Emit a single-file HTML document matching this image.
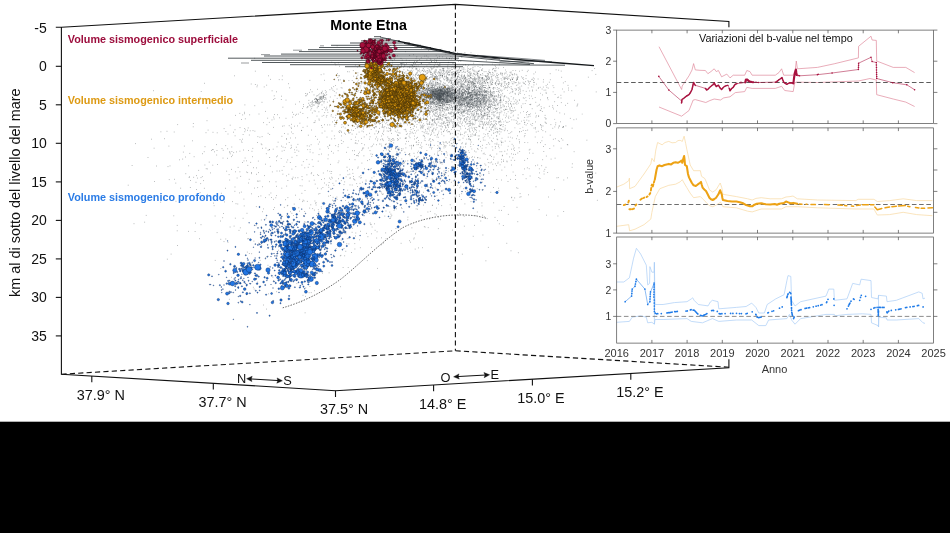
<!DOCTYPE html>
<html lang="it"><head><meta charset="utf-8"><title>Monte Etna - volumi sismogenici e b-value</title>
<style>html,body{margin:0;padding:0;background:#fff}body{width:950px;height:533px;overflow:hidden}svg{display:block}</style>
</head><body>
<svg width="950" height="533" viewBox="0 0 950 533">
<rect width="950" height="533" fill="#fff"/>
<path d="M441.4 90.9h0M443.5 97.3h0M439.3 85.7h0M432.5 99.9h0M437.1 92.5h0M432.4 90.7h0M441.4 96.6h0M452.6 100.7h0M436.5 96.1h0M435 99.2h0M445.3 96h0M443.7 100.8h0M441.5 100.7h0M432.7 93.8h0M440.2 101.4h0M447.2 96.3h0M428.9 94.3h0M437.3 90.5h0M424.1 92.2h0M429.1 97.5h0M425 87.7h0M438.6 97.7h0M429.5 95.6h0M443.3 96.5h0M443.3 85.2h0M439.4 94.4h0M418.2 95.9h0M436.5 91.2h0M440.5 95.4h0M442.9 84.4h0M427 96.8h0M437 91.7h0M431.9 98.1h0M434.5 86.1h0M450.2 98.9h0M433.9 93.3h0M440.4 98.6h0M449.3 91.5h0M436 91.8h0M439.1 105h0M442.3 91.4h0M441.8 91.9h0M430.1 92.8h0M442.1 90.5h0M452.7 101.4h0M426.5 101.5h0M449 92.5h0M442.7 87.4h0M434.8 99.8h0M458.5 101.5h0M447.5 99.3h0M429.8 99.2h0M442 91.2h0M446.2 94.7h0M439.9 88.6h0M447.7 89.2h0M440 99.3h0M447.2 92.5h0M453 106.3h0M434.9 94.8h0M443.1 92.3h0M436.5 98.2h0M441.4 103.2h0M430.2 96.2h0M436.3 89.1h0M439.1 96.5h0M448.5 101.9h0M451.5 93.7h0M429.4 90.5h0M433.5 98.9h0M446.7 96.1h0M423.6 88.5h0M437 92.9h0M440.4 91.5h0M452.2 97.3h0M447.1 96h0M437.6 99.9h0M437.4 97.9h0M439.4 87.8h0M454.5 98h0M436.8 98.7h0M438.1 96.8h0M443.8 99.9h0M440.1 92.4h0M439.6 90.6h0M430.6 98.3h0M441.3 90.2h0M437.9 85h0M451.1 100.5h0M447.1 92.3h0M440.9 93.6h0M447.5 89.3h0M438.5 88.8h0M450.9 90.6h0M441.1 93.4h0M446.1 97.1h0M430.3 83.7h0M443.8 98.6h0M426.3 88.4h0M423.2 88.6h0M438 97.8h0M433 94h0M443.1 88.2h0M460.4 105h0M433.9 90.5h0M435.3 95.6h0M442.8 96.1h0M444.9 101.7h0M439.6 92.8h0M438.8 99.4h0M447.6 92.2h0M445.2 100.4h0M432 90.8h0M440.4 93.3h0M440.6 103.5h0M431.4 95.6h0M443.3 95.7h0M432.4 104.4h0M449.6 97.4h0M443 91.5h0M441.5 98.4h0M436.2 89.2h0M439.5 100h0M422.6 98.8h0M431.1 91.5h0M444.5 92.5h0M421.8 94.1h0M448.6 95.7h0M425.7 89.2h0M447.6 98.1h0M434.2 85.2h0M448.2 93.7h0M442.3 93.3h0M427.3 92.6h0M452.1 97.4h0M454.4 90.6h0M440.2 97.6h0M438.6 94h0M439.8 92h0M432.8 88.1h0M451.3 90.6h0M436 96.2h0M440.9 90.6h0M433.9 94.7h0M435 99.3h0M429.1 98.6h0M451.7 103h0M439.7 93.6h0M450.1 90.9h0M440.7 99.6h0M434.7 95.8h0M437.6 99.8h0M436 94.6h0M440.6 100.4h0M437.3 98.5h0M438 98h0M428.4 96.2h0M433.6 96.1h0M455.7 97.3h0M434.9 95.5h0M431.2 98.6h0M444.2 93h0M452.9 103.9h0M428 93.4h0M438.7 99.3h0M435.4 94.1h0M425.3 92.5h0M446.8 104.7h0M440.9 93.6h0M442.1 89.3h0M434.5 91.2h0M445.2 93.9h0M435.3 104.2h0M439.6 95.8h0M430.7 98.3h0M430.5 89.6h0M452.8 97.6h0M436.2 97.6h0M442.9 103.3h0M441 91.9h0M436.8 97.4h0M436.3 96h0M447 90.9h0M438.3 94.7h0M439.7 93.7h0M442.1 84.6h0M451.3 98.6h0M446.9 98h0M444.6 93.3h0M436.5 88.6h0M428 100.6h0M449.4 96.9h0M449.3 100.3h0M439.2 101.2h0M446.1 93.1h0M447.7 99.3h0M448.5 94.6h0M449.3 95.4h0M436.9 94.3h0M454.6 96.2h0M429.4 99h0M448.7 96.2h0M445.5 94.7h0M448.9 94.4h0M457.7 98h0M454.7 92.2h0M430.9 91.8h0M425.9 93.4h0M448.5 93.1h0M431.9 93.7h0M441.1 92.3h0M447.7 104.6h0M425.7 99.7h0M421.9 95.4h0M443.3 95h0M440.5 104.9h0M438.7 96.3h0M441.4 94.6h0M433.2 95.7h0M427.3 95.2h0M439 101.2h0M432.3 94.2h0M425.4 103.1h0M445.9 91.4h0M440.2 98.1h0M445 90.8h0M431.4 102.4h0M435.2 93h0M432.1 94h0M432.7 98.4h0M442.3 100.8h0M434.4 89.4h0M444.3 93.7h0M444.6 89h0M459.1 97.2h0M428.6 93.5h0M449.1 94.1h0M440.5 91.9h0M441 93.3h0M428.3 90.5h0M436.7 97h0M447.1 102.4h0M441 86.3h0M441.8 94.5h0M438.6 92.9h0M451.2 98.1h0M441.2 90.7h0M421.3 92.6h0M435.2 89.8h0M423.1 96.6h0M411.8 92.9h0M436.3 93.9h0M452.8 97.7h0M441.5 93.9h0M431.1 87.1h0M432.3 96.9h0M451 97.2h0M442.5 94.4h0M441 99.5h0M440 100.4h0M441.8 90.1h0M448.5 92.1h0M445.3 102.4h0M442.4 101.5h0M431.9 90.9h0M446 90.1h0M435.1 91.6h0M451 93.6h0M430.2 86.9h0M439.8 95h0M441.4 89.3h0M429.6 88.5h0M456.1 100.5h0M454.4 93.1h0M436.9 94.3h0M447.7 98.4h0M444.1 98.9h0M417.7 91.4h0M443.2 95.4h0M440.8 91.3h0M441.1 102.9h0M431.1 97.1h0M439 89.8h0M439.4 94.9h0M451.4 99.1h0M443.8 97.4h0M440.2 103.2h0M454.2 102.4h0M436.2 92.1h0M437.5 94.3h0M425.2 87.8h0M455 97.3h0M449.6 96.4h0M448.2 107.8h0M447 96h0M442.8 85.7h0M443.2 92.2h0M438.7 95.3h0M439.7 89.2h0M441.8 91.2h0M454.7 94.5h0M445.8 97h0M440.5 94.2h0M436.2 90.6h0M435 98h0M455.6 93.8h0M445.7 93.2h0M442.1 88.9h0M438.2 91.2h0M430.8 97.1h0M441 87.7h0M448.9 95.4h0M437.2 97.9h0M439.1 93.1h0M438.9 95.9h0M442.4 90.1h0M426.2 99.6h0M438.5 99.8h0M433.2 95.4h0M449.6 87.8h0M434.5 89.7h0M445.8 99.8h0M454 103.9h0M438.1 96.1h0M435.1 100.1h0M443 92.4h0M441.1 94.1h0M432.1 94.2h0M445 97.3h0M459.7 89.7h0M438.3 99h0M438.7 100.8h0M432.1 89h0M444.4 89.2h0M429.7 95.6h0M431.3 91.2h0M453.4 85.4h0M432.6 97.9h0M450.6 96.5h0M454.9 94.1h0M442.5 104.7h0M445.9 96.1h0M458.8 93.2h0M439.2 95.3h0M436.1 89.9h0M429.2 90.5h0M441.2 96.8h0M454.5 93.7h0M449.8 93.7h0M431.9 101.7h0M433 98.2h0M436.2 98.2h0M443.4 97.6h0M439 97h0M442.4 101.7h0M443.7 95.1h0M437.6 103.1h0M441 90.7h0M443 94h0M440.8 88.8h0M445.6 93.9h0M457.6 98.8h0M445.7 102h0M441.8 92.1h0M425.9 93.7h0M444.6 93.7h0M423.8 90.2h0M428.8 88.6h0M448.6 95.9h0M448 87.8h0M439.6 95.4h0M425.7 93.8h0M437.9 91.8h0M435.3 89.9h0M447.3 89.3h0M460.5 105.2h0M443.5 89.2h0M433.4 101.4h0M430.3 96.8h0M440.6 93.3h0M439.9 89.7h0M430.3 98.8h0M441.4 102.8h0M431 89.9h0M451.1 94.5h0M450.1 100.5h0M450.6 97.4h0M436 103.6h0M445.8 92.8h0M439.6 97.3h0M438 89.1h0M437.1 104.1h0M429.6 90.7h0M428.9 84h0M448.2 95.1h0M439.3 94.2h0M442.2 103.8h0M450.1 94.3h0M425.5 93.6h0M433.7 97h0M441.9 102.2h0M444.5 95h0M437.2 99.4h0M450 98.1h0M443 93.8h0M430.1 94.4h0M432.6 94.4h0M448.6 91.5h0M444.7 100.8h0M424.5 87.3h0M452.6 101.3h0M446 99.7h0M453.1 95.6h0M437.9 91.3h0M438.4 93.8h0M430.7 96.2h0M463.5 100.3h0M439.3 96.1h0M454.8 100.7h0M435.4 92h0M442.4 96.2h0M426.6 86.7h0M437.3 98.1h0M449.8 96.5h0M429.9 92.2h0M450.2 101h0M443.8 98.4h0M432.7 81.6h0M436.5 94.8h0M437.5 88.1h0M440.1 99.7h0M435.2 105.7h0M433.8 92h0M438.2 95.1h0M431.9 93.1h0M429.3 95.6h0M440.3 97.9h0M448.4 101.5h0M427.7 89.4h0M440.4 102h0M435.5 90.3h0M432.1 95.5h0M448.2 100.9h0M436.1 97.8h0M454.8 92h0M434.3 91.2h0M444.6 93.2h0M439 94.6h0M433.8 99.6h0M446.8 89.7h0M439.4 97h0M446.2 98.2h0M440.4 97.5h0M431.1 96.2h0M439.5 101.7h0M441.3 97.2h0M449.3 99.6h0M432.7 96.8h0M439.9 103h0M426.3 85.1h0M446.3 101.3h0M431.4 93h0M424.9 92.3h0M440.8 90.6h0M451.6 87.5h0M427.5 92.1h0M431.5 91.1h0M434.1 96.6h0M431.5 87.5h0M443.8 101.7h0M433.7 95.6h0M434.6 93.3h0M446.5 92.3h0M434.5 90.9h0M445.3 90.3h0M432.5 91.8h0M430.1 94.1h0M424.6 92.8h0M458.2 90.1h0M438.2 93.6h0M443.5 91.2h0M440.7 95.7h0M441.7 103.5h0M441.2 97.8h0M458.2 95.1h0M432.3 86.9h0M427.6 87.4h0M432.6 86.6h0M428.7 97.2h0M448 92.2h0M448.3 95.9h0M432.6 91.5h0M428.5 94.3h0M437.3 101h0M453.7 93h0M415.9 91.3h0M446 91.8h0M431 98.1h0M450.7 91.2h0M431.8 89.1h0M439 88.6h0M428 87.5h0M432.1 96.3h0M452.4 107.6h0M448.7 91.2h0M437 99h0M433.1 95.4h0M424.5 88.6h0M437.6 93.5h0M440.8 93.9h0M440.5 91.8h0M439.4 103.6h0M431.7 85.6h0M440.3 96.7h0M440.5 96.5h0M452.8 93.4h0M457.7 97.1h0M439.4 98.8h0M434.1 95.1h0M440.3 96.8h0M435.3 97.6h0M435.1 85.3h0M439.9 101.6h0M430.8 104.4h0M446 99.9h0M439.7 99.5h0M443.8 88.9h0M439.4 94.3h0M434.8 90.8h0M432.7 91.6h0M438.5 99.1h0M436.4 91h0M443.1 94.6h0M441.7 86.4h0M428.8 93.2h0M441.6 95.5h0M429.2 90.8h0M435.8 91.3h0M437.6 103.2h0M422.9 87.9h0M442.2 90.4h0M442.7 91.5h0M439.1 100.3h0M436.4 104.1h0M437.5 96.2h0M432.5 91h0M438.7 92.9h0M435.6 99.3h0M442.2 91h0M429.6 100.6h0M442.6 101.5h0M442.3 95.4h0M439.5 97.8h0M436.8 98h0M445.3 102.4h0M426.5 89h0M444.7 100.7h0M443.3 93.5h0M443.8 91.8h0M444.4 95.8h0M435.2 93.5h0M439.1 90.4h0M447.3 88.3h0M445.2 91.1h0M442.3 101.7h0M426.7 102.6h0M445.6 98.3h0M451 101.2h0M450.3 93.5h0M443.1 94.8h0M426.9 95h0M449.9 90.9h0M440.1 90.4h0M418.3 93.4h0M444.5 93.9h0M428 89.1h0M429.2 95.7h0M435.4 93.3h0M452 100.6h0M437.7 94.7h0M443.5 93.9h0M456.6 96.9h0M455.4 95.5h0M440.3 91.9h0M439 93h0M429.4 97.4h0M434.5 97.4h0M444.3 101.1h0M445.2 87.7h0M442.1 93.3h0M450.1 93.9h0M434 95.2h0M440.7 92.9h0M447.8 93.3h0M445.9 99h0M450.5 96.6h0M445 90.1h0M437.7 100.7h0M443.9 99.8h0M432.2 91.6h0M426 97.4h0M446.5 92.2h0M440.1 100h0M443.9 94.3h0M426.1 90.1h0M437.9 93h0M435.9 91.1h0M433.2 95.2h0M420.7 94h0M438 94.9h0M449.3 93.2h0M445.9 78.9h0M435.6 94.9h0M441.6 86.5h0M447.7 96.7h0M415.8 97.9h0M439.8 96.1h0M446 93.7h0M447.2 94.7h0M456.3 95.7h0M451.4 93.4h0M444 92.6h0M444.1 91.1h0M447.6 100.9h0M436.2 94.5h0M440.3 99.3h0M449.2 94.6h0M458.5 96.9h0M439.6 94.1h0M440.4 97h0M442.5 98.9h0M452.9 97.1h0M441 92h0M454.5 92.7h0M431.7 101.7h0M439.4 93.6h0M439.3 93.5h0M447.5 102.2h0M449.9 100.7h0M427.3 96.2h0M433 92.5h0M443.1 105.8h0M434.9 96.2h0M427.1 96.3h0M450.4 95h0M446 89h0M445.9 89.4h0M436.6 96.5h0M450.1 97.6h0M438.9 93.7h0M451.3 90.6h0M433.4 87.8h0M433.5 92.9h0M443.4 88.6h0M434.4 98.5h0M446.6 100.7h0M442.2 107.9h0M432.4 98.2h0M441.9 92.4h0M438.2 90.8h0M450.6 80.2h0M435.6 91.8h0M437.1 93.9h0M451.5 100.3h0M460.8 99.5h0M458.7 99.2h0M441.5 96h0M442.7 98.1h0M454.2 102.7h0M440.3 90.1h0M432.4 92.2h0M442.6 88.9h0M444.4 102.6h0M433.1 100.2h0M425.9 97.1h0M428.6 88.5h0M446.9 96.3h0M434.3 93.4h0M439.7 95.3h0M443 94.3h0M446.3 97.8h0M438.2 93h0M445.1 99.2h0M432.9 95.4h0M437.9 93.4h0M431.9 93.7h0M451.3 93.9h0M440.4 98.6h0M434.5 93.2h0M437.7 96h0M439.2 93.1h0M447.9 88.9h0M426.3 97.8h0M432.1 89.4h0M437.3 97.7h0M463.5 98.9h0M450.2 88.3h0M440.4 90.7h0M447.6 93.3h0M459.8 92.9h0M439.4 89.5h0M437.4 98h0M452 94.9h0M445.3 97.1h0M447.2 93.6h0M436.3 96h0M458.5 93.1h0M456.3 96.2h0M445.8 98.1h0M447.1 95.7h0M423 91.4h0M447.1 90.6h0M439.2 95.6h0M444.8 96.9h0M447.2 94.4h0M438.2 91.3h0M425.6 96.1h0M443.3 106.4h0M434.5 93.1h0M437.9 96.3h0M435.4 96.2h0M438.9 83.2h0M420.2 93.7h0M452.2 92.8h0M442.7 101.4h0M451.1 94.7h0M459.1 93.1h0M441.3 94h0M424.8 94.3h0M433.2 91.8h0M430.2 93.8h0M437 88.5h0M441.8 94.1h0M422.7 96.9h0M443.3 104.1h0M427.2 97h0M443.6 96.5h0M439.6 100.2h0M437.8 99.3h0M439.7 102.4h0M435.7 99.4h0M435.6 94h0M425.8 94.8h0M440.7 95.8h0M457.4 97.8h0M458.7 97.5h0M453.2 92.5h0M448.2 86.1h0M435.2 91.5h0M454.7 87h0M440.5 95.3h0M440.4 95h0M439 87.3h0M441.6 98.2h0M436.8 98.5h0M440.2 95.4h0M430.6 101.6h0M436.9 103.1h0M461.9 91.4h0M440 99.6h0M438.7 96.8h0M445.6 97.3h0M447 99.7h0M431.3 90.9h0M439.4 92.2h0M449.6 92h0M443.7 91.8h0M442.1 94.7h0M455.5 89.7h0M435.3 89.8h0M441.5 97.7h0M436.4 94.3h0M454.2 97.9h0M424.2 85h0M435.3 91h0M436.5 92.1h0M446.9 95.7h0M446.7 92.8h0M453.1 100.3h0M426.9 93.5h0M447.7 95.7h0M438.4 94.8h0M434.8 97.7h0M446 93.3h0M432.3 99.3h0M422.2 95.4h0M437.6 95.4h0M427.6 94h0M435 96.8h0M443.9 99.8h0M443.4 99.5h0M455.1 97.9h0M438.9 98.8h0M427.2 94.3h0M433.7 100h0M432.8 94.2h0M430.9 84.7h0M444.4 101.3h0M435.2 95h0M423.7 88.2h0M447.3 94.7h0M440.3 91h0M443.4 104.7h0M441.8 97.3h0M447.3 88.5h0M441.1 97.5h0M452.2 94.2h0M444.1 103.9h0M444.9 90.6h0M445.6 85.2h0M427.9 94.2h0M439.7 93.3h0M438.8 92.9h0M443.7 85.6h0M428.7 95.8h0M455 103.8h0M442.7 86.5h0M429.7 99.3h0M425.9 91.1h0M437.6 105.3h0M440 96.9h0M434.6 93.6h0M441.4 100h0M435 96.9h0M446.2 92.8h0M434.2 97.6h0M440.9 92.7h0M450.5 87.8h0M463.3 106.1h0M432.1 92.6h0M437.1 91.9h0M433.3 95.9h0M448.6 88.6h0M431.2 88h0M436.9 92.4h0M440.9 92.6h0M432.2 94.6h0M432 99.3h0M436.9 92.5h0M422 95.6h0M427.8 96.6h0M437.7 89.8h0M442.2 96.1h0M439.7 90.6h0M424.7 98.4h0M436.7 96.7h0M448.2 95.7h0M446.5 89.4h0M440.2 95.5h0M433.3 90.9h0M446.4 98.7h0M435.9 94h0M430.8 90.4h0M433.4 98.5h0M453.7 99.4h0M443.2 92.5h0M450.9 101.1h0M436.8 93.3h0M449.5 94.3h0M435.6 95.1h0M439.9 91.5h0M463.5 95h0M447.9 94.9h0M435.9 101.5h0M439.7 101.7h0M444 94.1h0M451.2 103.2h0M436.6 94.4h0M425.2 95.3h0M438.1 98.7h0M441 96.3h0M441 105.9h0M452.7 97.1h0M444.3 89.9h0M447.8 101.5h0M431.3 92.3h0M448.9 94.3h0M461 83.2h0M447.5 100.1h0M443 98.9h0M442.1 98.7h0M456.6 100.8h0M432 101.9h0M440 94.7h0M444.8 99.6h0M448 92.2h0M437.2 93.1h0M443.3 100h0M438.4 96.5h0M442.6 89.1h0M439.7 96.5h0M430.8 93.3h0M441.1 91.3h0M448.7 97.6h0M432.5 92.4h0M439.5 87.8h0M447.4 90.5h0M430.7 102.1h0M443.2 88.4h0M431.4 95.2h0M450.9 98.6h0M461.5 99.7h0M459.6 91.1h0M439.2 93.4h0M447.6 96.2h0M441.8 98.7h0M442.2 92.2h0M455.3 91h0M428.8 98.5h0M450 100.8h0M440.4 96.6h0M453.9 93.4h0M442.5 97h0M434.9 95h0M443.2 99h0M448.1 90h0M441.3 95.5h0M445.4 94.7h0M436.8 89.6h0M421.8 94.3h0M449.1 95.9h0M447.4 93.7h0M442.2 96.9h0M442.2 88.7h0M450.3 95.6h0M436.7 96.6h0M434.6 95.7h0M438.9 99.7h0M452.1 90.5h0M429.2 87.2h0M451.6 97h0M435.1 96.5h0M430.3 103.6h0M452.1 98.8h0M440.5 91h0M429 97.6h0M438.1 90.9h0M449.9 89.1h0M450.7 107.6h0M437 96.1h0M444.4 98.5h0M447.2 98.1h0M434.5 102.6h0M444.1 96.6h0M440.2 100.4h0M436.6 90h0M437.1 88.4h0M441 101.4h0M440.7 101.6h0M435.7 96.8h0M437.1 95.7h0M450.9 96.6h0M443.2 92.1h0M448.3 102.6h0M451.5 98.9h0M446.1 97.7h0M461.2 98.5h0M433.2 99.1h0M448 97.9h0M437.9 98.1h0M458.1 91.2h0M456 98.6h0M422.6 103.3h0M432.5 91.9h0M447 94.9h0M447.7 99.6h0M447.2 99.9h0M440.1 97.7h0M445.7 88.1h0M446.7 97.8h0M440.8 89.6h0M450.5 92.1h0M420.5 95.7h0M446.8 94.2h0M431.4 97.8h0M448.4 109.9h0M438.6 98.3h0M432.7 97.5h0M444.7 91.3h0M433.1 91.4h0M433.2 89.5h0M427.2 91.4h0M441.2 90.1h0M445.7 92.4h0M450.3 94.9h0M440.1 90.4h0M451 89.5h0M441.7 88.9h0M440 97h0M446.1 95.7h0M450.1 100.4h0M437.5 99.4h0M438.9 93.3h0M439.3 97.9h0M442.3 88.6h0M432 104.5h0M449.7 101.2h0M437.5 93.7h0M445.6 90.1h0M433.4 96.1h0M445 86.9h0M444.8 91.8h0M436.9 98h0M459.1 96.9h0M444.5 93.1h0M456.6 100.7h0M450 91.1h0M435 95.8h0M437.8 92.5h0M445.2 91.5h0M441.4 97.1h0M441.8 90.6h0M437.7 103.3h0M425 91h0M438.2 103.7h0M421.5 88.4h0M444.1 98h0M435 89.1h0M435.1 88.4h0M439 95.5h0M443.2 98.3h0M428.7 88.2h0M424.9 98.9h0M431.8 90.6h0M422.6 94h0M432.2 95.9h0M455 98.9h0M432.2 86.1h0M446.2 102.8h0M428.5 96.4h0M443.8 93.3h0M438.5 90.2h0M441.1 87.4h0M446.6 89.3h0M456.5 98.8h0M442.9 93.6h0M442.6 90h0M432.5 91.9h0M445.6 102.5h0M438.9 93.3h0M448.7 93h0M440.1 101h0M456.4 98.4h0M423.2 93.6h0M438.6 92h0M449.5 88.7h0M438.3 89.5h0M434.1 92.2h0M438.7 93.8h0M428.5 95.5h0M441.9 97.6h0M462.8 97.9h0M451.2 96.9h0M431.5 89.6h0M434 84.7h0M437.6 92.3h0M450.4 91.5h0M433.9 91.4h0M434.9 93.2h0M449.4 90.1h0M449.2 90.7h0M437.7 94.3h0M430.9 94.6h0M427.4 90.8h0M434.5 96.7h0M421.1 92.3h0M448.1 91h0M435.3 94.7h0M444.6 103.8h0M458 93.4h0M451.1 101.1h0M430.1 100.3h0M448.2 102.4h0M451.7 92.2h0M433.5 103.4h0M432.4 94.8h0M440.1 93.8h0M426.7 92.7h0M454 98.9h0M419.4 93.3h0M431.1 93.3h0M438.1 100.5h0M439.2 91.6h0M442.9 90.5h0M443.1 98.8h0M438.8 98h0M450.8 100.8h0M422.2 88.5h0M440.6 99.8h0M434.4 96.6h0M441.5 103h0M443.5 89.6h0M432.7 95.3h0M435.4 93.3h0M448.7 88.5h0M444.4 92.1h0M434.5 99.5h0M459.5 94.5h0M462 93.6h0M427.5 97.7h0M443.3 99.7h0M463.1 101.4h0M448.3 92.1h0M443 94.9h0M438.7 99.5h0M436.4 91.6h0M439.4 91.5h0M435.7 98.3h0M447.1 102.6h0M437.9 89.5h0M438.1 83h0M430.8 87.6h0M441 90.4h0M433 93.7h0M439.1 97.6h0M450.4 95.2h0M444.6 92.1h0M445.5 96.1h0M444.6 91h0M441.5 94.8h0M440.1 92h0M437.2 106.8h0M447.5 99.3h0M431.6 90.4h0M453.4 91.6h0M441.5 93.1h0M434.9 87h0M436.9 91.3h0M435.2 91.2h0M442.1 99.1h0M434.7 92.5h0M451.6 92.4h0M434.5 88.4h0M421.1 87.9h0M434.5 94.1h0M423.1 92.5h0M440.2 100.1h0M450.7 93h0M446.4 100.3h0M428.9 95.1h0M434.2 94.4h0M457.7 87.4h0M444.4 89.5h0M440.7 98.3h0M449.9 102.1h0M462.9 97.8h0M452.3 99.4h0M442.4 93.3h0M444.3 93.6h0M446.8 92.5h0M435.1 98.9h0M431.4 95.7h0M441.6 94h0M432.6 92.8h0M440.2 97.4h0M441.7 96.5h0M462.3 93.1h0M432.7 102h0M439.8 96.1h0M439.5 94.9h0M444.3 102h0M450 100.4h0M436.6 94.2h0M433.4 96.8h0M426.7 88.9h0M432.9 91.4h0M446.7 85.3h0M440.9 100.5h0M432.6 85.7h0M437.4 97.8h0M441.6 91.3h0M445.9 91h0M435.8 93.7h0M438.7 96h0M424.5 96.3h0M430 102h0M455.4 97.9h0M421 97.2h0M438.2 92.1h0M442.7 98.4h0M437.6 95.4h0M433.9 92.3h0M440.5 94.5h0M441 94.7h0M440.2 95.8h0M424 95.3h0M439.9 92.6h0M433.6 91h0M435.8 97.9h0M443.7 87.6h0M447 92.7h0M448.4 102.7h0M437.6 82.5h0M449.6 92.6h0M451.3 99h0M451.8 88.5h0M452.4 107.7h0M440.7 83.3h0M438.9 101.3h0M447.8 102.6h0M428.4 98h0M443 94.2h0M436.1 96.2h0M438 90.7h0M425.1 97.3h0M433.5 89.3h0M440.9 93.8h0M448.6 100.2h0M450.3 90.8h0M440.4 93.3h0M439.2 95.6h0M434.1 88.3h0M444.2 100.5h0M438.6 96.3h0M447 88.7h0M456.7 96.2h0M441 91.5h0M427.8 90.9h0M433.3 94.7h0M428.2 90.7h0M429.9 98.4h0M453 92.9h0M442.6 99.6h0M427.4 93.6h0M446.5 99.3h0M452.5 93.6h0M438 92.5h0M435.4 89.3h0M437.7 97.3h0M443.2 99.4h0M445.9 105h0M451.1 101.7h0M451.8 97.1h0M451.7 95h0M453.1 97.8h0M446.9 95.4h0M426.7 100.4h0M439.5 99.1h0M444.1 91.5h0M437.8 91.6h0M448.6 101.8h0M437.6 96.1h0M432.8 93.2h0M453.5 101.5h0M447.1 93.8h0M443.1 93.9h0M449.5 93.7h0M451.3 87h0M443.7 99.1h0M419.4 87.7h0M435.2 91.9h0M437.2 91.3h0M431.9 97.5h0M442.8 94.8h0M451.7 96h0M437.3 87.1h0M430.9 93.7h0M459.8 90h0M436.8 96h0M429.8 95.7h0M443.1 95.1h0M444 104.5h0M434.5 96.8h0M447.9 98.3h0M436.6 95.3h0M432.8 93.4h0M442.2 99.5h0M447.5 100.5h0M435.8 88.7h0M443.6 100h0M440 97.2h0M465.9 101.5h0M434.5 96.5h0M453.9 90.5h0M441 89.7h0M439.1 103.1h0M447.4 96.7h0M449.6 89.3h0M452.2 97.6h0M444.1 93.6h0M436.3 86.3h0M437.1 84.3h0M446.2 88.2h0M446.1 96.7h0M453.6 95.9h0M444.8 94.2h0M450.4 97.1h0M454.4 98.9h0M443.3 85.7h0M427.8 92.5h0M430.8 90.4h0M428.6 88.3h0M455.5 93.8h0M433.5 93.8h0M452.1 94.8h0M446.8 88.9h0M456.6 94.2h0M449.2 104.8h0M440.5 90.2h0M439.9 87.3h0M441.7 96.3h0M442.3 97.8h0M436.1 96.7h0M441.1 90h0M455 100.7h0M426 90.1h0M443.8 90.1h0M433.1 91.6h0M442.7 94.7h0M448.2 98.9h0M440.2 97.8h0M447.9 95.5h0M426.4 97.9h0M450.9 96.2h0M435.2 98.5h0M447.1 89.2h0M443.3 88.1h0M417.5 96.4h0M434.8 88.2h0M443.1 93.8h0M455 95.8h0M443.8 93h0M443.5 93.2h0M427.8 100.1h0M454.8 84.8h0M456.9 100.4h0M440.4 105.3h0M439 94.9h0M426.5 93.6h0M448.6 98.9h0M464.5 105.3h0M447.9 90.2h0M452.3 96.4h0M445.9 94.6h0M431.9 96.7h0M452.9 96.8h0M429.7 97h0M439.3 92.9h0M443.5 95.4h0M449.2 92.7h0M445 92.3h0M444.5 94.7h0M434.2 93.8h0M429.9 88.7h0M440.9 102.1h0M434.7 93.8h0M429.8 87.8h0M429.2 98.9h0M436.9 91.3h0M424.2 95.8h0M428.9 93.9h0M426.2 94.8h0M442.6 95.9h0M444.9 92.7h0M459 96.8h0M426.8 102.9h0M435.8 84.4h0M449.2 96h0M438.9 96.8h0M438.5 90h0M456.9 90.2h0M437.1 104.4h0M430.8 92.4h0M428.4 103.3h0M443.8 97.7h0M443.7 95.6h0M428.5 96.1h0M431.9 97.1h0M445.3 100.7h0M446 97.4h0M435.2 95.1h0M446.5 96.3h0M445.6 101.5h0M424.7 97.3h0M438.6 90.3h0M445 92.5h0M435.7 96h0M422.1 90.5h0M438.6 93.1h0M448.1 91.3h0M455.3 95.1h0M421.2 95.2h0M464 101.5h0M430.9 94.2h0M448.8 105.1h0M452.1 95.6h0M448.6 110.1h0M441.9 99.6h0M430.4 96.3h0M446.8 93.3h0M435.7 81.8h0M418.4 92.3h0M466.3 98h0M446.6 104.2h0M457.8 90.2h0M432.1 102.8h0M454.3 95h0M455 99.5h0M455.9 84.8h0M440.8 95.6h0M430.4 92.5h0M439.1 97.9h0M421.2 93.7h0M426.2 88.5h0M441.5 99.3h0M431.8 97.3h0M439.3 97.5h0M439.6 99.4h0M457.9 101.4h0M452.6 95.9h0M441.1 88.9h0M452.4 89.7h0M433.5 100.4h0M437.7 97.9h0M449.1 96.2h0M430 92.1h0M438.5 94.9h0M429.1 94.1h0M442.2 93.6h0M455.9 93.1h0M433.4 104.1h0M442.9 96.2h0M433.2 91.6h0M431.2 88.3h0M430.2 90.8h0M453.8 99.4h0M461.9 100.3h0M445.4 94.4h0M434.6 94.7h0M447.4 94.2h0M438.4 89.8h0M447.7 101.5h0M443.5 96.9h0M442.5 106.3h0M446.7 92.1h0M435.9 93.9h0M437 98.6h0M425.7 92.6h0M437.6 88.4h0M428.6 89.6h0M439.7 95.3h0M432.3 95.8h0M441.9 94.7h0M444.7 99.9h0M427.9 98.3h0M433.6 95.8h0M432.5 94.4h0M447.8 94.5h0M456.1 98.8h0M448.3 99.8h0M437.8 95h0M454 98.2h0M427.6 92.4h0M455 89.8h0M435.5 90h0M415.8 96.3h0M464.6 99.1h0M454.5 103.4h0M431.7 94.4h0M442.2 99h0M438.6 100.8h0M441.5 99.5h0M427.9 91.1h0M435 93.6h0M445.1 95.9h0M443.4 90.8h0M451.6 98.1h0M441.3 99.7h0M462.3 94.7h0M433.8 103.3h0M443.4 93.9h0M423.9 92.6h0M429.9 92.9h0M453.2 92.9h0M432.4 96.1h0M445.8 95.5h0M439.8 102.4h0M431.4 96.9h0M437.7 97.1h0M436.5 93.6h0M437.2 88.3h0M447.8 95.2h0M447.2 91.7h0M435.4 98.8h0M432.9 94.2h0M442.9 102.7h0M439.8 98.2h0M449.9 99.6h0M464.7 98.1h0M448.5 96.6h0M440.4 97.9h0M439.1 99h0M433.6 91.1h0M432.7 96.5h0M431 106h0M437.5 94.3h0M437.3 93.5h0M447.9 92.5h0M438 88.2h0M438.8 100.2h0M430.1 94.3h0M455.6 97.6h0M444.8 103.7h0M456.1 107.7h0M448.5 91.6h0M453.9 100.9h0M438.5 97.6h0M447.3 97.4h0M465.1 99.3h0M430 93.9h0M450.9 103.1h0M456 99.1h0M444.6 96.9h0M447.4 101.2h0M452.1 100h0M434.8 96.5h0M444.6 96.8h0M432.3 102.2h0M434.6 96.8h0M435.4 94.1h0M440 91.1h0M442.5 93.6h0M445.6 90.7h0M427.9 94.4h0M459.1 97.8h0M452.4 86.7h0M447.7 95.7h0M437.5 97.6h0M440.1 95.7h0M446.4 91.2h0M444.3 101h0M425.8 90.5h0M448.3 90.1h0M468.2 92.5h0M424 93.5h0M449.8 100.2h0M443.9 100.5h0M439.9 95.9h0M454.1 90.8h0M430.4 91.1h0M442.8 91.1h0M454.5 95.4h0M439.9 86.9h0M437.1 95.2h0M441.8 98h0M437 94h0M455.1 98.3h0M433 90.1h0M449.6 89.2h0M429.7 91.1h0M446.7 100.7h0M439.6 99.5h0M417.4 90.9h0M440.5 100.4h0M431.3 92.7h0M436.3 101.4h0M455 98.4h0M430.9 92.1h0M430.9 97.7h0M454.6 92.7h0M442.4 90.9h0M455.8 89.7h0M443.9 96.4h0M432.9 94.1h0M440.4 94.6h0M452.5 94.2h0M449.1 102.2h0M441.2 93.1h0M441.7 91.8h0M439.5 100.5h0M435.1 100.9h0M458.7 98.1h0M441.7 87.2h0M430.8 91.4h0M436.4 97.4h0M447.7 95.7h0M446.3 102.5h0M440.3 88.8h0M434.6 97.5h0M441.5 92.2h0M425.1 99.6h0M429 93.6h0M448 100.3h0M436.8 91.7h0M445 89h0M452.7 91h0M447.2 92.8h0M441.6 90.4h0M460.1 102.1h0M446.6 101.5h0M437.6 95.9h0M448.2 91h0M444.8 94.8h0M433.4 91.2h0M441.1 101.6h0M439.4 96.3h0M422.7 95.6h0M439.6 93.1h0M439.2 85.8h0M437.3 91.2h0M426.3 88.7h0M437.6 96.4h0M440.6 95.4h0M442.3 91.5h0M430.7 92.3h0M446.2 102.5h0M430.2 89.7h0M439.3 90.7h0M453.1 95h0M434.9 91.3h0M436.5 92.7h0M450.7 98.2h0M436.8 102.5h0M439 86.8h0M443 95.1h0M450.7 96h0M420.7 92.8h0M433.4 93.5h0M431.9 92.7h0M430.6 98.6h0M433.3 92.2h0M433.3 93.8h0M443.8 95.2h0M432.8 94.8h0M442.2 94.3h0M444.3 99.8h0M434.3 94.4h0M442.1 95.9h0M456.1 96.1h0M444.4 90.8h0M435.5 90.8h0M440.8 90.2h0M432.5 95.1h0M443.8 92h0M449.3 90.9h0M433.4 95.4h0M438.9 97.2h0M451.9 88h0M435.8 102.2h0M442.7 95.3h0M431.7 93.7h0M433.1 99.1h0M436.3 94.9h0M460.7 94h0M436.5 104.5h0M436.7 89.8h0M436 94.1h0M439.2 98.7h0M447.3 90.7h0M442.7 94.7h0M459.3 98.3h0M442 105.9h0M454.3 92.1h0M443.5 95h0M446.2 98.4h0M428 94.2h0M440.3 89.5h0M440.2 96.8h0M438.8 95.3h0M421.5 95.3h0M448.5 100.8h0M437.1 99.2h0M436.9 96.5h0M438.6 96.2h0M439.4 89.9h0M444.7 94.7h0M429.5 95h0M432.8 92.5h0M443.6 95.7h0M442.6 91.4h0M437 101.6h0M435 104.2h0M433.7 92.6h0M440.3 96.7h0M451.7 94.9h0M431 99.8h0M454.5 98.1h0M448.5 96h0M437 93.6h0M448 96.2h0M428.2 89.4h0M425.2 96.7h0M429.7 90.8h0M437.1 97.1h0M438 95.3h0M436 99.5h0M441.9 95h0M421.5 97.9h0M445.8 91.3h0M428 96.6h0M435.2 93.5h0M437.2 95.5h0M430.6 94.4h0M428.3 98.1h0M432.8 85.2h0M440.8 96.4h0M446.9 88.8h0M445.6 100.9h0M432.9 85.4h0M434.3 89.9h0M452.9 96.6h0M493.6 87.6h0M458.2 89.2h0M475.3 86.4h0M467.6 85.5h0M452 89.3h0M469.7 88.4h0M480.6 101.6h0M470.3 102.8h0M484.4 95.7h0M469.5 87.3h0M472.6 103.1h0M469.8 80h0M478.5 81.5h0M495.2 104.4h0M476.9 102.3h0M474.7 104.6h0M465.8 94.3h0M464.9 85.8h0M490.9 94.1h0M459.3 100h0M462.7 89.6h0M472.4 90.9h0M468.9 85h0M497.2 89.4h0M444.2 100.9h0M477 100.7h0M482.4 88.1h0M460.4 86.8h0M465.7 91.5h0M477.8 101.5h0M493.3 89h0M462.1 94.3h0M455.7 77.8h0M485.5 87.6h0M491 101.6h0M468.4 103.5h0M447.4 85.1h0M490.9 92h0M470.1 102.8h0M486.7 94.7h0M472.9 92.3h0M468.2 100.4h0M467.5 97.7h0M489.9 107.1h0M489.6 104.5h0M447.9 89.8h0M461.9 94.7h0M494.3 98h0M469.6 85.4h0M457.4 87.4h0M472.4 104.4h0M472.8 83.8h0M471.2 104.5h0M467.1 98.4h0M469.4 95.2h0M467.2 100.5h0M476.7 100.8h0M462.5 105.5h0M469.8 93.2h0M471.5 94.7h0M488.8 96.1h0M476.2 112.1h0M471.1 104.1h0M480.1 89.8h0M478.1 94.4h0M486.5 92.2h0M479.1 97.3h0M494.3 100.3h0M487.5 116.4h0M473.8 82h0M467.4 104.5h0M483.3 101.1h0M479.7 91.6h0M472 95.4h0M455.7 91.2h0M451.1 95.2h0M476.5 105.1h0M483.3 85.4h0M481.7 108h0M457.9 92.4h0M484.4 109.8h0M466.4 99.4h0M476.8 107h0M477.6 101.7h0M462.7 104.5h0M465.9 96.5h0M448.8 87.9h0M461.6 101.1h0M451 100.5h0M476.8 113.9h0M475.2 80.8h0M484.1 96.1h0M476.5 105.6h0M466.3 86h0M477.3 95.3h0M466.9 113.2h0M479.3 108.7h0M477.4 90h0M460.2 107.1h0M472.2 106.2h0M473.1 103h0M469.1 99.5h0M483.6 99.6h0M494.1 91.6h0M469 92.2h0M468.3 102.2h0M446 95.5h0M470.2 111.4h0M468 93.6h0M448.9 75.3h0M476.7 94.4h0M479.9 99.6h0M464 99.1h0M468.5 96.9h0M462 89.2h0M481.1 109.5h0M455.3 89.9h0M468.8 102.1h0M496.5 96.5h0M474.5 87.3h0M477.6 108.6h0M473 76.6h0M459.6 88.8h0M472.3 100.2h0M478.1 94.4h0M460.3 101.7h0M477.2 96.4h0M488.2 94.5h0M484.3 115.2h0M454.2 93.4h0M461.5 94.5h0M454.5 86.5h0M486.3 92h0M479.9 102.6h0M481 102.1h0M462.5 95.9h0M459.6 90h0M473.5 102.4h0M475.4 83.4h0M463 93.2h0M474.9 95h0M481.3 90.8h0M475.6 98.3h0M461.1 90.4h0M448.3 88.2h0M468.7 111h0M474.5 102.9h0M469.1 106.2h0M467.9 96.8h0M464.1 103.8h0M481 103.9h0M471.5 106.5h0M472.8 115.9h0M461.6 94.1h0M465.4 98.3h0M475 96.7h0M463.4 67.8h0M458.9 84.5h0M469.1 96.7h0M486.9 103.2h0M475.7 92.5h0M489.7 107.5h0M470.5 107h0M469.6 93.3h0M455.4 106.8h0M464.9 110.3h0M489.8 102.2h0M477.6 89.5h0M480.7 109.4h0M481.5 96.4h0M473.2 94h0M470.5 97.7h0M474.8 92.8h0M480.3 106.2h0M477.9 103.7h0M478 107.2h0M474.4 101.8h0M464.4 89.9h0M470 95.5h0M461.1 103h0M485.3 94.8h0M445.8 118.1h0M470.6 94.8h0M501.9 94.8h0M468.1 105.8h0M458.9 101.8h0M472.8 96.8h0M488.6 96.5h0M470.8 100.2h0M479.7 104.3h0M473.7 103.2h0M468.8 94.2h0M510.4 103.7h0M473.3 103.8h0M466 102.5h0M469.3 71.9h0M478.2 90.3h0M478.4 91.2h0M482.4 96h0M474.6 98.6h0M455.2 102.8h0M478.9 102.5h0M469.4 95.7h0M469.6 96.9h0M454 109.5h0M466.6 91.5h0M464.1 98.7h0M471.5 109.4h0M455.4 98.2h0M475 80.8h0M474.2 100.1h0M459.9 92.7h0M465.6 95.4h0M462 104.5h0M483.5 101.7h0M443 92.3h0M468.3 103.7h0M452.8 98.7h0M467.8 97.4h0M482.9 100.3h0M465.3 98.4h0M474.9 94.4h0M463.2 92.5h0M496.2 99.2h0M484.6 90.4h0M487.4 88.1h0M456.2 106h0M460 93.9h0M485.9 97.9h0M470.8 95.7h0M469.9 96.9h0M477 97.5h0M457.9 96.2h0M482.8 91.4h0M472.6 104.4h0M479.2 92h0M464.3 104.5h0M480.5 82.2h0M465.3 87.8h0M483.7 105.9h0M486.6 97h0M484.4 92.6h0M478.9 100.5h0M481.3 89.3h0M440.6 94.8h0M484.5 80.2h0M470 93.1h0M474.6 91.9h0M469.2 101h0M455.8 102.5h0M467.2 89.6h0M479.8 110.5h0M490.4 93.8h0M467 80h0M463.9 77.1h0M489.3 110.8h0M462.5 95.4h0M498.2 94h0M474.1 91.1h0M463.2 87.4h0M483.8 108.8h0M493.3 98.1h0M454.6 109.8h0M491.8 97h0M471.3 78h0M490.2 105.3h0M468.7 93.7h0M454.3 93.5h0M477.9 110h0M484.3 95.9h0M497.2 108.5h0M493.6 98.8h0M481.8 91.7h0M469.8 100.8h0M467.2 91.7h0M468.6 106.5h0M462.4 103.8h0M469.7 97.2h0M442.2 99.2h0M474.7 101.7h0M472.8 94.8h0M503 106.8h0M482.2 96h0M466.8 101.4h0M480.4 90h0M458.3 96.5h0M465.5 99.7h0M451.2 88.8h0M490.5 95.2h0M480.5 93.4h0M458.4 101.6h0M472.8 91.2h0M484 101.5h0M477.9 109.7h0M477.3 100.3h0M463.9 83.3h0M465.3 97.4h0M473.4 105.4h0M484.2 95.7h0M462.3 105h0M459.2 100.8h0M486.4 101.6h0M462.1 94h0M486.2 94.1h0M476.1 95.3h0M483.5 98.5h0M493.5 103.1h0M480.9 101.1h0M482.5 95.5h0M462 96.6h0M464.4 99.4h0M481.8 84.8h0M491.9 92.6h0M490.2 92.2h0M500.8 97.9h0M476.9 95.2h0M475.6 95.3h0M485.6 91.2h0M472.7 102.5h0M472.1 99.3h0M461.6 82.9h0M484.8 98.3h0M461 87h0M477.9 111.2h0M456.3 92h0M486.4 95.1h0M460.6 96.7h0M483.2 96.4h0M454 95h0M466.7 109h0M486.9 100.2h0M462.8 102.9h0M473 106.2h0M467.9 88.9h0M444.2 108.2h0M476.2 102.9h0M477.5 105.2h0M460.3 89.1h0M479.3 104.3h0M463.2 99.6h0M461.4 91.8h0M471.5 115.3h0M464.4 100.9h0M500.6 97.6h0M454.3 97.1h0M481.2 105.2h0M484 107.2h0M448.9 99.7h0M451.4 105h0M478.7 109.5h0M468.1 86.8h0M477.9 93.7h0M487.3 90.9h0M468.5 97.5h0M459.3 107.5h0M439.9 99.5h0M476.2 89h0M462.1 93.8h0M476 105.7h0M476.1 93.2h0M456.5 94.9h0M493.4 101.4h0M487.2 83.8h0M482.6 104.3h0M458.6 98.6h0M467.7 101.3h0M467.1 88.8h0M468.6 90.6h0M460 91.2h0M478 99.6h0M475.7 98h0M477.3 98.6h0M465.7 110.9h0M487.5 108.9h0M475.7 91.6h0M440.7 89.1h0M464.1 110.2h0M472.5 94.6h0M483.6 109.2h0M468.3 109.6h0M470.4 92.6h0M465.3 94.3h0M480.9 98.5h0M468.2 89.8h0M466.5 88.7h0M464.4 93.2h0M479 104.5h0M466.9 93h0M453.1 93.8h0M480.8 94.1h0M465.6 85.5h0M476.2 109.4h0M479.1 78.9h0M487.8 93.2h0M485.1 102.7h0M467.1 85.4h0M470.6 101.8h0M456.7 105.8h0M493.6 92.1h0M478.1 99.3h0M490.4 89.8h0M468.8 100.9h0M448.4 95.7h0M491.1 100.5h0M473.1 108.1h0M474.3 101h0M472.7 107.9h0M480.3 102.9h0M480.2 88.2h0M453.8 97.6h0M485.6 102.2h0M467.7 85.1h0M466.5 107.3h0M493.6 99.5h0M483.7 101.1h0M469.6 89.7h0M450.7 95.8h0M474.7 99.7h0M479.7 95.1h0M472 97.7h0M459.6 79h0M462.6 107.2h0M458.8 87h0M477.1 80h0M483.5 90.4h0M485.8 91.6h0M463.9 100.7h0M476.4 90.1h0M479.4 100h0M467.5 89h0M469.7 114.6h0M498 103.7h0M474.1 113h0M484.2 90h0M467.3 102h0M474.2 89.6h0M452.1 100h0M472.2 102.5h0M488.4 85.7h0M498.9 90.3h0M488.1 89.1h0M482.2 85.9h0M474.1 91.4h0M466.5 88.8h0M472.1 85.4h0M480.2 98.5h0M463.2 100.6h0M485.1 87.6h0M461.6 91.6h0M451.7 95.3h0M461.1 94.2h0M453.6 89.8h0M456 102.1h0M485.9 105h0M470.1 102.3h0M475.7 95.7h0M485.5 114.1h0M486.8 112.3h0M467.2 93.4h0M489 97.5h0M476.8 107h0M473.6 90.7h0M478 100.7h0M455.9 96h0M464.1 90.7h0M471.9 95.1h0M481.4 85.2h0M468.9 92.4h0M472.9 81h0M483 116.3h0M488.8 110.6h0M481.3 107.7h0M487.9 100.8h0M467.5 104.6h0M468.4 106.9h0M476.1 105.5h0M468.8 104.1h0M467.6 89.3h0M492.4 102.2h0M471 92.6h0M462.3 86.6h0M479.6 88.5h0M494.6 102.4h0M473.2 105.5h0M488.7 87.4h0M466.5 110.5h0M466.1 108.2h0M465 93.3h0M471.6 93.2h0M495 98.4h0M458.5 103.6h0M492.8 95.7h0M461.7 87.2h0M470 99.5h0M484.4 81.4h0M480.4 98.8h0M475.6 106.5h0M453.1 97.7h0M476.8 103.6h0M460.4 99.9h0M503.2 105.5h0M470.3 97.9h0M475.8 90.6h0M459.4 94h0M467.3 95.9h0M456.7 105.7h0M483.6 111h0M469.6 100.1h0M480.3 91.6h0M465.3 90.5h0M467.1 95h0M487.4 109.4h0M461.2 98.7h0M451.5 94.7h0M478.4 91.3h0M458.7 102.8h0M467.5 98.8h0M483.9 97.5h0M463.1 97h0M482.3 111.4h0M465 95h0M489.6 112h0M488 108.3h0M467.3 96.9h0M469.8 103.8h0M463.1 95.1h0M476 90.6h0M486.9 96.1h0M456.3 88.3h0M483.6 102h0M457.2 95.7h0M462.3 100.6h0M451.1 101.7h0M500.3 74.3h0M473.5 99.5h0M477.2 82.9h0M464.8 97.6h0M486.4 91.1h0M447.8 95.6h0M472.4 107.9h0M500.6 85.7h0M468.3 98.1h0M473.3 96.4h0M482.4 82.6h0M462.8 101.3h0M473.2 97.3h0M484.8 94h0M475.8 91.5h0M475.2 123h0M469.1 93.5h0M478 83h0M474.3 89.6h0M490.6 95.6h0M481.9 94.7h0M470.1 96.1h0M444.5 86.1h0M481.2 102.1h0M482.4 93.9h0M463 85.2h0M449.7 88.4h0M459.6 92.7h0M483.5 104.7h0M459.9 99.7h0M467.7 93.8h0M475.6 97.4h0M487.5 100h0M471.4 113.2h0M472.2 92h0M466.1 100.1h0M492 104.5h0M486.4 90.5h0M471.7 98.4h0M456.2 96.8h0M463.9 92.4h0M479.5 102.1h0M463.7 104.4h0M482.9 106.9h0M477.5 95.8h0M476.4 98.8h0M479.2 116.4h0M479.7 88.7h0M462.6 97.9h0M468.5 103.8h0M500.9 100.6h0M458.1 101h0M467.2 97.9h0M485.2 104.1h0M470.2 107.1h0M463.4 94.4h0M457 97.2h0M479.4 97.1h0M485.5 94.8h0M489.7 98.3h0M474.4 88h0M485 104h0M459.5 109.5h0M473.8 110.8h0M464 106.5h0M475.8 89.5h0M480.9 109.9h0M486.3 92.4h0M461.2 95.5h0M486.9 113h0M468.1 88h0M460.2 102.6h0M470.8 99.1h0M455.6 94.3h0M473.7 90h0M476.2 100.7h0M470.9 93.1h0M478.7 105.9h0M468.4 106.4h0M474 86h0M456.1 91.5h0M473.7 94.5h0M463.7 86.7h0M468.4 87.6h0M471.8 97.6h0M475.4 95.5h0M454.5 82.1h0M454.7 91.1h0M469 100.8h0M479.5 87.9h0M478 90h0M482.6 110.6h0M487.6 108.9h0M480.1 84.6h0M473.7 86.2h0M460.4 98.9h0M462.5 86.5h0M467.6 94.5h0M476.5 93.7h0M475.2 101.7h0M474.8 76.9h0M472.7 79.3h0M481.4 87.9h0M474.8 105.3h0M476.7 96.1h0M477.9 83.7h0M466.1 100.4h0M460.2 101.6h0M479 95.6h0M478.2 94.8h0M470.1 100.3h0M467.2 106.2h0M500.1 100.6h0M463.6 100.5h0M470.4 96.4h0M476.4 94.2h0M459.8 88.5h0M474.2 99.2h0M494.7 96.5h0M484.3 96h0M479.9 105.1h0M479.7 101.5h0M473.7 104.1h0M485.6 85.4h0M470.7 101.3h0M468.4 91.9h0M474.8 90.7h0M484.4 91.2h0M476.1 107h0M480.5 104.3h0M449.3 89.2h0M488.1 89.2h0M501 99.6h0M489.3 94.7h0M468 109.9h0M463.9 84.5h0M477.6 82.7h0M461.4 93.9h0M481.7 97.8h0M466.6 97.5h0M484 104h0M487.8 114.9h0M448.9 92.1h0M476.9 93h0M465.9 82.2h0M456 97.5h0M465 103.2h0M470.6 94.7h0M484.5 107.5h0M454.8 95.7h0M484.5 110.2h0M496.9 101.8h0M480.9 89.2h0M480 92.5h0M473.9 84.8h0M460.2 81.9h0M479.2 99.7h0M477 104.3h0M480.4 113.3h0M503.7 99.2h0M481.9 95.9h0M478.9 88.6h0M491 106.5h0M456.6 98.7h0M459.8 91.1h0M468 102.1h0M464.8 100.8h0M482.6 82.8h0M468.7 102.6h0M493.7 99.9h0M491.4 95.5h0M482.5 94.5h0M467.2 110.5h0M479.3 109.9h0M481.4 112.4h0M461.1 86.7h0M477.6 92.1h0M480.8 105h0M476.4 87.6h0M492.3 92.9h0M488.8 83.9h0M461.8 110.9h0M473.7 105.6h0M462.7 99.8h0M479.8 99.4h0M462.9 92.8h0M484.3 94.8h0M477.2 102.3h0M485.1 92.3h0M470.4 106.6h0M455.9 91.6h0M494.7 91.9h0M470 107.2h0M489.6 97.3h0M477.8 101.9h0M481.3 94.4h0M496.4 81h0M476.7 101.7h0M490.7 87.7h0M454.5 104.1h0M484.5 85.6h0M471.4 81.9h0M471.2 99.3h0M472.8 100.4h0M477.1 98.2h0M493.7 89.1h0M450.2 102.1h0M474.5 85.4h0M464.8 92.6h0M487.5 91.9h0M468.2 93.5h0M477.9 104.3h0M468.7 91.5h0M480.6 102.2h0M484.6 103.6h0M469.4 82.9h0M474.4 87.8h0M456.3 92.5h0M477.1 92.6h0M483 100.3h0M467.7 81h0M485.9 103.9h0M447.7 100.8h0M451 93.7h0M457.4 84.5h0M467.2 96.5h0M473.6 92.7h0M471.7 101.4h0M472.3 96.2h0M481.1 103.6h0M467.7 93.1h0M456.9 107.2h0M459.7 77.3h0M499 91.1h0M444.5 98.5h0M471.9 84.8h0M489.9 104.4h0M479.6 87.8h0M463 96.9h0M473.7 89.7h0M483.6 94.4h0M487.3 99.7h0M462.3 95.2h0M482.4 94.8h0M474.5 114.4h0M486.2 98.2h0M490.3 90.7h0M468.2 104h0M455.1 102h0M476.9 107.2h0M493 113.1h0M481.9 90.2h0M475 105.7h0M500.9 108.6h0M460.6 95.9h0M483.6 99.9h0M468.3 72.5h0M474 92.5h0M472.8 111.3h0M492.4 84.3h0M462.2 91.8h0M466.4 98.7h0M453.6 99.9h0M477.7 110.5h0M468.8 82.5h0M478 97.8h0M459.6 102.7h0M469.6 86.2h0M485.4 97.8h0M469.6 111.8h0M479.6 108.1h0M478.9 101.9h0M470.6 75.8h0M454.4 94.3h0M484.5 101.1h0M475.3 94.7h0M484.8 97.5h0M446.8 119.5h0M453.4 93.6h0M448.1 87h0M462.3 98h0M485.7 95.6h0M480 95.1h0M472.7 96.3h0M474 103.3h0M481.9 99.7h0M470.2 87.1h0M477.8 96.4h0M474.3 100.9h0M447.2 91h0M467.6 105.8h0M488.7 104.6h0M469 88.7h0M471.1 99.4h0M464.4 112.2h0M466.1 108.9h0M486.5 97.7h0M469.2 103.9h0M461.3 90.6h0M436.8 82.2h0M465.8 100.8h0M449.3 96.9h0M450.8 99.2h0M482.5 97.6h0M481.2 100.3h0M450.4 90.9h0M482.8 101.7h0M477.9 104.1h0M463.7 95.7h0M481.2 104.3h0M454.8 81.2h0M459.2 89.5h0M454.8 107h0M458.5 109.9h0M483.3 99.9h0M457.1 94.8h0M460.1 85.7h0M461.4 98.9h0M474.8 103.4h0M470 84.8h0M482.9 102.4h0M464.2 100.2h0M457.3 99.2h0M467.8 87.5h0M473 101.4h0M462.9 84.1h0M475.2 109.2h0M494.6 100h0M466.8 87.1h0M472.5 107.8h0M488.3 107.6h0M465.6 91.1h0M461.2 113.7h0M460.5 87.8h0M477.4 99.9h0M478.2 106.9h0M472.6 78.7h0M472.6 105h0M488.1 97.8h0M483.2 97.8h0M456.8 86.9h0M472.4 99.6h0M474.8 88.2h0M482 90h0M470.4 93.2h0M465.9 86.5h0M466.1 109h0M452.4 84.5h0M472.9 90.9h0M465.8 93.8h0M478.2 97.5h0M459.8 102.2h0M466.9 103h0M461.1 93.5h0M460.1 92.8h0M481 98h0M466.5 103h0M477.4 103h0M459.6 91.7h0M475.2 80.7h0M450.9 112.3h0M466.2 104h0M466.4 98.5h0M479.3 100.3h0M475 93h0M471.1 88.8h0M482.8 95.2h0M474.9 95.4h0M479.4 92.5h0M482.7 86.1h0M471.9 94.4h0M468.6 101.2h0M476.7 93.4h0M467.5 96.7h0M478.5 80.9h0M485.8 96.5h0M482.8 96.9h0M468.8 86.8h0M458.3 81.8h0M471.5 100.2h0M471.5 90.4h0M485.3 102h0M468.2 93.2h0M469.5 101.7h0M481.5 95h0M467.8 84.4h0M470.6 96.1h0M493.1 96.1h0M489.8 103.7h0M480.3 94h0M475.9 94.1h0M460.3 102.8h0M478.3 106.8h0M472.6 103.1h0M474.3 105.5h0M465.9 100h0M471.8 103.1h0M469.6 103.8h0M475.9 100.5h0M489.4 98.9h0M476.6 98.5h0M451 114.4h0M460.8 96h0M453.7 93.4h0M463.2 93.2h0M479.1 97.3h0M477 99.3h0M466.1 87.3h0M477 81.4h0M463.2 98.5h0M456.6 82.7h0M455.5 97.5h0M462.1 97.2h0M488.6 107.6h0M455.3 108.9h0M487 101.2h0M488.6 93.9h0M471.1 87.4h0M472.4 90.6h0M465.1 96.6h0M473.6 80.4h0M480.2 98.2h0M472.5 96.9h0M483.8 103.1h0M486.8 95.5h0M476.4 98.1h0M476.8 91.4h0M472 93.2h0M477.8 83.2h0M459 96.8h0M476.1 109.7h0M474.7 98.5h0M461.8 99h0M498.7 91.4h0M459.8 107.3h0M462.5 89.9h0M475.1 103.6h0M449.2 95.8h0M463.6 88.5h0M453.5 103.5h0M460.8 96.1h0M470.7 98.2h0M475.9 100.9h0M485.6 97.9h0M482.2 94.8h0M486.2 101.9h0M479.7 94.3h0M466.7 97h0M486.1 92.8h0M467.6 84.6h0M465.5 90.9h0M490.9 94.6h0M481.7 97.9h0M474.1 106.6h0M482.5 84.3h0M482.7 98.9h0M457.6 77.9h0M472 88.5h0M458.6 91.7h0M475.4 79.1h0M465.6 81.4h0M488.5 99.6h0M478.5 98.1h0M462.7 95.2h0M472.7 90.5h0M456.4 112.8h0M472.9 95.7h0M479.5 90.6h0M474.3 110.6h0M448.9 99.8h0M468.6 93.6h0M477.6 107h0M475.9 98.5h0M485.7 103.3h0M456.8 97.5h0M479.3 89.3h0M463.9 104h0M474.5 98.4h0M477.9 89.3h0M481.1 91.6h0M464.8 104h0M474.8 94.2h0M458.3 96.1h0M455 100.7h0M478.9 98.5h0M472.7 84.7h0M452.5 100.3h0M461.5 103.5h0M471.9 103.9h0M489.8 111.5h0M484.5 100.9h0M481.3 104h0M449.9 107.7h0M471.3 94.5h0M476.8 111.3h0M475.8 111.2h0M476.7 103.6h0M468.2 111.4h0M492.7 105.6h0M490.6 91.5h0M470.4 105.9h0M460.4 98.5h0M496.6 102.4h0M465.6 97.6h0M485.7 109h0M494.7 103.3h0M461.5 90.4h0M475.4 101.1h0M467.6 102.4h0M479 91.7h0M476.4 93.8h0M495.8 95.9h0M479.8 92.7h0M472 99.7h0M485 106.2h0M467.7 111.7h0M467.1 106.1h0M498.3 107.4h0M461.7 105.2h0M465.5 107.1h0M473.1 94h0M459.2 101.4h0M446.9 97.3h0M485 97h0M463.2 92.5h0M466.2 92.3h0M468 94.4h0M461.4 86.1h0M459.1 100h0M474.2 96.9h0M500.9 100.3h0M480.9 100.4h0M480.7 103.5h0M454.7 90.6h0M472.1 96.1h0M459.3 82.9h0M483.1 80.1h0M470.9 81.2h0M471.7 109.2h0M472.5 82.3h0M465 100.1h0M453.1 107.1h0M479.5 93.9h0M454.6 108.5h0M456.9 110.4h0M468.1 104.2h0M462.2 115.1h0M475 102.2h0M484.9 92.2h0M474.9 101.4h0M475 93.6h0M473.5 86.6h0M483.4 87.7h0M448.6 113.5h0M477.1 93h0M461.2 95.8h0M458 90.4h0M472.3 98.1h0M467.8 94.7h0M479.5 94.4h0M486.3 88.5h0M445.5 83.3h0M471.9 91h0M495.5 101.4h0M481.2 114.5h0M488.8 106.9h0M472.2 111.7h0M454.8 99.4h0M458.9 95.2h0M481.7 87.2h0M483.7 98.1h0M465 79.2h0M469.3 94.4h0M474.3 110.3h0M451.1 97.9h0M467.3 105.7h0M491.9 95.7h0M499.4 88.4h0M471.3 93.2h0M494.5 95.9h0M465.2 106.2h0M461.2 112h0M446 88.9h0M484 95.3h0M467.9 95.6h0M500.5 96.8h0M477.1 87.6h0M474.5 98.1h0M450.4 98.1h0M489.9 101.8h0M468.8 87.1h0M470.4 96.1h0M447.1 81h0M482.7 105.4h0M484.8 90.1h0M465.2 94.3h0M473.7 93.7h0M477.4 92.9h0M484.5 89.7h0M474.8 83.2h0M491.7 112.8h0M469.2 99h0M464.9 98.7h0M465.3 113.4h0M442 93.7h0M462.3 100.7h0M484.3 98.4h0M474.6 106.9h0M462.2 100.3h0M476.3 100.1h0M448.4 93h0M468.7 99.1h0M477.8 107h0M482.1 81.4h0M463.2 95.4h0M483.5 94.8h0M494.9 96.8h0M468.6 81h0M480.7 103.8h0M454.3 88.8h0M449 93.3h0M480 93.8h0M474 83.9h0M475 93.9h0M466.7 81.9h0M469.5 89.4h0M482.3 95.5h0M492.9 99h0M469.7 97.4h0M452.7 94.4h0M486.1 115.6h0M479.3 101.3h0M481.4 88.2h0M475 92.5h0M500.6 94.4h0M473.4 95.9h0M478.9 92.9h0M450.8 88.5h0M464.3 109.7h0M464.1 96.8h0M472.2 94.5h0M476.7 95.6h0M463.6 94.7h0M492.1 110.1h0M459.3 99.9h0M466.2 105.7h0M477.4 72.6h0M457.2 98.5h0M478.5 106.3h0M478.6 113.6h0M468.8 97.1h0M496.4 85.5h0M472.9 102h0M476.1 92.7h0M462.1 81.9h0M452.8 90.5h0M464.1 105h0M467.7 106.5h0M466.4 102.5h0M482.3 89.7h0M442.1 114.8h0M459.6 86.7h0M450.6 94.7h0M489.4 87.1h0M464.7 107.1h0M465.9 100.3h0M458.6 103.2h0M483.1 98.9h0M467.5 96.3h0M474.9 98.9h0M449.3 80.1h0M485.7 106.4h0M476.5 105h0M479.2 94.7h0M487.2 98.5h0M469.9 99.5h0M469.3 109.6h0M480.7 101.5h0M477.5 98.1h0M469.8 93h0M474 85.3h0M466.8 92h0M480.9 98.6h0M483.7 96.3h0M472.4 97.9h0M494.4 105.2h0M453.7 99.2h0M469.4 99.3h0M492.4 104.3h0M467.2 98.3h0M453.2 95.4h0M488.8 102.5h0M480.1 84.1h0M457.2 106h0M482.6 87.9h0M459.6 102.9h0M456.3 96h0M469.8 106h0M466.6 97.1h0M459.9 88.7h0M467.3 105.5h0M460.2 97.8h0M473 98.3h0M472.1 98h0M480.6 106.1h0M466.4 103.4h0M456.3 97.8h0M457.7 83.6h0M469.7 93.9h0M490.7 99.8h0M481.3 112.6h0M464.4 99.8h0M483.8 97.6h0M457.7 105.7h0M484.6 97.5h0M467.8 96.7h0M481.5 99.4h0M480.9 86.1h0M468.4 104.7h0M476 101.1h0M459.8 94h0M472.3 88.2h0M485.2 100.2h0M520.5 112.8h0M481.3 93h0M474.2 89h0M460 99.7h0M486.2 85.8h0M454.1 78h0M463.1 93h0M477.2 92.3h0M458.1 93.9h0M491.3 94.6h0M485.3 101.2h0M465.7 95h0M466.2 92h0M456.9 92.4h0M455.2 101h0M477 105.5h0M479.3 105.3h0M476.1 103.3h0M477.9 71.4h0M466.4 88.8h0M476.9 95.3h0M454.6 97.5h0M473.6 84.5h0M489.1 110.3h0M488.1 101.2h0M467.3 92h0M468.3 98.4h0M489.2 96.1h0M494.4 93.2h0M454.1 99.9h0M467.6 93.4h0M476.2 86.4h0M487.5 93.6h0M462.4 95.6h0M480.9 89.5h0M467.9 107.2h0M501.7 91.3h0M476.3 111.9h0M470.2 104.4h0M469 89.6h0M485 99.6h0M479.7 107.6h0M459.6 94.8h0M419.4 77h0M461.6 95.7h0M525.8 97.6h0M409.6 74.6h0M478.8 82.1h0M457.1 102.9h0M454 94.1h0M445.6 88h0M452.3 57.2h0M488.2 133.6h0M479.4 88.3h0M423.9 93.7h0M512.3 89.7h0M412.7 100.6h0M483 79.5h0M463.2 103h0M498.1 103.2h0M467.2 117h0M495.3 88h0M458 90h0M490.6 101.4h0M464.2 135.9h0M533 87.1h0M433.3 102h0M499.1 95.7h0M472.3 107.8h0M461.8 111.9h0M438 100.1h0M471.9 106.9h0M407.2 98.1h0M412.7 84.6h0M481.9 100.4h0M408.8 66.6h0M506.6 101.6h0M449.9 86.9h0M466.4 97.6h0M458.3 112.7h0M470.8 108.7h0M447 106.8h0M442.6 116.5h0M458.6 61.6h0M491.9 112.4h0M495.7 105.5h0M500.6 104.9h0M472.8 81.2h0M449.5 108.4h0M398.4 111h0M476.9 120h0M486 103.1h0M442.5 108.8h0M482.6 119.1h0M496.8 135.9h0M458 120.6h0M492.8 107.7h0M467.7 103.4h0M398.8 94.9h0M441.1 101.9h0M444.9 90.5h0M473.6 115.4h0M430.1 85.2h0M444.6 85.5h0M424.4 101.6h0M457.6 91h0M460.5 96.8h0M495.1 71.7h0M482.6 117h0M463.1 101.1h0M466 99.5h0M460.2 108.4h0M460.9 104.3h0M511.2 96.5h0M369.3 120.9h0M452.7 92.4h0M465.9 117.6h0M491.5 135.2h0M422.1 85.3h0M469.1 103.6h0M488.5 91.4h0M440.2 115.2h0M394.1 86h0M448 81h0M414.2 115.9h0M477.4 118.2h0M430.9 82.1h0M514.9 127.8h0M461.9 104.2h0M424.3 140.2h0M436.7 125.6h0M422.1 86.3h0M471.3 97.9h0M509.8 93.4h0M450 101.5h0M488.6 105.5h0M424.2 107.8h0M467.8 103.2h0M538.5 87.7h0M412.1 80.7h0M495.9 128.9h0M494.5 124.5h0M394.7 88.9h0M409.6 91.4h0M425.1 93.1h0M490.2 105.3h0M446.9 71.4h0M449.9 114h0M482.9 93.2h0M461.2 103.3h0M470.9 60.8h0M446.2 102.6h0M492.4 127.2h0M436.4 60.8h0M510.5 132.7h0M445.1 106.4h0M432.4 84.8h0M482.9 77.9h0M470.1 121.2h0M390.3 95.2h0M463.6 110.9h0M412.7 89.6h0M431.4 83.6h0M482 118.1h0M430.6 80.9h0M467.4 116.5h0M448.5 71.7h0M524.6 94.6h0M457.5 76.5h0M414.9 115.8h0M424.2 67h0M429.5 77.7h0M460.2 111.6h0M456.8 104h0M485 140.2h0M458.8 130.7h0M460.3 110.9h0M466.7 113h0M457.1 70.3h0M469.1 87.5h0M484.4 98.7h0M484 101.2h0M442 75.6h0M399.8 77h0M431.9 82.8h0M464.3 118.7h0M372.4 95.4h0M441.9 92.7h0M472.9 98h0M437.5 102.3h0M421.1 83.8h0M516.8 104.3h0M507.6 79.1h0M446.9 109.8h0M499.4 122h0M500 112.3h0M417.9 102.6h0M546.4 118.8h0M420.8 128.7h0M447.7 102.3h0M423.1 73.8h0M461.9 83.7h0M411.1 105.5h0M454.3 117.4h0M491.6 117.8h0M462.2 114.8h0M447.6 102h0M512.3 83.6h0M428.3 84.6h0M493.5 75.6h0M447.5 92.6h0M467.2 79.3h0M457.6 101.9h0M461.5 98.1h0M459.4 68.5h0M428.7 108.3h0M435.9 109.8h0M474.7 79.8h0M452.7 102h0M415.9 106.2h0M433.5 92.1h0M431.3 110.7h0M454.3 102.9h0M460.1 118.3h0M459.2 103.5h0M434.9 94.3h0M455.9 108.4h0M408.6 106.3h0M358.8 90.5h0M455.6 92.5h0M402.5 79.5h0M425.3 89.5h0M417 85.1h0M477 106.3h0M415.1 97h0M465.7 99.9h0M439.7 97.6h0M414.1 96.9h0M399.5 117.9h0M468.9 121.6h0M470.3 92.4h0M481.1 110.4h0M518.3 103.2h0M465.3 99.6h0M465.9 97.3h0M453.1 89.2h0M462.5 78.3h0M449.6 58.3h0M425.2 98.9h0M520.1 128.5h0M395.1 76.3h0M463 109.2h0M471.4 95.6h0M460 105h0M425 82.2h0M449.6 95.1h0M440.2 95.8h0M424.7 56.1h0M453.4 103h0M442 95.6h0M442.4 56.8h0M476.8 113.5h0M419.7 94.2h0M469.6 105.1h0M433.8 102.7h0M470.5 94.9h0M459.9 82.5h0M464.2 93.6h0M423.1 88.1h0M423.9 132.1h0M422 125.6h0M462 92.5h0M481 96.4h0M490.5 109.9h0M436.8 106.4h0M459.4 88.7h0M402.8 75.6h0M375.9 120.6h0M423.3 112.7h0M436 71.1h0M406.6 63.4h0M396.9 77.7h0M472.2 105.6h0M426.5 104.6h0M399 86h0M536.4 84.1h0M459.9 103.9h0M442.5 107.8h0M477.3 102.6h0M430.2 87.8h0M506.5 116.3h0M402.9 91.3h0M413.1 75h0M449.6 100.3h0M431.7 74.6h0M499.5 121.8h0M399.4 99.5h0M432 79.7h0M461.8 104h0M470.2 122.5h0M492.8 69h0M466 98.7h0M524.3 136.7h0M441.8 71.7h0M460.4 97.4h0M486.1 80h0M443.6 96.7h0M449.7 58.6h0M442.1 70.5h0M433.6 87.5h0M415.7 96.3h0M434.4 102.9h0M400.9 99h0M463.9 120h0M398.8 103.3h0M521.4 121.2h0M513.1 91.2h0M491.2 101.9h0M439.3 150.7h0M428.7 133.8h0M492.8 118.7h0M458 112.3h0M470.1 118.2h0M430.4 89.2h0M484.8 136.6h0M427.6 89.3h0M457.3 98.4h0M390.4 127h0M436.4 61.9h0M469.5 107.6h0M442.4 68.7h0M440 86.4h0M480.1 101.5h0M451.8 93.1h0M494.7 108h0M374.1 75.2h0M472.7 100.2h0M473.1 82h0M402.5 85.6h0M413.1 70.2h0M481.3 114.3h0M420.6 72.8h0M430.4 107.7h0M474.4 95.2h0M442.9 92.7h0M466.6 121.1h0M424 97h0M467.7 69.2h0M488.4 112.6h0M471 52.6h0M379.1 93.3h0M476.1 95.7h0M458.5 76.3h0M422.7 96.3h0M500.7 100.7h0M390.1 124.4h0M517.1 100.8h0M427.5 128.6h0M502.8 129.7h0M453.2 88.9h0M410.6 79.4h0M453.4 121.7h0M464.7 98.5h0M471 104.5h0M489.4 100h0M426 74.8h0M470.6 95.3h0M480.2 86.7h0M447.7 72.4h0M422.5 89.9h0M417 124.5h0M474.6 129.8h0M480.2 102h0M425.1 97.6h0M407.1 101.5h0M491.6 127.8h0M400.4 97.2h0M459.7 92h0M427.1 88.9h0M391.7 109.9h0M451.3 143.4h0M448.3 87.9h0M506.3 71.7h0M527.4 123.5h0M447.1 97.1h0M487.2 106.4h0M485.3 124.9h0M435.5 97.9h0M427.3 72.9h0M511.8 74h0M441.1 96.7h0M455.1 79.7h0M442.7 102.7h0M451.7 77.3h0M433.8 90.5h0M481.7 78.1h0M496.1 99.1h0M441.7 90h0M405.5 102.7h0M451.7 122h0M403.8 89.2h0M433.8 81.8h0M489.8 137.9h0M530.1 116.3h0M464.3 111.3h0M416.1 104.5h0M475.9 127.4h0M375.5 105.6h0M428.3 107.4h0M502.4 119.3h0M480.2 88.4h0M408.4 82.6h0M397.7 89.7h0M481.6 104.9h0M451.5 99.4h0M432.6 101.7h0M466.9 101.7h0M434.9 89.4h0M392.6 63h0M478.3 117.1h0M430.1 106.1h0M421.6 79.8h0M407.3 101.4h0M460.6 107.1h0M426 96.7h0M478.4 71.4h0M447.1 77.8h0M490.8 94.3h0M436.4 124.6h0M433.3 81.8h0M388 84.2h0M419 75.5h0M478.5 94.4h0M554.7 119.4h0M416.1 58.6h0M425.1 46.8h0M462.9 112h0M469.1 102.1h0M431.9 85.9h0M453.5 116h0M397 108h0M448.2 62.7h0M483.8 100.7h0M505.3 125.6h0M449.2 87.3h0M445.3 92.8h0M466.1 117.5h0M490.9 100h0M472.4 81.5h0M429.7 84.2h0M468.3 78.7h0M484.3 113.2h0M433.4 67h0M406.1 109.9h0M474.2 74h0M465.4 101.8h0M489.1 79.2h0M457 94.4h0M429.2 113.5h0M436 116.1h0M415.7 116.4h0M421.8 93.4h0M434.2 98.5h0M436.5 100.9h0M489.2 114.9h0M413.2 86.8h0M449.1 117.6h0M432.8 102h0M500.5 125.6h0M461 108.6h0M439.2 109h0M482.4 90.9h0M456.6 92.6h0M440.5 75.3h0M505.5 101.6h0M477.6 99.7h0M509.3 121.5h0M495.1 83.6h0M471.7 157.4h0M458.2 97.9h0M414.2 115.4h0M474.8 120.2h0M461.9 57.3h0M476.7 98.1h0M449.7 124.1h0M436.2 55.3h0M418 107.5h0M479.1 87.2h0M497.9 97.6h0M443.4 101.8h0M473.2 70.1h0M499.4 109.1h0M427.2 84.5h0M444 85.1h0M414.5 105.9h0M484.8 163.9h0M461.6 106.3h0M436.9 106.5h0M398.4 90.7h0M449.3 86.3h0M486.4 108.4h0M440.2 123.5h0M439 100.5h0M473 117.3h0M413 89.7h0M449.5 142h0M477.6 74.4h0M426.3 105.5h0M424.7 104.5h0M461.4 105h0M453.1 80h0M448.6 79h0M461.2 96.3h0M461 102h0M425.7 74.5h0M434 78.2h0M467.5 110.8h0M488.8 121.9h0M500.4 96.2h0M427.2 83.5h0M492.1 92.2h0M473.3 144.5h0M451.7 107.4h0M470.3 100.4h0M479.2 120.1h0M508.2 146.3h0M415.9 114h0M477.4 78h0M449.5 97.1h0M448 91.5h0M493.1 98.8h0M484.2 82.6h0M421 87.9h0M447.1 79.6h0M460.8 106h0M406.7 93.3h0M486.2 79.4h0M455.5 70.1h0M460.6 91.9h0M463.7 111.8h0M513.1 116h0M455.4 98.2h0M513.2 99h0M439.1 84.4h0M437.3 91.1h0M410.7 72.1h0M491.1 96.9h0M464.7 89.2h0M463.3 147.2h0M457.9 111.8h0M450 95.3h0M428 94.7h0M428.4 93.5h0M468 104.4h0M459.2 92.9h0M508.5 106.5h0M426.4 113h0M435.9 110.9h0M419.4 99.6h0M496.9 128.1h0M412.5 97.2h0M482.2 86.2h0M506.2 76.4h0M451.1 86.8h0M478.4 101.5h0M382.4 96h0M438.7 115.6h0M400.3 81.7h0M461.8 86.4h0M452.6 112.3h0M425.8 115.5h0M486.8 95.6h0M465.2 106.6h0M433.5 120h0M436.4 102.2h0M405.4 91.4h0M453 63.2h0M521.6 131.5h0M429 106.7h0M467.9 103.3h0M437.1 88.8h0M483.9 81.9h0M469.1 99.6h0M446.7 96.3h0M392.3 109.4h0M440 76.3h0M490.8 129.2h0M446 98.7h0M472.4 122.2h0M440.6 80.6h0M391.3 96.3h0M465.5 121.8h0M464.6 102.6h0M438.5 71.7h0M442.7 91.9h0M462.6 109.6h0M437.9 72.8h0M469.2 76.5h0M446.9 102.2h0M378.1 72.1h0M447.9 110h0M437.2 76.6h0M430.8 64.3h0M469.5 88h0M434.5 122.1h0M474.3 87.2h0M490.7 104.2h0M458.5 104h0M405 76h0M427.4 114.2h0M484.3 106.5h0M444.7 105.5h0M431.5 67.1h0M455.5 69.3h0M477.6 55.1h0M463.4 97.3h0M476.4 98.4h0M425.2 107.6h0M441.7 123h0M446.6 93.8h0M454.3 94.6h0M383.6 97.1h0M442.9 123.9h0M411.7 79.1h0M499.2 116.3h0M506.8 102.4h0M511.1 101.5h0M479.4 116.8h0M440.1 83.7h0M488.9 85.8h0M446.2 109.6h0M474.8 101.7h0M425 90.6h0M435.2 94.3h0M468.8 109.8h0M514.3 101.4h0M451.8 112.1h0M528.5 116.8h0M542.7 137.2h0M408.8 114.6h0M451.6 113.6h0M423.3 91.4h0M449.6 100.7h0M438.1 86.8h0M445.5 147h0M487.1 100.1h0M484.5 113.1h0M460 123.4h0M457.9 76.4h0M460.4 86h0M459.7 93.3h0M476 85.3h0M457.7 78h0M472.5 93h0M407.9 115h0M479.2 115.3h0M512.6 108.1h0M460.6 100.7h0M411.4 64.8h0M497.9 117.4h0M442.6 105h0M357.6 67.2h0M446.8 101.9h0M475.2 99h0M468.6 92.5h0M498.3 88.6h0M476.9 90.9h0M461 84.1h0M387.7 97.9h0M416.7 100.3h0M459.8 105.7h0M477.6 99.5h0M421.4 87.7h0M429.4 130.9h0M474.7 70.3h0M388.2 110.6h0M389 96.3h0M446.8 99.5h0M464.2 92h0M439.2 93.5h0M381 68.7h0M458.7 76.2h0M410.6 91.3h0M480.3 74.6h0M449.3 113.1h0M460.8 119.4h0M440.8 70.8h0M481.6 107.9h0M495.6 108.8h0M467.6 103.2h0M498 112.8h0M432 109.1h0M483.1 118.3h0M459.4 130.9h0M421.7 95.3h0M450 113.6h0M440.8 69.7h0M436.6 94.7h0M460.4 79.4h0M486.8 127.9h0M438.6 137.3h0M457.5 109.2h0M408.8 70.7h0M458.5 98.1h0M493.1 105.4h0M481.2 106.6h0M467.9 120.1h0M434.9 113.1h0M428.5 50.4h0M448.3 122.1h0M411.2 84.9h0M414.9 84.3h0M482.7 127.8h0M424.7 90.7h0M517.8 84.9h0M410.2 70.5h0M468.9 102.5h0M413.5 109.3h0M456.9 125.6h0M420.4 91.8h0M457.1 91.9h0M445.6 126.1h0M440.7 89.7h0M468.3 126.5h0M504.4 110.6h0M434.4 100.8h0M484.7 99.7h0M456.8 104.9h0M454.8 91.6h0M529.4 98.4h0M382.6 87.1h0M433.5 85.4h0M393.6 96.2h0M444 99.5h0M447.6 94.1h0M582.2 114.1h0M466.8 97.3h0M510.4 137.2h0M498 105.5h0M441.4 87.5h0M471.3 96.8h0M508.8 118.5h0M460.9 97h0M462 98h0M472 97.6h0M404.1 95.3h0M426.6 102.3h0M464.8 108.6h0M476.7 74.6h0M426.5 77.3h0M450.1 53.8h0M448.7 112.5h0M447 117.5h0M474.7 124.7h0M457.8 102.5h0M457.4 119.6h0M407.5 92.3h0M419.8 92.6h0M469 75.1h0M403.3 78.9h0M465 90.8h0M430.4 111.9h0M423.6 123.6h0M477.3 94.7h0M431.1 102.6h0M425.3 100.1h0M433.8 83.3h0M460.5 70.8h0M548.1 99.7h0M387.1 65.4h0M454.6 94.1h0M446.7 96h0M486.7 100.9h0M442.5 94.9h0M370.7 96h0M500.9 90h0M415.9 109.3h0M456.3 71.1h0M408.5 94.1h0M416.8 100.9h0M439.6 83.8h0M486.8 76.7h0M481 114.1h0M435.9 85.3h0M469.2 114.9h0M440 110.6h0M458 99.9h0M459.4 100.1h0M472.7 118.9h0M432.8 102.9h0M452 83.1h0M461.1 103.3h0M455.9 109.1h0M427.1 99.1h0M511.3 110.7h0M439.1 94.8h0M479.8 101h0M463.2 84.7h0M498.4 81.1h0M378.4 108h0M524.2 98.4h0M446.5 102.1h0M416.5 68.4h0M458.1 102.7h0M531.6 96.1h0M464 151.5h0M415.3 76.5h0M440.9 81h0M496.5 121.5h0M404.4 111.9h0M453 63.2h0M443.6 102.3h0M524.5 124.3h0M447.2 77.5h0M496.4 117h0M432.6 87.4h0M429.5 78.9h0M488.5 98.2h0M476 94.6h0M399.5 68h0M470.2 139.8h0M476.6 94.8h0M435.3 84h0M459.4 114.7h0M463.2 99.4h0M434.6 119.4h0M435.1 92.2h0M430.7 102.1h0M444.7 99.6h0M409.2 95.9h0M453.1 95.7h0M404.3 90.6h0M452.6 127.7h0M452.8 87.6h0M420.6 85.4h0M483.3 97.6h0M517.4 118h0M497.3 112.3h0M406.1 108.6h0M499.7 82.9h0M460.7 104.7h0M452.6 96.2h0M434.7 91.8h0M453.3 102.1h0M505 73h0M471.5 106.5h0M439.8 99.8h0M434.9 72.4h0M440.2 95.8h0M469.9 128h0M517.2 101.6h0M417.2 104.3h0M454.4 95.6h0M443 84h0M430.9 80.5h0M468.1 94.6h0M469.3 123.6h0M404.7 106.3h0M421 82.7h0M491.5 121.6h0M464.8 98.7h0M473 90.3h0M436.2 104.2h0M443.4 82.4h0M472.9 75.3h0M434.3 118.6h0M421.2 63.7h0M452.7 108.4h0M487.7 78.2h0M419.6 94h0M489.6 101h0M478.4 95.3h0M430.2 58.9h0M454.4 97.6h0M452.6 98.6h0M477.2 87.4h0M476.3 101.4h0M408.1 109.8h0M410.6 81.1h0M487.6 108.5h0M460.4 80.8h0M466.9 107.7h0M463.6 111.6h0M499.2 147.8h0M411.6 108.8h0M489.2 111.7h0M423.3 119h0M480.5 86.3h0M496.1 123.5h0M409.1 83.9h0M468.8 91h0M442.1 116.3h0M443.7 102h0M452.2 121.7h0M422.3 70.4h0M421.2 99.5h0M477 93.8h0M482.7 98.9h0M439.4 65.1h0M403.3 108.2h0M530.5 113.8h0M492.8 88.3h0M469 78.8h0M421.6 80.2h0M431.3 119.9h0M462.2 99h0M422.7 89.5h0M506.1 115.2h0M458.4 100.4h0M466.4 105.2h0M417.9 107h0M422.9 100.8h0M425.6 110.4h0M465.9 81.1h0M444.9 99.4h0M445.1 92.4h0M464.1 102.8h0M461.5 100h0M504.6 96h0M448.2 92.9h0M418 110.6h0M454.8 90.4h0M505.4 85.9h0M434.1 106.9h0M453.2 116h0M442.6 93.5h0M467 103.7h0M464.3 87.1h0M427.5 92.6h0M443.7 116.9h0M483.2 117.4h0M489.8 107.3h0M485.1 99.5h0M486.3 76.9h0M442.1 103.4h0M440.8 105.6h0M482.2 121.5h0M410.4 127.6h0M451.1 105.7h0M390.2 106.9h0M443.9 79.6h0M427.7 116.4h0M412 108.5h0M469.9 125h0M428 107.5h0M440.7 105.6h0M441.9 123h0M431.1 85.5h0M499.5 117.1h0M435 115.4h0M462.2 87.9h0M413.3 74.9h0M437.2 104.8h0M442.9 100.4h0M442.3 108.5h0M433.1 107.8h0M460.4 88h0M504.7 112.8h0M446.9 117.9h0M450.1 93.5h0M441.6 93.5h0M540.4 93.3h0M505.4 120.9h0M467.8 134.7h0M480.3 80.8h0M428.7 109.2h0M446.8 114.1h0M462.2 91.8h0M458.7 94.5h0M428 78.9h0M429.9 83.6h0M470.6 105.2h0M462.7 112.2h0M384 92.2h0M455 114.6h0M495.4 109.4h0M435.3 77.9h0M458.5 125h0M403.1 112.8h0M483.1 92.3h0M413 124h0M411.5 102h0M443.1 100.9h0M527.8 142.6h0M439.5 56.3h0M415.9 68h0M467.5 114h0M462.1 97.2h0M510.8 92.4h0M408.6 119.1h0M400.2 100.8h0M446.5 77.8h0M467.9 91.2h0M463.8 115.8h0M485.6 134.6h0M409.2 60.5h0M426.1 100.5h0M450.5 93.4h0M485.7 75.5h0M470 99.8h0M443.7 72h0M421.5 86.8h0M479.3 131h0M484.1 113.2h0M541.7 125.7h0M446.7 109.4h0M506.7 113.7h0M411.8 110.7h0M438.7 78.7h0M432.4 91.3h0M436.7 112.2h0M426.7 84.4h0M437 90.7h0M449.3 120h0M435.5 123.5h0M477.1 93.5h0M453 86.6h0M452.5 110h0M501.9 111.7h0M465.9 90.9h0M457.6 111h0M452 109.5h0M455.8 102.1h0M466 151.4h0M424.3 119.1h0M489.8 119.2h0M503.4 124.6h0M485.1 154.5h0M435.2 116.3h0M403 81.3h0M438.8 103.8h0M458.8 102.5h0M482.5 95h0M447.3 104h0M443.3 103.3h0M504.2 106.7h0M432.9 89.4h0M487.2 119.1h0M487.5 78.5h0M408.2 107.9h0M463.1 102h0M434.9 102.5h0M428.1 57.1h0M389 119.6h0M406.2 64.8h0M469.6 88.3h0M439.6 109.4h0M464.3 91.9h0M419.8 88.9h0M448.5 62.3h0M446 92.1h0M402.5 96.9h0M397.5 104.1h0M469.1 97.9h0M458.3 104.9h0M422.1 103.5h0M452.1 89h0M477.5 91.3h0M509.8 141.4h0M426.6 82.5h0M471.4 123.8h0M523.6 111.6h0M452.7 125.2h0M503.8 96.9h0M367.4 97.2h0M500.9 112.8h0M454.1 96.8h0M391.3 97h0M481.4 91.6h0M488.7 104.2h0M494.7 99.6h0M491.7 118.7h0M453.1 99h0M432.5 74.2h0M439.6 92.3h0M453 98.8h0M469.4 87.6h0M434.9 120.3h0M454.6 107.5h0M480.9 118.6h0M466.4 89.5h0M530.6 104.7h0M522.8 127.3h0M419.3 71.7h0M434.3 104.1h0M410.5 96h0M416.6 87h0M471.7 104.6h0M423.6 78.3h0M418.8 99.5h0M447.8 79.3h0M483.3 83.3h0M438.9 122.1h0M443.7 87.4h0M489.2 70h0M467.2 118.9h0M470.8 90h0M420.6 95h0M458.9 117h0M432.1 103.5h0M483.9 133.8h0M481.2 102.3h0M418 105.7h0M500.5 90.2h0M414.9 97.9h0M489.1 131.4h0M459.5 109.9h0M424.7 99.3h0M421.5 62.7h0M444.7 93h0M456.1 79.2h0M428.6 110.2h0M474.3 91h0M406.7 100.1h0M456 84h0M449.5 131.9h0M394.7 72.5h0M463.8 104.4h0M405.9 138.3h0M370.7 92.6h0M435.6 83.3h0M444.9 109.8h0M481.5 121.3h0M435.7 112.8h0M507.3 74.9h0M501.1 110.9h0M495.1 70.5h0M493.3 138.3h0M465.3 103.5h0M436.5 90.4h0M473.8 114.8h0M484.8 113.3h0M464.6 82.1h0M442 126.5h0M402.4 89.3h0M480.4 74.6h0M462.3 125.6h0M407.1 120.1h0M454.2 122h0M476.6 113.2h0M452.3 85.3h0M477.7 119.9h0M474.6 135.1h0M402.9 107.3h0M440.1 125.9h0M471.8 90h0M481.9 121.9h0M498.5 122.9h0M393.7 66.9h0M455.5 73.3h0M479.3 92.1h0M494.3 107.8h0M508.9 116.1h0M423.3 92.6h0M441.6 97.9h0M419.1 93.9h0M480.8 106h0M408.5 104.3h0M492 114.5h0M485.1 104.2h0M469.4 107.3h0M382.7 83.1h0M429.5 110.9h0M479.9 95.8h0M402.9 121.5h0M445.9 99.2h0M449.7 104.8h0M485.2 92.2h0M464.1 96.3h0M462.6 104.8h0M439.2 99h0M455.5 90.4h0M452.1 80.7h0M478 104.8h0M447.5 102.5h0M486.9 114.8h0M394.4 113.6h0M494.5 101.1h0M452.9 66.6h0M491.7 103.6h0M460.9 70.3h0M485.3 83.3h0M501.1 125h0M434.1 107.6h0M458 90.4h0M449.6 89.3h0M460.9 100.2h0M404.1 63.8h0M447 108h0M446.3 93.8h0M423.3 127.9h0M449.8 82.1h0M400.1 110.3h0M501.9 95.9h0M466.3 119.9h0M518.8 93.2h0M423 109h0M416 88h0M465.1 88.3h0M398.6 90.5h0M460.2 109.8h0M429.4 104.3h0M438.9 125.7h0M460.3 115.7h0M461.5 56.8h0M516.6 102.8h0M479.4 70.4h0M411.7 88.3h0M484.9 115.8h0M412.3 72.1h0M459.4 81.4h0M411.9 97.4h0M426.8 92.1h0M493.7 133.5h0M434.4 103.6h0M431 106.7h0M430.8 127.5h0M444.4 90.9h0M501.6 107.5h0M416.8 78.6h0M411.9 99.3h0M470.5 120.9h0M397.3 116.3h0M441.5 98.5h0M492.9 94.2h0M455.4 87.9h0M440.9 75.2h0M429.6 99.5h0M419.8 119.3h0M439.5 58.2h0M463.2 64.9h0M491.5 130.1h0M489.4 78.3h0M433.9 103.7h0M432.1 76.2h0M474.7 117.2h0M391.2 105.5h0M438.4 101.6h0M440.6 113.2h0M416.3 96.5h0M418.9 105.6h0M460.5 133.1h0M395.6 111.6h0M424.3 85.5h0M433.5 84.3h0M456.4 97.2h0M408 90.6h0M489 107.1h0M444.2 89.2h0M442.8 110.6h0M440.8 99.8h0M429.7 103.8h0M420.3 96.4h0M489.6 116.6h0M462.4 81.7h0M445.4 126.9h0M485.1 111.3h0M428.1 105.1h0M472.2 114.1h0M450.9 119.2h0M421.4 109.1h0M477.3 108.4h0M403.4 90.9h0M478.1 76.3h0M422.7 100.4h0M466.9 97.5h0M499.1 102.1h0M465.7 144h0M436.9 66.8h0M451.4 101.7h0M437.4 119.6h0M411.2 111.6h0M412.7 116.6h0M456.8 79.8h0M472.4 87.3h0M392.3 103.1h0M450.6 95.6h0M465 132.1h0M455.3 105.3h0M418.5 99.6h0M485.4 113.2h0M412.5 90.7h0M473.3 106h0M506.7 97.1h0M384.5 90.8h0M461.7 94h0M461.8 106.7h0M462.8 78.2h0M430 72.3h0M440.5 107.3h0M405.1 98.3h0M458.5 85.4h0M470.2 99.7h0M432.3 80.2h0M416.4 131h0M439.8 72.5h0M447.4 129.8h0M455.7 87.4h0M447.3 107.6h0M454.6 96.9h0M409.3 88.5h0M359.2 104.1h0M470.1 117.6h0M499.3 102.8h0M407 79.1h0M424.7 132.8h0M458.2 126h0M482.8 107.8h0M473.7 99h0M493.1 111.9h0M449.6 102.2h0M462.4 123.1h0M467.4 86.7h0M437.2 99.4h0M493.1 93.4h0M469 125.9h0M479.6 135.9h0M438.9 97.7h0M484.3 114.9h0M413.4 119.8h0M465.2 97.8h0M367.5 73.2h0M415.7 113.9h0M474.6 113h0M437.1 95.5h0M453.7 126.4h0M397.4 97.5h0M506.7 78.3h0M470.3 109.6h0M450.7 99.9h0M460.7 134.6h0M462.3 102.3h0M498.6 104.1h0M457.5 109.4h0M402.4 98.4h0M446.3 76.2h0M493.4 109h0M471 98.2h0M434.2 122.8h0M465.9 144.3h0M457.9 82.8h0M473.8 87.6h0M401.2 79.6h0M423.4 85.9h0M475 92.5h0M444 101h0M460.4 121h0M519 88.2h0M444.8 73.7h0M463.7 71.2h0M430.5 117.1h0M427.7 120.5h0M452.6 74.9h0M407.5 66.9h0M381.8 93.6h0M493.8 125.8h0M445.6 117.7h0M488 109.6h0M453.8 113.2h0M455.6 107.3h0M474.8 94.9h0M470.5 136.6h0M411.8 95.5h0M493.8 88h0M420.6 88.7h0M461.8 76.1h0M535.5 113.2h0M451.5 119.9h0M509.3 87.5h0M437.3 118.5h0M466.7 139.2h0M452.2 107.7h0M467.9 83.6h0M425.3 82.8h0M422 91.2h0M465.5 81.1h0M403 72.9h0M424.3 92.9h0M473 101.1h0M429.8 108.5h0M425.1 76.8h0M410.6 127.5h0M453.8 119.7h0M437.4 114.4h0M457.9 90.9h0M441.2 129.6h0M513.1 103.9h0M432.8 129.7h0M384.6 110.1h0M457.4 86.6h0M452.6 93.5h0M452.2 133.4h0M396.4 110.6h0M489 103.7h0M450 104.4h0M449.6 104.3h0M401.3 80.8h0M467.5 100h0M450.9 89.7h0M496.8 100.2h0M436.7 107.1h0M413.2 79.3h0M454 114h0M421.2 98.8h0M463.3 115.9h0M413.9 111.1h0M444.3 121.6h0M442.6 110.7h0M448.7 112.9h0M435 95.7h0M423.6 107h0M451.7 85.7h0M433.1 94.3h0M454.7 114.5h0M442.7 99h0M376.9 98.3h0M452 83h0M493.7 130.6h0M462.8 92.8h0M470.1 110.6h0M466.4 102.8h0M433.9 114.7h0M408.8 88.6h0M480.3 88h0M490.4 74h0M470.7 98.6h0M468.2 82.9h0M463.1 112h0M447.2 125.3h0M465.7 64.8h0M454.9 79.4h0M461.4 107.8h0M417.8 117.6h0M430.3 103.4h0M469.2 109.2h0M439.3 108.1h0M371.4 99.8h0M451.7 129.5h0M375.7 101h0M516.6 88.9h0M476 96.4h0M472.9 107.8h0M431.9 84.4h0M415.6 91.6h0M445.9 91.3h0M453.9 89.4h0M424.9 109.4h0M457.6 95.3h0M476.5 85.8h0M472.7 91.8h0M417.9 97.1h0M376.5 127h0M451.1 105.5h0M426.8 123.3h0M464.9 111.5h0M509.9 72.3h0M503.8 115h0M463 88h0M490.8 83.3h0M507.4 90.4h0M449 131.6h0M464.3 75.7h0M480.8 94.5h0M447.9 120.6h0M434.1 110.2h0M431.7 68.8h0M452.3 99.3h0M433.1 89.6h0M478.1 101.5h0M439.4 112.4h0M500.5 98h0M491.7 101.2h0M408.6 120.3h0M491.2 74.8h0M439.9 93h0M495 115.3h0M471.5 82.4h0M452.1 90.3h0M476.9 81.9h0M433.8 101.3h0M464.2 92.1h0M462.7 116.3h0M445 117.8h0M464.5 103.7h0M421 90.2h0M469.5 108.1h0M413.2 96.7h0M475.2 83.4h0M464.9 121.5h0M474.6 108.2h0M432.6 112.1h0M553.1 91.8h0M443.1 115h0M452.3 137.6h0M426.9 108.3h0M501.9 83.1h0M437.4 99.7h0M484.6 104.7h0M421.8 100.7h0M463.2 98.6h0M439.6 108h0M483.7 97.5h0M442.9 103.8h0M426.8 85.6h0M467 104.9h0M412.3 112.8h0M423.4 88.6h0M475.9 116h0M395.2 77.8h0M478.1 98.3h0M440.7 95.4h0M420.8 118.3h0M462.7 89.3h0M470.3 124.8h0M437.9 73.7h0M447.9 97.8h0M476.5 120.3h0M475.5 116.4h0M454 83.9h0M431.6 77h0M421 111.9h0M437.3 77.1h0M473.6 114.1h0M473 95h0M463.1 102.4h0M492.2 146.8h0M440.2 126.3h0M439.3 113.8h0M444.5 76.1h0M513.6 115.2h0M387.9 93h0M463 100.8h0M464.6 126h0M459.7 72.3h0M527.2 117.1h0M490.6 108.6h0M480 91.9h0M421.1 126.6h0M472.6 81.9h0M441.9 100.1h0M455 102.8h0M465.5 64.8h0M442 74.8h0M476.3 87.6h0M503.8 121.9h0M484.6 122h0M459.4 112.4h0M392.1 96.7h0M493.8 68.7h0M487.7 109.7h0M449.2 91.7h0M436.2 119.1h0M471.8 127.1h0M423.2 135.8h0M477.8 116.9h0M418 110.4h0M427.5 79.6h0M454.6 102.7h0M411.1 73.7h0M452.2 116.6h0M474 83.3h0M413.2 91.8h0M485.7 91.4h0M437.7 90.8h0M470.7 111.5h0M462.5 92.6h0M439.5 103h0M440.3 81.8h0M397.1 117.5h0M434 87.2h0M427.7 115.1h0M501.3 145h0M492.5 64.2h0M413.6 78.2h0M480.3 101.3h0M458.8 122.2h0M443.7 91.3h0M468.3 109.8h0M481.3 92.3h0M435.2 108.3h0M448.8 79.3h0M457.8 116.3h0M465 69.7h0M447.7 132h0M432.8 101.2h0M430.2 82.2h0M459 140.3h0M479.8 123.1h0M462.4 122h0M428.7 90.2h0M476.8 115.2h0M458.8 110.6h0M477.4 75.4h0M490 116.5h0M426.7 94h0M447.2 122.6h0M432.7 120.9h0M428.7 86.3h0M519.3 99.7h0M483.9 108.6h0M397.5 104.6h0M469.2 96h0M437.5 96.8h0M489.4 116.7h0M456.4 108.8h0M446.5 120.4h0M458.7 105.9h0M469 87.6h0M460 71h0M445.9 114.1h0M451.2 94.8h0M471.7 97.4h0M420 91.2h0M458.5 74.1h0M452 93.9h0M445.8 54.2h0M478.9 97.5h0M416.4 80h0M438.9 131.2h0M426.9 105.1h0M472.5 99.9h0M439.7 101.9h0M454.6 113.9h0M468.7 89.8h0M405.1 90.1h0M469.9 97h0M425.3 140.6h0M446.6 101.3h0M456 66.7h0M478.3 118.4h0M471.8 149h0M512.7 92.4h0M452 161.9h0" stroke="#4a5156" stroke-width=".62" stroke-linecap="round" fill="none" opacity=".6"/>
<path d="M440 97.9h0M436.6 116.2h0M476.8 94.3h0M505.9 103.5h0M468.5 81.3h0M439.3 80.3h0M468.7 65.3h0M460.1 122h0M458.7 81.4h0M430.6 104.2h0M374.2 95.6h0M439.5 87.5h0M487.8 106.6h0M461.8 100.4h0M386.6 82.7h0M454.9 101.9h0M396.6 93.8h0M519.9 92.2h0M464 79.4h0M419.1 81h0M479.6 106.7h0M426.9 121.6h0M468.9 129h0M454.8 106.6h0M415.4 112.2h0M475.5 106.1h0M410.1 114.3h0M496.7 109.2h0M455.8 108.1h0M423.2 91.5h0M397.9 92.9h0M501 141.1h0M503.4 86.6h0M415.3 95.5h0M508.1 98h0M457.8 118.4h0M443.5 131.6h0M452.9 95.2h0M453.2 51.6h0M498.4 118h0M458.1 112.3h0M401 63.5h0M521.3 106h0M482.8 103.7h0M426.3 55.9h0M442 111.1h0M425.4 104.6h0M455.7 105.3h0M469.9 84.2h0M464.1 89.6h0M437.6 87.3h0M428.5 105.7h0M483.9 87.5h0M448.1 126h0M524.7 117.5h0M434.8 59.4h0M475.5 133.8h0M456 103.9h0M432.3 87.9h0M497.5 108.7h0M463.2 69.6h0M426.3 100.2h0M450.9 56.5h0M489.4 87.5h0M413 119.1h0M495.1 129h0M477.3 97.9h0M448.5 82.7h0M495.3 123.1h0M510 107.7h0M473.2 107.2h0M458.7 112.5h0M515.7 90.2h0M500 121.3h0M430.9 59.7h0M444.8 125.5h0M452 72.4h0M443.5 88h0M409.4 82.4h0M481.5 117.5h0M455.7 114.2h0M457.1 107.5h0M498 116.5h0M435.9 106.4h0M453.3 99.2h0M468.2 68.5h0M446.9 58.4h0M457.1 59.9h0M479.2 103.3h0M455.2 96.7h0M497.3 104.2h0M430.6 101.3h0M461.9 97.4h0M412.3 76.8h0M454.9 73.8h0M437.4 64.2h0M495 128h0M476.2 119.9h0M474.3 79.1h0M513.9 104h0M499.5 114.8h0M473.7 131.8h0M434.6 87h0M408.7 97.2h0M451.1 120.8h0M447.9 68.5h0M436.2 84.8h0M445.8 98.6h0M404.3 80.5h0M496.9 144.4h0M416.6 110.7h0M433.1 101h0M475.4 86.2h0M401.1 108.5h0M482.6 115.8h0M486 95.7h0M446.1 91.5h0M424.3 70h0M440.1 97.1h0M394 107.5h0M496.5 124.3h0M455.2 111h0M429.5 111.7h0M427.5 86.1h0M474.3 94.8h0M499.7 128.4h0M413.3 102.7h0M438.6 84h0M397.8 101.4h0M474.4 118.1h0M458.2 113.6h0M526.6 112.5h0M452.3 90.9h0M440.1 105.5h0M428.2 127.1h0M481.7 106.9h0M404.7 81.4h0M478 109.8h0M465.8 79.9h0M438.3 102.2h0M426.9 91.2h0M486.2 122h0M514 110.6h0M438.1 116.9h0M466.1 143.2h0M511.1 104.4h0M437.2 83h0M445.8 107.4h0M416.2 93.4h0M449.9 102.2h0M453.8 89.5h0M440.2 108.3h0M431.2 98.3h0M409.7 55.4h0M412.6 90.2h0M422.9 101.9h0M472.5 123.9h0M440.1 88h0M429.7 82.5h0M473.1 123.5h0M474.4 92.2h0M430.6 98.8h0M433.7 105.8h0M474.3 116.3h0M466.6 102.2h0M430.9 77.1h0M460.2 119.2h0M455.1 92.6h0M491.9 96.3h0M422.2 131.6h0M481.1 119.7h0M471.4 83.8h0M423.8 87.4h0M489.4 100.8h0M485.9 91.3h0M417.4 60.9h0M516.6 123.3h0M416.3 108.8h0M424.9 100.5h0M445.6 91.9h0M479.2 107.5h0M472.1 114.1h0M454.5 81.7h0M499.7 100.7h0M469.3 92.4h0M498.1 118.8h0M545 117.6h0M464.4 78.5h0M373.5 77.9h0M436 129.1h0M422.7 78.5h0M457.6 103.4h0M459.7 89.8h0M412.3 116.5h0M417.9 94h0M447.5 91.5h0M451.5 78.9h0M371.3 84.2h0M484.4 119.2h0M454.3 112.2h0M457.9 77.1h0M460.8 128.9h0M422.4 91.3h0M455.9 81.7h0M488.3 107.2h0M491.5 94.3h0M471.4 92.3h0M447.4 88h0M428.5 94.9h0M499.1 97.6h0M476.2 72.8h0M439.9 107.4h0M385.5 81.2h0M423.7 117.1h0M390.7 100.7h0M494.2 116.7h0M460.7 104.2h0M427.4 119.4h0M446.7 93.2h0M542.4 94.9h0M494 111.8h0M417.6 46.6h0M451.6 93.2h0M414.1 98.3h0M399.4 85h0M457.6 122.9h0M532.7 123.5h0M506.1 109.4h0M457.4 93.4h0M439.9 117.5h0M463.3 89.3h0M490.1 97.7h0M405 106.4h0M391.8 101.9h0M512.1 144.3h0M464.8 97.7h0M512.6 74.9h0M461.2 112.7h0M500.8 128.9h0M435.2 94.4h0M467.6 129.6h0M502 138.3h0M490.4 93.3h0M440.9 89.6h0M487.7 82.5h0M431.6 106.5h0M405.9 106h0M470.9 113.1h0M504.5 85.2h0M485.1 90.8h0M416.6 69.3h0M487.8 76.1h0M480.9 79.9h0M443.5 70.5h0M372.6 85.3h0M487.8 112.2h0M483 115.1h0M471.6 102h0M398.9 80.3h0M405.3 92.9h0M487.4 114.7h0M482.5 98.7h0M471.4 103.3h0M447.5 93.6h0M469.4 92.8h0M436.8 98.1h0M447.3 79.2h0M423.4 114.2h0M467.4 74.1h0M439.9 106.1h0M490.2 80.9h0M475.4 129.6h0M425.7 111.3h0M518.5 94.6h0M418.5 86.9h0M472.8 82.6h0M491.4 104.1h0M496.9 113.2h0M374.8 133.9h0M491.9 81h0M492.9 127.3h0M504.7 96.7h0M379.7 94.3h0M430.2 112h0M450.4 109h0M439 105.2h0M500.5 102.9h0M432.2 96.7h0M495.9 108.4h0M470.9 123.4h0M409.7 67.7h0M422.9 86.8h0M442.3 76.2h0M460.6 83.8h0M490.3 90.9h0M446.2 118.2h0M480.4 141.4h0M398.7 116h0M355.3 65.1h0M443.5 99.7h0M473.2 82.5h0M441.8 106h0M417.9 117.2h0M467.8 112.2h0M518 124.2h0M451.9 97h0M435.3 62.5h0M431.4 61.7h0M521.4 107.6h0M452.2 109.8h0M472.5 124.9h0M496.9 99.7h0M491.1 106.4h0M423.3 100.1h0M484.6 122.9h0M483.6 102.8h0M474.1 83.4h0M486.4 123.5h0M435.1 104.5h0M451.6 106.3h0M440.4 75.5h0M480.6 103.5h0M437.2 67.2h0M473.1 67.1h0M418.7 90.7h0M452 91.9h0M441.4 108.1h0M447.7 124.4h0M459.6 100h0M444.5 130h0M449 88.8h0M383.4 103.4h0M495.3 83.3h0M433.7 99.2h0M447.5 93.4h0M427.7 92.5h0M487.2 114.9h0M429.1 63.1h0M471.7 104.4h0M496.6 91.5h0M510.1 109.8h0M494.1 112.4h0M476.8 96.5h0M415.6 87.9h0M501.3 86.2h0M493.7 115.1h0M484.9 92.3h0M481 111.5h0M461.1 75.7h0M434.5 121.2h0M494 87.5h0M495.2 126h0M421.3 87.4h0M484.6 113.8h0M463.8 98.7h0M483.4 115.9h0M464.5 101.4h0M489.5 127.2h0M488.1 116.5h0M483.5 116h0M405 122.4h0M484.7 91.9h0M453.9 122.8h0M417.5 96h0M482.7 77.8h0M408.4 101.9h0M486 100.8h0M508.2 137.2h0M439.9 89.2h0M486.2 105.3h0M470.1 106.2h0M482 70.2h0M409.1 102.5h0M478.4 85.8h0M456.7 125h0M476.4 132.3h0M456 100h0M496.2 77.9h0M464.5 104.5h0M478 106.3h0M499.8 119h0M462.6 95.9h0M491.9 84.2h0M463.8 98.7h0M475.5 86.6h0M434 128.2h0M483.5 91.5h0M498.4 94.6h0M453.3 98.9h0M485.4 82.4h0M471.3 94.4h0M419.5 92.6h0M468.9 93.4h0M500.5 102h0M436.9 119.3h0M395.8 99.3h0M466.1 78h0M435.7 89.7h0M517.3 121.9h0M456.3 88.7h0M455.7 101.5h0M435.3 96.7h0M463.1 110.4h0M437.9 94.4h0M426.6 93.5h0M456.2 85h0M428.4 102.6h0M502.1 90.3h0M413.3 124.6h0M453.8 99.5h0M433.9 93.1h0M408.6 107.3h0M511.4 106.4h0M386.4 91.9h0M504.4 106h0M411.3 81.1h0M461.4 84.7h0M532.7 98.6h0M383.1 109.8h0M412.4 83h0M500.5 99.3h0M463 93.2h0M436.5 109.7h0M450.3 134.2h0M426.6 79.7h0M458.9 110.2h0M505.2 109.2h0M444.3 93.2h0M459.6 109.5h0M499 83.8h0M519.8 123.7h0M436.2 101.2h0M468.5 84.4h0M433.8 125h0M432.9 111.8h0M440.2 118.3h0M438.8 72.2h0M399.7 87.5h0M391.8 81.9h0M430.6 107.6h0M457.3 124.1h0M500.9 73h0M438.6 98.1h0M451 97.2h0M475.6 120.4h0M480.7 102.9h0M455.5 77.7h0M454.9 96.6h0M520.5 91h0M447 85.2h0M439.9 98.6h0M403.7 84.3h0M469.8 107h0M451.2 72.8h0M513.5 149h0M442.1 120.3h0M481.2 116.3h0M490.1 82.2h0M515.7 70.6h0M415.1 79.2h0M508.3 103.4h0M451.2 138.6h0M449.6 122.2h0M447.2 89.7h0M440.3 119.1h0M441.9 119.6h0M379.3 89.6h0M470.1 123.5h0M457.4 106.1h0M426.4 84.5h0M456.9 79.6h0M532.2 108.7h0M466.3 119.1h0M446.7 75h0M516.4 80.3h0M428.7 105.9h0M457.7 52.7h0M433.6 129h0M449.4 91.5h0M478.5 116.2h0M470.8 134.9h0M435.6 71.8h0M454.4 81.5h0M453.5 139.2h0M443.4 93.4h0M455.3 97.8h0M431.9 100.7h0M429.4 115h0M454.4 123.2h0M421.9 97.3h0M470.7 96.3h0M449.8 98.6h0M425.1 101.1h0M432.8 119.9h0M440.1 100.3h0M446.4 130.7h0M461.9 85.9h0M447.9 108.3h0M423.3 126.4h0M499.9 128.9h0M484.9 110h0M461.8 85.5h0M488.9 92.3h0M467.1 99h0M446.8 104.3h0M459.4 96.2h0M546.8 87.3h0M490.3 92h0M488.9 113.8h0M441.1 112.7h0M479 78.8h0M530.8 104.3h0M474 73.3h0M492.5 95.4h0M488.6 166.9h0M476.9 104.2h0M508.3 101.4h0M464.9 91.1h0M475.2 81.6h0M440 65.3h0M542.3 111.5h0M466.6 96.8h0M456 126.1h0M505.3 78.3h0M439 105.4h0M452.6 123.2h0M435.2 62.9h0M455.1 111.6h0M447.2 70.6h0M472.4 111.6h0M448.2 125h0M436.4 97.3h0M445.7 103.7h0M453.7 87.6h0M438.5 102.8h0M483.8 123.9h0M478.3 100.1h0M461 98.4h0M416.2 101.4h0M470.8 116.7h0M418.2 66.1h0M461.8 102h0M459.1 88.6h0M435.5 106h0M426.4 114.2h0M432.5 102.3h0M519.6 131.8h0M449.7 81.9h0M450.2 92.2h0M489.5 87.5h0M469.4 103.1h0M490.1 106.6h0M416.5 91.1h0M423.4 74.3h0M564.4 114h0M455.6 92.4h0M445 109.2h0M461.8 96.2h0M485.3 124.7h0M416.7 98.7h0M469.6 69.4h0M455.4 97h0M481.2 78.6h0M459.2 117.6h0M435.2 122.4h0M427.8 95.7h0M375.7 96.7h0M491.2 79.7h0M413.6 54.7h0M444.1 88.7h0M510.5 103.3h0M446 72.2h0M475.5 104.5h0M448.3 104.6h0M477 114.4h0M453.1 127h0M437.4 111.8h0M500.6 100h0M447 100.8h0M411 104.4h0M447.8 80.6h0M470.1 125.5h0M417.6 110.6h0M481.9 99.8h0M482.2 92.7h0M515.4 175.4h0M433.1 111.7h0M475 119.4h0M397.4 123.6h0M439.9 115.2h0M458.7 104.3h0M467.3 114.2h0M456.3 84.2h0M451.2 112.1h0M439.8 70.9h0M440.4 105.5h0M464.4 111.2h0M477.7 75.9h0M471.9 136.2h0M490.8 84.9h0M491.7 123.6h0M398.9 82.9h0M438.2 103.2h0M452.2 88.2h0M429 140.3h0M487.2 122.8h0M475.6 134.9h0M450.5 113.3h0M458.1 112.9h0M496.3 108.7h0M445.2 94.7h0M444.2 109.4h0M484.7 107.3h0M471.4 99.9h0M505 83.1h0M468.5 96.8h0M478.5 114.3h0M439.4 89.9h0M424.6 102.2h0M455.9 98h0M372.7 70.6h0M471.2 86.7h0M488.9 92.1h0M459 95.8h0M449.3 95h0M488.2 124.7h0M457.1 81.6h0M492.4 69.7h0M524.9 122.3h0M480.3 95.9h0M486.4 102.7h0M465.6 146.8h0M460.4 126.9h0M463.3 112h0M455.7 117.2h0M490.5 107.5h0M401.5 109.8h0M448.7 88.8h0M478.7 91.3h0M429.8 88.7h0M448.6 127.4h0M429.7 124.3h0M471.5 92.1h0M480.8 124.6h0M503 104.4h0M469.4 121.4h0M433.4 91.9h0M461.6 118.3h0M474.4 101.3h0M501.9 102.1h0M386.8 90.6h0M467.4 105.1h0M398.4 82.4h0M482.2 80.3h0M466 132h0M472.8 96.2h0M488.7 73.3h0M473.7 63.2h0M441.8 49.3h0M468.6 91.7h0M491.1 129.6h0M456 72h0M457.5 95.3h0M421.3 63.5h0M490.4 125h0M438.7 104.8h0M431.1 103h0M438.1 122.1h0M424.1 125.3h0M445.2 117.4h0M498.2 96.5h0M484.5 81.4h0M504.2 89.1h0M507.9 77.2h0M422.6 128h0M471.7 99.7h0M503.7 109.8h0M529.1 114.6h0M405.4 129.3h0M411.4 84.6h0M468 123.4h0M444.3 104.5h0M424.2 93.7h0M472.7 69.3h0M428.2 113.2h0M384.6 77.7h0M456.1 92.8h0M459.2 105.3h0M476 105.3h0M483.2 124.5h0M463.2 90h0M447.7 102.6h0M433.6 102.6h0M402.7 93.8h0M439.9 110.6h0M488.4 100.9h0M473.7 124.6h0M523.3 97.8h0M454.3 75.2h0M398.4 92.1h0M479.4 125h0M490.2 96.6h0M419.6 84.7h0M404.6 87.5h0M460.1 104.4h0M478.9 101h0M413.1 102.9h0M337.8 77.5h0M457.1 130.4h0M423.1 98.5h0M369.6 99.3h0M452.4 77h0M418.2 70.8h0M456.1 91.9h0M357.9 72.8h0M463 113.1h0M403.2 120.6h0M325.3 90.6h0M429.4 71.1h0M390.4 95.4h0M364 82h0M393.6 106.6h0M329.6 106.8h0M423.2 94.7h0M393.5 104.7h0M391.5 124h0M454 137.3h0M402.8 92.8h0M377 117.7h0M366.3 98.5h0M399.3 82.1h0M441 128.8h0M380 111h0M363.1 106h0M435.7 110.3h0M403.7 99.9h0M400.6 82.1h0M478.9 138.7h0M356.5 121.2h0M408.9 108.4h0M335.7 122.5h0M390.4 128.9h0M423.3 99.2h0M443.2 114.9h0M354.4 96.7h0M432.5 116.1h0M430.6 98.1h0M396.9 151.9h0M492.8 96h0M401.5 113.5h0M368.9 112.4h0M417.3 96.5h0M332.5 121.9h0M459.3 101.5h0M438.1 94.9h0M386.7 103.2h0M424.3 88.2h0M421.4 127.1h0M473.2 115.7h0M378.7 122.8h0M353.7 76.2h0M326.1 108.6h0M390.6 87.8h0M343.4 104.9h0M395.1 128.6h0M416.7 108.3h0M385.1 99.7h0M366.5 125.6h0M445.7 123.4h0M394.1 140.1h0M410.1 66h0M436.8 109.7h0M353.1 94.8h0M367.3 85.7h0M494.1 105.5h0M395.6 79.9h0M362.9 58.5h0M392 85.1h0M380.2 97.9h0M355.9 140.5h0M386.3 88.7h0M400.7 79.8h0M401 63.6h0M421.4 96.1h0M337.2 98.4h0M346 106.1h0M430.7 74.3h0M385.1 87.9h0M446.6 57.8h0M412.7 106.5h0M349.2 71.8h0M421.4 48.2h0M364 126.4h0M411.1 113.3h0M447 110.2h0M479.8 110.2h0M398.9 82.5h0M427.3 124.6h0M412.6 82.2h0M430.8 141.4h0M307 107.7h0M387.1 66.3h0M412.3 120.6h0M418.9 142.6h0M373.6 98.1h0M432 124.5h0M442.4 98.9h0M404.1 90.6h0M393.1 51.6h0M388.3 127.9h0M406.6 94.3h0M445.2 110.8h0M457 80.5h0M384.1 85h0M367.1 125.6h0M372.2 95.5h0M437.9 95.2h0M409.7 78h0M412.5 107.4h0M419.3 118.8h0M415.4 94h0M397 99.5h0M363 78.8h0M378.7 131.3h0M406 90.9h0M416 100.1h0M387.8 137h0M386.1 98.7h0M452.1 72.2h0M384.3 84.7h0M409.7 96.1h0M389.8 139h0M369.8 107.8h0M345.5 98.8h0M381.7 119.9h0M371.2 129.5h0M432.8 88.1h0M359.1 132.1h0M386.3 120.6h0M425.7 112.3h0M397.3 55.8h0M419.8 107.3h0M432.3 131.4h0M340.3 97.9h0M386.3 149.8h0M366.1 104.9h0M451.2 83h0M397.2 115.3h0M419.8 109.3h0M464 120.2h0M388.4 98.9h0M404.2 129.6h0M416.5 92.3h0M391.7 106.1h0M447.7 78.3h0M431.6 87.4h0M438.3 107.6h0M403.3 90.2h0M388.9 94.4h0M388.4 99.3h0M388.1 108.6h0M341.1 118.9h0M414.8 119h0M431.3 124.1h0M401.1 107.6h0M383.3 92.5h0M402.8 71.5h0M409.7 96.5h0M413.5 87.5h0M467.4 66.9h0M370.1 136.8h0M414.8 66.4h0M426.7 110.7h0M404.3 114.8h0M392.8 98.8h0M363.9 155.8h0M379.7 104h0M427.3 88.1h0M454.6 139.1h0M377.4 87.4h0M418.7 74.5h0M420.4 83.2h0M438.3 90.6h0M410.3 104.5h0M417.6 110.4h0M434.1 72.8h0M358.9 110.6h0M403.1 148.8h0M337 89.1h0M329.4 100.9h0M371.3 117.6h0M345.2 128h0M419.9 90h0M437.6 84h0M390.2 83.1h0M396.3 125.8h0M392.8 121.8h0M391.8 59.7h0M406.3 60.2h0M414.1 78.5h0M384.5 73.1h0M372.7 111.9h0M382.4 108h0M430.5 143.3h0M386 119.7h0M454.1 106h0M392.5 127.5h0M451 85.5h0M357.9 75.2h0M376.1 104.2h0M418.7 122.6h0M419 70.7h0M395.6 121.7h0M475.3 121h0M403.9 93.4h0M411.8 107h0M380.6 98h0M461.4 105.2h0M432.3 120h0M416.2 87.2h0M341.9 124.7h0M414.4 121.2h0M384.3 122h0M415.5 63.6h0M434.3 65.7h0M374.1 117.6h0M409.1 91.6h0M433.1 89.5h0M407.1 88h0M389.3 76.3h0M362.9 97.7h0M377 88.9h0M355.2 90.2h0M436.9 113.3h0M405 79.5h0M357.2 126.4h0M401 58.4h0M354.5 154.5h0M282.3 75.9h0M444.9 115.4h0M443.5 122.1h0M347.8 103.5h0M375.2 118.7h0M408.6 101.3h0M387.3 67.7h0M370.2 110.6h0M382.6 126.8h0M392.4 92.3h0M381.2 69h0M408.7 91.3h0M392.8 110.2h0M373.6 109.7h0M402 126h0M341.1 114.9h0M453.3 113.9h0M338.3 62.8h0M398.1 148.9h0M413.3 104.5h0M416 121.1h0M410.5 96.5h0M446.7 100.5h0M360.5 104.8h0M398.6 135.6h0M406.3 134.5h0M383.1 116.2h0M379.6 144h0M447.4 95.5h0M375.3 114.1h0M383.8 94.3h0M391.1 130h0M393.3 104.4h0M406.8 123.6h0M393.5 138.8h0M414.4 61.4h0M405.9 147.9h0M418.3 110.2h0M450.3 97.2h0M370.5 64.6h0M460.3 97.5h0M384.8 56.7h0M424.9 105.5h0M406.7 100.2h0M390.3 141h0M330.3 97h0M458.9 125.6h0M373.7 127.6h0M372.6 145.9h0M439.1 98.7h0M403.6 119.3h0M469.2 72.7h0M461.3 81.1h0M426.3 98.2h0M409.9 103.3h0M428.2 78.9h0M353.6 95.3h0M407 118.1h0M406.1 94.4h0M383.9 100.6h0M409.9 85.6h0M348.4 132.1h0M433.2 140.3h0M447 108h0M354.4 101.5h0M406 138h0M456.2 113.7h0M415.8 90.1h0M363.8 76.2h0M365.4 91.8h0M431.4 148.9h0M466.5 91.7h0M361.9 163.1h0M402.1 103.8h0M373 99.4h0M390.6 131h0M411.8 98.9h0M399.3 111.7h0M376.2 82.6h0M476.1 78.4h0M395.1 88.8h0M394.2 108.5h0M440.4 90.3h0M401.2 63.6h0M393.5 113.7h0M434.7 100.5h0M363.7 98.2h0M427.5 91.3h0M437.6 57.7h0M424.4 136.5h0M394.3 94.1h0M400.4 114.7h0M339.4 132.5h0M396.1 127.1h0M411 108.1h0M431.7 104.1h0M405.8 110.2h0M386.8 122.6h0M370.8 115.8h0M399.1 94.8h0M405.5 113.2h0M443.9 111.7h0M401 118.2h0M382.8 108.2h0M396.9 132.1h0M383.5 108.1h0M392.3 122.2h0M322 104.9h0M343.9 92.2h0M358.1 84.5h0M417.3 100.7h0M397.9 115h0M405.9 130h0M442.1 102.1h0M363.5 93.3h0M441.4 93.5h0M414.4 130.5h0M375.2 106.2h0M453.7 93.7h0M349.9 119.2h0M360.5 76.9h0M393.2 106.4h0M415.1 103.1h0M393.8 101.2h0M324.6 80.3h0M390 124.1h0M397.6 138.5h0M491.2 76.8h0M449.5 106.4h0M405 117.2h0M361.8 150.3h0M412.8 95.4h0M359.1 84.5h0M407.8 103.9h0M413.6 145.3h0M386.4 105.4h0M409.5 109.4h0M388.9 140.4h0M380.3 60.2h0M455.2 59.6h0M421.3 122.6h0M389.7 119.9h0M373.3 75.6h0M406.9 114.6h0M420.7 104.8h0M430.9 108.4h0M453 87.5h0M417 94.7h0M360.8 86h0M472.7 105h0M441.8 99.3h0M430.1 138.5h0M448.1 116.9h0M347.6 71.7h0M387.3 112.5h0M382.4 133.4h0M442.8 109.8h0M358.6 126.3h0M389.1 103.3h0M454.5 118.4h0M423.5 84.8h0M386.9 120.1h0M467.3 75.7h0M353.3 130.5h0M416.6 73h0M392.4 60.6h0M418.6 114.9h0M390.7 100.5h0M370.8 106.3h0M408.1 112.8h0M353.7 103.4h0M419.3 85.8h0M389.1 108.3h0M433.2 111.1h0M384.6 114.1h0M376.6 144.7h0M414.6 88.9h0M444.3 105.4h0M326.9 115.5h0M404.7 94.8h0M422.7 79.4h0M350 92.4h0M369.2 125.8h0M423.2 98.5h0M371.1 116.6h0M377.8 88.9h0M461.4 113.1h0M366.9 90.1h0M369.8 86.7h0M318.3 106.3h0M361.5 105.1h0M356.7 134.2h0M461.2 70.7h0M443.6 114.4h0M355.5 137.1h0M470.1 131.9h0M427.7 96.1h0M394 90h0M429.1 93.8h0M413.9 110.2h0M373.2 107.9h0M337.9 111.2h0M368.1 116.3h0M400.2 82h0M387.7 80.9h0M374.1 78.8h0M434.9 76.5h0M362.5 102h0M431.9 110.4h0M383.2 155.9h0M404.2 114.9h0M360.5 104.3h0M400 133.1h0M372.5 88.9h0M338.4 111h0M399.6 124h0M398.5 120.1h0M429.7 112.3h0M410.4 96.8h0M364.3 78.5h0M378.5 100.9h0M312.1 91.8h0M360.5 118.1h0M446.3 101.2h0M454 115.5h0M427.3 71h0M411 124h0M421.1 86.5h0M417.5 72h0M338.7 75.8h0M369.3 91.1h0M442.3 127h0M442.1 118.6h0M408.8 79.9h0M389.2 105.8h0M386.6 101.8h0M380.9 71.8h0M367.3 83.7h0M331.8 62.2h0M405.5 86.2h0M384.1 49.7h0M392.6 87.7h0M461.1 84.8h0M421.2 87.7h0M375.3 87.1h0M420.8 127.7h0M346.7 96.9h0M437.6 108.9h0M409.6 119.5h0M393.3 122.5h0M420.5 117.9h0M452 92.7h0M383.7 81.5h0M365.1 88.1h0M475.4 94.3h0M400.7 104.1h0M453.3 102.2h0M376.1 126.4h0M413.6 101.9h0M377.4 140.7h0M422.7 125.1h0M390.3 94.1h0M376.3 121.6h0M412.3 132.2h0M327.9 112.4h0M391.8 112.1h0M367.5 69.5h0M356.7 155.6h0M379.4 98.8h0M383.1 101.1h0M401.3 127h0M371.9 100h0M333.7 86.6h0M381 117.5h0M431.5 83.2h0M351.4 119.2h0M422.2 106.8h0M416.5 127.1h0M384.1 79.2h0M411.1 129.5h0M373.4 110h0M385.8 144.4h0M363.6 90.7h0M416.7 142h0M449 118.4h0M375.8 120.1h0M442.8 89.1h0M323.8 115.4h0M368.4 117.7h0M363.9 87h0M461.6 80.3h0M378.9 88.2h0M427.9 133.9h0M326.8 107.2h0M404.1 123.2h0M420.3 109.9h0M398.7 106.4h0M302.6 108.5h0M406.4 95.6h0M429.1 129h0M447.3 107.5h0M414.3 108.6h0M339.5 75.7h0M392.5 110.3h0M432.4 90.2h0M370.7 93.7h0M420.3 125.2h0M382.9 81.7h0M403.3 99.9h0M427.2 116.9h0M374.6 127.6h0M502.7 93.4h0M405.5 110.5h0M412.3 109.8h0M373.4 80.9h0M402.2 60.2h0M390.4 64.6h0M347.6 116.3h0M345 106.1h0M410.3 76.6h0M396.9 90.9h0M305.5 95.8h0M322.9 96.7h0M388.9 103.4h0M397.5 149.1h0M421.9 88h0M355.5 106.9h0M421.3 88.2h0M388.9 91.1h0M381.8 86h0M394.9 99.3h0M435.5 92.7h0M420.1 111.1h0M432 108.3h0M375.3 85.7h0M389.8 143.2h0M358.2 80.1h0M380.1 111.3h0M385.7 148.3h0M383.2 89.4h0M425.7 131.1h0M415.3 133h0M427.3 110.9h0M404.6 66.2h0M438.6 133h0M404.1 105.9h0M434.8 92.8h0M418.1 130.1h0M426.5 89.2h0M397.6 125.7h0M355.4 92.8h0M348 114.9h0M470.5 82h0M414 95.9h0M416 85.3h0M394 89.4h0M383.5 107.8h0M503.4 100.5h0M359.7 107.8h0M397.7 130.2h0M398.2 101.6h0M359.3 66h0M354.2 98.1h0M374.7 105.6h0M387.6 124.8h0M382.5 125.1h0M429.3 123.4h0M357.6 99.3h0M414.6 117.2h0M452.9 74.5h0M432.1 130.4h0M359 112.9h0M293.7 114.4h0M430.4 96.2h0M417.9 105.1h0M378.9 90.3h0M446.1 115.6h0M385.4 76.9h0M403.9 123.8h0M362.6 115.1h0M411.5 145.4h0M384.5 103.2h0M381.9 102.1h0M438.9 107.9h0M407.7 104.7h0M346.2 101.8h0M424.9 81.5h0M430.1 81.4h0M370 92.4h0M385.9 98.1h0M401.9 79.7h0M391 80.3h0M404.5 98.2h0M423.4 119.1h0M382.3 100.1h0M474.9 117.8h0M374.4 123.8h0M380.6 119.7h0M470.9 95.4h0M485.8 95.7h0M401.4 65.9h0M393.3 90h0M361.4 113.6h0M441.1 81.8h0M406.2 131.6h0M369.5 133.3h0M414.6 96.5h0M449.3 122.8h0M424.7 75h0M479.5 82.6h0M441.7 96.4h0M415.9 104.2h0M398.8 100.2h0M419.8 86.4h0M443.8 144.2h0M430.9 109.9h0M438 109.8h0M408 117.9h0M427.6 107.6h0M443.7 99.3h0M394 92.6h0M353.3 70.6h0M462.1 134.5h0M421 85.2h0M384.2 70h0M408.4 87.5h0M391.1 71.3h0M338.6 144.7h0M393.4 111.5h0M348.7 132.8h0M407.3 133.7h0M396.1 115.6h0M440.8 115.7h0M395.7 89.2h0M413.5 102.3h0M389.2 91.7h0M386.3 104.9h0M349.7 89.7h0M435.7 129.9h0M406.1 119.6h0M379 101.8h0M407.5 69.9h0M385.1 118h0M373.9 122.1h0M409 102.6h0M443.7 78.3h0M390.3 112.8h0M348.7 125.4h0M377.9 64.9h0M464.7 115.6h0M370.8 66.9h0M442.8 105.6h0M391.4 139.6h0M426.6 105.9h0M396.2 113.8h0M343.2 97.4h0M385.2 103.9h0M476 151.9h0M395.3 131.2h0M420.3 97.6h0M387.9 96.2h0M395.3 104.4h0M411.6 148.8h0M417.1 108.3h0M479.9 126.7h0M399.5 96.6h0M393.5 78h0M376.2 131h0M352.8 102.4h0M342.1 88h0M423.9 89.9h0M333 90.3h0M450.7 91.6h0M431 72.6h0M389.4 128.5h0M358.5 111.8h0M401.1 123.9h0M400.9 97h0M440.7 111.1h0M373.4 107.4h0M386.5 127.9h0M398.2 120.6h0M390.1 111.3h0M377.6 90.8h0M338.4 79.5h0M341.1 87.7h0M375.8 91.1h0M392 93h0M436.1 78.8h0M483.2 137.8h0M461.8 109.5h0M414.3 63h0M467.7 81.8h0M395.9 76.7h0M381.2 108.9h0M483.4 125.7h0M361.7 83.9h0M385.2 116.6h0M390.7 98.4h0M452.7 127.4h0M378.7 131.8h0M428.3 110.3h0M385.5 118.6h0M356.1 103.9h0M408.6 96.4h0M406.2 80.4h0M358.5 110.6h0M369 102.6h0M371.6 96.2h0M434.8 102.5h0M416.8 100.2h0M408.7 82.9h0M417.8 93.3h0M383 127.2h0M417.4 99.3h0M378.4 132.3h0M352.2 80.6h0M374.9 76.5h0M407.8 106.6h0M403.4 119.7h0M438.3 90.7h0M339.4 116.7h0M392.3 122.9h0M414.4 125.8h0M365.6 101.8h0M409.2 103h0M385.5 70.5h0M359.6 104.5h0M440.6 109.7h0M350.2 132.6h0M436.2 78.2h0M385.3 86.9h0M366.4 83.7h0M368.4 122.2h0M373.7 52.8h0M369.8 82.1h0M409.9 145.7h0M333 117.3h0M444.9 77.1h0M430.3 102.8h0M450.2 121.1h0M364.9 115.1h0M316.9 99.5h0M377.8 88h0M394.2 120.8h0M411.2 103.9h0M381.6 120.4h0M397.3 112h0M405.7 94.6h0M344.6 133.2h0M465.3 93.9h0M359.9 112.7h0M409.8 91.2h0M439.1 99.3h0M372.2 99h0M400.5 90.6h0M459.1 108.8h0M390.2 130.5h0M438 141.6h0M410.9 133h0M408.6 100.5h0M426.2 133.4h0M392.1 112.5h0M392.9 140.3h0M435 78.6h0M409.8 133.9h0M418.3 91.9h0M357.4 127.4h0M401 94.6h0M444.1 122.4h0M432.8 98.3h0M412.9 66.1h0M381.9 84.5h0M378.5 99.1h0M416.3 104.5h0M451.6 58.8h0M402.1 79.8h0M447.5 89.3h0M389.8 99.7h0M443.7 108.5h0M364.6 87.5h0M407.3 73.4h0M362.1 110.1h0M424.3 97.3h0M421.2 121.9h0M366.4 93.4h0M373.8 117h0M384.6 86.1h0M347 109.4h0M367.2 105.8h0M369.5 113.1h0M428.7 85.2h0M450.3 101.6h0M384.6 86.9h0M390.2 100.8h0M408.2 116.5h0M381.8 164.1h0M390.5 104.7h0M430.7 118.4h0M408.8 106.3h0M397.5 126.9h0M380 113.3h0M453.5 125.1h0M378.5 111.2h0M404.9 152.3h0M363.4 131.8h0M379.2 69.8h0M403.9 110.1h0M386.4 105.6h0M419.7 59.7h0M403 86.7h0M350.8 94.8h0M317.6 89.3h0M436.3 106.7h0M379.5 68h0M453.7 119.1h0M401 119.6h0M373 111.2h0M420.6 97.4h0M390.8 104.2h0M401 94.7h0M367.1 127.1h0M423.5 114.2h0M439.9 144.2h0M381.6 96.7h0M464.6 133.2h0M380.1 92.5h0M409.5 100.7h0M341.7 83.1h0M331.3 114.6h0M476.1 102.9h0M451.7 116.6h0M441.8 134.1h0M339.5 103h0M408.6 111.7h0M415.6 122.2h0M403.3 102.9h0M411.2 93.1h0M367.4 111.3h0M394.7 114.2h0M359.5 119.8h0M387.9 120.8h0M413.8 90.7h0M372.3 113.1h0M390.5 128.8h0M385 94.8h0M401 111.4h0M433.5 91.7h0M408.9 107.5h0M414.6 139h0M348.6 107.6h0M387.4 84.8h0M429.8 111.1h0M369.5 108.5h0M384.8 126.5h0M365.6 76.6h0M448.4 85.8h0M384.1 102.6h0M374.2 73h0M422.6 126.9h0M439.9 63.5h0M418.1 87.5h0M435.7 74.5h0M408 91h0M395.7 120.2h0M384.5 116.2h0M382.1 122.7h0M378.9 116.2h0M413.6 63.4h0M396.3 110.2h0M403.5 67.1h0M422.1 94.1h0M398.4 96.3h0M351.1 93.2h0M371.8 114h0M360.1 87.9h0M331.7 138.9h0M404 116.1h0M357.2 127.8h0M354.2 119.4h0M361.5 122.1h0M431.7 103.3h0M389.1 143.5h0M436.2 83.1h0M397 113.4h0M384.6 104.2h0M420.6 99.7h0M421.7 110.5h0M404.4 89.1h0M362.9 121.6h0M383.8 119.9h0M357.7 106.1h0M390.9 119h0M403.6 83.3h0M453.5 67.9h0M451 92.5h0M424.5 99.4h0M434.5 154.1h0M408.4 99.6h0M499.8 124.9h0M455.1 121.1h0M495.3 146.5h0M413.9 106.5h0M415 117.3h0M438 100.3h0M406.9 86.8h0M411.3 84h0M364.6 88.5h0M433.9 132.8h0M405 109.9h0M429.2 101.1h0M392.2 104.5h0M336.2 92.9h0M418.1 103.5h0M442 103.4h0M354 117.2h0M365.1 122.4h0M389.2 71.4h0M391.2 108.8h0M338.9 131.7h0M463.2 83.7h0M436.4 99.2h0M377.9 107.6h0M334.8 126.2h0M413.1 116.1h0M471.4 99.8h0M429.8 114.2h0M441.6 125h0M366.1 112h0M408.4 141.4h0M346 112.7h0M471.2 83.2h0M420.5 88.5h0M324.2 101.5h0M333.5 100.1h0M417.3 116.7h0M405 111.3h0M388.8 138.6h0M422.2 120.5h0M472.3 134h0M413.2 89h0M335 95.7h0M394.3 118h0M352.8 106.1h0M371 116.8h0M411.7 109.3h0M393.8 91.8h0M361.6 138.4h0M398.9 127.1h0M370.5 73.2h0M418.9 91.9h0M391.1 104.7h0M413.9 117.9h0M390.2 102.9h0M426.7 77h0M394.9 120.9h0M399.3 100.2h0M379.4 128.4h0M404.8 110.4h0M335.9 124.4h0M495.7 121.1h0M375.2 122h0M403.2 94.2h0M382.6 124.9h0M382.1 108.4h0M414.1 79.4h0M381.2 96.5h0M384.2 97.6h0M350 113.8h0M366.3 118.1h0M357.5 82.1h0M464.4 118.9h0M351.5 103.1h0M360.9 83.3h0M406.5 121.1h0M450.9 89.2h0M338.6 80.6h0M343.8 119.6h0M404 122.4h0M411.6 91.3h0M348.5 125.6h0M334.6 124.5h0M364.9 94.1h0M426.3 144.4h0M397.9 103.3h0M426.2 109h0M395.6 56.8h0M398.2 117.2h0M421.5 92.1h0M395.1 113.3h0M407.9 70.4h0M366.5 127.6h0M377.7 133.6h0M416.2 142.3h0M390.7 45.6h0M372.4 116.3h0M423 111.4h0M399 90h0M372 102.9h0M431.6 133h0M489.2 88h0M369.7 108.8h0M343.8 103.5h0M371.2 112h0M365.7 96.7h0M353.7 122.5h0M356.7 124.1h0M429.7 77.5h0M430.1 127.1h0M452.5 89.8h0M426.1 99.3h0M382 127.2h0M438.2 106.7h0M377.2 116.3h0M386.7 120.5h0M356.9 116.8h0M443.3 94.1h0M435.5 85.8h0M382.4 118.5h0M387.9 120h0M400.4 112h0M406.3 101.1h0M429.5 122h0M401.5 104.4h0M413.5 77.6h0M345.1 110.5h0M388.2 115h0M334.5 120.4h0M463.2 87.2h0M449.2 90h0M424.8 111.6h0M439 96.1h0M471.1 103.7h0M432.8 123.8h0M341.7 112.9h0M391.5 141.5h0M314.2 110.9h0M369.6 139.2h0M354.2 126.4h0M398.6 156h0M412.9 105.6h0M365.5 103.6h0M388.7 131.3h0M408.9 95.1h0M393.2 96.1h0M392.4 110.3h0M312.3 112.9h0M382.9 77.5h0M427.3 110.6h0M408.1 99.3h0M345.4 105h0M389 109.1h0M408.3 101.8h0M363.7 127h0M423 115.3h0M369.9 101.9h0M386.8 107.2h0M394.8 126.4h0M478.9 121.4h0M387.2 131h0M378.1 103.1h0M424.5 108.6h0M381.7 145.9h0M405.7 105.1h0M317.6 139.3h0M409.4 122.7h0M416.2 170.9h0M358.2 167h0M489.6 120.4h0M391.8 215.3h0M405.2 138.4h0M332.4 200.2h0M519.4 141.6h0M453.6 142.6h0M449.1 142.2h0M461.3 199.5h0M463 138.2h0M448.7 168.5h0M486.7 98h0M433 130.9h0M293 133.6h0M490 155.4h0M483.4 85.5h0M444 171h0M545.7 131.8h0M351.2 210.7h0M277.5 114.7h0M518.3 252.7h0M465.9 181.3h0M346.6 152.3h0M425.3 129.5h0M483.2 153.8h0M371.8 156.4h0M491.6 83.8h0M563.7 211.5h0M535.4 121.9h0M446 141.7h0M387.4 159.3h0M448.8 181.5h0M424.7 159.2h0M385.6 153.8h0M369.7 123.8h0M558.3 177.6h0M443 198.6h0M388.9 125.1h0M418 166.5h0M528.4 194.8h0M542.7 159.7h0M408.4 154.5h0M456 162.1h0M501.6 142.2h0M409.4 240.7h0M380 123.2h0M377.3 206.8h0M439.5 192.6h0M414.3 66.4h0M368.3 148h0M425.2 188.6h0M495.2 192.5h0M492.1 124.4h0M430.8 159.3h0M565.9 125.9h0M406.8 104.1h0M443.1 141.9h0M364.6 144.8h0M480.8 221h0M436.2 164.1h0M340.1 174.8h0M405.4 97.4h0M559 126.2h0M491.5 140.7h0M440.5 219.7h0M505.5 109.6h0M362.7 74.8h0M397.8 140.3h0M360 183.4h0M408.2 80.9h0M425 138.1h0M485.9 105.3h0M495 217.4h0M498.4 188.2h0M417 144.7h0M446.1 142.4h0M474.5 162.1h0M401.4 118.3h0M434.7 114.8h0M477 113.3h0M393.7 142.9h0M478.5 126h0M511.5 197.7h0M394.3 59.6h0M307.7 149.6h0M446.7 172.8h0M376.2 187.3h0M457.2 143.6h0M429.1 89.4h0M469.4 119.2h0M504.1 206.5h0M495.3 148.2h0M427.1 131.9h0M380.6 116.9h0M299.9 123.2h0M319.2 120.2h0M408.9 83.5h0M454.6 129.5h0M398.3 182.9h0M399.9 200.6h0M351.6 130h0M351.1 114.4h0M333.9 185.3h0M481.7 150.8h0M335.6 85.5h0M484.2 153.2h0M385.8 168.3h0M464.2 216.3h0M460.3 134.8h0M483.4 179.4h0M514.6 150.5h0M388.8 186.5h0M383.5 150.7h0M414.5 156.3h0M403.1 105h0M482.6 145.3h0M437 137.1h0M459.8 187.7h0M413.4 145.3h0M506.9 153.9h0M335.4 117.7h0M454.3 153.9h0M468.4 164.9h0M404.4 92.4h0M399 148.1h0M492.8 164.2h0M421.5 148.2h0M337.6 73.6h0M362 131.1h0M508.1 111.7h0M386.1 154.6h0M508.3 214.4h0M514.7 197.9h0M430.6 135.3h0M475.7 135.2h0M395.3 120.1h0M414 159.5h0M403.4 117.6h0M478.2 135.9h0M381.5 40.9h0M437.9 116.4h0M448.1 120.8h0M473.9 135h0M306.9 174.8h0M343.8 79.7h0M397 90.2h0M422.5 170.9h0M454.5 114.1h0M452 145.9h0M556.9 177.8h0M477.9 157.6h0M479.3 126.5h0M404.6 180.3h0M475.4 215.7h0M486.8 118.9h0M480.6 146.7h0M426.4 185h0M477.4 148.6h0M535.6 127.6h0M395.4 125.4h0M306.8 159.6h0M494.1 120.5h0M480.6 167.4h0M423.1 162.3h0M417.6 120.5h0M597.3 200.3h0M407.4 170.8h0M360.9 175.7h0M404.8 180.9h0M478.7 98.2h0M397.2 178h0M412.3 168.3h0M450.4 190.7h0M419.6 113.1h0M440.4 186h0M434.1 163.9h0M384.5 94.8h0M434.6 199.5h0M376.1 108.2h0M500.6 120.9h0M381.6 155.6h0M429.1 124.5h0M329.8 145.1h0M414.4 136.1h0M363.7 148h0M521 196.7h0M432 147.6h0M463.6 188.7h0M330.5 164.4h0M371.8 105.3h0M423.1 181.1h0M355 159.7h0M504.8 167.1h0M407.6 188.7h0M436.3 215h0M451.3 182.3h0M439.8 92.5h0M481 175.1h0M400.1 138.2h0M461.8 143.7h0M506.4 175.7h0M453.2 139.9h0M434.9 213.8h0M417.2 157.3h0M441.8 151.5h0M472.7 187.1h0M418.8 178.3h0M332.3 178.1h0M443.8 176.2h0M430 147.4h0M464.9 160.3h0M455.3 68.3h0M540.2 110.4h0M361.3 177.6h0M384 127.8h0M464.3 226.2h0M366.3 208.5h0M465.8 105.9h0M435.3 162h0M304.5 240.4h0M482.5 127.1h0M515.5 179.5h0M451.9 143.7h0M358.4 126.8h0M486 147.8h0M377.8 139h0M426.1 178.2h0M467.7 123.9h0M389.5 161.6h0M344.6 106h0M426.4 168.9h0M433.5 162h0M393.8 111.9h0M391.9 147.7h0M486.1 129.8h0M438.6 117.1h0M403 190.2h0M415.8 74.7h0M444.1 173.4h0M438.7 178.3h0M432 125.9h0M350.2 177.7h0M410.4 181.3h0M410.4 94.5h0M438.3 171.1h0M501.6 180h0M497.9 131.8h0M471.2 178.9h0M439.3 180.1h0M424.1 119.5h0M470.7 77.6h0M407.8 160.8h0M423.2 118.5h0M401 76.1h0M437.3 135.1h0M449.5 58.5h0M546.3 156.1h0M459.6 213.3h0M479.4 175.7h0M416.9 110.2h0M498.8 144.8h0M488.8 123.3h0M375.6 138.9h0M438.9 119.7h0M440.1 99.1h0M457.8 137h0M471 201.6h0M390 94h0M393.4 158.9h0M452.9 166.3h0M506.9 83.6h0M366.1 181.2h0M349.2 133.1h0M488.3 247.4h0M474.4 225.4h0M501.8 151.7h0M383.3 134.6h0M433.2 109.7h0M460.1 99.9h0M457.7 185.3h0M432.7 139.5h0M437.7 134.4h0M496.8 154h0M408.4 172.1h0M400.2 181h0M413.3 146h0M410 137.7h0M444.6 155.6h0M411.9 227.8h0M426.9 66.1h0M526.8 120.1h0M451.8 171.7h0M417.6 152.7h0M501.5 210.4h0M397.6 195.3h0M424.3 226.6h0M438 118.7h0M401 168.3h0M417.6 137.4h0M436 188.7h0M355.2 143.2h0M409.7 180.7h0M457 124.4h0M452.4 159.6h0M458.2 133.7h0M572.3 163.8h0M478.6 139.6h0M436.7 109.4h0M423.4 192.3h0M435.7 161.9h0M455 197h0M427.8 109.2h0M536.3 90.2h0M379.8 114.6h0M474.5 151h0M460.8 186.1h0M366 180h0M464.9 203.9h0M458.7 215.5h0M396.7 172.4h0M567.5 177.9h0M483 128.2h0M414.5 173.8h0M414.2 126.5h0M401.3 112.2h0M448.3 175.8h0M439.7 159.7h0M352.4 169.7h0M384 112.6h0M389.5 188.8h0M412.6 160.5h0M418.5 140.5h0M405.3 114.7h0M481.1 115.3h0M500.3 107.3h0M432.3 205.5h0M323.9 74h0M424.5 173.5h0M470.8 146.6h0M437 127.6h0M456.2 135h0M444 147.9h0M347.6 170.8h0M291.6 147.3h0M472.5 156.7h0M417.6 92.4h0M473 85.9h0M407.8 219.8h0M434.9 110h0M525.2 103.5h0M362.6 182.2h0M447.2 92.5h0M371.1 168.5h0M435.2 187.3h0M462.6 164.9h0M467.5 194.3h0M455.5 98.3h0M368.4 89.6h0M452.6 145.5h0M487.7 159.3h0M494 157.1h0M554.6 189.7h0M474.1 127.6h0M394.9 58h0M405.6 161.1h0M443.9 142.6h0M490.8 192.3h0M359.3 219.6h0M488.3 162.6h0M470.1 179.4h0M394.9 107.3h0M465.5 191.6h0M392.4 156.1h0M435.6 160.1h0M414.3 182.9h0M458.6 109.1h0M367.6 160.6h0M464 173.4h0M305 190.5h0M427.1 76.6h0M406.5 141.4h0M511 250.8h0M470.5 140h0M413.2 128.7h0M375.3 210.6h0M422.4 247.7h0M401.5 148.7h0M567.8 144.9h0M286 100.1h0M443.9 135.8h0M305.6 93.5h0M501.3 129.4h0M391.4 149.2h0M527.3 167.8h0M403.8 163.5h0M498.1 162.1h0M457.3 105.6h0M498.9 190.7h0M437.2 160.1h0M274.9 98.5h0M398.9 132.7h0M348 147.4h0M490.1 162.8h0M468.7 150.7h0M432.8 180.1h0M455.9 196h0M450.8 140.2h0M405.7 143.9h0M554.8 126.9h0M452.2 146.2h0M423.5 166.9h0M349.5 169.3h0M401.7 150.7h0M438.9 147.1h0M432.5 120.9h0M409.4 154h0M442.2 107.7h0M373.7 144.2h0M438 151.2h0M357 100h0M387.1 154.5h0M397.7 134.8h0M482.3 182.1h0M468.4 136.5h0M438.6 169.7h0M362.5 199.3h0M414 153.3h0M477.2 188.7h0M512.3 138h0M357.4 122.1h0M426.4 73.2h0M444.8 145.5h0M465 110.1h0M437.4 154.8h0M489.3 77.3h0M362.4 102.7h0M524.6 168.9h0M370.9 154h0M452.4 86.9h0M470 139.5h0M485.9 260.8h0M483.3 189.7h0M485.8 165.1h0M435.7 113.2h0M476.6 177.8h0M523 174.6h0M392.4 160.3h0M352.9 173.4h0M381 144.1h0M511.8 197.2h0M520.2 93.5h0M401.1 243.3h0M454 141.2h0M469.3 130h0M487.2 218.6h0M328.3 154.9h0M400.3 182.3h0M427.9 123.8h0M454.4 164.3h0M437.9 178.5h0M428.4 103.3h0M456.3 144.7h0M295.4 115.3h0M489.7 131.4h0M497 110.5h0M398.6 160.3h0M460.4 163.8h0M546.6 215.2h0M541.7 165.7h0M447.5 125.1h0M378.6 82h0M447.3 155.1h0M423.9 135.3h0M473.2 236.3h0M351 225.9h0M417.5 209.2h0M460.2 118.1h0M422 91.8h0M500 151.7h0M380.8 104.5h0M359.5 192.7h0M418.3 151.2h0M488.5 142.8h0M421.9 146.7h0M396.9 192.7h0M490.8 121.8h0M448.3 171.2h0M418.1 93.9h0M447.3 143.4h0M429.9 122.4h0M471.2 168.4h0M446 157.6h0M385.6 188.4h0M407.2 171.9h0M419.6 122.7h0M468.9 102.8h0M465.7 122.5h0M394.8 125.4h0M429.8 139.4h0M461.5 124h0M493.7 202.8h0M446.7 188.6h0M551.1 159.1h0M443.7 131.3h0M482.1 148.3h0M420.7 145.1h0M382.8 139.3h0M455.9 88.8h0M469.1 138.3h0M470 81h0M446.9 152.9h0M415.5 172.8h0M399.7 100.9h0M420.8 153.4h0M469.5 131.1h0M497.7 132.8h0M239.4 192.9h0M467.3 190.5h0M496.8 179.5h0M513.3 145.9h0M457.7 169.7h0M478.1 149.3h0M410.6 163.1h0M440 114.5h0M469.2 152.5h0M379.5 123.9h0M403.7 87.6h0M438.5 217.2h0M357.8 168.2h0M447.2 120.1h0M364.8 78.6h0M454.8 123.9h0M446.1 118h0M411.2 120.9h0M395.8 82.3h0M415.8 112.9h0M311.6 130h0M413.6 161.9h0M459 74.7h0M507.1 161.9h0M416.8 106.8h0M436.1 108h0M519.7 151.5h0M541.9 140.8h0M406.5 172h0M493.4 187.5h0M507.6 149.9h0M472.5 130.2h0M370.8 209.3h0M372.8 212.7h0M468.9 170.6h0M572.1 167.3h0M421.8 187.1h0M517.8 221.7h0M549.8 148.5h0M355.8 207.3h0M406 137.8h0M517 207.3h0M497.7 139.7h0M469.5 158h0M441.3 132.2h0M474.4 157.2h0M396.1 183.1h0M586.9 140.2h0M375.6 126.8h0M333.3 153.1h0M450.5 133.3h0M506.8 243.3h0M421 88.2h0M418.5 247.9h0M385.5 114.1h0M428 187h0M370.1 202.5h0M378.3 160.6h0M365 80.4h0M410.1 131.4h0M544 171.2h0M431.7 171.3h0M443.1 190.1h0M557.9 216h0M392.8 200.9h0M388.8 102.9h0M461.7 193.7h0M380.9 69.7h0M456.7 159h0M511.8 119.8h0M389.8 69.7h0M403 180.5h0M535.5 165.7h0M371.9 177.9h0M411.1 81.3h0M460.7 104.7h0M421.6 142.8h0M395 115.4h0M529.2 168.7h0M410.1 119.7h0M460 139.9h0M423.4 101.1h0M417 197.6h0M363 123.6h0M499.6 113h0M409.7 172.1h0M508 181.5h0M371.2 146.7h0M409.8 153.7h0M468.7 139.2h0M446 145.8h0M416.8 56.8h0M441.8 87.6h0M373.6 88.8h0M440 161.6h0M279.7 171h0M449.8 145.2h0M517.8 153h0M481.9 202.9h0M489.7 144.2h0M410.4 171.3h0M463.7 171.6h0M425.1 93.9h0M431.5 161.3h0M431.7 156.9h0M255.3 71.2h0M498.5 118.6h0M473.5 104.6h0M477.3 212h0M370.2 223h0M473.4 184.5h0M455.4 216.1h0M321.1 74.7h0M328.8 187.3h0M428.2 227.6h0M389.9 206.5h0M444.4 112.9h0M394.9 186h0M524.7 160.4h0M323.3 173h0M365.7 111.1h0M383.2 140.6h0M365.1 113.8h0M402.6 162.7h0M437.8 145.6h0M354.9 180.1h0M453.9 185.9h0M510.6 179.4h0M501.4 159.4h0M555.1 158.2h0M503.4 161.5h0M432 179h0M539.4 172.9h0M477.1 168.4h0M546 167.3h0M428.6 145h0M324 102.8h0M385.7 64.6h0M445.3 174.2h0M466.5 177.4h0M434.2 109.8h0M482.9 235h0M381.9 92.6h0M392.3 182.1h0M493.7 169.8h0M440.1 162.9h0M437 195.6h0M513.1 200.3h0M501.6 162h0M401.5 100.5h0M459.3 104.2h0M341.3 140.4h0M427.9 212h0M455.7 188.5h0M341.1 131.4h0M526.1 178.7h0M548.6 197h0M456 222.6h0M497.5 129.5h0M520.1 193.6h0M428 159.3h0M504.3 130.7h0M468.7 114.1h0M344 184.6h0M386.2 154.1h0M409.1 136.2h0M500.1 164.8h0M438.7 189.7h0M495.4 163.8h0M402 208.5h0M369.1 127.2h0M562.9 140.1h0M595.8 173.1h0M468.3 117.2h0M431.2 134.5h0M499.1 210.3h0M365.2 206.2h0M423.8 172.9h0M357.1 143.6h0M473.8 119.3h0M461.1 113.3h0M414.6 160.7h0M401.9 150.3h0M357.7 112.2h0M396.1 124.4h0M499.3 223.8h0M413.1 185.6h0M511.4 165h0M389.2 150.5h0M426.6 199.6h0M411.4 159.8h0M423.6 157h0M494.8 96.1h0M335 63.3h0M495.5 82.6h0M495.2 68.6h0M440.3 149.7h0M442.1 164h0M433.6 113.8h0M476.4 174.5h0M440.3 168.2h0M392.4 138.6h0M459 93.8h0M484.3 216.6h0M451.6 208h0M445.8 127.8h0M438.3 228.6h0M411.6 147.1h0M419.4 114.7h0M335.9 115.3h0M442.5 75.4h0M498.5 146.3h0M429.1 83.4h0M380.8 185.7h0M488.8 171.8h0M459.1 97.2h0M444.2 174.2h0M478.8 87.4h0M478.7 163.4h0M434.4 168.6h0M392.5 144.6h0M546.6 123.3h0M444.1 146.4h0M397.6 135.3h0M450.2 154.4h0M497.4 220.6h0M348.2 202.7h0M503.3 225.5h0M436.9 123.9h0M558.3 140.7h0M477.7 157.7h0M431.2 166.3h0M525.4 81.6h0M516.4 138.7h0M407.9 217.2h0M462 103.6h0M416.1 116h0M497 131.5h0M357.3 155.4h0M430.7 145.9h0M322.1 116.2h0M484.1 96.2h0M310.1 152h0M380.5 139.7h0M459.8 126.6h0M420.1 147.6h0M409.7 176.8h0M395.9 82.3h0M424.6 84.3h0M348.4 92.4h0M464.5 118.9h0M487.4 133.9h0M430.4 193.6h0M511.5 149.2h0M459.3 194.8h0M463.2 149.5h0M432.5 205.1h0M386.5 204.5h0M295.4 104.2h0M482.3 123.9h0M431.1 164.1h0M560.6 121.8h0M331.1 116h0M499.3 92.5h0M386.2 143.9h0M440 150.2h0M379.1 205.5h0M457.4 167.6h0M443.2 123.7h0M490.3 155.1h0M457.5 100.7h0M467 156.2h0M513.6 154.3h0M466.5 171.8h0M426.3 185.5h0M524 83.4h0M431.7 161.9h0M458.1 183.2h0M430.6 99.6h0M389.8 218.5h0M276.5 91.8h0M462.3 254.2h0M370 169.6h0M474.9 195.5h0M540 178.6h0M359.2 176.8h0M497 117.9h0M440.6 117.3h0M479.6 77.1h0M369.4 159.6h0M447 122.3h0M444 181.3h0M516.7 187.8h0M570.3 118.4h0M453.3 180.9h0M418.2 156.7h0M563.8 180h0M431.4 167.2h0M437.6 148.5h0M446.2 151.6h0M459.4 196.4h0M487.4 117.8h0M416.6 96.9h0M439.7 119h0M539.1 209.6h0M533 153.3h0M452.4 230.1h0M432.7 119.7h0M501.5 142.7h0M409.9 155.7h0M438.4 204.2h0M416.4 138.3h0M412.8 103.8h0M437.2 183.6h0M430.3 211.4h0M433.2 172.4h0M442.6 162.5h0M420.3 112.6h0M407.4 124.9h0M431.2 160.2h0M480.1 158.2h0M504.8 151.3h0M459.5 105.9h0M423.8 158.7h0M443.9 123.6h0M547.7 172.5h0M496.4 136h0M386.1 148.6h0M432.8 179.1h0M409.6 154.2h0M415.9 172.5h0M356 78.7h0M439.3 168.7h0M362.7 148.1h0M412.3 119.6h0M527.4 158.6h0M391.6 144.6h0M385.8 123.7h0M405.6 51.6h0M331.6 151.4h0M390.4 115.1h0M423.9 158.3h0M383.9 130.2h0M480.2 176.6h0M437.6 153h0M413.2 133.4h0M536 186.8h0M475.1 189.9h0M460.8 61.3h0M544.8 169.4h0M519.1 139.6h0M409.1 99.3h0M450.2 204.7h0M409.8 183.6h0M367.5 94.9h0M555.7 124.8h0M519.9 197.2h0M374 112.6h0M471.1 142h0M362.4 55.9h0M502.5 155.3h0M430.2 194.2h0M427.9 128.9h0M512.8 157.8h0M429.5 218.9h0M420.4 182h0M482.7 215.2h0M419.7 171.8h0M482 205.9h0M452.8 84.4h0M493.5 125.8h0M193.2 126.8h0M441.4 153.9h0M307.2 126.2h0M286 118.3h0M250.2 130.8h0M242.5 162.5h0M132.1 165.5h0M429.9 106.1h0M296.3 147.2h0M315.2 184.1h0M207 120.7h0M298.8 151.2h0M315.3 111.2h0M291.1 127.3h0M350 184.9h0M256.5 174.3h0M314.9 122.4h0M355.8 142.9h0M332 131h0M331.7 171.5h0M289.2 125.7h0M246.7 172h0M329.8 124.9h0M277 146.8h0M243.5 150h0M338.4 107.8h0M207.3 168.9h0M276 181.8h0M339.1 108.1h0M351 112.8h0M281.2 158.5h0M296.6 114.3h0M338.9 161h0M301.9 165.1h0M234.4 75.8h0M318.9 111.8h0M299.5 101.8h0M313.1 166.4h0M372.6 154.4h0M306.7 95.7h0M266.9 124.7h0M308.3 135.2h0M408.9 98h0M264.5 175.6h0M293.1 177.2h0M258.5 172.6h0M329.9 171.4h0M234.9 191.3h0M324.9 131.1h0M339.8 114.2h0M248.2 127.9h0M257.8 181h0M221.3 193.3h0M311.2 173.7h0M231.8 147h0M259.9 137.2h0M277.6 155.9h0M270.9 193h0M351.2 139.4h0M394.2 123.2h0M168.9 146.1h0M256.5 167.9h0M319 154.6h0M230.2 125.2h0M284.3 207.4h0M303.6 106.6h0M388.6 149.9h0M366 115.5h0M284.2 150.4h0M300.3 112.3h0M273.6 127.4h0M295.8 166.6h0M229.9 152.3h0M194.1 156.7h0M286.4 175.8h0M362.7 149.1h0M345.5 134.2h0M193.7 177.3h0M304 200.9h0M261.9 144.7h0M319.9 149.1h0M239.9 171.8h0M340.2 79.8h0M270.6 79.4h0M334.3 135.9h0M358.3 155.9h0M189.1 177.4h0M282.4 126.2h0M381.6 95.3h0M308.2 167.3h0M357.6 114.5h0M309.9 80.4h0M277 171h0M318.3 144.1h0M364.2 136.9h0M383.8 155.2h0M395.6 162.2h0M240.7 176.4h0M346.3 121.9h0M201.2 91.5h0M295 152.4h0M286.5 138.8h0M348 174.7h0M329.5 178.1h0M376.4 137h0M276.6 195.6h0M348 125h0M322.1 133h0M292.5 112.3h0M227.7 148.8h0M334.8 138.7h0M327.6 170.8h0M339 103.9h0M304.8 167.8h0M306 222.4h0M310.5 89.7h0M324.4 124.7h0M339.9 130.5h0M418.5 144.6h0M281.9 216.2h0M426.9 150.5h0M128.2 185.2h0M347.9 97.3h0M252 151.3h0M415.6 108.1h0M250.7 162.4h0M353.3 94.3h0M256.3 206.6h0M228 134h0M352.5 150.7h0M352.1 134.1h0M249.7 114.8h0M439.6 105.4h0M281.6 146.1h0M388.6 110h0M248.5 183h0M240 139.6h0M327.9 223.9h0M251.5 193.8h0M318.1 102.9h0M153.5 90.7h0M321.4 179.5h0M269.7 157.5h0M245.1 158h0M303.4 104.6h0M274.2 95.8h0M257.3 85.2h0M369.7 213.5h0M331.3 189.3h0M317 116.1h0M393.5 182.4h0M279.2 79.6h0M354.6 150.7h0M282.1 170.4h0M327.3 102.2h0M326.3 117h0M259 114h0M212.8 165.2h0M237.8 204h0M254.4 188.1h0M335.7 145.6h0M302.2 179.7h0M266.7 85.2h0M345.6 200.5h0M341.6 127.3h0M368.6 74.6h0M262.1 136.6h0M325.8 110h0M341.6 132.4h0M247.8 165.4h0M286.1 60.1h0M258.4 196.6h0M302.4 201.6h0M314.9 99h0M215.1 216h0M260.9 195.9h0M262.5 186.7h0M319.9 193.5h0M244.9 104.9h0M328 158.8h0M241.4 119.5h0M291.4 227.7h0M326 98.2h0M307.2 94.1h0M318.7 175.5h0M303.3 161.6h0M358 125.6h0M380.4 123.5h0M284 166.5h0M273.6 209.5h0M233.5 132.2h0M394.8 94.5h0M243.1 134.5h0M223 158.1h0M315.4 136.4h0M348.9 80.6h0M231.4 169.4h0M281.3 99.5h0M214.4 151.8h0M257.6 142.5h0M391.5 106.8h0M322.9 187.5h0M299.7 199.3h0M313.7 175.4h0M330.5 189.1h0M291.4 132h0M244.2 205.9h0M231.4 156.6h0M417.7 116.8h0M258.3 161.1h0M356.8 76.5h0M253 130.6h0M373.4 114.6h0M343.3 141.7h0M286.6 139.1h0M408 80.3h0M235.6 115.4h0M286.5 144h0M239.8 113.4h0M244.5 112.3h0M278.1 142.2h0M246.4 160.8h0M273.7 117.1h0M374.8 55.5h0M202.3 176.6h0M235 187h0M241.4 141h0M269.7 134.5h0M337.1 45.9h0M349.6 159.4h0M317.5 95.7h0M318.2 161.2h0M432.5 83.2h0M233.7 152.6h0M231.9 151.5h0M282.2 79.7h0M336.7 229.8h0M272.1 90.8h0M252.5 156.7h0M217.2 132.8h0M281.9 136.3h0M271.6 197.5h0M255.3 84.5h0M236.4 151.9h0M381.5 136h0M327 137.1h0M410.2 124.9h0M263.4 122.6h0M288.5 83.7h0M273.7 99.5h0M297.4 125.9h0M291.9 169.1h0M291.2 145.3h0M201 224.7h0M285.2 147.6h0M341.5 135.9h0M189.6 176.8h0M264.2 86.9h0M338.1 150.7h0M362.8 82.9h0M291.6 128.5h0M347.4 212.2h0M389.7 71.2h0M375.7 124h0M276.6 156.8h0M266.3 153.7h0M358.6 124.4h0M307.7 117.7h0M286.8 215.7h0M268.5 75.8h0M308.9 100.4h0M301.9 193.3h0M290.3 162.5h0M279.4 117.8h0M206 132.7h0M397.6 104.8h0M394.1 210.4h0M391.5 133.4h0M282.9 107.2h0M309.3 146.1h0M327.4 110h0M360.7 178h0M197.4 178.1h0M331.7 177.2h0M244 160.9h0M314.3 210.1h0M265.5 164.2h0M400.6 123.2h0M321.7 97.3h0M294.5 126.2h0M383.7 131.7h0M291.4 124.3h0M280.8 235.3h0M289.2 142.5h0M272 119.9h0M311.7 172.7h0M343.5 109.2h0M296.9 155.6h0M295.4 137.9h0M351.7 100.1h0M329.1 182.5h0M355.4 128.5h0M317.6 174.7h0M222 148.6h0M222.5 109.1h0M193.3 123.5h0M360.7 104.9h0M322.2 127.4h0M273.2 149.2h0M247.7 172.6h0M309.5 92.4h0M294.4 149.8h0M307.3 93.9h0M245.3 129.9h0M259.5 243.8h0M401.8 158.9h0M242 142.4h0M314.9 201h0M389.7 167.4h0M202.7 198.3h0M353.5 178.8h0M301.7 130.6h0M290.6 138h0M307.7 106.8h0M237.1 178h0M160.9 131.8h0M403.9 93.9h0M287.7 159.9h0M346.6 109.2h0M366.7 134.7h0M333.1 197.3h0M317.3 99.7h0M353.6 176.5h0M384.4 92.7h0M319.8 100.8h0M374.5 128.2h0M292.6 179.2h0M269.3 122.4h0M298.3 114.1h0M319 119h0M324.3 107.4h0M413.5 116.4h0M341.8 103h0M301.4 130.4h0M417.3 121.4h0M315.2 120.8h0M331.1 173.5h0M322.2 109.5h0M274.1 119h0M256 225.6h0M321.3 188.8h0M283 147.1h0M258.1 181.3h0M310.1 149.6h0M284.1 125.8h0M272.3 171.9h0M201 177.6h0M302.1 185.9h0M384.2 50.6h0M358.4 153.6h0M363.6 129h0M292.7 117.1h0M356.8 109.2h0M257.9 136.6h0M262 102.3h0M324.7 112.6h0M225.5 188.3h0M289.7 87.8h0M314 122.6h0M254.9 131.2h0M327.8 146.7h0M262.4 148.3h0M269.3 149.8h0M135.4 143.6h0M251.5 173.6h0M357.9 91.7h0M338.1 162.7h0M311.1 144.7h0M438 89.1h0M344.7 181.9h0M225.7 145.6h0M297.9 177.7h0M297.9 144.4h0M392.3 115.3h0M257.7 187.6h0M328.4 148.3h0M356.2 124.7h0M252.8 148.4h0M307.2 145.8h0M185.8 173.7h0M303 127.4h0M164.6 138.7h0M254.7 58.3h0M397.8 109.8h0M321.5 125.5h0M314.2 180.2h0M313 152.8h0M434.2 145.4h0M347.7 190.2h0M359 120.3h0M267.7 118.2h0M282.9 174.2h0M235.1 135.8h0M288 134h0M273.4 199.3h0M361.8 143.5h0M347 167.2h0M281.4 96.2h0M269.5 149.5h0M144.7 222.2h0M254.8 105.7h0M319.6 142h0M341.8 143.5h0M177.2 230.8h0M302.9 113.5h0M239.9 151.2h0M303.1 200.1h0M257 86.8h0M338.2 146.7h0M189.8 153.4h0M268.1 150.2h0M346.9 97.8h0M324.6 183h0M242.7 114.9h0M329.6 145.3h0M321.6 154h0M248.6 150.5h0M337.4 120.2h0M336.6 120.7h0M302 176.6h0M358.4 140.9h0M232.5 155.2h0M334.3 91.4h0M290.8 148.4h0M251.4 172.5h0M265.9 148.1h0M380.2 170.7h0M251.2 84h0M303 229.7h0M261.2 143.9h0M244.6 113.7h0M339.6 66.3h0M435 135.4h0M382.2 138.9h0M327.4 124.9h0M343.2 126.8h0M282.1 151.1h0M268.1 133.3h0M321.8 93.7h0M321.2 98h0M315.7 98.3h0M310.8 106.7h0M323.5 93.7h0M316.2 102.3h0M311.7 102.1h0M324.3 95.4h0M320.5 98.3h0M308 106.8h0M309.3 105.1h0M314.5 99.5h0M311.7 104.2h0M317.9 101.3h0M329.9 89.7h0M332 88.8h0M319.7 102.3h0M321.3 96.4h0M322.6 97.1h0M318.7 101.9h0M312 106.6h0M323.6 96.5h0M317.4 100.8h0M322.9 101.5h0M321.2 97.1h0M313.8 102.5h0M326.7 94.5h0M320.7 102.5h0M321.1 101.5h0M316.1 101.7h0M322.5 98.7h0M323.4 96.9h0M315.6 102.3h0M321.7 98.9h0M317 102.7h0M312.6 105h0M319 104.2h0M320.3 97h0M322.6 100.2h0M326 99.4h0M318 106.2h0M317.1 101.6h0M318.2 99.4h0M318.7 94.9h0M317.5 100.4h0M317.2 107.8h0M308.7 103.3h0M321.3 92.8h0M324.2 97.3h0M315.9 103.6h0M322.3 91.2h0M317.7 100.1h0M320.7 98.8h0M321.8 92.6h0M317.2 103.5h0M312.6 100.8h0M311.7 108.6h0M319.8 99.2h0M319.2 97.1h0M319.8 93.9h0M320.4 97.1h0M318.5 99.4h0M323.2 95.3h0M312.5 103h0M319.6 98.1h0M321.7 99.5h0M316.3 98.9h0M325.8 92.9h0M320.8 99.1h0M324.3 94.7h0M323.5 98h0M319.5 103.3h0M326.5 91.9h0M323.5 96h0M314 94.9h0M317.1 99.9h0M314.3 105.1h0M315.8 98.7h0M318.9 103.1h0M316.4 96h0M318.1 103.9h0M320 96.9h0M316.3 98.6h0M310.1 105.3h0M315.4 101.5h0M312.5 101.7h0M310.3 102.6h0M316.2 100.1h0M323.7 98h0M313.5 105h0M310.8 110h0M316.5 99.6h0M331.4 87.8h0M314.9 101.7h0M319.6 99.2h0M316.9 102.3h0M324.6 99.6h0M325.8 95.6h0M317.6 100.9h0M325.5 97.7h0M493.1 98h0M474.4 107.6h0M526.4 114.7h0M524.8 142.5h0M553.3 139.3h0M508.8 84.2h0M516.6 89.7h0M533.9 73.9h0M543.3 87.1h0M555.1 94.5h0M524.6 122.4h0M529.8 104.5h0M435.6 74.1h0M563.5 126.6h0M465.4 128.4h0M518.9 83.7h0M509 98.9h0M464.9 52.7h0M577 106.1h0M501 122.2h0M514.7 160.4h0M514.6 107.8h0M546.2 93.5h0M547.7 97.6h0M516.1 120.4h0M559.4 125.9h0M488.7 76.3h0M544.1 107.8h0M498.5 121.7h0M496.9 143.2h0M504.9 95.7h0M572.1 128.2h0M480.9 100.7h0M479.1 94.7h0M540.4 99.8h0M510.9 110.7h0M505.2 128.2h0M515.3 94.2h0M594.7 68.5h0M484 81.2h0M510.8 72.9h0M526.1 125h0M487.3 73.4h0M519 147.8h0M537.2 106.1h0M488.3 99.6h0M559.4 141.4h0M480.1 91.2h0M515.1 93.4h0M532 125.6h0M458.9 72.4h0M530.1 176h0M499.3 64.7h0M558.3 97.1h0M527.7 130.1h0M470.1 109h0M534 128.1h0M489 173.4h0M523.2 130.4h0M467.6 162.7h0M545.7 122.9h0M435.6 82.6h0M514.2 147.9h0M565.2 81.6h0M538.2 131.3h0M507.9 122.3h0M511.9 77.3h0M505.2 81.6h0M518.2 114.9h0M519.6 142.9h0M494.3 105.2h0M503.4 160h0M541.4 129.3h0M498.7 83.9h0M491.8 84.6h0M500.8 105.8h0M507.7 87.7h0M526.1 100.7h0M503 126.7h0M513.3 111.3h0M493.8 132.8h0M563.3 82.9h0M523.2 77.7h0M509 61.6h0M518.4 90.3h0M465.2 105.8h0M513.7 97.8h0M577.8 104h0M537.7 165.1h0M561.2 71.1h0M496.5 95.8h0M468 89.3h0M495.6 76.7h0M567.3 144.5h0M485 103h0M492.2 141.6h0M558.7 70.2h0M511.2 160.3h0M513.1 172h0M533.3 77.9h0M523 103.8h0M509.4 100.2h0M528.9 120.9h0M495 65.2h0M518.5 118.2h0M543 126h0M482.9 86.2h0M480 83.8h0M546.1 92.4h0M541.5 127.2h0M553 85.7h0M556.1 69.8h0M555.8 122.8h0M545.1 115.4h0M492.8 126.3h0M552.7 105.7h0M488.1 136h0M540.8 110.3h0M476.8 127.6h0M557.5 105.5h0M561.1 148.2h0M465.1 90.7h0M500.5 125.4h0M503.6 67.5h0M497.3 104.4h0M568.4 88h0M595.8 74.4h0M482.7 65.2h0M556.7 111.2h0M510.8 117.3h0M568 85.4h0M434.2 67.3h0M504.8 78.2h0M562.6 127.3h0M493.3 68.4h0M561.6 138.6h0M559.8 112.9h0M540.4 124.5h0M505.2 141.1h0M493.2 91.6h0M514 81.6h0M519.7 131.8h0M496.7 100.7h0M464.7 92h0M512 112.2h0M538.9 105.5h0M483.3 140h0M505.1 129.9h0M468 88.6h0M535.8 102.3h0M480 95.2h0M493.5 102.1h0M563.1 127.3h0M480.7 111.3h0M541 61.4h0M561.3 102.6h0M554.7 101.7h0M536.3 115.8h0M511.6 105.9h0M470.7 102.3h0M524.9 135.5h0M535.4 72.1h0M501.9 170.1h0M485.2 87.8h0M550.2 73.7h0M482.8 128.3h0M535.2 137h0M502.9 142.3h0M460.7 148.6h0M576.3 119.1h0M541.1 106.7h0M538.7 116.1h0M470.1 104.7h0M515.1 88.6h0M529.4 153h0M493.4 159.4h0M577.3 105.1h0M448.7 98h0M544.1 90.2h0M453.2 54.4h0M464.5 84.6h0M474.4 89.4h0M539.3 104.4h0M494.2 74.9h0M487.3 124.6h0M467.1 156.6h0M484.3 100.9h0M507.5 130.7h0M505.4 70h0M434.5 61.9h0M495.8 106h0M561 98h0M501.8 85.9h0M515.6 154.4h0M492.8 150.1h0M493.9 124.8h0M515.3 103.2h0M470.5 95.4h0M511.8 131.8h0M459.2 98.2h0M529.2 150h0M462.3 142.8h0M540.2 87.3h0M552.8 128.3h0M460.3 152.5h0M540.8 125.2h0M502.8 77.2h0M557.8 97.6h0M498.3 95.5h0M507 109.4h0M506.6 106.7h0M560.9 95.3h0M448.9 131.6h0M543.5 146.5h0M519.9 89.1h0M499.5 61.8h0M508.3 117.3h0M549.3 106.3h0M545.5 118.9h0M575.9 85.8h0M494 115.1h0M450.3 79h0M497.1 139.1h0M509.7 156.9h0M501.1 78.6h0M596.2 91.9h0M529.7 90.9h0M454 112.6h0M552.8 107.4h0M493.8 121.6h0M517.9 188.3h0M545.8 90.1h0M529.2 95.7h0M514 119.9h0M542.9 130.6h0M538.3 88.3h0M411.5 81.7h0M488.9 122.2h0M495.8 132.4h0M545.2 144.6h0M524 120.3h0M546.1 85.6h0M466.3 124h0M508.6 104.9h0M538.8 177.5h0M502.3 155.8h0M525.8 130.5h0M573.9 119.7h0M442.4 104.7h0M571.8 90.7h0M526 78.6h0M486.3 60.8h0M539.3 168.8h0M517.6 135.8h0M558.5 127.9h0M488 118.6h0M484.5 99.4h0M527.4 111.5h0M540.6 142.6h0M513.4 77.8h0M538.6 116.1h0M495.4 100.8h0M553.4 108.9h0M498.6 84.6h0M491.6 118.8h0M512.2 110.5h0M486.9 144.5h0M544.1 174h0M511.9 81.8h0M537.4 142.7h0M464 78.8h0M470.2 92.3h0M506.9 161.1h0M481.5 114.3h0M511.6 153.8h0M535.9 117.1h0M555.3 138.7h0M567.7 103.4h0M543.8 151.5h0M491.5 162.1h0M535.5 128.9h0M498 91.6h0M535.2 97.5h0M479.4 80.3h0M563.4 126.8h0M530.8 124.3h0M506.3 87.7h0M468.7 136.3h0M526.2 91.4h0M497.9 163.3h0M525.1 133.5h0M491.4 156.5h0M497.3 87.5h0M538.1 79h0M472.1 128.3h0M509.6 75.2h0M530 149.3h0M511 113.3h0M501 131.9h0M592.1 70.6h0M487 91.3h0M529 114.6h0M499.3 131.2h0M513 70.5h0M436.4 119.4h0M547.5 84.3h0M509 133.5h0M482.6 102.3h0M574.6 100.3h0M506.7 122.3h0M495 143.8h0M486.8 102h0M553.8 145.9h0M517.5 79.3h0M505.6 117.7h0M470.1 75.7h0M484.9 115.6h0M528.5 81.9h0M515.7 110.2h0M446 127.8h0M485.9 80.3h0M490.1 124.8h0M438.7 116.1h0M543.3 82h0M499.7 134.1h0M470.2 100.4h0M536.2 132h0M508.3 82.7h0M482.7 122.2h0M470.5 144.2h0M512.1 89.2h0M519.5 100.3h0M454.2 127.6h0M550.9 124.6h0M472 119.6h0M565.5 105.3h0M528.1 62.2h0M509.9 108.8h0M528.2 70.3h0M495.7 111.4h0M574.1 151.7h0M496.5 165.6h0M545.1 122.1h0M485.1 83.5h0M515.8 99.7h0M550.2 135.2h0M474.4 128.4h0M528.2 87.9h0M441.2 144.5h0M476.3 130.3h0M501.8 124.7h0M547.4 98.2h0M541.6 108.6h0M484.5 87.5h0M342.4 212.5h0M293.6 220.7h0M401.6 207.6h0M339.5 223.8h0M359.5 239.8h0M371.4 247.4h0M346.6 205.3h0M258.5 243.3h0M390.4 176.7h0M331.7 204.1h0M281.8 188.2h0M314.5 290.7h0M310.2 251.9h0M341.3 298.2h0M329 208.7h0M304.4 261.4h0M345.6 227h0M342.3 217.4h0M317.9 266.6h0M440.8 163.1h0M329.6 224.5h0M354.5 218.1h0M309.2 164.3h0M318.3 209.7h0M357.4 186.5h0M425.1 227.1h0M341.2 240.1h0M306.9 266.4h0M370.9 224.3h0M231.6 277.3h0M367.3 260.6h0M324 223.5h0M330.8 179.3h0M273.7 280.5h0M332.2 265.1h0M288.8 254.3h0M315.4 247.6h0M377.1 231.8h0M348.2 267.5h0M315.6 254.8h0M415.4 233.9h0M340 231h0M266 218.1h0M367.9 236.7h0M359.6 219.6h0M346.9 221.3h0M328.4 185.3h0M307.7 275.8h0M327.1 222.3h0M264 232.1h0M285.7 231.6h0M287.8 243.7h0M295.9 250.2h0M304.7 211.5h0M309.7 208.1h0M301.9 257.2h0M383.2 194h0M340.4 286.7h0M399.4 173h0M391 216.7h0M301.3 301.8h0M371.8 196.3h0M281.4 288.1h0M405.1 193.8h0M348.8 218h0M309.1 292.7h0M215.2 260.4h0M304.8 221.6h0M243.1 218.3h0M381.8 193.2h0M287.7 284.4h0M317.4 226h0M366.6 233.4h0M321.2 206.9h0M360.3 247.7h0M318.2 230.2h0M358.4 194.8h0M311.2 292.6h0M357.8 210.7h0M283 273.3h0M341.2 224.6h0M287.8 274.9h0M323.3 235h0M341.3 180.6h0M393.1 200.1h0M253.3 287.3h0M300.4 257.1h0M281.8 247.3h0M413.8 239h0M279.6 232h0M365.6 210.6h0M309.6 245.9h0M247.4 238.8h0M318.7 194h0M286.7 274.2h0M374.6 223.8h0M371.5 207.8h0M370 150.6h0M278.7 247h0M407.9 190.1h0M384.8 216.1h0M263.4 305h0M441.1 178.1h0M423.5 205.1h0M305.6 296.4h0M312.2 159.7h0M281.6 288h0M317.8 219.6h0M346 233.8h0M362.5 215.3h0M276.9 223.7h0M316.1 205h0M292.8 263h0M345.7 211.9h0M372.1 227h0M328.2 215.2h0M415.2 249.1h0M362.2 199.9h0M377.6 268.4h0M374 176.3h0M279.9 274.5h0M344.7 255.8h0M228 242.3h0M315.5 203.2h0M314 249.7h0M385.7 232.9h0M329.1 272.8h0M308.1 258h0M340.9 255.4h0M307.3 201.4h0M348.4 202.2h0M309.9 286.5h0M251.7 253.7h0M251.9 264h0M359.4 152.2h0M268.1 256.3h0M285.5 199.7h0M283.4 265.7h0M392.9 239.4h0M308.2 249.8h0M390.5 197.5h0M291.3 235.9h0M352.1 232.3h0M350 178.4h0M369.2 188.8h0M305.1 312.8h0M294.2 204.1h0M318.4 214.7h0M224 241.6h0M381.5 237.8h0M345.3 210h0M336 181h0M246.6 233.2h0M354.9 249h0M360.5 231.3h0M390.3 218.2h0M304.8 239h0M375.1 230.3h0M441.7 205.6h0M319.4 254.7h0M287.9 197.6h0M286.7 186.1h0M239 230.4h0M317 242.7h0M385.3 144.7h0M271 224.4h0M321.6 232.2h0M374 171.6h0M338.5 178.7h0M354.8 243.6h0M321.6 247.3h0M336.2 248.6h0M344 248.5h0M383.4 243h0M333.3 222.6h0M371.8 195.5h0M217.1 232.6h0M365.3 197.3h0M296.6 225h0M345.8 251.3h0M319.9 253.8h0M381.6 244.7h0M340.3 255.8h0M376.7 238h0M299.9 260.4h0M341.1 223.7h0M382.4 182.4h0M382.3 194.5h0M299.6 211.2h0M342.5 231.1h0M311.6 233.2h0M295.3 177.8h0M292 157.3h0M376.6 174h0M350.8 197.6h0M394.4 177.9h0M421 215.6h0M261.5 243.7h0M326.3 184.9h0M314.6 246.6h0M268.6 293.8h0M303 295.3h0M291.9 213.3h0M405.1 173.2h0M328.1 211.9h0M343.1 267.5h0M338.8 243h0M295.3 245.8h0M348.6 238.2h0M320.7 218.4h0M250.7 263.9h0M304.7 238.3h0M480.5 121.3h0M356.1 201.4h0M330.7 236.2h0M364.8 212.7h0M305.8 287.9h0M346.8 243.7h0M370.2 199.1h0M223.4 213.5h0M274.4 207.6h0M304.2 222.9h0M311.4 222.7h0M287.3 205.8h0M337.4 207.8h0M379.4 199.8h0M337.1 199.4h0M375.9 193.2h0M377.6 193.8h0M292.1 223h0M330.4 195.5h0M310.7 231.2h0M364.6 213.2h0M298.8 207.8h0M292.1 178.6h0M395.6 154.7h0M329 241.5h0M234.1 226.1h0M348.9 243.9h0M335.5 201.6h0M308.2 240.9h0M322.2 203h0M386 211h0M306.6 239.2h0M326.6 238.2h0M269.2 194.8h0M355.8 233h0M300.1 185.7h0M282.2 240.5h0M330.2 240.9h0M412.5 169.9h0M257.7 282.1h0M268 265.3h0M347.1 217.1h0M253.9 241.1h0M435.3 196.2h0M276.7 291.7h0M261.7 245.6h0M293.4 215.5h0M383.2 199.8h0M356.7 183.6h0M358.6 211.9h0M355.6 236h0M400.1 205.2h0M266.6 309.1h0M349.6 227.7h0M381.8 159.6h0M268.3 231.4h0M352.6 228.3h0M414.2 237.9h0M383.3 181.4h0M310.8 204.8h0M436.5 208.1h0M351.9 207.1h0M389.8 212.1h0M295.7 279h0M281.1 219.8h0M289.7 235.3h0M404.3 162.6h0M229.3 299.3h0M254.1 289h0M360.2 190.1h0M344.9 233.4h0M167.3 259.2h0M316.7 242.9h0M320.8 240.3h0M386.4 191.3h0M220.8 239.3h0M304.1 235.4h0M364.4 168.8h0M386.1 238.8h0M283.4 241.2h0M313.9 226.2h0M260.1 260.4h0M401.1 200.3h0M311.4 237h0M396.8 202.6h0M354.2 179.4h0M304.8 274.2h0M316.6 215.4h0M371 224.7h0M354.1 217.5h0M416.1 208.9h0M381.1 191.8h0M324.6 178.7h0M346.1 176.9h0M294.3 236.9h0M322.4 273.2h0M352.4 197.1h0M346.8 215.8h0M296.9 283.6h0M318.9 211.8h0M297.9 252.2h0M308.8 245.1h0M381.9 174.2h0M290.1 254.2h0M315.1 266.4h0M371.6 233.8h0M329.4 213.1h0M379.5 289.9h0M268.9 270.3h0M325.6 217.3h0M303.4 215.6h0M279.5 220.8h0M316.3 258.2h0M276.6 160.7h0M367.4 197.1h0M398.3 139.5h0M333.6 216.1h0M398.8 182.8h0M317.7 188.2h0M248.5 238.6h0M351.5 252.5h0M382.3 175.5h0M395.5 185.7h0M285.9 238.9h0M445.8 183.8h0M314.2 272.5h0M310.3 264.9h0M314.7 250.5h0M405.8 198.2h0M332.9 183.4h0M391.5 230.7h0M220.8 268.5h0M316.2 202.7h0M320.7 216.8h0M352.2 185h0M315.4 245.5h0M396.5 208.8h0M317.6 272.5h0M265.7 257.7h0M247.3 252.1h0M385.7 182.5h0M349.8 174.2h0M285 225.7h0M410.4 242.2h0M312.7 208.6h0M319.4 214.9h0M272.9 277.1h0M309.7 243.7h0M347.3 238.6h0M328.7 196.2h0M290.6 211.7h0M395.9 228.5h0M388.3 168h0M292.9 241.9h0M353 217.3h0M235.3 218.2h0M347.9 207.1h0M278 232.5h0M331.9 239.6h0M335.2 210.5h0M288.8 174.3h0M390.9 214.1h0M259.9 181h0M304.4 225.1h0M336.9 197.1h0M321.5 208.6h0M343.2 215.6h0M249.2 179.3h0M180.7 188.2h0M190.4 180.5h0M241.3 192.1h0M232.5 201.6h0M240.3 227.8h0M225.9 131.5h0M204.3 188.3h0M195.1 231.5h0M195.6 223.1h0M247.5 130.3h0M269.6 181.7h0M287.9 180.5h0M174.4 179.3h0M204.5 83.3h0M213.6 203.1h0M207.3 108h0M171.1 254.1h0M295.5 195.2h0M270.3 166.3h0M207.3 194.4h0M196.4 175.6h0M213.2 149.6h0M168 166.6h0M200.7 183.6h0M242.6 139.2h0M275.8 197.8h0M247 213.3h0M262.4 211.7h0M173.8 215.8h0M265.5 197.6h0M220.5 221h0M210.4 172.9h0M276.6 186.3h0M177.2 225.4h0M177.5 245.5h0M185.5 157h0M274.6 114.5h0M249.3 253.5h0M146.2 215.4h0M276.2 241.3h0M214.1 205.7h0M229.7 180h0M184.3 146.1h0M284.6 133.5h0M230.1 227h0M263.4 208.9h0M175.8 183.1h0M240 127.6h0M217 150.5h0M205 146.7h0M182.7 159.1h0M169.2 179.6h0M188.4 231.4h0M212.6 149.6h0M235.6 171.8h0M154.4 181.5h0M174.2 132h0M190.3 187.5h0M151.4 139.2h0M202.6 153.7h0M203.5 180.6h0M206.2 168.7h0M229.1 174.6h0M249.3 135h0M243.9 199.1h0M224.1 128.6h0M236 203.7h0M183.3 152.1h0M177.7 124.6h0M238.1 167.4h0M235 129.7h0M296.9 150.2h0M204.9 165h0M176 201.3h0M224.6 201.9h0M196.4 189.5h0M179.6 159.8h0M265.4 111.4h0M286.8 162.1h0M227.6 158.3h0M188.7 165.8h0M223.2 150.3h0M211.5 150.4h0M160.7 202.2h0M245.3 118.8h0M226.7 171.2h0M261.3 220h0M192.4 140.8h0M213 132.3h0M209.2 162.1h0M148 157.5h0M309.2 181.1h0M134 223.7h0M170 165.9h0M200.1 192.6h0M154.1 148.2h0M229.7 151.8h0M196 182.3h0M216.6 144.6h0M222.7 217.7h0M216.7 155h0M217.6 164.5h0M208.1 130.1h0M230.2 153.8h0M244.8 131.7h0M204.2 151.7h0M196.9 101.4h0M198.7 170.4h0M225.8 239h0M200 97.4h0M199.5 238.7h0M156.5 166h0M287.8 205.4h0M167 131.3h0M278.4 250.2h0M244.7 128.5h0M253.5 167.7h0M527.3 71.6h0M416.3 66.2h0M374.7 65.7h0M461.9 86.8h0M435.3 77.5h0M427.3 76.3h0M430.3 67.7h0M407.9 75.5h0M519.9 87h0M513 83.9h0M411 84.4h0M462 68.9h0M448 69.1h0M508.9 78.5h0M433.1 68.3h0M529.2 81.8h0M465.5 78.6h0M434.6 73.2h0M462 76.2h0M442.4 76h0M553.9 87.6h0M471.6 73.2h0M446.8 71h0M468.7 82.3h0M523.7 79.4h0M428 68.5h0M399 71.6h0M517.3 78.8h0M489.6 78.7h0M447.7 74.1h0M462 78.9h0M508.7 84.4h0M358.3 62.5h0M516.2 74.3h0M457.8 83.3h0M492.4 74.9h0M464 68.1h0M588.3 77.2h0M440.9 73.7h0M509.1 76.6h0M363.1 57.8h0M467.3 71.4h0M497 73.4h0M403.7 75.6h0M384.8 70.1h0M469.1 76.2h0M506 73.1h0M512.3 79.2h0M437.8 76.9h0M478.9 77.9h0M408.8 76.3h0M534.5 82.4h0M442.2 77.4h0M515.7 82.7h0M454.8 72.2h0M451.5 81.5h0M529.4 83.4h0M430.3 77h0M517 75.1h0M451.5 69.3h0M430.4 72h0M432.2 69h0M509.7 82.9h0M461.8 77.7h0M450.5 80.8h0M404.9 73.6h0M512.3 74.4h0M506.4 84.3h0M478.2 73.8h0M496.4 75h0M335.8 64.9h0M443.9 74h0M471 81.7h0M468 90.4h0M442.2 76.1h0M473.9 84h0M436.1 72.3h0M438.8 75.3h0M415.7 69h0M470.7 74.3h0M435.7 80.1h0M444.8 76.4h0M520 83h0M463.6 71.8h0M462.8 84.3h0M403.9 69.7h0M444.4 70.9h0M504.1 79.2h0M486.7 81.2h0M466.8 79.8h0M457.4 82.6h0M468.1 70.9h0M481 75.2h0M451.4 82.6h0M364.9 78.6h0M543.6 79.7h0M510.3 79.4h0M459.5 67.7h0M521.6 76.8h0M413.3 67h0M516.4 79.9h0M473.1 70.7h0M500 83.7h0M451.3 74.4h0M471.1 75.2h0M487.9 82.6h0M506.9 78.3h0M486 71.6h0M482.6 77.6h0M440.5 84.7h0M533.4 82.4h0M473.1 79.3h0M456.1 74.2h0M452.2 73.7h0M416.8 74.3h0M436.7 60.2h0M404.8 64.5h0M473.4 73.7h0M461.9 74.3h0M473.1 83.9h0M414.1 83.8h0M447.9 77.6h0M439.2 75.7h0M504.2 82.8h0M404.9 78.2h0M404.9 65.8h0M516.3 78h0M479.3 78h0M402.3 71.9h0M519.5 71.2h0M524.2 83.3h0M511.1 72h0M382.4 72.5h0M469.4 80.6h0M431.5 61.7h0M454.1 77.5h0M401.9 71.4h0M534.3 78.9h0M436.9 78.2h0M475.1 86.8h0M496.8 81.2h0M489.9 72.6h0M482 70.2h0M449.9 68.8h0M474.2 71.6h0M455.6 80.7h0M374.2 69.4h0M504.8 79.3h0M439.5 78.1h0M444.1 74.2h0M448.5 74.7h0M409.9 66.9h0M416.9 68.6h0M393 69.8h0M484.1 71.7h0M511.2 88.3h0M467.8 76.8h0M419.5 69.2h0M516.5 85.3h0M452.6 69.5h0M400.9 75.6h0M389.8 69.8h0M471.3 85.9h0M522.6 78.2h0M449.7 72.6h0M439.9 69.5h0M454.5 68.8h0M430.9 74.2h0M443.5 68.7h0M474.7 78.4h0M436.3 70.2h0M501.5 84.4h0M426.9 59.8h0M492.9 80.4h0M478.5 77.3h0M449.4 74.6h0M453.2 71.7h0M451.1 83.4h0M531.9 79.7h0M432.3 75.2h0M512.2 78.7h0M505.1 77.6h0M451.2 75.1h0M528.9 84.9h0M370.5 62.1h0M474.7 74.4h0M470.5 69.3h0M465.4 77.9h0M498.5 74.6h0M449.1 70.8h0M457 78.5h0M510.6 79.8h0M460 77.5h0M423.6 71.6h0M487.3 79.9h0M461.4 76h0M442.7 68.4h0M486.7 78.9h0M434.2 71.5h0M425.8 71.3h0M454.2 76.4h0M457.4 72.5h0M467.3 70.8h0M416.2 77.5h0M532.5 91h0M491.8 76.5h0M469.9 82.1h0M473.7 78.6h0M365.3 64h0M501.9 74.9h0M424.1 70.9h0M485 75.5h0M417.3 70.1h0M504 78.7h0M443.9 68.4h0M455.9 79.4h0M526.1 75.6h0M504.6 74h0M409.5 75.7h0M436.6 77.2h0M471.8 83.8h0M455.4 75.7h0M497.2 75.5h0M437 79.2h0M390 68.9h0M428.4 72.1h0M457.7 71h0M486.4 79.8h0M495.4 66.7h0M514.2 82.8h0M475 66.7h0M456.3 79.5h0M494.5 70.7h0M460.5 78.9h0M445 86.5h0M446.2 72.9h0M502.2 73.3h0M523.1 90.7h0M517.4 78.3h0M401.5 64.8h0M507.7 85.9h0M421.3 57.8h0M451.8 67.3h0M488.7 71.4h0M411.9 67.8h0M416.7 61.5h0M434.5 77.4h0M531.6 86.9h0M507.7 79.3h0M429.1 70.7h0M470.9 68.6h0M469.9 78.7h0M477.5 73.5h0M436.2 76.5h0M521.7 86h0M449.6 74.8h0M498.3 68.2h0M398.1 65.3h0M479.8 84h0M470.4 77.8h0M518.2 87.7h0M362.2 55.7h0M486.9 77.3h0M497.3 77.8h0M454.9 66.9h0M517.5 77.3h0M548.2 88.1h0M499.6 81.7h0M497.3 76h0M518.4 82.2h0M481.8 83.4h0M514.2 74.8h0M488.6 79.4h0M437.1 78.7h0M423.2 68.8h0M511.1 86.5h0M488.7 77.5h0M437.6 79.1h0M465.5 80.6h0M523.1 82.3h0M396.6 68.5h0M429.2 69.5h0M492.6 79.2h0M497.6 79.8h0M417.5 78.8h0M425.2 72h0M471.3 78.2h0M520.1 89.2h0M465.2 77.6h0M372.1 70.1h0M505.2 87.5h0M463.9 76.3h0M446.4 76.3h0M418.2 75.6h0M512.5 79.5h0M476 71.3h0M481.6 70h0M478.9 76.1h0M481.8 83h0M497.8 83.8h0M532.5 90h0M422.1 76.7h0M462.1 72.4h0M447.4 67.1h0M532.2 79.2h0M453.5 73.6h0M400.9 66.6h0M463.4 80.4h0M436 69.4h0M435.1 76.2h0M446.7 78.2h0M413.4 62.7h0M387.9 67.1h0M542.1 89h0M459.4 79.7h0M427.5 73.2h0M490.2 72.6h0M518.3 77.1h0M395.1 70.2h0M446.4 80.6h0M475.8 79.3h0M431.2 72.5h0M482.7 78.6h0M415.1 75.5h0M439 64.8h0M460.4 70.5h0M481.9 77.6h0M465.8 82.1h0M437.1 78.9h0M450.4 70.7h0M380.4 68.6h0M550.3 79.7h0M448.6 72.5h0M452.9 75.6h0M475.5 75h0M487.8 75.1h0M479 71.3h0M438.4 65.6h0M398.7 69.1h0M457.7 76.2h0M432.6 76.2h0M443 69.9h0M465 72.3h0M473.8 83h0M516.1 82.5h0M458.5 79.8h0M396.1 67h0M488.4 74.4h0M502.2 73.4h0M398.6 75.1h0M489.4 72.3h0M472.9 67.9h0M443.3 70.3h0M471 82.8h0M480.2 77.4h0M488.2 79.1h0M510.4 80.5h0M464.2 75.6h0M464.5 75h0M561.7 77.3h0M421.2 80.4h0M453.8 74.2h0M450 80.7h0M496 70.8h0M508.6 82.4h0M412.4 65.4h0M514.4 73.7h0M417.1 73h0M568.4 90.1h0M437.3 80.3h0M508.2 86.3h0M454.1 73.6h0M492.7 82.2h0M435.1 70.3h0M470.2 73.6h0M465.5 77.2h0M468.4 75.6h0M496 82.9h0M447.9 65.2h0M451.3 80.4h0M412.4 68.4h0M458.5 82.7h0M444.6 79.8h0M500.5 73.2h0M491.5 78h0M435.5 76.7h0M482.7 73.5h0M517.5 76.8h0M456.5 73.6h0M417.6 75.5h0M562.6 89h0M487 75.7h0M492.5 82.5h0M564.1 91.9h0M432.5 77.7h0M477.3 73.3h0M389.5 65.1h0M484.3 79h0M480.2 81.4h0M433.3 75.3h0M430.9 71h0M458.1 70.7h0M455 81.4h0M528 80.7h0M454.2 84.3h0M458.9 69.7h0M457.9 73.7h0M401.2 67.2h0M444.5 83.3h0M410.3 77.3h0M470 73.9h0M378 58.7h0M419.3 77.7h0M474.8 77.5h0M381.4 63h0M403.2 63h0M504.2 81.4h0M411.6 70.3h0M464.3 76.6h0M476.8 79h0M422.5 70.4h0M397.4 68.7h0M525.3 84.5h0M442.5 73.4h0M485.4 76.4h0M434.1 76.4h0M480.1 67.4h0M411.7 77.5h0M409.6 73.3h0M423.3 68.5h0M439.7 72.9h0M439.1 79.8h0M451.2 77.5h0M482.7 68.7h0M443.7 69h0M501.9 80.1h0M437.4 82.5h0M490.8 82h0M517.1 79.6h0M533.9 84.9h0M385.3 69.1h0M533.6 80.5h0M394.1 71.7h0M522.2 70.3h0M463.7 80.9h0M478.5 79.8h0M427.1 70.5h0M502.4 75h0M492.6 72.4h0M442.5 75.4h0M440 74.6h0M498.8 79.8h0M505.1 88h0M496.3 67.8h0M449.8 71.1h0M465.2 72.2h0M501.8 83.9h0M498.2 77.7h0M510.2 75.3h0M470.3 77.5h0M436.5 75.5h0M475.6 85h0M482.7 78.8h0M443.7 71.9h0M482.9 75.1h0M431.7 69h0M474.8 79.3h0M440.3 77.9h0M549.3 82.2h0M512.3 79.5h0M474.6 83.7h0M412.3 71.9h0M415.5 74.2h0M493.1 73.1h0M459 72.5h0M478 66.5h0M402.5 63.7h0M404.6 72.6h0M468.8 82.5h0M456.6 73.9h0M412.1 65.4h0M432.8 73.6h0M495.5 84.4h0M447.5 73.7h0M487.3 82.5h0M530.6 81.4h0M478.7 71.1h0M470.3 72h0M441.1 72.6h0M512.3 91.5h0M406.9 73.8h0M421.1 71h0M463.9 77.4h0M405.9 71.9h0M504 77.2h0M439.9 73.3h0M485.9 76.6h0M452.1 78.6h0M454 82.8h0M464.7 82.6h0" stroke="#2e3438" stroke-width=".5" stroke-linecap="round" fill="none" opacity=".8"/>
<g stroke="#1a2126" stroke-width=".75" fill="none">
<path d="M374 36.7 H381"/>
<path d="M368 38.9 H391"/>
<path d="M361 40.9 H400"/>
<path d="M350 43.0 H410"/>
<path d="M331 45.3 H421"/>
<path d="M320 45.8 h4" opacity=".6"/>
<path d="M319 47.5 H431"/>
<path d="M308 49.7 H441"/>
<path d="M293 50.2 h9" opacity=".6"/>
<path d="M299 51.6 H450"/>
<path d="M281 54.1 H462"/>
<path d="M261 54.6 h9" opacity=".6"/>
<path d="M264 56.0 H456 L534 63.7"/>
<path d="M228 58.2 H459"/>
<path d="M251 60.3 H456 L530 64.4"/>
<path d="M262 62.5 H456"/>
<path d="M241 63.0 h8" opacity=".6"/>
<path d="M290 64.7 H456 L565 65.2"/>
<path d="M345 66.7 H463"/>
</g>
<path d="M380 37 L400 41.6" stroke="#1f262b" stroke-width=".7" fill="none"/>
<path d="M398 41.2 L430 48 L456 53.6 L510 59 L560 63 L594 65.7" stroke="#13171a" stroke-width="1.3" fill="none"/>
<path d="M404 43.4 L430 49.2 L456 54.6 L500 59" stroke="#13171a" stroke-width="1" fill="none" opacity=".8"/>
<path d="M478 55.4 L520 58.4 L545 60.4 M500 61.8 L540 61 L552 61.8" stroke="#2a3035" stroke-width=".6" fill="none"/>
<g fill="#e39d0f" stroke="#3b2b06" stroke-width=".5">
<circle cx="409.2" cy="88.7" r="0.51"/><circle cx="348.8" cy="111.3" r="0.56"/><circle cx="367.5" cy="72.5" r="0.43"/><circle cx="404.7" cy="95" r="0.42"/><circle cx="359.6" cy="114.8" r="0.58"/><circle cx="372.7" cy="80.9" r="0.55"/><circle cx="381.2" cy="91.8" r="0.96"/><circle cx="381.2" cy="98.5" r="0.51"/><circle cx="403.8" cy="106.6" r="0.88"/><circle cx="404.1" cy="95.6" r="1.06"/><circle cx="398.9" cy="97.9" r="0.70"/><circle cx="377.7" cy="71.5" r="0.78"/><circle cx="400.1" cy="91.8" r="0.42"/><circle cx="389.1" cy="88" r="0.77"/><circle cx="384.3" cy="106" r="1.09"/><circle cx="400.3" cy="112.3" r="0.61"/><circle cx="385.3" cy="81.4" r="1.41"/><circle cx="359.4" cy="65.6" r="0.44"/><circle cx="387.8" cy="94.1" r="0.53"/><circle cx="369.9" cy="81.2" r="1.52"/><circle cx="401.8" cy="95.5" r="0.56"/><circle cx="379.7" cy="74.5" r="0.59"/><circle cx="359" cy="83.1" r="0.62"/><circle cx="391.3" cy="96.1" r="0.66"/><circle cx="400.8" cy="104" r="0.99"/><circle cx="411.2" cy="87.1" r="0.53"/><circle cx="371.6" cy="78.2" r="0.43"/><circle cx="369.4" cy="71.6" r="0.49"/><circle cx="398.2" cy="91.4" r="1.60"/><circle cx="393" cy="94.4" r="0.55"/><circle cx="392.5" cy="97.9" r="0.55"/><circle cx="403.9" cy="103.1" r="0.55"/><circle cx="406.4" cy="90.9" r="0.88"/><circle cx="399" cy="88.9" r="0.74"/><circle cx="403.7" cy="111" r="0.46"/><circle cx="392.7" cy="104" r="0.91"/><circle cx="405.4" cy="94.6" r="0.70"/><circle cx="394.5" cy="91.7" r="0.59"/><circle cx="396" cy="109.7" r="0.57"/><circle cx="387.6" cy="81.3" r="0.50"/><circle cx="408.9" cy="88.8" r="0.67"/><circle cx="379.9" cy="79" r="1.27"/><circle cx="392.1" cy="108" r="0.78"/><circle cx="368.1" cy="117.8" r="0.54"/><circle cx="390.7" cy="111" r="0.85"/><circle cx="372.1" cy="100.9" r="0.78"/><circle cx="410" cy="106.4" r="1.17"/><circle cx="369.4" cy="64.3" r="0.81"/><circle cx="342.4" cy="96" r="0.77"/><circle cx="388.7" cy="100.8" r="0.86"/><circle cx="390.1" cy="94.9" r="0.56"/><circle cx="382.7" cy="120.2" r="0.97"/><circle cx="397.6" cy="114.1" r="0.79"/><circle cx="403.6" cy="76.7" r="0.77"/><circle cx="406.7" cy="105.8" r="0.50"/><circle cx="408.4" cy="97.3" r="1.09"/><circle cx="403" cy="95.9" r="0.69"/><circle cx="407.1" cy="108.4" r="0.46"/><circle cx="391.9" cy="100" r="0.49"/><circle cx="369.2" cy="111" r="0.62"/><circle cx="360.8" cy="92.3" r="0.47"/><circle cx="394.9" cy="104.8" r="0.46"/><circle cx="397.6" cy="100.6" r="0.50"/><circle cx="412.3" cy="88.4" r="0.94"/><circle cx="395.2" cy="81.6" r="0.75"/><circle cx="402.6" cy="100.1" r="0.56"/><circle cx="392.9" cy="88.9" r="0.59"/><circle cx="420.1" cy="83.8" r="0.57"/><circle cx="399.9" cy="108.3" r="0.47"/><circle cx="398.8" cy="91.6" r="0.92"/><circle cx="412.2" cy="110.7" r="0.74"/><circle cx="399.9" cy="104.9" r="1.12"/><circle cx="367.7" cy="65.7" r="0.85"/><circle cx="391.3" cy="118.2" r="0.97"/><circle cx="367.2" cy="68.9" r="0.74"/><circle cx="382.7" cy="76.5" r="0.50"/><circle cx="389.3" cy="100.8" r="1.45"/><circle cx="379.4" cy="62.9" r="1.00"/><circle cx="354.7" cy="114.3" r="1.49"/><circle cx="379.6" cy="98.9" r="0.59"/><circle cx="357.2" cy="115.9" r="0.74"/><circle cx="401.5" cy="91.2" r="1.53"/><circle cx="406.4" cy="99.7" r="0.91"/><circle cx="399" cy="85" r="0.62"/><circle cx="374.8" cy="71.5" r="0.43"/><circle cx="380.7" cy="72.4" r="0.84"/><circle cx="380.1" cy="99.2" r="0.64"/><circle cx="369.7" cy="115" r="0.71"/><circle cx="367.6" cy="91.8" r="0.47"/><circle cx="393.1" cy="84.1" r="0.78"/><circle cx="381.3" cy="75.4" r="1.28"/><circle cx="363.2" cy="117.2" r="0.51"/><circle cx="403" cy="105.9" r="0.49"/><circle cx="383.5" cy="96" r="0.75"/><circle cx="400" cy="107.5" r="0.81"/><circle cx="361.9" cy="101.4" r="0.96"/><circle cx="392.9" cy="98.5" r="0.85"/><circle cx="371.8" cy="67" r="0.43"/><circle cx="353.5" cy="102.9" r="0.48"/><circle cx="407.1" cy="95.7" r="1.15"/><circle cx="398.8" cy="76.7" r="0.81"/><circle cx="402.5" cy="101.2" r="0.90"/><circle cx="404.5" cy="91.5" r="0.61"/><circle cx="382.7" cy="100.3" r="1.54"/><circle cx="369.9" cy="75" r="0.62"/><circle cx="369.1" cy="83.6" r="1.70"/><circle cx="369.2" cy="76.1" r="0.80"/><circle cx="376.9" cy="81.2" r="0.94"/><circle cx="395.7" cy="69.7" r="0.85"/><circle cx="409.3" cy="93.1" r="0.84"/><circle cx="419.9" cy="101.5" r="0.63"/><circle cx="415.3" cy="103.2" r="0.52"/><circle cx="405.3" cy="104.5" r="0.70"/><circle cx="402.3" cy="102.7" r="0.71"/><circle cx="378.2" cy="76.9" r="0.61"/><circle cx="371" cy="98.6" r="0.44"/><circle cx="383.4" cy="78.9" r="1.12"/><circle cx="389" cy="103.4" r="0.43"/><circle cx="400.9" cy="94.2" r="0.72"/><circle cx="394.7" cy="94.1" r="1.12"/><circle cx="364.6" cy="124.6" r="0.46"/><circle cx="407.4" cy="77.4" r="0.58"/><circle cx="400.4" cy="99.5" r="0.50"/><circle cx="386.7" cy="98.9" r="0.71"/><circle cx="370" cy="70.3" r="0.70"/><circle cx="410.2" cy="113.1" r="0.70"/><circle cx="396.5" cy="85.2" r="0.59"/><circle cx="368.8" cy="120.2" r="0.55"/><circle cx="402.4" cy="82.2" r="0.73"/><circle cx="366.5" cy="69.4" r="0.50"/><circle cx="397.1" cy="105.4" r="0.65"/><circle cx="380" cy="106.7" r="1.31"/><circle cx="396.9" cy="82.4" r="0.46"/><circle cx="380.9" cy="102.3" r="0.46"/><circle cx="353.3" cy="120.2" r="1.08"/><circle cx="356.8" cy="108.4" r="1.04"/><circle cx="379.6" cy="91.9" r="0.53"/><circle cx="393.6" cy="83.6" r="0.57"/><circle cx="410" cy="93.3" r="0.57"/><circle cx="402.6" cy="102" r="0.49"/><circle cx="355.6" cy="115" r="0.47"/><circle cx="363.9" cy="113.5" r="0.65"/><circle cx="400.3" cy="83.6" r="0.60"/><circle cx="407.1" cy="93.3" r="0.67"/><circle cx="382.4" cy="71.9" r="0.53"/><circle cx="384.9" cy="103.7" r="0.74"/><circle cx="398.9" cy="108.3" r="1.00"/><circle cx="360.1" cy="113.3" r="0.43"/><circle cx="366.6" cy="61.5" r="0.71"/><circle cx="400.7" cy="99.3" r="0.85"/><circle cx="398" cy="82.6" r="0.44"/><circle cx="387.8" cy="98.8" r="0.70"/><circle cx="389.6" cy="91.2" r="0.42"/><circle cx="385.2" cy="100.4" r="0.58"/><circle cx="344.6" cy="93.7" r="0.47"/><circle cx="379.3" cy="97.4" r="0.88"/><circle cx="400.4" cy="110.5" r="0.98"/><circle cx="390.9" cy="108.1" r="0.69"/><circle cx="375.5" cy="79" r="0.46"/><circle cx="416.2" cy="84.1" r="1.25"/><circle cx="396.8" cy="94.4" r="0.63"/><circle cx="399.9" cy="97.1" r="0.71"/><circle cx="390.3" cy="97.4" r="0.61"/><circle cx="393.9" cy="97.1" r="0.46"/><circle cx="365.4" cy="71.4" r="0.71"/><circle cx="406.2" cy="98.2" r="0.86"/><circle cx="400.5" cy="99.7" r="0.48"/><circle cx="398" cy="105.6" r="0.64"/><circle cx="397.4" cy="68.3" r="0.73"/><circle cx="373.1" cy="66" r="0.46"/><circle cx="376.7" cy="95.1" r="0.60"/><circle cx="350.2" cy="110.1" r="1.07"/><circle cx="407.5" cy="120" r="1.00"/><circle cx="371.5" cy="63.1" r="0.51"/><circle cx="365.6" cy="112.7" r="1.02"/><circle cx="391.1" cy="82.1" r="0.87"/><circle cx="386.2" cy="108" r="1.03"/><circle cx="397.1" cy="92.8" r="0.44"/><circle cx="405.9" cy="95.7" r="0.58"/><circle cx="355.7" cy="109.3" r="0.59"/><circle cx="353" cy="104.3" r="0.47"/><circle cx="408.4" cy="106.5" r="0.48"/><circle cx="407.2" cy="93.3" r="0.45"/><circle cx="402.6" cy="104.9" r="0.82"/><circle cx="388.2" cy="106.7" r="0.44"/><circle cx="357.1" cy="111.6" r="0.75"/><circle cx="412.6" cy="103.5" r="0.42"/><circle cx="399" cy="82.5" r="0.57"/><circle cx="394.2" cy="105.5" r="1.56"/><circle cx="398.7" cy="87.8" r="0.48"/><circle cx="393.4" cy="94.6" r="1.02"/><circle cx="405.1" cy="110" r="0.43"/><circle cx="399.5" cy="96.7" r="0.93"/><circle cx="409.9" cy="105.8" r="1.06"/><circle cx="385.5" cy="79.8" r="1.06"/><circle cx="375" cy="77.5" r="0.68"/><circle cx="402" cy="92.7" r="0.66"/><circle cx="403.1" cy="113.6" r="0.68"/><circle cx="351.4" cy="109.6" r="0.55"/><circle cx="395.2" cy="105" r="0.68"/><circle cx="403.4" cy="106.9" r="0.43"/><circle cx="375.9" cy="65.6" r="1.41"/><circle cx="411.4" cy="105.7" r="0.98"/><circle cx="399.6" cy="111.7" r="0.85"/><circle cx="376.9" cy="61.6" r="0.45"/><circle cx="402.3" cy="103.7" r="0.84"/><circle cx="401.7" cy="91.5" r="0.58"/><circle cx="394.1" cy="111" r="0.78"/><circle cx="386.5" cy="98.8" r="0.64"/><circle cx="404.9" cy="99.8" r="0.53"/><circle cx="364.1" cy="118.3" r="0.45"/><circle cx="373" cy="101.2" r="0.46"/><circle cx="411.4" cy="98.1" r="0.52"/><circle cx="368.2" cy="71.3" r="0.75"/><circle cx="391.3" cy="96.2" r="0.55"/><circle cx="388.3" cy="98.4" r="0.93"/><circle cx="383.4" cy="96.2" r="0.61"/><circle cx="387.8" cy="98.3" r="0.76"/><circle cx="372.2" cy="84.2" r="0.77"/><circle cx="416.2" cy="88.7" r="0.45"/><circle cx="400.8" cy="98.8" r="0.93"/><circle cx="383" cy="102.1" r="0.46"/><circle cx="354.6" cy="115.3" r="2.20"/><circle cx="404.3" cy="101.2" r="0.90"/><circle cx="354" cy="118.8" r="0.58"/><circle cx="381.4" cy="79.8" r="0.78"/><circle cx="402.7" cy="87.8" r="0.74"/><circle cx="387.7" cy="95" r="0.98"/><circle cx="402.8" cy="92.5" r="0.43"/><circle cx="375.7" cy="79" r="1.88"/><circle cx="401.7" cy="91.7" r="1.04"/><circle cx="405.3" cy="113.3" r="0.75"/><circle cx="370.2" cy="77.7" r="0.55"/><circle cx="401.3" cy="99.6" r="0.58"/><circle cx="404.2" cy="90.5" r="0.47"/><circle cx="353.9" cy="110.5" r="1.91"/><circle cx="356.7" cy="107.8" r="0.45"/><circle cx="355.7" cy="111.9" r="0.65"/><circle cx="385.2" cy="97.6" r="0.45"/><circle cx="400.8" cy="114" r="0.57"/><circle cx="413.3" cy="95.1" r="0.47"/><circle cx="353.2" cy="110" r="0.96"/><circle cx="401.9" cy="88.3" r="0.71"/><circle cx="394.3" cy="119.7" r="0.58"/><circle cx="370.1" cy="105.4" r="0.65"/><circle cx="391.9" cy="93.4" r="0.91"/><circle cx="400.3" cy="98.8" r="0.89"/><circle cx="361.2" cy="114.2" r="0.56"/><circle cx="395.4" cy="103.3" r="0.60"/><circle cx="406.2" cy="105.8" r="0.85"/><circle cx="389.2" cy="108.6" r="1.66"/><circle cx="395.3" cy="99" r="0.62"/><circle cx="353.1" cy="104.7" r="0.44"/><circle cx="358.7" cy="110.3" r="0.72"/><circle cx="399" cy="87.6" r="1.21"/><circle cx="396.2" cy="78.5" r="0.79"/><circle cx="402" cy="102.7" r="0.47"/><circle cx="379.7" cy="80.1" r="0.74"/><circle cx="398.6" cy="101.5" r="0.70"/><circle cx="402.3" cy="112" r="0.48"/><circle cx="391.8" cy="90.2" r="0.64"/><circle cx="415.1" cy="103.4" r="0.63"/><circle cx="395.3" cy="126.4" r="1.04"/><circle cx="410.1" cy="91" r="0.44"/><circle cx="374.3" cy="97.8" r="0.46"/><circle cx="408.1" cy="94.7" r="0.50"/><circle cx="391" cy="92.4" r="0.84"/><circle cx="401.4" cy="90.7" r="0.75"/><circle cx="332.8" cy="110.9" r="0.76"/><circle cx="394.1" cy="97.3" r="0.66"/><circle cx="423.4" cy="101.4" r="0.58"/><circle cx="387.2" cy="78.7" r="0.92"/><circle cx="405.6" cy="101.1" r="0.50"/><circle cx="401" cy="94.1" r="0.95"/><circle cx="372.3" cy="113.5" r="0.71"/><circle cx="404.8" cy="104.4" r="0.49"/><circle cx="387.7" cy="112.2" r="0.50"/><circle cx="398" cy="89.7" r="0.45"/><circle cx="397" cy="88.4" r="0.50"/><circle cx="396.1" cy="104.1" r="0.46"/><circle cx="348.8" cy="106.6" r="1.13"/><circle cx="386" cy="66.4" r="0.43"/><circle cx="403.1" cy="100.7" r="0.60"/><circle cx="384.3" cy="94.8" r="0.50"/><circle cx="395.2" cy="98.7" r="1.04"/><circle cx="382.1" cy="75.6" r="0.55"/><circle cx="397.3" cy="94.7" r="0.63"/><circle cx="403.6" cy="116.8" r="0.70"/><circle cx="398.6" cy="93.2" r="0.72"/><circle cx="380.1" cy="77.7" r="0.68"/><circle cx="357.2" cy="109.3" r="0.54"/><circle cx="388.4" cy="101.1" r="0.49"/><circle cx="404" cy="105.1" r="1.72"/><circle cx="362.4" cy="116" r="1.05"/><circle cx="347.8" cy="107.9" r="0.63"/><circle cx="388.9" cy="98.5" r="0.92"/><circle cx="388.7" cy="106" r="0.75"/><circle cx="399.7" cy="107.1" r="0.64"/><circle cx="375.8" cy="76.3" r="1.24"/><circle cx="391.3" cy="110.6" r="0.97"/><circle cx="401.2" cy="91.4" r="0.64"/><circle cx="377" cy="91.8" r="0.60"/><circle cx="400.6" cy="93.8" r="0.59"/><circle cx="368.2" cy="112.4" r="0.57"/><circle cx="385.1" cy="81.1" r="0.44"/><circle cx="405.4" cy="100.6" r="0.66"/><circle cx="386.8" cy="85.4" r="0.59"/><circle cx="353.2" cy="120.5" r="0.69"/><circle cx="404" cy="89.8" r="0.47"/><circle cx="401.1" cy="94" r="0.45"/><circle cx="406.7" cy="84.2" r="1.36"/><circle cx="387.4" cy="92.8" r="0.50"/><circle cx="409.6" cy="106.9" r="0.81"/><circle cx="399.6" cy="88.8" r="1.65"/><circle cx="394.6" cy="94.2" r="1.52"/><circle cx="409" cy="85.4" r="1.08"/><circle cx="354.3" cy="107.1" r="1.72"/><circle cx="396" cy="103" r="0.52"/><circle cx="381" cy="75.6" r="0.42"/><circle cx="367.5" cy="75.2" r="0.66"/><circle cx="399.1" cy="86.1" r="0.58"/><circle cx="385.6" cy="89.2" r="1.41"/><circle cx="359.5" cy="115.5" r="0.59"/><circle cx="397.9" cy="96.3" r="0.61"/><circle cx="392.6" cy="105.1" r="0.84"/><circle cx="391.9" cy="100" r="0.63"/><circle cx="403.5" cy="99.2" r="0.71"/><circle cx="383.8" cy="84.3" r="0.47"/><circle cx="349.4" cy="115.2" r="1.09"/><circle cx="348.4" cy="112.5" r="0.72"/><circle cx="366.5" cy="75" r="0.87"/><circle cx="384.2" cy="101" r="0.59"/><circle cx="400.6" cy="107.6" r="0.82"/><circle cx="399" cy="89" r="0.54"/><circle cx="367.8" cy="113.3" r="0.45"/><circle cx="398.7" cy="92.9" r="0.98"/><circle cx="412.5" cy="110.6" r="0.42"/><circle cx="385.8" cy="88.8" r="0.77"/><circle cx="396.7" cy="107.4" r="0.64"/><circle cx="384" cy="108.4" r="0.56"/><circle cx="410" cy="74.6" r="0.75"/><circle cx="390.1" cy="94" r="0.66"/><circle cx="406.8" cy="119.1" r="0.60"/><circle cx="360.1" cy="114.4" r="0.88"/><circle cx="410.3" cy="105.3" r="0.49"/><circle cx="394.7" cy="95.3" r="0.85"/><circle cx="399.7" cy="99.6" r="0.89"/><circle cx="363" cy="106.4" r="0.42"/><circle cx="410.4" cy="103.6" r="0.56"/><circle cx="403.4" cy="88.5" r="0.56"/><circle cx="410.5" cy="96.7" r="0.80"/><circle cx="382.1" cy="81.5" r="0.66"/><circle cx="353.3" cy="121.7" r="0.65"/><circle cx="379.1" cy="77.2" r="0.91"/><circle cx="349" cy="115.3" r="0.44"/><circle cx="416.9" cy="88" r="0.57"/><circle cx="397.6" cy="92.4" r="0.73"/><circle cx="387" cy="74.9" r="0.64"/><circle cx="393.2" cy="87.9" r="0.95"/><circle cx="414.5" cy="93.1" r="0.55"/><circle cx="400.7" cy="99.8" r="0.63"/><circle cx="397.9" cy="94.3" r="0.49"/><circle cx="407.9" cy="94.3" r="0.77"/><circle cx="358.1" cy="114.5" r="0.47"/><circle cx="396.5" cy="92.5" r="1.63"/><circle cx="414.4" cy="94.3" r="0.82"/><circle cx="400.6" cy="104.5" r="0.98"/><circle cx="365" cy="76.7" r="1.32"/><circle cx="386.4" cy="84.4" r="0.59"/><circle cx="403.2" cy="90.6" r="0.52"/><circle cx="381.1" cy="101.4" r="0.43"/><circle cx="392.8" cy="97.7" r="0.71"/><circle cx="355.6" cy="119.6" r="0.82"/><circle cx="348.2" cy="117.1" r="0.65"/><circle cx="400.7" cy="109.9" r="0.43"/><circle cx="383" cy="108.3" r="0.50"/><circle cx="356.4" cy="84" r="0.97"/><circle cx="404.4" cy="91.1" r="1.16"/><circle cx="368.2" cy="71" r="0.75"/><circle cx="385.5" cy="107.4" r="1.27"/><circle cx="386.2" cy="112.2" r="0.96"/><circle cx="356.4" cy="116" r="0.59"/><circle cx="377.4" cy="74.2" r="0.66"/><circle cx="406" cy="100.6" r="0.63"/><circle cx="398.6" cy="115.7" r="0.51"/><circle cx="381" cy="62.2" r="1.23"/><circle cx="398.2" cy="101.3" r="0.53"/><circle cx="361.1" cy="112.8" r="0.64"/><circle cx="387.7" cy="101.2" r="0.44"/><circle cx="379.1" cy="75.8" r="0.64"/><circle cx="399.6" cy="110.2" r="0.47"/><circle cx="374.6" cy="110.2" r="0.49"/><circle cx="399.5" cy="95" r="1.29"/><circle cx="394.9" cy="101.5" r="0.46"/><circle cx="398.7" cy="99.9" r="0.70"/><circle cx="362.4" cy="109.3" r="1.02"/><circle cx="374.8" cy="85.1" r="0.44"/><circle cx="400.5" cy="110" r="1.02"/><circle cx="393.9" cy="99.7" r="0.57"/><circle cx="419.5" cy="99.6" r="0.58"/><circle cx="367.5" cy="126.5" r="0.63"/><circle cx="370.6" cy="87.9" r="0.43"/><circle cx="403" cy="113.3" r="0.62"/><circle cx="400.6" cy="106.6" r="0.46"/><circle cx="398.6" cy="102.9" r="0.53"/><circle cx="361.2" cy="109.3" r="0.53"/><circle cx="355.3" cy="113.2" r="1.07"/><circle cx="384.9" cy="102.2" r="0.79"/><circle cx="371.6" cy="73.7" r="0.44"/><circle cx="385.4" cy="82.6" r="0.44"/><circle cx="391.9" cy="84.1" r="0.45"/><circle cx="417.8" cy="88.3" r="0.63"/><circle cx="414.3" cy="102.6" r="1.10"/><circle cx="372.1" cy="112.3" r="0.96"/><circle cx="410.5" cy="97" r="0.93"/><circle cx="392" cy="78" r="0.64"/><circle cx="382.6" cy="101.6" r="0.71"/><circle cx="384.9" cy="113.4" r="0.61"/><circle cx="370.3" cy="107.9" r="0.59"/><circle cx="377.7" cy="83.4" r="1.01"/><circle cx="412.6" cy="111.3" r="0.65"/><circle cx="415.9" cy="101.5" r="0.77"/><circle cx="410.3" cy="101.8" r="0.54"/><circle cx="372.4" cy="64.2" r="0.80"/><circle cx="409.5" cy="109.4" r="0.86"/><circle cx="408.5" cy="103.8" r="0.72"/><circle cx="397.9" cy="100.8" r="0.58"/><circle cx="402.5" cy="106.3" r="0.44"/><circle cx="347.8" cy="110.7" r="0.67"/><circle cx="347.3" cy="112.2" r="0.86"/><circle cx="401.4" cy="94.5" r="0.48"/><circle cx="390.3" cy="99.8" r="1.19"/><circle cx="385.2" cy="90.3" r="0.49"/><circle cx="382.9" cy="72.7" r="0.81"/><circle cx="410.4" cy="112.7" r="0.78"/><circle cx="407.8" cy="105.6" r="0.68"/><circle cx="412" cy="96" r="0.47"/><circle cx="399.9" cy="105" r="0.91"/><circle cx="353.2" cy="113.1" r="0.55"/><circle cx="422.8" cy="100" r="0.52"/><circle cx="347.5" cy="99.4" r="0.70"/><circle cx="383.7" cy="77.8" r="0.87"/><circle cx="400.9" cy="102.6" r="1.14"/><circle cx="384.4" cy="103.9" r="0.82"/><circle cx="371.1" cy="64.1" r="1.21"/><circle cx="405.2" cy="89" r="0.55"/><circle cx="370.3" cy="103.7" r="0.46"/><circle cx="392.4" cy="101.7" r="0.53"/><circle cx="361" cy="117" r="1.74"/><circle cx="391.1" cy="89.2" r="0.67"/><circle cx="400.7" cy="92" r="0.62"/><circle cx="344.2" cy="113.6" r="0.57"/><circle cx="394.4" cy="95.2" r="0.63"/><circle cx="358.7" cy="100.6" r="1.03"/><circle cx="396.3" cy="106.8" r="0.59"/><circle cx="371.8" cy="73.4" r="0.67"/><circle cx="392.2" cy="82.2" r="0.56"/><circle cx="403" cy="114.6" r="0.64"/><circle cx="412.1" cy="95.7" r="1.67"/><circle cx="404.5" cy="98.2" r="0.70"/><circle cx="405" cy="99.6" r="0.50"/><circle cx="398.1" cy="90.7" r="0.66"/><circle cx="408.2" cy="82" r="0.64"/><circle cx="412.2" cy="94.2" r="1.18"/><circle cx="414.4" cy="80.8" r="1.03"/><circle cx="372.4" cy="63.5" r="0.47"/><circle cx="389.9" cy="96.4" r="0.61"/><circle cx="353.6" cy="118.5" r="0.54"/><circle cx="404.4" cy="85.2" r="0.48"/><circle cx="404.6" cy="98.5" r="0.43"/><circle cx="414.2" cy="102.5" r="0.94"/><circle cx="423.4" cy="87.1" r="0.44"/><circle cx="368.5" cy="71.7" r="0.66"/><circle cx="416.9" cy="99.1" r="0.59"/><circle cx="372.3" cy="79.2" r="0.50"/><circle cx="408.4" cy="84.7" r="0.48"/><circle cx="397.1" cy="92.4" r="0.81"/><circle cx="403.9" cy="81.3" r="0.43"/><circle cx="390.7" cy="86.3" r="0.64"/><circle cx="412.8" cy="109.8" r="1.23"/><circle cx="414.1" cy="91.5" r="0.70"/><circle cx="383.7" cy="91.4" r="0.67"/><circle cx="365.5" cy="111.8" r="0.50"/><circle cx="358" cy="111.2" r="0.44"/><circle cx="405.8" cy="106.4" r="0.50"/><circle cx="399.7" cy="92.1" r="0.79"/><circle cx="390.8" cy="93.4" r="0.53"/><circle cx="384.1" cy="91.1" r="0.64"/><circle cx="395.1" cy="115.6" r="0.47"/><circle cx="354.7" cy="116.5" r="0.62"/><circle cx="397.3" cy="106.6" r="0.67"/><circle cx="378.7" cy="73.4" r="0.88"/><circle cx="397.9" cy="90.1" r="0.43"/><circle cx="401.9" cy="105.4" r="0.46"/><circle cx="389.5" cy="109" r="0.99"/><circle cx="393.1" cy="101.2" r="1.46"/><circle cx="408.8" cy="88.9" r="0.45"/><circle cx="396.4" cy="106.6" r="0.47"/><circle cx="373.9" cy="67.5" r="0.47"/><circle cx="389" cy="91.9" r="0.67"/><circle cx="383.8" cy="107.5" r="0.64"/><circle cx="399.5" cy="98.8" r="0.87"/><circle cx="411.6" cy="101.2" r="0.62"/><circle cx="376.9" cy="84" r="0.44"/><circle cx="381.7" cy="67.1" r="1.05"/><circle cx="408.8" cy="90.8" r="0.48"/><circle cx="391.5" cy="104.5" r="0.60"/><circle cx="398.7" cy="94.4" r="0.71"/><circle cx="401.3" cy="94.7" r="0.71"/><circle cx="401.7" cy="100.4" r="0.51"/><circle cx="392.2" cy="101.2" r="0.95"/><circle cx="388.6" cy="83.6" r="0.84"/><circle cx="355.4" cy="110" r="0.82"/><circle cx="405.3" cy="102.1" r="0.74"/><circle cx="365.8" cy="120.5" r="0.67"/><circle cx="368.6" cy="67.3" r="0.63"/><circle cx="410.7" cy="79.7" r="1.02"/><circle cx="350.1" cy="109" r="1.38"/><circle cx="354.3" cy="120.7" r="1.07"/><circle cx="419.8" cy="98.1" r="0.46"/><circle cx="382.5" cy="98.6" r="1.41"/><circle cx="368" cy="68.2" r="0.47"/><circle cx="361.3" cy="116" r="0.60"/><circle cx="394.9" cy="104.4" r="0.50"/><circle cx="410.2" cy="115.2" r="0.47"/><circle cx="363.8" cy="114" r="0.60"/><circle cx="389.9" cy="87.1" r="1.38"/><circle cx="402.1" cy="92.2" r="0.70"/><circle cx="409.2" cy="85.8" r="0.59"/><circle cx="387.4" cy="84.3" r="0.44"/><circle cx="413.3" cy="91.9" r="0.72"/><circle cx="357.7" cy="114.8" r="0.72"/><circle cx="400.1" cy="111.1" r="1.26"/><circle cx="382.9" cy="87.1" r="0.93"/><circle cx="394.8" cy="94.8" r="0.62"/><circle cx="383.9" cy="82.4" r="1.20"/><circle cx="412.3" cy="85.4" r="0.65"/><circle cx="392.9" cy="95.7" r="1.02"/><circle cx="382.9" cy="107.4" r="0.56"/><circle cx="408.4" cy="92.1" r="0.59"/><circle cx="389.4" cy="103" r="1.14"/><circle cx="400" cy="102.6" r="1.20"/><circle cx="405.2" cy="100.5" r="0.68"/><circle cx="403" cy="117.8" r="0.78"/><circle cx="391.5" cy="107.7" r="0.82"/><circle cx="390.7" cy="95.6" r="0.76"/><circle cx="389.1" cy="107.3" r="1.04"/><circle cx="369.4" cy="71.7" r="0.99"/><circle cx="395.6" cy="121.5" r="0.43"/><circle cx="370.9" cy="73.7" r="0.60"/><circle cx="410.5" cy="103" r="0.81"/><circle cx="375.9" cy="97.5" r="0.65"/><circle cx="390.4" cy="85.3" r="0.92"/><circle cx="388.2" cy="97.9" r="0.43"/><circle cx="397.5" cy="105.6" r="0.67"/><circle cx="375.2" cy="112.6" r="0.57"/><circle cx="376.9" cy="117.5" r="1.11"/><circle cx="405.9" cy="88.3" r="1.35"/><circle cx="413.8" cy="100.5" r="0.67"/><circle cx="393.6" cy="124.2" r="0.76"/><circle cx="405.3" cy="111.6" r="0.76"/><circle cx="404.8" cy="107" r="0.53"/><circle cx="404.9" cy="81.6" r="0.64"/><circle cx="400" cy="116.2" r="0.49"/><circle cx="374.9" cy="120.6" r="0.43"/><circle cx="393.9" cy="87.4" r="0.58"/><circle cx="377.5" cy="77.1" r="0.44"/><circle cx="400" cy="108.9" r="0.99"/><circle cx="407.6" cy="113" r="0.44"/><circle cx="382.4" cy="97.9" r="0.50"/><circle cx="390" cy="114.6" r="1.18"/><circle cx="373.5" cy="101" r="0.61"/><circle cx="398.4" cy="104.4" r="0.72"/><circle cx="361.4" cy="113.6" r="0.63"/><circle cx="356.9" cy="88.9" r="0.99"/><circle cx="370.8" cy="62.6" r="0.92"/><circle cx="402.8" cy="98.2" r="0.52"/><circle cx="412" cy="92.3" r="0.50"/><circle cx="416.8" cy="86.6" r="0.79"/><circle cx="367.3" cy="106.7" r="1.56"/><circle cx="418.2" cy="86.5" r="0.74"/><circle cx="402" cy="84.2" r="0.52"/><circle cx="397.7" cy="100.3" r="0.79"/><circle cx="408.6" cy="101.3" r="0.68"/><circle cx="367.9" cy="74.2" r="0.54"/><circle cx="356.8" cy="107" r="0.76"/><circle cx="375.4" cy="74.3" r="0.67"/><circle cx="393.2" cy="102.7" r="0.94"/><circle cx="396.1" cy="93.4" r="1.30"/><circle cx="398.3" cy="107.9" r="0.44"/><circle cx="392.9" cy="97.2" r="0.47"/><circle cx="403.2" cy="106.8" r="0.74"/><circle cx="422.9" cy="94.3" r="0.49"/><circle cx="397.9" cy="103.6" r="0.65"/><circle cx="379.5" cy="69.8" r="0.49"/><circle cx="400.3" cy="99.8" r="0.58"/><circle cx="399.3" cy="101.5" r="0.45"/><circle cx="381.9" cy="80.3" r="0.43"/><circle cx="400.6" cy="103.7" r="0.74"/><circle cx="400.5" cy="94.7" r="1.08"/><circle cx="391" cy="98.9" r="0.81"/><circle cx="380.8" cy="81.4" r="0.58"/><circle cx="394.6" cy="93.7" r="1.02"/><circle cx="405.4" cy="96.5" r="0.88"/><circle cx="397.5" cy="114.5" r="0.44"/><circle cx="402.1" cy="95.1" r="0.63"/><circle cx="402.2" cy="111.6" r="0.43"/><circle cx="356.8" cy="112.5" r="0.57"/><circle cx="402.3" cy="79.4" r="2.15"/><circle cx="401.7" cy="101.8" r="0.64"/><circle cx="391.3" cy="100.2" r="0.59"/><circle cx="408.9" cy="95.5" r="0.44"/><circle cx="399.3" cy="105.7" r="0.60"/><circle cx="391.1" cy="96" r="1.00"/><circle cx="379.5" cy="69.7" r="0.52"/><circle cx="358.4" cy="111.8" r="0.93"/><circle cx="400.8" cy="84.2" r="1.14"/><circle cx="398.1" cy="100.2" r="0.63"/><circle cx="361.3" cy="112.7" r="0.72"/><circle cx="369.8" cy="111.4" r="0.75"/><circle cx="387.7" cy="108.4" r="0.47"/><circle cx="374" cy="95.2" r="0.48"/><circle cx="407" cy="95.5" r="0.96"/><circle cx="390.6" cy="95.3" r="0.69"/><circle cx="379.5" cy="99.6" r="0.49"/><circle cx="391.2" cy="66" r="0.45"/><circle cx="406.4" cy="93.8" r="0.50"/><circle cx="403.4" cy="86.5" r="0.63"/><circle cx="377" cy="68" r="0.86"/><circle cx="373" cy="73.6" r="0.43"/><circle cx="409.6" cy="99.1" r="0.63"/><circle cx="396.2" cy="100.4" r="0.82"/><circle cx="412.2" cy="103.5" r="0.84"/><circle cx="390.8" cy="110.9" r="0.48"/><circle cx="404.2" cy="95.1" r="0.46"/><circle cx="386.2" cy="103" r="0.44"/><circle cx="404.9" cy="94.3" r="0.42"/><circle cx="372.9" cy="73" r="0.98"/><circle cx="407.9" cy="91" r="0.54"/><circle cx="390.7" cy="87.4" r="0.70"/><circle cx="377.2" cy="65.7" r="0.84"/><circle cx="398.2" cy="80.8" r="0.74"/><circle cx="394.2" cy="77" r="0.50"/><circle cx="382.9" cy="76.1" r="0.52"/><circle cx="400" cy="125.8" r="0.96"/><circle cx="400.3" cy="98.8" r="0.47"/><circle cx="354" cy="108.3" r="0.46"/><circle cx="345.6" cy="94" r="0.71"/><circle cx="381.6" cy="76.4" r="0.58"/><circle cx="367" cy="105.2" r="0.58"/><circle cx="400.8" cy="104.9" r="0.69"/><circle cx="364.8" cy="107.7" r="0.66"/><circle cx="412.1" cy="97.5" r="0.80"/><circle cx="370.1" cy="70.2" r="0.93"/><circle cx="398.9" cy="97.5" r="1.07"/><circle cx="374.7" cy="68.1" r="0.64"/><circle cx="374.2" cy="112.1" r="0.67"/><circle cx="395.5" cy="101.3" r="0.68"/><circle cx="340.1" cy="117.2" r="0.63"/><circle cx="401.3" cy="102.3" r="1.02"/><circle cx="360.1" cy="110.1" r="0.57"/><circle cx="393.7" cy="109.1" r="0.52"/><circle cx="390.9" cy="95.1" r="1.03"/><circle cx="381.3" cy="62.9" r="0.77"/><circle cx="376.2" cy="66.4" r="0.50"/><circle cx="414.7" cy="104.1" r="1.01"/><circle cx="361.6" cy="104.9" r="0.50"/><circle cx="365.2" cy="70.2" r="0.91"/><circle cx="355.8" cy="111.8" r="0.46"/><circle cx="397.3" cy="100.7" r="0.89"/><circle cx="389.1" cy="91.2" r="0.45"/><circle cx="393.7" cy="110.2" r="1.21"/><circle cx="392.9" cy="100.5" r="2.09"/><circle cx="385.1" cy="80.9" r="0.68"/><circle cx="389.5" cy="96.5" r="1.13"/><circle cx="364.1" cy="114.4" r="0.45"/><circle cx="402.7" cy="83.3" r="1.79"/><circle cx="371.2" cy="69" r="0.58"/><circle cx="402.8" cy="94.2" r="0.50"/><circle cx="370.1" cy="110.4" r="0.54"/><circle cx="381.3" cy="77.3" r="0.63"/><circle cx="396.1" cy="110.5" r="0.48"/><circle cx="387" cy="84.6" r="1.02"/><circle cx="381.9" cy="101.8" r="1.13"/><circle cx="396.8" cy="97.1" r="0.71"/><circle cx="409.1" cy="105.6" r="1.08"/><circle cx="392.2" cy="105" r="0.66"/><circle cx="394.9" cy="89.9" r="0.88"/><circle cx="408" cy="100.3" r="0.51"/><circle cx="390.2" cy="101" r="1.41"/><circle cx="386.8" cy="90.5" r="0.72"/><circle cx="396.8" cy="90.8" r="0.61"/><circle cx="393.4" cy="104.9" r="1.83"/><circle cx="389.9" cy="91.6" r="0.47"/><circle cx="377.2" cy="68.5" r="1.06"/><circle cx="383" cy="77.4" r="0.50"/><circle cx="399" cy="94.5" r="0.46"/><circle cx="430.9" cy="95.1" r="0.73"/><circle cx="396.9" cy="103.8" r="0.68"/><circle cx="404.7" cy="82.7" r="0.42"/><circle cx="387.5" cy="111.9" r="1.31"/><circle cx="392.7" cy="96.1" r="0.50"/><circle cx="426.2" cy="78.3" r="0.73"/><circle cx="364.6" cy="116.9" r="0.79"/><circle cx="366.9" cy="66.6" r="0.61"/><circle cx="401.3" cy="82.7" r="0.55"/><circle cx="409.1" cy="94.6" r="0.44"/><circle cx="389.8" cy="69.8" r="0.55"/><circle cx="401.9" cy="95.7" r="0.57"/><circle cx="397.1" cy="99.5" r="1.43"/><circle cx="384.1" cy="110.5" r="1.22"/><circle cx="408.9" cy="100.1" r="0.61"/><circle cx="398.2" cy="91.9" r="1.40"/><circle cx="370" cy="67.9" r="0.68"/><circle cx="408.6" cy="102.1" r="1.12"/><circle cx="388.7" cy="95.7" r="0.85"/><circle cx="414.6" cy="100.7" r="0.87"/><circle cx="413.6" cy="86.7" r="0.45"/><circle cx="390.8" cy="105.4" r="0.59"/><circle cx="376.2" cy="110.6" r="1.71"/><circle cx="401.3" cy="109.6" r="1.24"/><circle cx="382.1" cy="87.8" r="0.49"/><circle cx="407.8" cy="116.9" r="0.96"/><circle cx="393.5" cy="118.3" r="0.45"/><circle cx="378.6" cy="81.9" r="0.62"/><circle cx="382.6" cy="102.6" r="0.54"/><circle cx="378.2" cy="81.2" r="0.53"/><circle cx="412.3" cy="91" r="0.90"/><circle cx="397.7" cy="92.8" r="0.97"/><circle cx="407.3" cy="101.8" r="1.09"/><circle cx="403.6" cy="87.6" r="0.47"/><circle cx="401.6" cy="100.9" r="1.08"/><circle cx="420.7" cy="98" r="0.63"/><circle cx="394" cy="99.8" r="0.89"/><circle cx="401.6" cy="94.4" r="0.43"/><circle cx="387.4" cy="95" r="0.52"/><circle cx="395.3" cy="99.8" r="0.48"/><circle cx="395" cy="83.7" r="1.14"/><circle cx="369.4" cy="92" r="0.77"/><circle cx="388.2" cy="112.8" r="1.37"/><circle cx="398.4" cy="87.1" r="0.42"/><circle cx="384.3" cy="98.5" r="0.48"/><circle cx="407.9" cy="95.3" r="0.87"/><circle cx="409.6" cy="101.4" r="0.98"/><circle cx="352.5" cy="125.7" r="0.47"/><circle cx="370.3" cy="114.6" r="0.54"/><circle cx="360.3" cy="97.7" r="0.48"/><circle cx="371.2" cy="100.3" r="0.58"/><circle cx="365.8" cy="113.9" r="0.77"/><circle cx="352.5" cy="112.9" r="0.46"/><circle cx="390" cy="98.1" r="0.73"/><circle cx="379" cy="80.1" r="0.97"/><circle cx="401.4" cy="118.3" r="0.54"/><circle cx="383.4" cy="93.9" r="1.00"/><circle cx="404.2" cy="102.1" r="0.63"/><circle cx="353.4" cy="114.8" r="0.81"/><circle cx="373.9" cy="73.2" r="0.58"/><circle cx="363.1" cy="110.9" r="0.66"/><circle cx="412.7" cy="96.4" r="0.57"/><circle cx="391.3" cy="100.9" r="1.17"/><circle cx="408.5" cy="99.7" r="0.56"/><circle cx="405.6" cy="100.6" r="1.33"/><circle cx="387.7" cy="106" r="0.55"/><circle cx="396.6" cy="111.8" r="0.64"/><circle cx="397.7" cy="100" r="1.00"/><circle cx="379.5" cy="85.7" r="1.00"/><circle cx="392.3" cy="94" r="1.06"/><circle cx="359.8" cy="99.4" r="0.93"/><circle cx="419.9" cy="120" r="1.12"/><circle cx="349.7" cy="108.9" r="1.95"/><circle cx="374.2" cy="71.2" r="0.67"/><circle cx="406.9" cy="104.8" r="0.52"/><circle cx="407.7" cy="96.4" r="1.17"/><circle cx="414.9" cy="107" r="0.45"/><circle cx="426" cy="114" r="1.48"/><circle cx="345.5" cy="107.8" r="0.42"/><circle cx="401.1" cy="93.1" r="0.63"/><circle cx="383.9" cy="98.7" r="1.13"/><circle cx="397.9" cy="88.9" r="0.93"/><circle cx="368.3" cy="108.1" r="0.80"/><circle cx="372.5" cy="109.6" r="0.42"/><circle cx="398.1" cy="88.6" r="0.53"/><circle cx="355.4" cy="118.1" r="1.20"/><circle cx="385.5" cy="101.6" r="0.56"/><circle cx="365.1" cy="103.2" r="0.79"/><circle cx="401.5" cy="95.9" r="0.63"/><circle cx="368.5" cy="113.8" r="0.53"/><circle cx="404.6" cy="90.4" r="0.91"/><circle cx="377.9" cy="89.3" r="0.50"/><circle cx="382.3" cy="95.1" r="1.19"/><circle cx="390.3" cy="99.5" r="0.52"/><circle cx="405.7" cy="101.6" r="0.61"/><circle cx="351.7" cy="114.6" r="0.91"/><circle cx="391.5" cy="105.4" r="0.61"/><circle cx="396.8" cy="99.1" r="0.58"/><circle cx="387.9" cy="86.1" r="1.59"/><circle cx="359.5" cy="102.8" r="0.64"/><circle cx="369.9" cy="90.8" r="0.58"/><circle cx="383.1" cy="89.7" r="0.50"/><circle cx="410.5" cy="112.7" r="0.51"/><circle cx="397.1" cy="101.9" r="0.56"/><circle cx="396.9" cy="98.3" r="0.59"/><circle cx="411.1" cy="91" r="0.98"/><circle cx="353.7" cy="116.8" r="0.54"/><circle cx="405.8" cy="109.8" r="0.51"/><circle cx="393.1" cy="74" r="1.51"/><circle cx="356.1" cy="114" r="1.08"/><circle cx="359.8" cy="110.3" r="1.21"/><circle cx="369.4" cy="112.3" r="0.48"/><circle cx="404.1" cy="103.9" r="0.45"/><circle cx="362.6" cy="112" r="0.43"/><circle cx="395.2" cy="113.2" r="0.71"/><circle cx="401.6" cy="104.4" r="0.46"/><circle cx="395.2" cy="86.1" r="0.64"/><circle cx="408.1" cy="85.6" r="0.53"/><circle cx="399.4" cy="102" r="0.68"/><circle cx="396.5" cy="93.2" r="0.81"/><circle cx="383.4" cy="101.3" r="0.59"/><circle cx="404.9" cy="93.8" r="0.89"/><circle cx="395.9" cy="101.9" r="1.02"/><circle cx="403.7" cy="113.4" r="0.47"/><circle cx="365.6" cy="122.3" r="0.67"/><circle cx="413.4" cy="101.9" r="1.19"/><circle cx="403" cy="103.8" r="0.73"/><circle cx="386.6" cy="100.1" r="0.53"/><circle cx="404" cy="98.9" r="0.87"/><circle cx="411.6" cy="115" r="1.05"/><circle cx="405.2" cy="93.1" r="0.54"/><circle cx="415.5" cy="103.5" r="0.53"/><circle cx="376.1" cy="72.9" r="0.47"/><circle cx="375.2" cy="64.4" r="0.93"/><circle cx="371.9" cy="71.6" r="0.62"/><circle cx="374.8" cy="94.4" r="0.91"/><circle cx="399.7" cy="116.9" r="0.96"/><circle cx="363.2" cy="121.6" r="0.69"/><circle cx="398.5" cy="99.9" r="1.16"/><circle cx="360" cy="115.8" r="0.58"/><circle cx="393.7" cy="100.4" r="0.62"/><circle cx="405" cy="103.9" r="1.11"/><circle cx="413.1" cy="108.5" r="0.96"/><circle cx="381" cy="81" r="0.54"/><circle cx="385.6" cy="104.8" r="0.95"/><circle cx="415.8" cy="103.8" r="0.61"/><circle cx="345" cy="122.8" r="1.46"/><circle cx="395.2" cy="107.2" r="0.46"/><circle cx="371.8" cy="75.4" r="0.65"/><circle cx="365.3" cy="72.3" r="0.84"/><circle cx="390.8" cy="90.5" r="0.47"/><circle cx="381.7" cy="96.1" r="0.58"/><circle cx="411.5" cy="95" r="0.56"/><circle cx="350.2" cy="114.9" r="0.84"/><circle cx="402.8" cy="86.2" r="0.87"/><circle cx="371.2" cy="116.9" r="0.45"/><circle cx="406.5" cy="99.6" r="0.86"/><circle cx="372.2" cy="121.2" r="0.64"/><circle cx="402.4" cy="103.5" r="0.64"/><circle cx="399" cy="97.8" r="0.99"/><circle cx="402" cy="90.9" r="1.32"/><circle cx="402" cy="89.3" r="0.53"/><circle cx="382.1" cy="107.4" r="0.56"/><circle cx="394.9" cy="89.2" r="1.53"/><circle cx="403.1" cy="75.5" r="0.72"/><circle cx="365.3" cy="93.2" r="1.56"/><circle cx="402.5" cy="90.3" r="1.30"/><circle cx="376" cy="103.5" r="0.66"/><circle cx="394.7" cy="78.9" r="0.50"/><circle cx="391.3" cy="96" r="0.76"/><circle cx="351.3" cy="116.3" r="0.50"/><circle cx="373.3" cy="74.3" r="0.43"/><circle cx="401.6" cy="101.8" r="0.43"/><circle cx="410.7" cy="91.5" r="0.47"/><circle cx="395" cy="98.9" r="0.51"/><circle cx="399.8" cy="67.4" r="0.44"/><circle cx="396.3" cy="103.3" r="0.55"/><circle cx="398.2" cy="101" r="0.43"/><circle cx="387.7" cy="97.6" r="0.90"/><circle cx="389.7" cy="96.7" r="0.99"/><circle cx="367.5" cy="75.9" r="2.20"/><circle cx="375.2" cy="76" r="0.86"/><circle cx="401" cy="104.1" r="0.58"/><circle cx="415.2" cy="105.5" r="0.59"/><circle cx="391.8" cy="111" r="0.74"/><circle cx="394.8" cy="103.1" r="1.10"/><circle cx="403.1" cy="94.4" r="0.64"/><circle cx="408.7" cy="108.3" r="0.66"/><circle cx="402" cy="98" r="0.74"/><circle cx="342.6" cy="107.1" r="0.67"/><circle cx="394" cy="94.9" r="0.76"/><circle cx="414.5" cy="103.8" r="0.79"/><circle cx="405.4" cy="94.5" r="0.56"/><circle cx="368.6" cy="96.5" r="0.50"/><circle cx="389.6" cy="88.1" r="0.76"/><circle cx="409.5" cy="101.7" r="0.64"/><circle cx="370.2" cy="116.1" r="0.97"/><circle cx="403.3" cy="97.1" r="0.75"/><circle cx="393.8" cy="107.9" r="0.75"/><circle cx="381.4" cy="82.2" r="0.66"/><circle cx="406.8" cy="106.4" r="1.19"/><circle cx="400.4" cy="101.2" r="0.44"/><circle cx="393.6" cy="112.9" r="0.52"/><circle cx="403.5" cy="91" r="0.57"/><circle cx="406.8" cy="101.4" r="0.45"/><circle cx="386.8" cy="88.9" r="0.65"/><circle cx="355.6" cy="117.4" r="1.01"/><circle cx="395.3" cy="110.7" r="0.71"/><circle cx="387.9" cy="108.3" r="0.82"/><circle cx="391.8" cy="104.5" r="0.84"/><circle cx="411.6" cy="78.5" r="0.59"/><circle cx="377.9" cy="76.1" r="0.46"/><circle cx="406.9" cy="108.8" r="1.13"/><circle cx="355.9" cy="103.4" r="1.91"/><circle cx="414.9" cy="105.4" r="0.48"/><circle cx="400.9" cy="91.5" r="0.44"/><circle cx="396.4" cy="92.2" r="0.86"/><circle cx="398.5" cy="111.9" r="1.09"/><circle cx="358.9" cy="99.6" r="0.64"/><circle cx="380.7" cy="69.1" r="0.69"/><circle cx="405.8" cy="96.1" r="1.49"/><circle cx="383.9" cy="81.3" r="1.20"/><circle cx="400.2" cy="107" r="0.95"/><circle cx="352.2" cy="94.4" r="0.62"/><circle cx="400.2" cy="97.1" r="0.81"/><circle cx="373.3" cy="77.6" r="0.48"/><circle cx="382.6" cy="82.8" r="0.68"/><circle cx="387.9" cy="93.8" r="0.56"/><circle cx="424.3" cy="95" r="1.26"/><circle cx="376.7" cy="122.7" r="0.49"/><circle cx="406.5" cy="99.1" r="0.87"/><circle cx="372.5" cy="73.3" r="0.68"/><circle cx="411.7" cy="98.2" r="0.42"/><circle cx="370.6" cy="66.2" r="0.66"/><circle cx="396.7" cy="76.4" r="1.02"/><circle cx="412" cy="103.2" r="0.65"/><circle cx="388.9" cy="90.3" r="0.48"/><circle cx="404.8" cy="113.4" r="0.53"/><circle cx="397.4" cy="123.4" r="0.62"/><circle cx="409.3" cy="97.4" r="0.44"/><circle cx="398.2" cy="96.7" r="1.15"/><circle cx="393.7" cy="93.3" r="0.84"/><circle cx="352.8" cy="116.8" r="0.60"/><circle cx="390.7" cy="105.1" r="1.70"/><circle cx="357.4" cy="102.1" r="0.45"/><circle cx="412.2" cy="94.6" r="0.87"/><circle cx="370.9" cy="102.6" r="1.00"/><circle cx="417.7" cy="89.1" r="0.86"/><circle cx="414.4" cy="100" r="0.53"/><circle cx="374.9" cy="72.6" r="0.46"/><circle cx="415" cy="97.4" r="0.60"/><circle cx="398.5" cy="89.4" r="0.98"/><circle cx="423.9" cy="99.5" r="0.46"/><circle cx="377.9" cy="102.5" r="0.65"/><circle cx="402.4" cy="119.7" r="0.47"/><circle cx="369.6" cy="77.7" r="2.20"/><circle cx="367.5" cy="99" r="0.77"/><circle cx="357.7" cy="106.6" r="0.87"/><circle cx="394.7" cy="111.5" r="1.22"/><circle cx="390.1" cy="89.3" r="0.73"/><circle cx="404" cy="105.5" r="0.64"/><circle cx="385.6" cy="98.3" r="0.61"/><circle cx="401.8" cy="101.5" r="0.43"/><circle cx="390.7" cy="103.5" r="0.56"/><circle cx="376.1" cy="81" r="0.55"/><circle cx="417.1" cy="100.4" r="0.71"/><circle cx="358.2" cy="116.7" r="0.65"/><circle cx="396.9" cy="108.2" r="0.63"/><circle cx="411.4" cy="93.3" r="0.71"/><circle cx="404.2" cy="104.2" r="1.89"/><circle cx="414.1" cy="95.2" r="0.66"/><circle cx="396.4" cy="107.6" r="0.43"/><circle cx="403.9" cy="89.4" r="0.51"/><circle cx="394.1" cy="90.9" r="0.83"/><circle cx="379.2" cy="114.8" r="0.60"/><circle cx="411" cy="94.2" r="1.95"/><circle cx="401.5" cy="103.2" r="0.49"/><circle cx="367" cy="75.2" r="0.58"/><circle cx="377.5" cy="107.9" r="0.53"/><circle cx="366.1" cy="106.2" r="0.66"/><circle cx="382.5" cy="97.3" r="0.47"/><circle cx="374.5" cy="76.5" r="0.55"/><circle cx="404.8" cy="105.4" r="0.54"/><circle cx="370.4" cy="116" r="0.64"/><circle cx="381.8" cy="107.6" r="0.50"/><circle cx="391.5" cy="105.5" r="0.85"/><circle cx="405.3" cy="122.2" r="0.92"/><circle cx="357.6" cy="113.1" r="1.01"/><circle cx="353" cy="87.9" r="0.59"/><circle cx="364.8" cy="124.2" r="1.08"/><circle cx="378.4" cy="80.1" r="2.20"/><circle cx="389.9" cy="113.3" r="0.84"/><circle cx="415.8" cy="95.7" r="0.70"/><circle cx="402.9" cy="79.6" r="0.81"/><circle cx="406.3" cy="89.9" r="0.89"/><circle cx="388.9" cy="104.3" r="0.55"/><circle cx="360" cy="101.7" r="0.48"/><circle cx="358.5" cy="111.3" r="0.57"/><circle cx="400.6" cy="99.8" r="0.84"/><circle cx="341" cy="104.7" r="0.84"/><circle cx="409.7" cy="94.7" r="1.92"/><circle cx="397.6" cy="93.1" r="0.52"/><circle cx="382.8" cy="81.4" r="0.48"/><circle cx="388.9" cy="86.3" r="0.50"/><circle cx="387.9" cy="100.3" r="0.90"/><circle cx="402.5" cy="93.7" r="1.21"/><circle cx="402.5" cy="105.7" r="1.11"/><circle cx="406.7" cy="92.3" r="0.79"/><circle cx="399.4" cy="91.7" r="0.64"/><circle cx="398.3" cy="102.2" r="0.81"/><circle cx="354.5" cy="105.1" r="0.45"/><circle cx="354.5" cy="89.4" r="0.46"/><circle cx="404.5" cy="98" r="1.00"/><circle cx="408.5" cy="103.4" r="0.75"/><circle cx="378.3" cy="79.1" r="1.01"/><circle cx="367.6" cy="113.1" r="0.50"/><circle cx="381.2" cy="77" r="0.44"/><circle cx="369.5" cy="72.9" r="0.54"/><circle cx="397.1" cy="96.3" r="0.69"/><circle cx="372.2" cy="120.3" r="1.02"/><circle cx="356.5" cy="120.2" r="0.95"/><circle cx="402.3" cy="88.9" r="0.61"/><circle cx="388.1" cy="86.1" r="0.72"/><circle cx="334.9" cy="106.4" r="0.45"/><circle cx="347.6" cy="95.9" r="0.97"/><circle cx="400.4" cy="99.3" r="0.91"/><circle cx="378.5" cy="76.8" r="0.57"/><circle cx="399.4" cy="82" r="1.01"/><circle cx="405.9" cy="85" r="0.55"/><circle cx="376" cy="70.1" r="0.60"/><circle cx="370.1" cy="125.7" r="0.47"/><circle cx="393.6" cy="95.1" r="0.47"/><circle cx="411.3" cy="85.9" r="0.81"/><circle cx="372.6" cy="86.6" r="0.63"/><circle cx="382.7" cy="88.6" r="0.69"/><circle cx="401.9" cy="80.9" r="0.82"/><circle cx="372.8" cy="74.7" r="1.03"/><circle cx="396.8" cy="93.2" r="0.43"/><circle cx="368.8" cy="92.8" r="1.53"/><circle cx="401.8" cy="101.8" r="0.79"/><circle cx="394.6" cy="115.5" r="0.57"/><circle cx="374.2" cy="70.1" r="0.77"/><circle cx="356.2" cy="101.7" r="0.60"/><circle cx="389.6" cy="112.5" r="1.18"/><circle cx="394.7" cy="104.1" r="0.71"/><circle cx="403.4" cy="96.2" r="0.58"/><circle cx="398.2" cy="92.2" r="0.49"/><circle cx="397.8" cy="100.8" r="0.80"/><circle cx="418.4" cy="82.1" r="0.83"/><circle cx="399.9" cy="109.7" r="0.59"/><circle cx="407.2" cy="85.4" r="1.01"/><circle cx="411.9" cy="83.3" r="0.61"/><circle cx="383.1" cy="97.2" r="0.47"/><circle cx="394.1" cy="119.2" r="0.48"/><circle cx="402.6" cy="96.5" r="1.42"/><circle cx="414" cy="105.1" r="1.07"/><circle cx="418.3" cy="109.6" r="0.84"/><circle cx="398.8" cy="87.7" r="0.48"/><circle cx="401.7" cy="105.4" r="0.59"/><circle cx="386.2" cy="97.4" r="0.46"/><circle cx="408.7" cy="96.1" r="0.52"/><circle cx="374.8" cy="76.9" r="0.94"/><circle cx="357.2" cy="114.8" r="0.50"/><circle cx="385" cy="85.6" r="0.44"/><circle cx="373.4" cy="95.9" r="0.59"/><circle cx="395.1" cy="104.1" r="0.60"/><circle cx="398.7" cy="102.3" r="0.54"/><circle cx="390.2" cy="104.4" r="0.45"/><circle cx="408.4" cy="89.7" r="0.47"/><circle cx="389.6" cy="94.7" r="0.43"/><circle cx="425.2" cy="80.1" r="0.54"/><circle cx="363.6" cy="108.5" r="0.74"/><circle cx="400.2" cy="93.2" r="0.61"/><circle cx="361.3" cy="81.7" r="0.50"/><circle cx="409.1" cy="85.8" r="0.48"/><circle cx="385.7" cy="108" r="0.94"/><circle cx="402.2" cy="94.7" r="0.91"/><circle cx="415.8" cy="83.7" r="0.44"/><circle cx="376.1" cy="74.4" r="0.73"/><circle cx="386.9" cy="80.5" r="1.02"/><circle cx="356.6" cy="111.7" r="0.86"/><circle cx="398.5" cy="96.4" r="1.02"/><circle cx="419.4" cy="97.2" r="0.68"/><circle cx="406.3" cy="104.5" r="0.68"/><circle cx="396.4" cy="102.8" r="0.54"/><circle cx="401.9" cy="96.2" r="0.66"/><circle cx="358" cy="112.1" r="0.71"/><circle cx="410.8" cy="86.8" r="0.53"/><circle cx="356.5" cy="109.1" r="0.48"/><circle cx="409.5" cy="103.8" r="0.51"/><circle cx="361.7" cy="110.3" r="0.50"/><circle cx="398.2" cy="105.6" r="1.10"/><circle cx="384.4" cy="68.3" r="0.73"/><circle cx="392.1" cy="124.6" r="2.20"/><circle cx="383.9" cy="76.6" r="0.48"/><circle cx="413.5" cy="118.6" r="0.72"/><circle cx="385.3" cy="103.6" r="0.87"/><circle cx="413.2" cy="94.3" r="0.45"/><circle cx="384.5" cy="94.6" r="0.66"/><circle cx="388.2" cy="120.3" r="0.44"/><circle cx="396.8" cy="114.6" r="0.87"/><circle cx="370" cy="118.1" r="1.01"/><circle cx="388.9" cy="91.3" r="2.04"/><circle cx="393" cy="91.3" r="0.84"/><circle cx="409.7" cy="97.9" r="1.08"/><circle cx="414.9" cy="86.6" r="0.81"/><circle cx="365.9" cy="118.7" r="0.86"/><circle cx="358.1" cy="114.1" r="0.80"/><circle cx="373.1" cy="69.9" r="0.56"/><circle cx="356.1" cy="118.3" r="0.45"/><circle cx="403.5" cy="88.1" r="0.49"/><circle cx="350.2" cy="103.9" r="0.46"/><circle cx="375.5" cy="75.2" r="0.62"/><circle cx="387.8" cy="116.4" r="0.51"/><circle cx="399.7" cy="84.8" r="0.53"/><circle cx="406.5" cy="104.2" r="0.56"/><circle cx="400.8" cy="90.2" r="0.91"/><circle cx="373.1" cy="90.4" r="0.92"/><circle cx="405.5" cy="82.7" r="0.54"/><circle cx="408.1" cy="99.3" r="1.22"/><circle cx="418.8" cy="103.7" r="0.52"/><circle cx="399.6" cy="74.9" r="0.74"/><circle cx="375" cy="121.1" r="0.55"/><circle cx="412.4" cy="116.4" r="0.47"/><circle cx="397.3" cy="71.3" r="0.56"/><circle cx="387.2" cy="79.3" r="0.55"/><circle cx="399.2" cy="108.8" r="0.83"/><circle cx="385.9" cy="99.5" r="0.98"/><circle cx="410.5" cy="99.5" r="0.83"/><circle cx="412.9" cy="97.5" r="0.43"/><circle cx="397.4" cy="91.3" r="0.61"/><circle cx="349.4" cy="109.7" r="0.56"/><circle cx="397.6" cy="93.7" r="0.45"/><circle cx="373.6" cy="100.2" r="1.09"/><circle cx="418.4" cy="88.4" r="0.52"/><circle cx="407.7" cy="103.1" r="0.44"/><circle cx="376.6" cy="72.8" r="1.25"/><circle cx="391.5" cy="94.8" r="0.95"/><circle cx="392.5" cy="97.5" r="0.67"/><circle cx="413.3" cy="108.5" r="0.60"/><circle cx="396" cy="91.8" r="0.44"/><circle cx="379.5" cy="91.3" r="0.76"/><circle cx="410" cy="99.5" r="0.71"/><circle cx="393.3" cy="69" r="0.70"/><circle cx="408.4" cy="103.5" r="0.59"/><circle cx="358.3" cy="103.8" r="0.43"/><circle cx="356.1" cy="107.1" r="0.73"/><circle cx="412" cy="95" r="0.49"/><circle cx="388.2" cy="81.1" r="0.53"/><circle cx="414.1" cy="92.1" r="0.91"/><circle cx="388.3" cy="106.2" r="0.45"/><circle cx="403.1" cy="98.5" r="1.21"/><circle cx="393.8" cy="87.4" r="0.70"/><circle cx="397" cy="105.4" r="0.77"/><circle cx="403" cy="112.8" r="0.64"/><circle cx="395.1" cy="87.2" r="0.60"/><circle cx="373.6" cy="81.2" r="1.26"/><circle cx="399.2" cy="86.4" r="0.58"/><circle cx="369.9" cy="65.9" r="0.66"/><circle cx="357.4" cy="114.4" r="0.99"/><circle cx="384.8" cy="115.2" r="0.49"/><circle cx="357.2" cy="121.4" r="0.94"/><circle cx="340.9" cy="118.3" r="1.19"/><circle cx="395.3" cy="94.1" r="0.43"/><circle cx="404.9" cy="97.3" r="0.57"/><circle cx="384.3" cy="62.3" r="0.45"/><circle cx="370.4" cy="119.5" r="1.00"/><circle cx="400.4" cy="99.5" r="0.46"/><circle cx="333.3" cy="101.7" r="0.52"/><circle cx="396.9" cy="90.7" r="0.47"/><circle cx="379.3" cy="69.9" r="1.49"/><circle cx="401.3" cy="113.3" r="0.77"/><circle cx="400" cy="108" r="0.59"/><circle cx="366.5" cy="116.1" r="0.44"/><circle cx="357.6" cy="103.1" r="1.51"/><circle cx="363.8" cy="115.2" r="0.76"/><circle cx="381" cy="107.3" r="0.74"/><circle cx="369.3" cy="74.7" r="0.44"/><circle cx="390.6" cy="95.4" r="0.49"/><circle cx="399.3" cy="115" r="0.94"/><circle cx="391.3" cy="103.2" r="0.92"/><circle cx="372.9" cy="79.9" r="0.45"/><circle cx="400.6" cy="97.4" r="0.72"/><circle cx="405.9" cy="107.4" r="0.46"/><circle cx="384.3" cy="68.2" r="0.59"/><circle cx="382.2" cy="96.3" r="0.53"/><circle cx="399.1" cy="112.6" r="1.79"/><circle cx="369.2" cy="105.3" r="0.50"/><circle cx="394.5" cy="97" r="0.70"/><circle cx="408.5" cy="98.1" r="1.13"/><circle cx="398.5" cy="120.9" r="0.44"/><circle cx="381.2" cy="83" r="1.17"/><circle cx="405.6" cy="88.5" r="0.44"/><circle cx="396.5" cy="92.7" r="0.69"/><circle cx="367.6" cy="70.9" r="0.73"/><circle cx="398.6" cy="92.2" r="0.80"/><circle cx="406.3" cy="93.6" r="0.83"/><circle cx="374.8" cy="79.8" r="0.78"/><circle cx="383.3" cy="110.1" r="0.50"/><circle cx="360.2" cy="121.7" r="0.65"/><circle cx="394.3" cy="104.7" r="0.51"/><circle cx="405.8" cy="95.8" r="1.00"/><circle cx="380" cy="94.8" r="0.68"/><circle cx="398.5" cy="113.8" r="0.59"/><circle cx="418.4" cy="104" r="1.16"/><circle cx="403.3" cy="111.4" r="0.58"/><circle cx="355.2" cy="118.5" r="0.67"/><circle cx="357.9" cy="114.6" r="0.84"/><circle cx="407.4" cy="102.9" r="0.73"/><circle cx="336.5" cy="75.2" r="0.51"/><circle cx="381.5" cy="105.9" r="0.63"/><circle cx="347.7" cy="117.3" r="0.42"/><circle cx="373.3" cy="76.7" r="0.70"/><circle cx="401.5" cy="100.5" r="0.68"/><circle cx="406" cy="82.7" r="1.02"/><circle cx="397.6" cy="113.7" r="0.75"/><circle cx="383.3" cy="108.1" r="0.93"/><circle cx="400.2" cy="102.5" r="0.65"/><circle cx="366.7" cy="96.7" r="0.58"/><circle cx="392.3" cy="113.7" r="0.94"/><circle cx="406.3" cy="117" r="0.65"/><circle cx="386.2" cy="91.6" r="0.66"/><circle cx="398.2" cy="103.6" r="0.43"/><circle cx="412.5" cy="89.3" r="0.83"/><circle cx="361.4" cy="122.3" r="1.09"/><circle cx="402.1" cy="90.2" r="0.53"/><circle cx="406.9" cy="100.7" r="0.62"/><circle cx="407.3" cy="96.4" r="1.00"/><circle cx="413.4" cy="94.4" r="1.09"/><circle cx="359.8" cy="116.8" r="0.46"/><circle cx="362" cy="115.9" r="1.62"/><circle cx="407.1" cy="105" r="0.94"/><circle cx="398.1" cy="115.9" r="0.43"/><circle cx="399.7" cy="88.4" r="0.53"/><circle cx="411.2" cy="87.8" r="0.55"/><circle cx="409" cy="101.1" r="0.44"/><circle cx="419.6" cy="90.2" r="0.50"/><circle cx="386.3" cy="93.4" r="0.81"/><circle cx="404.5" cy="97.1" r="0.46"/><circle cx="398.2" cy="85.7" r="0.82"/><circle cx="370.4" cy="73.1" r="0.66"/><circle cx="397.1" cy="93.1" r="1.00"/><circle cx="409.5" cy="110.7" r="0.54"/><circle cx="387.5" cy="94.1" r="0.42"/><circle cx="390.4" cy="94.6" r="0.49"/><circle cx="385.6" cy="85.3" r="0.56"/><circle cx="411.7" cy="103.3" r="1.37"/><circle cx="399" cy="94.6" r="0.42"/><circle cx="376" cy="110.9" r="0.56"/><circle cx="374.5" cy="114.6" r="0.94"/><circle cx="379" cy="83.9" r="1.05"/><circle cx="402.7" cy="90.2" r="0.83"/><circle cx="419.4" cy="83.7" r="0.70"/><circle cx="400.1" cy="93.5" r="0.55"/><circle cx="395.6" cy="104.8" r="0.95"/><circle cx="395.2" cy="111.1" r="0.55"/><circle cx="354.8" cy="122.1" r="0.67"/><circle cx="393.3" cy="103.8" r="1.33"/><circle cx="357.4" cy="113.8" r="0.83"/><circle cx="390.9" cy="109.2" r="0.56"/><circle cx="385.8" cy="92.3" r="0.61"/><circle cx="400.5" cy="105" r="0.64"/><circle cx="354.1" cy="117.9" r="0.55"/><circle cx="393.8" cy="95.2" r="0.84"/><circle cx="377.8" cy="64" r="1.33"/><circle cx="403" cy="97.5" r="1.02"/><circle cx="426.3" cy="97.6" r="0.54"/><circle cx="416.1" cy="103.2" r="1.18"/><circle cx="409.1" cy="122.6" r="0.76"/><circle cx="350.9" cy="112.1" r="0.48"/><circle cx="403.2" cy="86.3" r="0.45"/><circle cx="369.9" cy="78.6" r="0.65"/><circle cx="407.7" cy="106.2" r="1.16"/><circle cx="400.2" cy="99.3" r="0.69"/><circle cx="347.1" cy="94.6" r="0.73"/><circle cx="394.7" cy="96.9" r="0.44"/><circle cx="416.4" cy="83.5" r="0.47"/><circle cx="411.4" cy="82.7" r="0.87"/><circle cx="340.1" cy="104.4" r="0.63"/><circle cx="403" cy="101.7" r="0.46"/><circle cx="404.9" cy="90.5" r="0.67"/><circle cx="402.7" cy="95.8" r="0.87"/><circle cx="368.3" cy="73.7" r="0.94"/><circle cx="351.1" cy="108.7" r="0.85"/><circle cx="398.5" cy="93" r="1.20"/><circle cx="391.3" cy="103.9" r="0.63"/><circle cx="400.2" cy="100.7" r="0.63"/><circle cx="417.8" cy="104.9" r="1.23"/><circle cx="360.6" cy="105.3" r="0.74"/><circle cx="390.6" cy="115.9" r="0.43"/><circle cx="395.9" cy="104.9" r="0.54"/><circle cx="348" cy="130.4" r="0.98"/><circle cx="356.4" cy="91.2" r="0.43"/><circle cx="409.1" cy="81.8" r="0.54"/><circle cx="401.3" cy="86.6" r="0.83"/><circle cx="362" cy="118.4" r="0.46"/><circle cx="374.6" cy="120.2" r="0.98"/><circle cx="370.2" cy="75.7" r="0.51"/><circle cx="400.3" cy="86.8" r="0.69"/><circle cx="398.4" cy="99.6" r="0.80"/><circle cx="423.3" cy="82" r="0.92"/><circle cx="426.5" cy="95.5" r="0.83"/><circle cx="382.2" cy="77.7" r="0.80"/><circle cx="375.8" cy="89.4" r="0.46"/><circle cx="419.6" cy="86.3" r="1.00"/><circle cx="388" cy="108" r="0.53"/><circle cx="400.3" cy="102.9" r="0.65"/><circle cx="352.9" cy="115.7" r="0.94"/><circle cx="354.6" cy="109.4" r="1.03"/><circle cx="392.5" cy="99.9" r="0.50"/><circle cx="402.5" cy="95.2" r="0.57"/><circle cx="380.7" cy="77.5" r="0.52"/><circle cx="404.3" cy="107.7" r="0.51"/><circle cx="377.8" cy="72.1" r="0.57"/><circle cx="399.2" cy="111.5" r="0.51"/><circle cx="405" cy="91.8" r="0.44"/><circle cx="391.8" cy="92.8" r="0.67"/><circle cx="386.1" cy="91.2" r="0.46"/><circle cx="396.7" cy="81.8" r="0.68"/><circle cx="345.4" cy="112.2" r="0.84"/><circle cx="399.8" cy="107.6" r="0.63"/><circle cx="387.5" cy="64.6" r="0.93"/><circle cx="408" cy="97.7" r="0.78"/><circle cx="378.7" cy="69.3" r="1.12"/><circle cx="400.7" cy="111.3" r="0.58"/><circle cx="395.8" cy="86.7" r="0.98"/><circle cx="398.5" cy="85.5" r="0.56"/><circle cx="402.5" cy="73" r="0.54"/><circle cx="395.6" cy="83.6" r="0.75"/><circle cx="394.5" cy="85.7" r="0.68"/><circle cx="385.3" cy="103.4" r="0.66"/><circle cx="412" cy="124.1" r="0.54"/><circle cx="396.1" cy="90.7" r="0.65"/><circle cx="385.7" cy="80.1" r="0.47"/><circle cx="393.5" cy="99.5" r="0.48"/><circle cx="412.6" cy="112.6" r="0.62"/><circle cx="401.8" cy="79.7" r="0.43"/><circle cx="384.2" cy="93" r="1.23"/><circle cx="400.2" cy="99.3" r="1.38"/><circle cx="334.2" cy="79.4" r="0.44"/><circle cx="386.8" cy="106.2" r="0.54"/><circle cx="399.7" cy="71.6" r="0.90"/><circle cx="395.9" cy="95.4" r="0.62"/><circle cx="395.1" cy="120.7" r="0.86"/><circle cx="378.7" cy="69.3" r="0.54"/><circle cx="393.9" cy="96.2" r="1.20"/><circle cx="336.1" cy="106.5" r="0.44"/><circle cx="379.2" cy="62.3" r="1.36"/><circle cx="348.5" cy="101.4" r="1.18"/><circle cx="397.9" cy="93.7" r="0.46"/><circle cx="394.8" cy="94.5" r="0.72"/><circle cx="391.9" cy="88.7" r="0.80"/><circle cx="398.8" cy="109.3" r="0.43"/><circle cx="343.5" cy="107.3" r="0.54"/><circle cx="371.4" cy="78.8" r="0.46"/><circle cx="385.1" cy="112.8" r="0.51"/><circle cx="415.4" cy="100.9" r="0.79"/><circle cx="374.5" cy="64.8" r="1.02"/><circle cx="401.4" cy="92.3" r="0.47"/><circle cx="360.5" cy="102.4" r="0.55"/><circle cx="415.6" cy="118.4" r="0.62"/><circle cx="412.8" cy="107.3" r="0.48"/><circle cx="355.9" cy="73.1" r="0.51"/><circle cx="410" cy="87.7" r="1.20"/><circle cx="393.5" cy="97" r="0.56"/><circle cx="399.5" cy="100.9" r="0.68"/><circle cx="394.1" cy="106.7" r="0.44"/><circle cx="384.2" cy="95.9" r="0.60"/><circle cx="401" cy="108.6" r="0.54"/><circle cx="403.7" cy="104.6" r="1.16"/><circle cx="409.9" cy="97.5" r="0.65"/><circle cx="380.3" cy="79.5" r="0.45"/><circle cx="392.2" cy="100.7" r="1.30"/><circle cx="384.3" cy="103.8" r="1.08"/><circle cx="372.2" cy="125.3" r="0.82"/><circle cx="377.1" cy="77.5" r="1.28"/><circle cx="412.7" cy="104.7" r="0.52"/><circle cx="370.7" cy="110.3" r="0.81"/><circle cx="406.4" cy="92.9" r="0.53"/><circle cx="373.5" cy="110.1" r="1.29"/><circle cx="387.1" cy="102.4" r="0.73"/><circle cx="399.6" cy="108.6" r="0.89"/><circle cx="398.4" cy="106" r="0.61"/><circle cx="398.9" cy="111.2" r="0.59"/><circle cx="361.5" cy="90.6" r="0.51"/><circle cx="354.6" cy="95.3" r="0.83"/><circle cx="396.3" cy="99" r="0.58"/><circle cx="363.2" cy="71" r="0.65"/><circle cx="400.4" cy="102.8" r="0.95"/><circle cx="415" cy="99.6" r="1.67"/><circle cx="405.3" cy="108" r="0.76"/><circle cx="353.3" cy="98.4" r="0.66"/><circle cx="374.1" cy="77" r="0.93"/><circle cx="390" cy="90.8" r="1.01"/><circle cx="397" cy="96.4" r="0.68"/><circle cx="370.3" cy="77.2" r="0.61"/><circle cx="397.4" cy="90.9" r="0.47"/><circle cx="406.5" cy="98.5" r="0.57"/><circle cx="400.3" cy="106.3" r="1.22"/><circle cx="353.7" cy="108.3" r="1.48"/><circle cx="416.3" cy="96" r="0.43"/><circle cx="408.1" cy="109.4" r="0.53"/><circle cx="372.3" cy="86.3" r="0.91"/><circle cx="409.7" cy="116.1" r="0.45"/><circle cx="393.6" cy="101.4" r="0.62"/><circle cx="379.4" cy="79.5" r="0.64"/><circle cx="408.6" cy="103.3" r="0.43"/><circle cx="394.4" cy="99.1" r="0.64"/><circle cx="405.8" cy="88.8" r="1.86"/><circle cx="387" cy="92.2" r="0.89"/><circle cx="411.6" cy="93.1" r="0.54"/><circle cx="387.8" cy="92.6" r="0.45"/><circle cx="389.6" cy="101.3" r="0.57"/><circle cx="415.5" cy="100.1" r="0.93"/><circle cx="394.2" cy="99.2" r="0.76"/><circle cx="409" cy="99.2" r="0.63"/><circle cx="404.2" cy="94.4" r="0.76"/><circle cx="376.8" cy="64.1" r="1.39"/><circle cx="389.8" cy="81.6" r="0.57"/><circle cx="404.6" cy="98.9" r="1.05"/><circle cx="386.4" cy="97.3" r="2.18"/><circle cx="385.4" cy="99.4" r="0.48"/><circle cx="384.3" cy="90.2" r="0.56"/><circle cx="366.2" cy="73.2" r="0.43"/><circle cx="380.9" cy="99.6" r="0.60"/><circle cx="388.8" cy="81.3" r="0.84"/><circle cx="404" cy="100.7" r="0.68"/><circle cx="386.4" cy="96" r="1.17"/><circle cx="390.7" cy="111.8" r="0.48"/><circle cx="355.3" cy="112.2" r="0.43"/><circle cx="367.4" cy="76.6" r="0.44"/><circle cx="405.3" cy="98.8" r="0.43"/><circle cx="421.6" cy="86.1" r="0.67"/><circle cx="401.3" cy="94" r="0.71"/><circle cx="393.6" cy="105" r="1.08"/><circle cx="384.2" cy="95.9" r="1.02"/><circle cx="411" cy="96.6" r="0.73"/><circle cx="398.8" cy="101.3" r="0.68"/><circle cx="390.1" cy="103.3" r="0.44"/><circle cx="410.4" cy="111.3" r="0.52"/><circle cx="404.6" cy="99.6" r="1.36"/><circle cx="402.8" cy="95.7" r="0.50"/><circle cx="386.6" cy="79.4" r="0.51"/><circle cx="406" cy="81.9" r="0.71"/><circle cx="405.6" cy="86.3" r="0.63"/><circle cx="377.1" cy="88.5" r="0.45"/><circle cx="348.7" cy="109.3" r="0.59"/><circle cx="393.9" cy="98.6" r="0.59"/><circle cx="392.2" cy="105.9" r="0.66"/><circle cx="377.2" cy="83.6" r="1.41"/><circle cx="401.4" cy="100.5" r="0.43"/><circle cx="394.5" cy="96.3" r="0.71"/><circle cx="363.3" cy="103.8" r="0.54"/><circle cx="402.1" cy="112.9" r="0.85"/><circle cx="391.1" cy="82.5" r="0.55"/><circle cx="372.8" cy="102.7" r="0.84"/><circle cx="405.7" cy="106.5" r="0.58"/><circle cx="382.5" cy="93.2" r="0.58"/><circle cx="418.2" cy="97" r="0.54"/><circle cx="382.2" cy="84" r="0.46"/><circle cx="403.1" cy="105" r="0.47"/><circle cx="354.9" cy="104.3" r="0.68"/><circle cx="357.8" cy="115.8" r="0.46"/><circle cx="398" cy="109.4" r="0.65"/><circle cx="409.7" cy="94.8" r="0.92"/><circle cx="383.5" cy="73.5" r="0.43"/><circle cx="400.1" cy="94.8" r="0.64"/><circle cx="409.7" cy="105" r="0.59"/><circle cx="403.1" cy="95.9" r="1.23"/><circle cx="410.9" cy="82.6" r="0.52"/><circle cx="381.9" cy="87.2" r="0.97"/><circle cx="412.2" cy="80.5" r="0.45"/><circle cx="360.8" cy="114.2" r="0.78"/><circle cx="415.4" cy="101.6" r="0.71"/><circle cx="411.9" cy="104" r="1.15"/><circle cx="378.6" cy="72.1" r="0.89"/><circle cx="418.7" cy="103.5" r="1.00"/><circle cx="373" cy="74" r="0.47"/><circle cx="350.3" cy="114.8" r="0.52"/><circle cx="376.4" cy="64.4" r="0.55"/><circle cx="393.5" cy="100.3" r="0.71"/><circle cx="405.2" cy="91.6" r="0.50"/><circle cx="410.5" cy="89.2" r="0.77"/><circle cx="421.1" cy="111.2" r="0.53"/><circle cx="371.8" cy="76.5" r="0.52"/><circle cx="382.8" cy="98.1" r="0.52"/><circle cx="384.9" cy="84.2" r="0.44"/><circle cx="406" cy="107.4" r="0.60"/><circle cx="371.7" cy="70.5" r="0.70"/><circle cx="394.8" cy="83.7" r="0.50"/><circle cx="412.3" cy="100.6" r="0.82"/><circle cx="400.3" cy="81.3" r="0.69"/><circle cx="404.6" cy="97.3" r="0.55"/><circle cx="395.8" cy="87.5" r="0.69"/><circle cx="401.4" cy="93.6" r="0.55"/><circle cx="371.7" cy="79" r="1.37"/><circle cx="400.2" cy="87.7" r="0.43"/><circle cx="365" cy="109.8" r="0.53"/><circle cx="371.8" cy="116" r="0.71"/><circle cx="380.4" cy="84" r="0.73"/><circle cx="372.4" cy="76.4" r="1.12"/><circle cx="399.5" cy="96.7" r="1.06"/><circle cx="400.2" cy="98.3" r="2.14"/><circle cx="375" cy="75.8" r="0.47"/><circle cx="402.4" cy="104.2" r="0.97"/><circle cx="394.9" cy="107.8" r="0.47"/><circle cx="405.1" cy="95" r="0.68"/><circle cx="373.6" cy="73.5" r="0.72"/><circle cx="393.3" cy="108.1" r="0.71"/><circle cx="391.8" cy="80.7" r="0.74"/><circle cx="406.3" cy="96.9" r="0.47"/><circle cx="404.2" cy="107.7" r="1.58"/><circle cx="383.8" cy="81.6" r="0.54"/><circle cx="389" cy="103.3" r="1.41"/><circle cx="373.8" cy="108.5" r="0.86"/><circle cx="387.5" cy="78.6" r="0.85"/><circle cx="370.4" cy="72.9" r="0.56"/><circle cx="377.8" cy="79.9" r="0.73"/><circle cx="413.9" cy="97.6" r="0.56"/><circle cx="401.6" cy="96.5" r="0.51"/><circle cx="392.4" cy="111.2" r="1.05"/><circle cx="391.4" cy="85.8" r="1.13"/><circle cx="409.9" cy="86.5" r="0.53"/><circle cx="368.3" cy="73.3" r="0.63"/><circle cx="359" cy="111.2" r="0.72"/><circle cx="405.4" cy="92.1" r="0.63"/><circle cx="388.5" cy="105.8" r="0.42"/><circle cx="375.3" cy="68.6" r="0.51"/><circle cx="401.1" cy="94.6" r="0.61"/><circle cx="404.3" cy="96" r="0.78"/><circle cx="393.4" cy="70.8" r="1.22"/><circle cx="390.1" cy="100.2" r="1.32"/><circle cx="348.5" cy="106.9" r="2.20"/><circle cx="379.9" cy="72" r="0.49"/><circle cx="401.3" cy="98.8" r="0.50"/><circle cx="340.3" cy="114.1" r="1.14"/><circle cx="400.2" cy="101.8" r="0.71"/><circle cx="409.1" cy="100.8" r="0.55"/><circle cx="400.2" cy="78.7" r="0.54"/><circle cx="399.3" cy="105.5" r="0.59"/><circle cx="401.9" cy="109.2" r="0.79"/><circle cx="392.3" cy="101.6" r="1.59"/><circle cx="406.7" cy="100.2" r="0.96"/><circle cx="414.6" cy="103.6" r="0.43"/><circle cx="373.7" cy="94.5" r="0.81"/><circle cx="399.6" cy="102.5" r="0.60"/><circle cx="351" cy="120.7" r="0.47"/><circle cx="406.6" cy="104.1" r="0.85"/><circle cx="376.4" cy="78.6" r="0.74"/><circle cx="385.9" cy="94.5" r="0.49"/><circle cx="402.2" cy="108.1" r="1.00"/><circle cx="373.9" cy="94.4" r="0.76"/><circle cx="395.5" cy="99.6" r="0.95"/><circle cx="377.7" cy="80.9" r="0.70"/><circle cx="379.1" cy="77.6" r="0.53"/><circle cx="398" cy="96" r="0.67"/><circle cx="394" cy="109.3" r="0.85"/><circle cx="391.2" cy="98.2" r="0.49"/><circle cx="396.8" cy="87.9" r="1.16"/><circle cx="386.9" cy="101.9" r="0.58"/><circle cx="375.2" cy="85.1" r="0.68"/><circle cx="398.2" cy="117.7" r="0.74"/><circle cx="402.1" cy="100.3" r="0.92"/><circle cx="403.2" cy="103.4" r="0.63"/><circle cx="386.5" cy="81.5" r="0.51"/><circle cx="407.1" cy="104.3" r="0.57"/><circle cx="397.2" cy="107.1" r="0.51"/><circle cx="403.2" cy="109.9" r="0.88"/><circle cx="404.4" cy="93.7" r="1.89"/><circle cx="371.4" cy="74.1" r="0.50"/><circle cx="408.1" cy="100.5" r="0.42"/><circle cx="358.8" cy="108.7" r="0.60"/><circle cx="382.2" cy="105.9" r="0.65"/><circle cx="396.6" cy="101.7" r="0.56"/><circle cx="410.8" cy="108.8" r="0.84"/><circle cx="381.8" cy="101.9" r="0.44"/><circle cx="405.5" cy="112.3" r="0.63"/><circle cx="394.7" cy="115.6" r="0.94"/><circle cx="397.7" cy="88.1" r="0.56"/><circle cx="415.4" cy="103.4" r="0.62"/><circle cx="385" cy="79.9" r="0.90"/><circle cx="406.9" cy="93.2" r="1.15"/><circle cx="407.6" cy="99.4" r="1.02"/><circle cx="396.1" cy="94" r="0.58"/><circle cx="397.3" cy="92.6" r="0.93"/><circle cx="378.6" cy="99.5" r="0.47"/><circle cx="349.3" cy="107.6" r="0.83"/><circle cx="381.7" cy="65.1" r="1.98"/><circle cx="402.7" cy="117.2" r="1.16"/><circle cx="394" cy="100.9" r="0.78"/><circle cx="403.4" cy="87.4" r="0.51"/><circle cx="381.2" cy="69.8" r="0.50"/><circle cx="359.6" cy="117.4" r="0.56"/><circle cx="354.1" cy="119.9" r="0.60"/><circle cx="401.1" cy="103.7" r="0.62"/><circle cx="383.5" cy="79" r="0.63"/><circle cx="405.3" cy="107.1" r="0.87"/><circle cx="403.8" cy="116.9" r="0.66"/><circle cx="353.9" cy="82.5" r="0.44"/><circle cx="387.5" cy="82.9" r="0.57"/><circle cx="379" cy="104.4" r="1.17"/><circle cx="391.1" cy="104.3" r="0.76"/><circle cx="401.1" cy="103.9" r="0.85"/><circle cx="408.9" cy="98.1" r="0.53"/><circle cx="366.8" cy="109" r="0.51"/><circle cx="399.2" cy="102.6" r="0.45"/><circle cx="409.3" cy="94.2" r="0.72"/><circle cx="374.4" cy="73.7" r="0.44"/><circle cx="402.3" cy="95.1" r="0.66"/><circle cx="397.6" cy="123.6" r="0.73"/><circle cx="400.8" cy="102.1" r="0.69"/><circle cx="407.8" cy="98.1" r="0.54"/><circle cx="393.5" cy="104.1" r="0.44"/><circle cx="390.4" cy="105.1" r="1.28"/><circle cx="390.9" cy="93.2" r="1.09"/><circle cx="409.6" cy="83.4" r="1.02"/><circle cx="373" cy="81.5" r="0.79"/><circle cx="402.6" cy="103.4" r="0.64"/><circle cx="350" cy="112.2" r="0.48"/><circle cx="368.6" cy="107.6" r="0.72"/><circle cx="396.2" cy="108.5" r="0.62"/><circle cx="391.4" cy="101.6" r="0.44"/><circle cx="359.1" cy="103.3" r="0.52"/><circle cx="414.3" cy="100.1" r="1.18"/><circle cx="410.9" cy="94.6" r="0.43"/><circle cx="389.3" cy="65" r="0.58"/><circle cx="394.5" cy="108.2" r="0.54"/><circle cx="423.7" cy="88.3" r="0.95"/><circle cx="387.2" cy="83.3" r="0.48"/><circle cx="414.6" cy="102.9" r="0.55"/><circle cx="406.7" cy="97.6" r="0.66"/><circle cx="411" cy="98.4" r="0.97"/><circle cx="368.5" cy="65.1" r="0.50"/><circle cx="386.7" cy="108.3" r="0.49"/><circle cx="356.3" cy="117.4" r="0.56"/><circle cx="391.9" cy="100.5" r="1.30"/><circle cx="394.6" cy="83.7" r="0.64"/><circle cx="405.9" cy="87.5" r="0.57"/><circle cx="414.5" cy="90" r="0.48"/><circle cx="403.3" cy="103.9" r="0.43"/><circle cx="384" cy="76.4" r="0.42"/><circle cx="388.1" cy="80.8" r="0.42"/><circle cx="363.7" cy="71.3" r="0.44"/><circle cx="417.5" cy="102.8" r="0.43"/><circle cx="401.2" cy="107.4" r="0.90"/><circle cx="393.6" cy="100.8" r="1.05"/><circle cx="407.8" cy="98.2" r="0.54"/><circle cx="389.6" cy="104.3" r="0.50"/><circle cx="381.5" cy="62.8" r="0.48"/><circle cx="338.1" cy="106.8" r="1.18"/><circle cx="402.5" cy="104.3" r="0.53"/><circle cx="392.1" cy="111.5" r="0.46"/><circle cx="394.2" cy="109.3" r="0.51"/><circle cx="425.4" cy="103.2" r="1.14"/><circle cx="411.1" cy="99" r="0.59"/><circle cx="363.3" cy="114.3" r="0.70"/><circle cx="396.1" cy="83.4" r="1.08"/><circle cx="382.8" cy="80.1" r="0.88"/><circle cx="411.2" cy="91.7" r="0.44"/><circle cx="408.5" cy="99.2" r="2.12"/><circle cx="400.1" cy="87.5" r="0.60"/><circle cx="408.2" cy="110.2" r="0.83"/><circle cx="390" cy="74" r="0.88"/><circle cx="384.2" cy="103.9" r="0.68"/><circle cx="398.6" cy="97.2" r="0.51"/><circle cx="399.8" cy="102.8" r="1.00"/><circle cx="374.7" cy="79.3" r="0.60"/><circle cx="369.3" cy="98.7" r="0.65"/><circle cx="397.5" cy="111.1" r="0.42"/><circle cx="397.6" cy="89.9" r="1.08"/><circle cx="405.6" cy="108.6" r="0.86"/><circle cx="428.1" cy="110.5" r="0.56"/><circle cx="390.7" cy="111.3" r="0.61"/><circle cx="366.2" cy="76.4" r="0.66"/><circle cx="356.4" cy="110.8" r="2.10"/><circle cx="390.2" cy="91.2" r="0.74"/><circle cx="405.6" cy="97.5" r="0.65"/><circle cx="399" cy="79.7" r="1.15"/><circle cx="384.8" cy="77.8" r="0.53"/><circle cx="399.2" cy="108.6" r="0.80"/><circle cx="356.8" cy="97.6" r="0.47"/><circle cx="409.4" cy="94.3" r="0.67"/><circle cx="399.1" cy="112.1" r="0.75"/><circle cx="399.3" cy="105" r="0.47"/><circle cx="396.2" cy="98.6" r="1.13"/><circle cx="362.5" cy="119.2" r="0.51"/><circle cx="403.5" cy="97.5" r="0.82"/><circle cx="396.5" cy="91.4" r="0.58"/><circle cx="369.4" cy="119.6" r="0.85"/><circle cx="336.4" cy="122.6" r="0.63"/><circle cx="395.9" cy="106.3" r="1.21"/><circle cx="399.1" cy="94" r="0.58"/><circle cx="408.8" cy="101.6" r="0.53"/><circle cx="387.6" cy="93.6" r="0.86"/><circle cx="387.9" cy="84.5" r="1.01"/><circle cx="377.9" cy="69.4" r="0.53"/><circle cx="349.1" cy="114.2" r="0.53"/><circle cx="401.3" cy="87.5" r="0.45"/><circle cx="384.7" cy="94.1" r="0.86"/><circle cx="371.6" cy="106.6" r="0.48"/><circle cx="397.1" cy="97.4" r="0.98"/><circle cx="410" cy="85" r="1.60"/><circle cx="400.8" cy="94" r="0.67"/><circle cx="367.8" cy="79.6" r="0.64"/><circle cx="383" cy="102.9" r="1.38"/><circle cx="388" cy="103.9" r="0.62"/><circle cx="388.8" cy="102.4" r="0.72"/><circle cx="375" cy="79" r="0.46"/><circle cx="416.3" cy="106.2" r="0.64"/><circle cx="415.3" cy="84.5" r="1.03"/><circle cx="392.6" cy="112.5" r="0.50"/><circle cx="415" cy="105.6" r="0.84"/><circle cx="414.5" cy="91.2" r="0.53"/><circle cx="396.1" cy="92.5" r="0.52"/><circle cx="393.4" cy="113.7" r="0.45"/><circle cx="381.9" cy="76.4" r="0.65"/><circle cx="383.3" cy="111.3" r="1.13"/><circle cx="398.6" cy="93.4" r="0.54"/><circle cx="394" cy="111.5" r="0.48"/><circle cx="414.2" cy="107.1" r="1.77"/><circle cx="393.9" cy="99.5" r="0.65"/><circle cx="403" cy="107.3" r="0.89"/><circle cx="408.3" cy="90.4" r="0.61"/><circle cx="374.1" cy="68.4" r="0.64"/><circle cx="376.1" cy="71.7" r="0.42"/><circle cx="400.7" cy="99.2" r="0.84"/><circle cx="402.1" cy="89.5" r="1.39"/><circle cx="377.5" cy="68.4" r="0.54"/><circle cx="392.5" cy="96.9" r="0.45"/><circle cx="404.1" cy="89.5" r="0.49"/><circle cx="367.3" cy="69.7" r="0.66"/><circle cx="376.2" cy="65.1" r="0.45"/><circle cx="397.2" cy="86.9" r="0.42"/><circle cx="401.5" cy="96.3" r="0.73"/><circle cx="390.4" cy="97.8" r="0.47"/><circle cx="368" cy="125.8" r="0.46"/><circle cx="399.9" cy="101.8" r="0.53"/><circle cx="378.2" cy="71.7" r="0.82"/><circle cx="405.9" cy="106.7" r="0.93"/><circle cx="392.4" cy="84.2" r="0.80"/><circle cx="389.6" cy="93.1" r="0.48"/><circle cx="381.3" cy="92" r="0.79"/><circle cx="384.4" cy="89.5" r="0.64"/><circle cx="389.4" cy="104" r="0.64"/><circle cx="406.1" cy="99.3" r="0.66"/><circle cx="402.9" cy="105.4" r="0.47"/><circle cx="371.4" cy="71.9" r="1.14"/><circle cx="353" cy="107" r="0.76"/><circle cx="407.5" cy="113.6" r="0.45"/><circle cx="417.2" cy="90.3" r="0.84"/><circle cx="409.9" cy="111.2" r="0.78"/><circle cx="397.2" cy="111" r="0.88"/><circle cx="399.8" cy="76.7" r="0.49"/><circle cx="405.1" cy="89.9" r="0.70"/><circle cx="379.7" cy="99.8" r="0.42"/><circle cx="381.2" cy="81.6" r="0.48"/><circle cx="379" cy="82.8" r="0.45"/><circle cx="375.2" cy="71.5" r="0.78"/><circle cx="411.8" cy="91.1" r="0.63"/><circle cx="398.2" cy="94.8" r="1.25"/><circle cx="401.6" cy="103.6" r="0.80"/><circle cx="397" cy="99.9" r="1.42"/><circle cx="372.1" cy="74.2" r="0.67"/><circle cx="402.9" cy="98.7" r="0.64"/><circle cx="397.3" cy="101.8" r="0.48"/><circle cx="369.9" cy="70.4" r="0.69"/><circle cx="390.4" cy="105.7" r="0.48"/><circle cx="401.2" cy="126.2" r="0.79"/><circle cx="372.7" cy="72" r="0.70"/><circle cx="393.8" cy="89.5" r="2.20"/><circle cx="402.3" cy="94.2" r="0.82"/><circle cx="370.6" cy="86.4" r="0.46"/><circle cx="356.2" cy="107.9" r="0.55"/><circle cx="353.1" cy="99.9" r="0.98"/><circle cx="420" cy="105.2" r="0.65"/><circle cx="389.5" cy="112.1" r="0.97"/><circle cx="403" cy="99.4" r="0.79"/><circle cx="375.2" cy="80.2" r="0.56"/><circle cx="393.8" cy="108.7" r="0.66"/><circle cx="386.1" cy="102" r="0.70"/><circle cx="357.2" cy="110.4" r="0.80"/><circle cx="362.1" cy="119.8" r="0.80"/><circle cx="358.7" cy="106.7" r="0.48"/><circle cx="404.7" cy="116.9" r="0.63"/><circle cx="384.5" cy="101.2" r="0.44"/><circle cx="407.8" cy="92.6" r="0.81"/><circle cx="405.2" cy="103.1" r="0.58"/><circle cx="398.2" cy="91.8" r="0.87"/><circle cx="404.2" cy="104.6" r="0.81"/><circle cx="395.5" cy="99.5" r="0.58"/><circle cx="413.2" cy="94" r="0.51"/><circle cx="389.7" cy="78.5" r="0.69"/><circle cx="392.5" cy="104.1" r="1.01"/><circle cx="376" cy="75.6" r="0.63"/><circle cx="394" cy="100.8" r="0.80"/><circle cx="376.5" cy="77.1" r="0.59"/><circle cx="396.3" cy="92" r="0.49"/><circle cx="358.8" cy="106.1" r="0.65"/><circle cx="395.6" cy="74.2" r="1.22"/><circle cx="390.6" cy="102.6" r="1.19"/><circle cx="405.1" cy="93" r="1.07"/><circle cx="401.1" cy="102.7" r="1.88"/><circle cx="371.2" cy="71.9" r="0.85"/><circle cx="383.8" cy="113.9" r="0.58"/><circle cx="402.7" cy="78.1" r="0.55"/><circle cx="414.7" cy="83.6" r="0.65"/><circle cx="390.7" cy="97.7" r="1.20"/><circle cx="372.1" cy="107.9" r="0.85"/><circle cx="393.9" cy="95.4" r="0.46"/><circle cx="391.8" cy="84.8" r="0.81"/><circle cx="395.3" cy="83.7" r="0.91"/><circle cx="369.3" cy="120.3" r="0.88"/><circle cx="414.5" cy="87.6" r="0.49"/><circle cx="394" cy="95.5" r="0.56"/><circle cx="358.9" cy="114.1" r="0.46"/><circle cx="392.5" cy="101.2" r="0.85"/><circle cx="399.6" cy="92.9" r="1.15"/><circle cx="406.2" cy="107.7" r="0.61"/><circle cx="398.1" cy="95.4" r="1.78"/><circle cx="395.7" cy="74.6" r="0.93"/><circle cx="383.7" cy="95.1" r="0.56"/><circle cx="365.1" cy="76.7" r="0.74"/><circle cx="419.1" cy="85.3" r="0.56"/><circle cx="390.8" cy="98.6" r="0.58"/><circle cx="385.3" cy="103.6" r="1.09"/><circle cx="408.1" cy="108.3" r="0.52"/><circle cx="380.4" cy="104.7" r="0.95"/><circle cx="402.9" cy="105.9" r="0.56"/><circle cx="403.2" cy="98.4" r="0.50"/><circle cx="391.1" cy="93.2" r="0.64"/><circle cx="354.3" cy="107.8" r="0.46"/><circle cx="396" cy="87.9" r="1.29"/><circle cx="363.4" cy="117.7" r="1.40"/><circle cx="378.9" cy="101.9" r="1.14"/><circle cx="402.7" cy="105.6" r="1.04"/><circle cx="369.8" cy="66.4" r="0.55"/><circle cx="375.1" cy="74.2" r="0.93"/><circle cx="392.1" cy="101.3" r="0.68"/><circle cx="402" cy="104.7" r="0.81"/><circle cx="365.6" cy="71.1" r="0.74"/><circle cx="409" cy="112.3" r="0.60"/><circle cx="349.6" cy="90" r="1.04"/><circle cx="402.6" cy="103.2" r="0.84"/><circle cx="396.9" cy="98.9" r="0.51"/><circle cx="399.8" cy="108.5" r="0.49"/><circle cx="375.3" cy="69.7" r="0.97"/><circle cx="345.1" cy="109.6" r="0.52"/><circle cx="353.9" cy="119.2" r="2.11"/><circle cx="385.6" cy="90.5" r="0.43"/><circle cx="369.7" cy="64.7" r="0.58"/><circle cx="408.1" cy="98.2" r="0.73"/><circle cx="401.9" cy="88.1" r="0.68"/><circle cx="389.8" cy="108" r="0.47"/><circle cx="390.7" cy="112.3" r="0.80"/><circle cx="403" cy="107.7" r="1.31"/><circle cx="345" cy="101.6" r="2.20"/><circle cx="411.4" cy="94.1" r="1.41"/><circle cx="406.2" cy="107" r="1.00"/><circle cx="354.3" cy="107.4" r="0.55"/><circle cx="400.1" cy="111.1" r="0.49"/><circle cx="382.7" cy="96.6" r="0.45"/><circle cx="407.6" cy="87.2" r="0.74"/><circle cx="351.6" cy="109" r="0.83"/><circle cx="393.8" cy="94.3" r="0.52"/><circle cx="388.5" cy="96.3" r="0.85"/><circle cx="400.8" cy="106" r="0.49"/><circle cx="372.5" cy="71.9" r="0.45"/><circle cx="370.7" cy="77.5" r="1.08"/><circle cx="413.5" cy="100" r="1.00"/><circle cx="401.2" cy="112.3" r="0.55"/><circle cx="377.6" cy="86.8" r="1.38"/><circle cx="398.8" cy="83.6" r="0.66"/><circle cx="414.4" cy="84.3" r="0.47"/><circle cx="384" cy="100.8" r="1.21"/><circle cx="410.2" cy="91.9" r="0.60"/><circle cx="371.4" cy="76.3" r="1.07"/><circle cx="360.4" cy="112.8" r="0.47"/><circle cx="417.1" cy="103.8" r="0.85"/><circle cx="373.2" cy="71.3" r="1.57"/><circle cx="338.8" cy="103.1" r="0.60"/><circle cx="403.7" cy="106.6" r="0.43"/><circle cx="364.1" cy="100.6" r="0.76"/><circle cx="396.8" cy="96.9" r="0.93"/><circle cx="415" cy="100.7" r="0.87"/><circle cx="399.7" cy="97.4" r="0.61"/><circle cx="408.3" cy="98.6" r="0.59"/><circle cx="403.3" cy="104.6" r="0.54"/><circle cx="351" cy="112" r="0.63"/><circle cx="361.5" cy="100.2" r="0.82"/><circle cx="391" cy="79.9" r="0.62"/><circle cx="404.7" cy="100.2" r="0.92"/><circle cx="380.9" cy="72.6" r="0.53"/><circle cx="401.6" cy="92.3" r="1.45"/><circle cx="426.1" cy="119.1" r="0.63"/><circle cx="393.4" cy="91.1" r="0.68"/><circle cx="395" cy="99.5" r="1.20"/><circle cx="401.9" cy="89.4" r="0.95"/><circle cx="389" cy="95.4" r="0.79"/><circle cx="401.5" cy="91.4" r="0.47"/><circle cx="371.6" cy="72" r="0.52"/><circle cx="394.6" cy="94.2" r="0.52"/><circle cx="379.5" cy="91.8" r="1.09"/><circle cx="398.1" cy="102.9" r="0.44"/><circle cx="387.6" cy="99.2" r="0.49"/><circle cx="395.6" cy="95.2" r="0.51"/><circle cx="402.3" cy="91.6" r="0.45"/><circle cx="374.2" cy="76.7" r="0.60"/><circle cx="348.7" cy="117.6" r="0.96"/><circle cx="388.9" cy="113.8" r="1.47"/><circle cx="384.6" cy="102.5" r="1.40"/><circle cx="407.3" cy="94.5" r="0.61"/><circle cx="392.8" cy="94.8" r="0.44"/><circle cx="355.3" cy="93.6" r="0.54"/><circle cx="395.7" cy="97" r="0.65"/><circle cx="403.3" cy="75.3" r="0.75"/><circle cx="394.4" cy="98.1" r="0.59"/><circle cx="369.8" cy="116" r="0.43"/><circle cx="408.4" cy="109.2" r="1.67"/><circle cx="412.6" cy="112.1" r="0.65"/><circle cx="400.8" cy="100" r="0.46"/><circle cx="404.2" cy="100.3" r="0.46"/><circle cx="356.6" cy="120.8" r="0.66"/><circle cx="389.5" cy="84.1" r="0.72"/><circle cx="365.1" cy="83" r="1.19"/><circle cx="404.2" cy="89.8" r="1.00"/><circle cx="390.3" cy="77.1" r="0.45"/><circle cx="361.7" cy="119.9" r="0.82"/><circle cx="356.7" cy="112.9" r="0.65"/><circle cx="398.3" cy="107.9" r="0.56"/><circle cx="391.6" cy="65.5" r="0.60"/><circle cx="418.7" cy="103.2" r="0.86"/><circle cx="361.1" cy="74.6" r="0.48"/><circle cx="391.9" cy="102.9" r="0.95"/><circle cx="389.7" cy="91.6" r="0.47"/><circle cx="408.2" cy="98.3" r="0.96"/><circle cx="399.4" cy="109" r="0.58"/><circle cx="391.5" cy="104.4" r="0.43"/><circle cx="401.9" cy="93.6" r="0.77"/><circle cx="387.9" cy="100.3" r="0.45"/><circle cx="405" cy="106.3" r="0.46"/><circle cx="374.8" cy="84.9" r="0.89"/><circle cx="363.2" cy="114.4" r="0.66"/><circle cx="396.3" cy="98.3" r="1.16"/><circle cx="406.5" cy="81.7" r="0.45"/><circle cx="400" cy="92.2" r="0.69"/><circle cx="371.3" cy="81.2" r="0.80"/><circle cx="360.5" cy="110.9" r="0.64"/><circle cx="370.2" cy="71.3" r="0.57"/><circle cx="409.8" cy="98.4" r="0.98"/><circle cx="379.2" cy="121.3" r="0.76"/><circle cx="395.7" cy="91.3" r="0.45"/><circle cx="352" cy="112.8" r="0.80"/><circle cx="375.6" cy="82.9" r="0.67"/><circle cx="386.9" cy="73.5" r="0.51"/><circle cx="390.8" cy="102.8" r="0.49"/><circle cx="372.6" cy="68.2" r="0.45"/><circle cx="414.4" cy="97.7" r="0.72"/><circle cx="404.6" cy="101.1" r="1.29"/><circle cx="385.6" cy="88.7" r="1.10"/><circle cx="407.6" cy="94.8" r="0.48"/><circle cx="378.2" cy="68.7" r="0.51"/><circle cx="366" cy="116.6" r="0.46"/><circle cx="412.6" cy="109.1" r="0.64"/><circle cx="411.8" cy="100.5" r="0.42"/><circle cx="395.5" cy="106.9" r="0.55"/><circle cx="368.1" cy="91.9" r="1.72"/><circle cx="400.6" cy="108.3" r="0.76"/><circle cx="389.8" cy="89" r="0.45"/><circle cx="385.8" cy="86.1" r="0.79"/><circle cx="401.3" cy="93.8" r="1.02"/><circle cx="360.4" cy="112.8" r="0.90"/><circle cx="391.7" cy="100.7" r="0.82"/><circle cx="383.4" cy="94.5" r="0.87"/><circle cx="351.9" cy="92.6" r="0.53"/><circle cx="391.7" cy="98.1" r="1.53"/><circle cx="410.5" cy="90.6" r="0.53"/><circle cx="408.1" cy="89.9" r="0.68"/><circle cx="369" cy="76.4" r="1.10"/><circle cx="400.7" cy="110.5" r="0.91"/><circle cx="371.3" cy="116" r="0.63"/><circle cx="387.8" cy="111.2" r="0.58"/><circle cx="376.8" cy="70.5" r="0.69"/><circle cx="409" cy="106" r="0.74"/><circle cx="373.4" cy="65.3" r="0.61"/><circle cx="411.7" cy="92.8" r="0.50"/><circle cx="397" cy="99.3" r="0.47"/><circle cx="365.1" cy="91.4" r="0.87"/><circle cx="420.9" cy="107.4" r="0.89"/><circle cx="390.3" cy="101.2" r="0.81"/><circle cx="348.5" cy="111.8" r="0.82"/><circle cx="391.5" cy="99.6" r="1.70"/><circle cx="409.2" cy="108.9" r="0.70"/><circle cx="398.8" cy="119.5" r="0.43"/><circle cx="392.2" cy="102.5" r="0.66"/><circle cx="390.1" cy="98.6" r="1.97"/><circle cx="397.9" cy="100.4" r="0.56"/><circle cx="392.5" cy="110.5" r="0.90"/><circle cx="389.5" cy="93.9" r="0.70"/><circle cx="364.3" cy="114.9" r="1.10"/><circle cx="385.3" cy="98.1" r="0.53"/><circle cx="355.3" cy="101.8" r="0.74"/><circle cx="378.3" cy="84" r="1.12"/><circle cx="419.9" cy="103.8" r="0.66"/><circle cx="358" cy="116.8" r="0.52"/><circle cx="399.4" cy="91.5" r="1.27"/><circle cx="368.2" cy="120" r="0.44"/><circle cx="396.5" cy="101.5" r="0.58"/><circle cx="379.9" cy="95.5" r="0.43"/><circle cx="387.3" cy="82" r="0.56"/><circle cx="379.6" cy="82.5" r="0.72"/><circle cx="426.4" cy="111.6" r="0.80"/><circle cx="359.1" cy="105.4" r="0.50"/><circle cx="417.8" cy="95.7" r="0.52"/><circle cx="400.7" cy="104.8" r="0.48"/><circle cx="376.6" cy="108.4" r="1.30"/><circle cx="349.8" cy="109.1" r="0.45"/><circle cx="406.8" cy="116.5" r="1.40"/><circle cx="398.4" cy="91.5" r="0.78"/><circle cx="380.5" cy="96.4" r="0.42"/><circle cx="347.6" cy="116.4" r="0.54"/><circle cx="372.7" cy="105.5" r="0.46"/><circle cx="351" cy="119.4" r="0.96"/><circle cx="403.6" cy="93.9" r="0.88"/><circle cx="396.7" cy="103.5" r="1.11"/><circle cx="409.6" cy="85.2" r="0.67"/><circle cx="384.9" cy="103.3" r="0.85"/><circle cx="399" cy="97.1" r="0.51"/><circle cx="376" cy="82.2" r="0.47"/><circle cx="346.6" cy="116.3" r="0.58"/><circle cx="374" cy="92.7" r="0.74"/><circle cx="380.8" cy="70.9" r="0.98"/><circle cx="360" cy="119.1" r="0.76"/><circle cx="389.3" cy="89.2" r="1.02"/><circle cx="392.9" cy="113.8" r="1.29"/><circle cx="384.3" cy="104.7" r="0.73"/><circle cx="392.7" cy="83.5" r="1.11"/><circle cx="402" cy="86.9" r="0.99"/><circle cx="401" cy="106.3" r="1.86"/><circle cx="395.6" cy="108" r="0.50"/><circle cx="405.1" cy="110.4" r="0.48"/><circle cx="374.8" cy="76.2" r="0.98"/><circle cx="382.2" cy="80.1" r="1.32"/><circle cx="401.7" cy="88.9" r="0.42"/><circle cx="398.5" cy="110.7" r="0.69"/><circle cx="406.6" cy="87.7" r="0.63"/><circle cx="387.9" cy="96.5" r="0.89"/><circle cx="413.6" cy="88.7" r="1.06"/><circle cx="395.6" cy="103.2" r="0.55"/><circle cx="369.2" cy="125.5" r="0.50"/><circle cx="425.3" cy="108.2" r="0.59"/><circle cx="367.2" cy="73.9" r="0.46"/><circle cx="399.4" cy="99.8" r="0.63"/><circle cx="391.9" cy="90.5" r="1.18"/><circle cx="388.2" cy="101.8" r="0.69"/><circle cx="372.6" cy="85.3" r="0.42"/><circle cx="380.5" cy="105.7" r="0.44"/><circle cx="382" cy="90.7" r="0.46"/><circle cx="396.3" cy="104.7" r="0.74"/><circle cx="405.2" cy="100.8" r="1.21"/><circle cx="399.2" cy="89.4" r="0.63"/><circle cx="367.3" cy="116.9" r="0.47"/><circle cx="408.7" cy="113.2" r="0.43"/><circle cx="364.6" cy="120.5" r="0.60"/><circle cx="362.4" cy="123.3" r="0.99"/><circle cx="410.3" cy="99.5" r="0.64"/><circle cx="345.6" cy="111.8" r="0.64"/><circle cx="402.4" cy="95.4" r="0.46"/><circle cx="369.6" cy="103.6" r="0.48"/><circle cx="406" cy="89.6" r="0.86"/><circle cx="385.2" cy="105.5" r="0.84"/><circle cx="386.8" cy="90.9" r="0.92"/><circle cx="395.3" cy="106.3" r="0.87"/><circle cx="350.7" cy="101.1" r="0.89"/><circle cx="404.1" cy="87.4" r="0.56"/><circle cx="420.5" cy="96.4" r="0.82"/><circle cx="380.8" cy="85.2" r="0.50"/><circle cx="388.7" cy="102.5" r="1.03"/><circle cx="394.6" cy="94" r="1.26"/><circle cx="378.1" cy="99.8" r="0.56"/><circle cx="339.6" cy="95.1" r="0.74"/><circle cx="399.6" cy="103.4" r="0.77"/><circle cx="368.2" cy="70.9" r="0.57"/><circle cx="406.3" cy="106.9" r="0.55"/><circle cx="415.9" cy="104.1" r="0.52"/><circle cx="376" cy="70.3" r="0.54"/><circle cx="391" cy="93" r="1.57"/><circle cx="404.5" cy="96.2" r="0.63"/><circle cx="376.4" cy="108.6" r="0.69"/><circle cx="384.7" cy="81.9" r="0.69"/><circle cx="344.6" cy="111.2" r="0.70"/><circle cx="375.4" cy="66.3" r="1.52"/><circle cx="413.3" cy="86.5" r="0.60"/><circle cx="380.2" cy="79.1" r="0.48"/><circle cx="399.2" cy="103.2" r="0.63"/><circle cx="408" cy="106.4" r="1.10"/><circle cx="386.1" cy="88.8" r="0.69"/><circle cx="351.7" cy="108.8" r="0.59"/><circle cx="369.3" cy="108.4" r="0.42"/><circle cx="392.3" cy="92.6" r="0.57"/><circle cx="369.5" cy="84.6" r="0.73"/><circle cx="378.3" cy="121.4" r="0.73"/><circle cx="374.8" cy="68.4" r="0.83"/><circle cx="345.2" cy="104.4" r="1.15"/><circle cx="394.6" cy="107.4" r="0.77"/><circle cx="383.4" cy="113.3" r="0.52"/><circle cx="388.1" cy="102.1" r="0.54"/><circle cx="378.1" cy="83.3" r="0.58"/><circle cx="363.5" cy="115.6" r="0.59"/><circle cx="398.7" cy="105.7" r="0.65"/><circle cx="391.3" cy="94.7" r="0.81"/><circle cx="406.8" cy="113.7" r="1.33"/><circle cx="405.5" cy="106.5" r="0.75"/><circle cx="360.4" cy="109.6" r="0.88"/><circle cx="428.3" cy="85.9" r="0.46"/><circle cx="381" cy="78" r="1.27"/><circle cx="392.3" cy="99.2" r="0.43"/><circle cx="378.3" cy="70.5" r="0.75"/><circle cx="412" cy="97.2" r="0.77"/><circle cx="409.2" cy="110.3" r="0.95"/><circle cx="401.2" cy="98.3" r="1.02"/><circle cx="390.1" cy="88.4" r="1.03"/><circle cx="343.3" cy="111.3" r="0.81"/><circle cx="385.4" cy="102.5" r="0.81"/><circle cx="374.3" cy="73.2" r="0.63"/><circle cx="402" cy="107.5" r="0.73"/><circle cx="406.2" cy="86.6" r="0.96"/><circle cx="388.3" cy="89.8" r="1.16"/><circle cx="391.3" cy="102.9" r="0.49"/><circle cx="389.1" cy="95.6" r="0.44"/><circle cx="423.3" cy="100.5" r="0.90"/><circle cx="386.8" cy="70.4" r="0.52"/><circle cx="372.5" cy="70.3" r="1.41"/><circle cx="400.9" cy="79.7" r="1.22"/><circle cx="411.2" cy="105" r="0.49"/><circle cx="381" cy="104.3" r="1.48"/><circle cx="409.3" cy="95.9" r="0.64"/><circle cx="407.9" cy="102.7" r="0.53"/><circle cx="394.1" cy="96.4" r="0.54"/><circle cx="405.4" cy="108.4" r="1.12"/><circle cx="394.9" cy="94.6" r="1.14"/><circle cx="406.3" cy="105.6" r="1.03"/><circle cx="404.1" cy="111.3" r="0.59"/><circle cx="402.1" cy="103.6" r="1.17"/><circle cx="390.5" cy="101.2" r="0.69"/><circle cx="396.3" cy="98.6" r="1.26"/><circle cx="373.3" cy="102.8" r="0.52"/><circle cx="419.6" cy="103.2" r="0.46"/><circle cx="355.7" cy="111.1" r="0.44"/><circle cx="384.4" cy="80.8" r="0.43"/><circle cx="401.8" cy="90.2" r="0.63"/><circle cx="412.9" cy="105.3" r="0.89"/><circle cx="379.4" cy="94.1" r="0.56"/><circle cx="372.7" cy="72.1" r="1.09"/><circle cx="376.4" cy="106.1" r="0.58"/><circle cx="402.6" cy="100.6" r="0.78"/><circle cx="368.9" cy="68" r="0.65"/><circle cx="406.4" cy="94.2" r="1.73"/><circle cx="385.6" cy="90" r="0.56"/><circle cx="355.1" cy="117.7" r="1.17"/><circle cx="398.6" cy="96" r="0.59"/><circle cx="397.9" cy="79.7" r="0.57"/><circle cx="396.4" cy="111.7" r="1.29"/><circle cx="371.6" cy="97.4" r="0.63"/><circle cx="363.8" cy="107.6" r="0.67"/><circle cx="375.6" cy="73.5" r="0.50"/><circle cx="399.8" cy="97.8" r="0.68"/><circle cx="356.7" cy="117.8" r="0.48"/><circle cx="407.5" cy="102.7" r="0.83"/><circle cx="363.2" cy="118.2" r="0.64"/><circle cx="408.2" cy="97.6" r="0.82"/><circle cx="403" cy="102.5" r="0.70"/><circle cx="399" cy="89.6" r="0.52"/><circle cx="378.5" cy="79.9" r="0.64"/><circle cx="406.2" cy="94.7" r="0.52"/><circle cx="354.5" cy="120.7" r="0.57"/><circle cx="406" cy="93.6" r="0.52"/><circle cx="340.2" cy="104" r="0.73"/><circle cx="388.4" cy="101.7" r="1.15"/><circle cx="400.3" cy="93.1" r="0.61"/><circle cx="392.3" cy="107.1" r="0.54"/><circle cx="389.4" cy="100.6" r="0.59"/><circle cx="389" cy="101.2" r="1.37"/><circle cx="353.1" cy="107.3" r="0.44"/><circle cx="389.2" cy="106.6" r="1.30"/><circle cx="388.6" cy="92.8" r="0.93"/><circle cx="386.3" cy="89.8" r="0.56"/><circle cx="410" cy="102.8" r="0.72"/><circle cx="409.3" cy="93.5" r="0.82"/><circle cx="355.5" cy="116.9" r="0.75"/><circle cx="403.7" cy="96.6" r="0.95"/><circle cx="330.2" cy="105.2" r="0.44"/><circle cx="411.8" cy="90.6" r="0.63"/><circle cx="398.9" cy="85.2" r="0.50"/><circle cx="383.4" cy="78.6" r="0.66"/><circle cx="395.8" cy="108.1" r="0.46"/><circle cx="371.2" cy="71.3" r="0.51"/><circle cx="419.2" cy="105.5" r="0.43"/><circle cx="388" cy="88.9" r="0.67"/><circle cx="393.7" cy="96.4" r="0.44"/><circle cx="368.4" cy="72.8" r="0.44"/><circle cx="401" cy="92.5" r="0.55"/><circle cx="388.5" cy="81.3" r="1.77"/><circle cx="395.2" cy="103" r="0.72"/><circle cx="394.9" cy="93.3" r="0.82"/><circle cx="400.4" cy="87.4" r="0.49"/><circle cx="400.1" cy="95.8" r="0.47"/><circle cx="427.3" cy="102.3" r="1.67"/><circle cx="398.9" cy="97.5" r="0.99"/><circle cx="373.3" cy="87.3" r="0.43"/><circle cx="395.6" cy="87.9" r="1.05"/><circle cx="389.6" cy="88.4" r="0.43"/><circle cx="385.8" cy="95.9" r="0.65"/><circle cx="362.4" cy="103.8" r="0.74"/><circle cx="410.9" cy="106.9" r="0.46"/><circle cx="406.8" cy="75.5" r="0.60"/><circle cx="376.8" cy="75.4" r="0.95"/><circle cx="348.9" cy="116.3" r="1.86"/><circle cx="386.9" cy="106.2" r="0.73"/><circle cx="365.8" cy="63.6" r="0.56"/><circle cx="431.1" cy="97.2" r="0.67"/><circle cx="380.2" cy="106.8" r="0.98"/><circle cx="391.2" cy="103.1" r="0.56"/><circle cx="388.1" cy="92.2" r="0.62"/><circle cx="405.7" cy="81.9" r="0.62"/><circle cx="401.3" cy="98" r="0.45"/><circle cx="342.2" cy="117" r="0.74"/><circle cx="395.5" cy="97.2" r="1.26"/><circle cx="404.9" cy="91" r="0.51"/><circle cx="370.5" cy="122" r="0.58"/><circle cx="397.5" cy="104.1" r="0.50"/><circle cx="385.2" cy="74.9" r="0.54"/><circle cx="407.3" cy="105.7" r="0.79"/><circle cx="364.4" cy="119.3" r="0.46"/><circle cx="381.3" cy="105.2" r="0.79"/><circle cx="404.8" cy="93.8" r="1.27"/><circle cx="401.6" cy="96" r="1.19"/><circle cx="404.4" cy="100.8" r="0.91"/><circle cx="407.5" cy="81.9" r="0.59"/><circle cx="408.8" cy="94.5" r="0.57"/><circle cx="399.6" cy="107.4" r="1.43"/><circle cx="372.7" cy="109.7" r="0.71"/><circle cx="407.5" cy="93.5" r="1.58"/><circle cx="367" cy="115.2" r="0.49"/><circle cx="395.7" cy="95.7" r="0.44"/><circle cx="428.8" cy="96.2" r="1.13"/><circle cx="393.1" cy="76.5" r="0.60"/><circle cx="384.5" cy="75.6" r="1.02"/><circle cx="346.4" cy="116.7" r="0.49"/><circle cx="394.8" cy="108.3" r="0.90"/><circle cx="396.8" cy="98.6" r="0.61"/><circle cx="366.2" cy="110.9" r="0.52"/><circle cx="415.6" cy="104.4" r="0.65"/><circle cx="393.9" cy="93.6" r="1.00"/><circle cx="413.8" cy="86.5" r="1.05"/><circle cx="409.8" cy="101.6" r="0.52"/><circle cx="398.6" cy="93.8" r="1.36"/><circle cx="376.1" cy="76.7" r="0.81"/><circle cx="390.8" cy="94.2" r="0.65"/><circle cx="405.2" cy="98.1" r="1.08"/><circle cx="409" cy="104.5" r="0.69"/><circle cx="370.3" cy="76.9" r="2.12"/><circle cx="376.9" cy="72.1" r="0.82"/><circle cx="347.3" cy="100" r="2.20"/><circle cx="402.8" cy="112.2" r="0.49"/><circle cx="400.2" cy="106.2" r="0.53"/><circle cx="409.6" cy="98.2" r="0.55"/><circle cx="365.9" cy="104.4" r="0.51"/><circle cx="363.6" cy="120.1" r="0.57"/><circle cx="406.3" cy="77.4" r="0.52"/><circle cx="386.1" cy="106.8" r="0.68"/><circle cx="399.6" cy="105.2" r="0.72"/><circle cx="394.7" cy="101.9" r="0.66"/><circle cx="353.3" cy="116.3" r="0.65"/><circle cx="404" cy="91.7" r="1.38"/><circle cx="372.4" cy="70.9" r="0.43"/><circle cx="387.1" cy="90.1" r="1.39"/><circle cx="374.3" cy="63.2" r="1.19"/><circle cx="409.5" cy="98" r="0.42"/><circle cx="404.3" cy="103.1" r="0.45"/><circle cx="392.2" cy="83.8" r="0.90"/><circle cx="348.3" cy="109.2" r="0.46"/><circle cx="400.1" cy="103.1" r="0.45"/><circle cx="401.2" cy="90.8" r="1.37"/><circle cx="399.3" cy="83.7" r="0.75"/><circle cx="405.3" cy="108.8" r="0.45"/><circle cx="400.9" cy="104.4" r="0.95"/><circle cx="408.9" cy="100.6" r="0.80"/><circle cx="369.7" cy="73.6" r="0.88"/><circle cx="361" cy="78.1" r="0.85"/><circle cx="377.1" cy="77" r="1.16"/><circle cx="399.8" cy="101.3" r="0.60"/><circle cx="415.4" cy="104.5" r="0.69"/><circle cx="385.1" cy="96" r="0.56"/><circle cx="405.6" cy="92" r="1.09"/><circle cx="398.6" cy="90.2" r="1.43"/><circle cx="349.2" cy="112.3" r="0.97"/><circle cx="395.2" cy="105" r="0.64"/><circle cx="399" cy="113.3" r="1.06"/><circle cx="391.8" cy="100.8" r="0.89"/><circle cx="380.2" cy="84.7" r="0.51"/><circle cx="353.9" cy="114.5" r="1.27"/><circle cx="358.4" cy="85.9" r="0.73"/><circle cx="396.6" cy="86.9" r="0.45"/><circle cx="408.6" cy="107.9" r="0.51"/><circle cx="353.6" cy="113.8" r="0.68"/><circle cx="421.8" cy="106.8" r="0.50"/><circle cx="347" cy="108.3" r="0.86"/><circle cx="386.6" cy="99.4" r="0.88"/><circle cx="377.5" cy="73.6" r="0.74"/><circle cx="417.1" cy="86.7" r="0.46"/><circle cx="392.6" cy="89.8" r="0.50"/><circle cx="385.6" cy="104.9" r="0.51"/><circle cx="404.6" cy="90" r="1.05"/><circle cx="406.1" cy="111.1" r="0.74"/><circle cx="405.6" cy="107.7" r="0.47"/><circle cx="388" cy="107.8" r="0.49"/><circle cx="408.1" cy="99.5" r="0.95"/><circle cx="402.9" cy="96.9" r="0.49"/><circle cx="405.9" cy="87.1" r="1.26"/><circle cx="377.1" cy="77.6" r="0.95"/><circle cx="388.7" cy="95.8" r="0.54"/><circle cx="380.4" cy="98.1" r="0.72"/><circle cx="393.1" cy="84.7" r="1.03"/><circle cx="391.5" cy="75.3" r="0.66"/><circle cx="381.8" cy="72.4" r="0.57"/><circle cx="367" cy="103.9" r="0.52"/><circle cx="380.2" cy="99.8" r="0.64"/><circle cx="375" cy="93.3" r="0.66"/><circle cx="358.4" cy="114.5" r="1.21"/><circle cx="412.6" cy="87.4" r="0.46"/><circle cx="389.8" cy="108.4" r="0.72"/><circle cx="399.5" cy="101.1" r="0.73"/><circle cx="411.7" cy="97.3" r="1.02"/><circle cx="406.3" cy="87.1" r="1.65"/><circle cx="414.3" cy="108.3" r="0.59"/><circle cx="366.6" cy="88.9" r="1.30"/><circle cx="396.7" cy="98.8" r="0.46"/><circle cx="396.3" cy="83.7" r="2.20"/><circle cx="373.2" cy="103.6" r="0.70"/><circle cx="394.8" cy="92.4" r="0.55"/><circle cx="358.8" cy="120.2" r="0.51"/><circle cx="393" cy="100.4" r="0.44"/><circle cx="413" cy="115.6" r="0.88"/><circle cx="382.2" cy="77.8" r="0.50"/><circle cx="398.8" cy="86.1" r="0.60"/><circle cx="399.8" cy="80.5" r="0.44"/><circle cx="410.7" cy="91.3" r="1.50"/><circle cx="428.1" cy="96.9" r="0.81"/><circle cx="370.6" cy="76.7" r="1.04"/><circle cx="372.4" cy="72.4" r="1.04"/><circle cx="405.4" cy="116.9" r="0.75"/><circle cx="406.7" cy="94.7" r="0.46"/><circle cx="387" cy="100" r="0.43"/><circle cx="375.9" cy="65.4" r="0.81"/><circle cx="376.9" cy="75" r="0.52"/><circle cx="397.2" cy="109.2" r="0.47"/><circle cx="363.5" cy="100.2" r="0.46"/><circle cx="379.8" cy="104" r="0.53"/><circle cx="416.2" cy="106.3" r="0.85"/><circle cx="409.2" cy="95.9" r="0.95"/><circle cx="413.8" cy="106.5" r="0.81"/><circle cx="392.6" cy="102.1" r="0.48"/><circle cx="391.5" cy="79.8" r="1.28"/><circle cx="391.8" cy="83.4" r="0.51"/><circle cx="398.4" cy="89" r="0.93"/><circle cx="391.4" cy="97" r="0.80"/><circle cx="415.8" cy="91.3" r="0.80"/><circle cx="404.6" cy="96.1" r="0.81"/><circle cx="408.6" cy="92.1" r="0.60"/><circle cx="401.5" cy="111.4" r="0.66"/><circle cx="391.2" cy="96.3" r="0.79"/><circle cx="359.7" cy="109.8" r="0.72"/><circle cx="403.1" cy="116.1" r="0.64"/><circle cx="394.9" cy="104.7" r="1.83"/><circle cx="399.1" cy="91.9" r="0.83"/><circle cx="388.3" cy="80.6" r="0.42"/><circle cx="398.4" cy="95.7" r="1.27"/><circle cx="379.7" cy="79.1" r="0.65"/><circle cx="381.7" cy="70.5" r="0.64"/><circle cx="375.9" cy="118.1" r="0.76"/><circle cx="375.5" cy="71.5" r="0.57"/><circle cx="397.5" cy="114.1" r="0.63"/><circle cx="412.8" cy="87.4" r="0.51"/><circle cx="391.8" cy="101.7" r="0.43"/><circle cx="373.9" cy="70" r="0.58"/><circle cx="373.5" cy="72.9" r="0.53"/><circle cx="371.7" cy="110.1" r="0.55"/><circle cx="380.1" cy="75.5" r="0.55"/><circle cx="351.3" cy="103.5" r="0.48"/><circle cx="389.3" cy="82.5" r="1.02"/><circle cx="397.4" cy="79.8" r="0.47"/><circle cx="395.3" cy="100.2" r="1.18"/><circle cx="385.5" cy="81.3" r="0.46"/><circle cx="396.9" cy="93.5" r="0.49"/><circle cx="357.3" cy="121.3" r="1.14"/><circle cx="372.2" cy="66.3" r="0.78"/><circle cx="393.3" cy="105.9" r="0.51"/><circle cx="398.4" cy="94.3" r="0.52"/><circle cx="412.4" cy="81.7" r="0.84"/><circle cx="410.1" cy="96.9" r="0.64"/><circle cx="349.6" cy="92.4" r="0.53"/><circle cx="405.7" cy="104.5" r="0.80"/><circle cx="365" cy="113" r="0.67"/><circle cx="387.9" cy="114.7" r="0.85"/><circle cx="386.9" cy="112.1" r="0.43"/><circle cx="408.6" cy="98.3" r="0.48"/><circle cx="393.7" cy="90.8" r="0.63"/><circle cx="356.5" cy="89.4" r="0.42"/><circle cx="390.7" cy="89.7" r="0.51"/><circle cx="388.7" cy="106.6" r="0.79"/><circle cx="388.9" cy="91.6" r="0.49"/><circle cx="415.4" cy="101.4" r="1.83"/><circle cx="407" cy="91.8" r="1.42"/><circle cx="378.2" cy="69.1" r="0.45"/><circle cx="404.5" cy="106.6" r="0.82"/><circle cx="386.4" cy="96.3" r="0.50"/><circle cx="365" cy="112.7" r="0.83"/><circle cx="372.4" cy="79.3" r="0.92"/><circle cx="388.8" cy="98.3" r="0.44"/><circle cx="385" cy="116.6" r="0.57"/><circle cx="376.6" cy="68.7" r="0.47"/><circle cx="404.1" cy="76" r="0.59"/><circle cx="403.3" cy="92.9" r="0.72"/><circle cx="407.1" cy="90.2" r="0.47"/><circle cx="388.3" cy="107.9" r="0.51"/><circle cx="362.9" cy="113.7" r="0.52"/><circle cx="368.3" cy="110.7" r="0.47"/><circle cx="401.5" cy="94.8" r="0.63"/><circle cx="400.4" cy="99.9" r="0.49"/><circle cx="392.4" cy="96.4" r="0.66"/><circle cx="397.5" cy="102.9" r="1.20"/><circle cx="379.5" cy="69.8" r="0.80"/><circle cx="400.6" cy="88.7" r="0.47"/><circle cx="406.9" cy="112.2" r="1.25"/><circle cx="388.8" cy="79.6" r="0.46"/><circle cx="401.5" cy="106.1" r="0.99"/><circle cx="394.9" cy="95.5" r="0.53"/><circle cx="353.8" cy="115.2" r="0.58"/><circle cx="376.2" cy="76.5" r="0.55"/><circle cx="409.1" cy="95.9" r="0.80"/><circle cx="400.1" cy="82.7" r="1.17"/><circle cx="395.7" cy="96.9" r="0.90"/><circle cx="444.9" cy="87.1" r="0.71"/><circle cx="391.4" cy="84.6" r="0.44"/><circle cx="392.4" cy="90.4" r="0.43"/><circle cx="390.5" cy="102.1" r="0.57"/><circle cx="386.1" cy="92.8" r="0.67"/><circle cx="396.8" cy="102" r="0.69"/><circle cx="405.8" cy="85.9" r="0.86"/><circle cx="346.5" cy="106.5" r="0.46"/><circle cx="412.9" cy="99.3" r="0.47"/><circle cx="366.1" cy="119.6" r="0.54"/><circle cx="402.6" cy="81.9" r="1.50"/><circle cx="365.6" cy="106.8" r="0.60"/><circle cx="379.8" cy="69.9" r="1.50"/><circle cx="360.3" cy="123.4" r="0.43"/><circle cx="361.1" cy="115.3" r="0.58"/><circle cx="400.1" cy="85.3" r="0.60"/><circle cx="407.6" cy="114.4" r="0.65"/><circle cx="393.2" cy="95" r="0.69"/><circle cx="352.7" cy="115.6" r="0.53"/><circle cx="369.8" cy="89.8" r="0.50"/><circle cx="388" cy="104.7" r="1.13"/><circle cx="398.5" cy="100.6" r="0.62"/><circle cx="371" cy="66.1" r="0.58"/><circle cx="407.2" cy="93.9" r="0.77"/><circle cx="396.6" cy="97.3" r="0.43"/><circle cx="398.4" cy="84" r="0.52"/><circle cx="389.2" cy="95.3" r="0.46"/><circle cx="391.5" cy="89.4" r="1.22"/><circle cx="408.8" cy="104.5" r="0.91"/><circle cx="406.4" cy="103.9" r="0.77"/><circle cx="394" cy="99.8" r="0.80"/><circle cx="376.8" cy="69.6" r="0.51"/><circle cx="364.4" cy="104.7" r="0.69"/><circle cx="405.3" cy="106.2" r="0.77"/><circle cx="392.4" cy="90.6" r="0.48"/><circle cx="390.8" cy="103.6" r="0.48"/><circle cx="352.4" cy="112.6" r="0.79"/><circle cx="383.1" cy="75.4" r="0.62"/><circle cx="421.4" cy="94.5" r="0.55"/><circle cx="363.8" cy="112.6" r="0.46"/><circle cx="365" cy="72.9" r="0.47"/><circle cx="386.1" cy="97.5" r="0.48"/><circle cx="404" cy="88.9" r="0.61"/><circle cx="381.6" cy="65.6" r="0.66"/><circle cx="403.7" cy="96" r="0.45"/><circle cx="411.6" cy="115.7" r="1.10"/><circle cx="350.7" cy="114.4" r="0.42"/><circle cx="347.4" cy="111.8" r="0.49"/><circle cx="391.8" cy="78.4" r="0.66"/><circle cx="388.1" cy="94.4" r="1.31"/><circle cx="363.3" cy="105.7" r="1.60"/><circle cx="401.4" cy="106.3" r="0.68"/><circle cx="401" cy="109.4" r="0.64"/><circle cx="384.5" cy="102.3" r="0.97"/><circle cx="392" cy="98.8" r="0.77"/><circle cx="396.7" cy="111" r="0.43"/><circle cx="393.2" cy="112" r="0.51"/><circle cx="414.8" cy="96.4" r="0.74"/><circle cx="395.6" cy="98.2" r="1.27"/><circle cx="396.5" cy="84.7" r="0.70"/><circle cx="403.6" cy="114" r="0.95"/><circle cx="396.1" cy="72.4" r="0.70"/><circle cx="407.6" cy="96.7" r="0.51"/><circle cx="409.8" cy="99.9" r="0.55"/><circle cx="375.2" cy="78.7" r="1.30"/><circle cx="373.4" cy="65" r="0.69"/><circle cx="400" cy="105.7" r="0.54"/><circle cx="391.8" cy="91.4" r="1.00"/><circle cx="392.8" cy="114" r="0.45"/><circle cx="396.6" cy="107.5" r="1.22"/><circle cx="399.9" cy="83.9" r="0.63"/><circle cx="398" cy="100.1" r="0.53"/><circle cx="394" cy="93.7" r="0.54"/><circle cx="362.7" cy="114.6" r="0.72"/><circle cx="355.4" cy="123.8" r="0.42"/><circle cx="395.1" cy="103.7" r="1.00"/><circle cx="396.1" cy="98.9" r="0.94"/><circle cx="384.6" cy="84.9" r="0.64"/><circle cx="401.3" cy="93.6" r="0.52"/><circle cx="402.1" cy="90.9" r="0.44"/><circle cx="376.3" cy="80.5" r="0.42"/><circle cx="400.2" cy="95.9" r="0.73"/><circle cx="393.9" cy="99.9" r="0.50"/><circle cx="398.1" cy="99.9" r="0.79"/><circle cx="416" cy="102.9" r="0.58"/><circle cx="395" cy="97.1" r="0.63"/><circle cx="371.3" cy="70.5" r="0.60"/><circle cx="376.6" cy="73.1" r="0.58"/><circle cx="398.6" cy="83.8" r="0.44"/><circle cx="410.2" cy="73.5" r="1.70"/><circle cx="337.8" cy="113.9" r="0.65"/><circle cx="394.4" cy="100.6" r="0.44"/><circle cx="343.9" cy="103.5" r="0.98"/><circle cx="387" cy="101.6" r="0.62"/><circle cx="400" cy="99.6" r="1.42"/><circle cx="390.1" cy="108.2" r="0.67"/><circle cx="388.8" cy="103.4" r="0.45"/><circle cx="418.2" cy="87.3" r="0.68"/><circle cx="385.7" cy="98.2" r="0.43"/><circle cx="367.3" cy="66.3" r="0.52"/><circle cx="350.2" cy="103.4" r="1.48"/><circle cx="391.6" cy="92.1" r="0.57"/><circle cx="407" cy="90.4" r="0.49"/><circle cx="341.1" cy="107.9" r="0.54"/><circle cx="362.7" cy="98.8" r="1.40"/><circle cx="401.7" cy="109.7" r="0.71"/><circle cx="394.3" cy="68.6" r="0.71"/><circle cx="361.3" cy="112.2" r="0.71"/><circle cx="405.6" cy="108.2" r="0.58"/><circle cx="386.5" cy="95.5" r="0.43"/><circle cx="393.7" cy="86.2" r="0.59"/><circle cx="385.4" cy="97.2" r="0.69"/><circle cx="417.4" cy="103.5" r="0.96"/><circle cx="391.6" cy="98.6" r="0.47"/><circle cx="409.2" cy="92.4" r="0.66"/><circle cx="405.6" cy="101.9" r="0.45"/><circle cx="390.2" cy="77.6" r="1.02"/><circle cx="370.3" cy="73.7" r="1.88"/><circle cx="400.1" cy="104.1" r="0.80"/><circle cx="383.4" cy="105.6" r="0.74"/><circle cx="395.2" cy="93.5" r="0.43"/><circle cx="404.9" cy="95" r="1.04"/><circle cx="376.8" cy="80.5" r="0.50"/><circle cx="408.5" cy="103.9" r="0.92"/><circle cx="366.6" cy="115.9" r="1.06"/><circle cx="367.2" cy="63.5" r="0.72"/><circle cx="407.2" cy="97.2" r="0.57"/><circle cx="388.8" cy="97.4" r="0.85"/><circle cx="403.8" cy="83.5" r="0.42"/><circle cx="414.3" cy="100.9" r="0.71"/><circle cx="374.9" cy="114.7" r="0.49"/><circle cx="388.3" cy="92.5" r="0.90"/><circle cx="398.5" cy="99.2" r="0.44"/><circle cx="386" cy="112" r="0.57"/><circle cx="404.1" cy="106.6" r="0.49"/><circle cx="362.3" cy="108.1" r="0.42"/><circle cx="398.8" cy="116" r="1.38"/><circle cx="413.4" cy="98.9" r="1.00"/><circle cx="379.5" cy="67.4" r="1.30"/><circle cx="393.4" cy="92" r="0.62"/><circle cx="397.6" cy="110.3" r="0.67"/><circle cx="386.2" cy="109.8" r="0.53"/><circle cx="387.2" cy="73.8" r="1.44"/><circle cx="396" cy="94" r="0.75"/><circle cx="360.5" cy="108.8" r="0.57"/><circle cx="393.7" cy="98.3" r="0.76"/><circle cx="377.4" cy="78" r="0.67"/><circle cx="386.4" cy="89.3" r="0.45"/><circle cx="387.2" cy="98.5" r="0.52"/><circle cx="407.5" cy="89" r="1.53"/><circle cx="415.1" cy="101.1" r="0.50"/><circle cx="372.2" cy="68.6" r="0.63"/><circle cx="400.4" cy="106.2" r="0.80"/><circle cx="377.2" cy="76.1" r="0.84"/><circle cx="381.6" cy="64" r="0.52"/><circle cx="373.6" cy="120.3" r="1.13"/><circle cx="410.8" cy="86.8" r="0.65"/><circle cx="395.6" cy="94.8" r="0.53"/><circle cx="393.4" cy="101" r="1.20"/><circle cx="387.9" cy="92" r="0.47"/><circle cx="401.3" cy="89.3" r="0.45"/><circle cx="405.6" cy="100.4" r="0.49"/><circle cx="396.5" cy="94" r="0.65"/><circle cx="401.2" cy="75.8" r="0.50"/><circle cx="392.6" cy="108.3" r="0.43"/><circle cx="399.3" cy="92.1" r="1.15"/><circle cx="350.4" cy="108.4" r="0.97"/><circle cx="403.5" cy="105" r="0.61"/><circle cx="356.8" cy="78.3" r="0.50"/><circle cx="401.1" cy="80.8" r="0.45"/><circle cx="394.9" cy="107.4" r="0.54"/><circle cx="380.3" cy="79.9" r="0.66"/><circle cx="374.7" cy="97.7" r="0.70"/><circle cx="378.3" cy="85.5" r="1.07"/><circle cx="385.1" cy="83" r="0.71"/><circle cx="375.3" cy="76.3" r="0.80"/><circle cx="388.8" cy="63.4" r="1.03"/><circle cx="371.2" cy="73.7" r="0.61"/><circle cx="363.9" cy="69.6" r="0.42"/><circle cx="407" cy="94.1" r="0.48"/><circle cx="373.7" cy="120.9" r="0.59"/><circle cx="390.3" cy="104.1" r="1.05"/><circle cx="378.8" cy="73.1" r="0.56"/><circle cx="353.1" cy="119" r="0.43"/><circle cx="401.6" cy="105.4" r="0.96"/><circle cx="374" cy="75.1" r="0.89"/><circle cx="360.9" cy="117.7" r="0.86"/><circle cx="396.2" cy="112.8" r="0.96"/><circle cx="374.6" cy="88.8" r="0.66"/><circle cx="372.7" cy="91.5" r="0.79"/><circle cx="381.7" cy="98.3" r="0.51"/><circle cx="402.5" cy="95.4" r="0.49"/><circle cx="398.9" cy="89.8" r="0.51"/><circle cx="400.4" cy="107.9" r="0.69"/><circle cx="403.5" cy="98.7" r="1.22"/><circle cx="377.3" cy="76.1" r="0.87"/><circle cx="398.4" cy="92.1" r="0.43"/><circle cx="404.8" cy="84.4" r="1.44"/><circle cx="371.9" cy="65.5" r="0.54"/><circle cx="353.1" cy="114.6" r="0.75"/><circle cx="398.1" cy="95.3" r="0.52"/><circle cx="396.5" cy="98.1" r="0.94"/><circle cx="414.4" cy="105.6" r="0.45"/><circle cx="383.4" cy="93.7" r="0.93"/><circle cx="392.4" cy="95.7" r="0.50"/><circle cx="358.5" cy="110.5" r="1.01"/><circle cx="406.9" cy="89.5" r="0.79"/><circle cx="398.2" cy="109" r="0.47"/><circle cx="397.1" cy="100.5" r="0.77"/><circle cx="396.3" cy="84" r="0.79"/><circle cx="388.2" cy="95.6" r="0.44"/><circle cx="388" cy="97.5" r="0.49"/><circle cx="399.4" cy="117.3" r="0.97"/><circle cx="410.1" cy="100.3" r="0.95"/><circle cx="434.1" cy="79" r="0.93"/><circle cx="372" cy="86" r="0.76"/><circle cx="354.5" cy="112.9" r="0.57"/><circle cx="397.6" cy="101.7" r="0.63"/><circle cx="393.8" cy="103.1" r="0.65"/><circle cx="375.4" cy="71.3" r="0.67"/><circle cx="383.8" cy="89.5" r="0.51"/><circle cx="366.5" cy="119.7" r="0.61"/><circle cx="374.7" cy="69.3" r="0.96"/><circle cx="395.9" cy="106.4" r="0.62"/><circle cx="406.5" cy="118.1" r="1.50"/><circle cx="389.6" cy="112" r="1.51"/><circle cx="391" cy="99.1" r="1.04"/><circle cx="355.7" cy="120.3" r="0.74"/><circle cx="354.8" cy="107.7" r="0.42"/><circle cx="379.3" cy="79.8" r="0.85"/><circle cx="411.7" cy="99.7" r="0.48"/><circle cx="411.2" cy="101.3" r="0.49"/><circle cx="397.1" cy="113.6" r="0.97"/><circle cx="400.8" cy="105" r="0.63"/><circle cx="344" cy="81" r="0.67"/><circle cx="390.2" cy="99.2" r="0.50"/><circle cx="397.6" cy="91.4" r="0.55"/><circle cx="385.4" cy="113.5" r="0.49"/><circle cx="401.4" cy="82.5" r="0.62"/><circle cx="416.3" cy="85.2" r="0.54"/><circle cx="415.6" cy="93.4" r="0.94"/><circle cx="386.6" cy="101.3" r="1.09"/><circle cx="397.8" cy="110.5" r="0.50"/><circle cx="386.1" cy="99.6" r="0.52"/><circle cx="364.3" cy="102.5" r="0.50"/><circle cx="363.2" cy="109" r="0.51"/><circle cx="385.6" cy="106.9" r="0.67"/><circle cx="377.9" cy="74.4" r="0.63"/><circle cx="381.1" cy="106.5" r="1.17"/><circle cx="371.8" cy="74.8" r="0.62"/><circle cx="394.3" cy="99" r="0.92"/><circle cx="389.4" cy="69.8" r="1.02"/><circle cx="404" cy="98.1" r="0.47"/><circle cx="413.8" cy="103.6" r="1.93"/><circle cx="347.5" cy="119.1" r="0.59"/><circle cx="409.5" cy="104.4" r="0.46"/><circle cx="363.1" cy="112.6" r="1.56"/><circle cx="392.1" cy="96.9" r="1.44"/><circle cx="373.4" cy="67.5" r="0.54"/><circle cx="400.4" cy="93.1" r="0.60"/><circle cx="381.5" cy="78.1" r="0.76"/><circle cx="406.6" cy="93.1" r="0.72"/><circle cx="394.4" cy="107.2" r="0.57"/><circle cx="400.7" cy="104.2" r="0.79"/><circle cx="374.6" cy="106.6" r="0.62"/><circle cx="356.8" cy="118.5" r="1.19"/><circle cx="403.2" cy="78.5" r="0.56"/><circle cx="378.7" cy="74.1" r="0.58"/><circle cx="396.1" cy="90.5" r="0.56"/><circle cx="402" cy="85.2" r="0.56"/><circle cx="411.1" cy="90.1" r="1.47"/><circle cx="381.4" cy="85.6" r="0.54"/><circle cx="360.8" cy="126.2" r="1.36"/><circle cx="398.4" cy="112.9" r="0.63"/><circle cx="379.7" cy="64.6" r="0.57"/><circle cx="360" cy="115.2" r="0.57"/><circle cx="415.7" cy="113.4" r="0.51"/><circle cx="405.4" cy="111.2" r="0.48"/><circle cx="406.2" cy="94.3" r="0.49"/><circle cx="390.6" cy="99.9" r="0.52"/><circle cx="417.2" cy="101.7" r="0.89"/><circle cx="380.1" cy="93.8" r="1.06"/><circle cx="402.6" cy="104.1" r="0.63"/><circle cx="371.8" cy="67.9" r="1.53"/><circle cx="392.7" cy="101.1" r="0.83"/><circle cx="399.9" cy="100.3" r="0.68"/><circle cx="378.2" cy="112.5" r="1.84"/><circle cx="352.9" cy="110.6" r="0.62"/><circle cx="360.2" cy="100.8" r="0.91"/><circle cx="397.9" cy="103.1" r="0.65"/><circle cx="420.3" cy="101.5" r="0.56"/><circle cx="400.8" cy="113.3" r="0.64"/><circle cx="387.8" cy="98.4" r="1.17"/><circle cx="393.6" cy="101.4" r="0.66"/><circle cx="393.5" cy="92.2" r="0.52"/><circle cx="414" cy="93.2" r="0.46"/><circle cx="391.8" cy="104.5" r="0.90"/><circle cx="397.9" cy="105.9" r="0.46"/><circle cx="402.4" cy="92.1" r="0.98"/><circle cx="369.4" cy="76.1" r="1.05"/><circle cx="400.6" cy="105.8" r="1.01"/><circle cx="343.5" cy="118.3" r="0.94"/><circle cx="408.8" cy="99.5" r="0.47"/><circle cx="384.1" cy="97.2" r="0.82"/><circle cx="398.8" cy="114.7" r="0.75"/><circle cx="392.7" cy="106.9" r="0.85"/><circle cx="382.8" cy="119.9" r="0.54"/><circle cx="418.2" cy="100.6" r="0.50"/><circle cx="400.3" cy="94.1" r="1.10"/><circle cx="404.5" cy="98.2" r="0.45"/><circle cx="384.1" cy="72.3" r="0.60"/><circle cx="404.9" cy="112.9" r="1.22"/><circle cx="411.2" cy="110.3" r="0.47"/><circle cx="354.9" cy="110.7" r="0.84"/><circle cx="407.8" cy="77.9" r="1.18"/><circle cx="395.8" cy="85" r="0.71"/>
<circle cx="422.3" cy="77.5" r="3.3"/><circle cx="404" cy="82.8" r="2.1"/><circle cx="421.5" cy="83" r="1.9"/>
<circle cx="367" cy="66" r="2.2"/><circle cx="371" cy="70" r="2"/><circle cx="366" cy="122" r="1.9"/><circle cx="358" cy="120.5" r="1.7"/><circle cx="413" cy="103" r="1.8"/>
</g>
<g fill="#a50f3c" stroke="#3d0517" stroke-width=".5">
<circle cx="369.8" cy="40.7" r="0.71"/><circle cx="383.8" cy="58.6" r="1.50"/><circle cx="384.1" cy="55.2" r="0.81"/><circle cx="373.2" cy="55.4" r="0.74"/><circle cx="363.8" cy="46.9" r="0.68"/><circle cx="369.2" cy="47.2" r="0.78"/><circle cx="378" cy="48.8" r="2.04"/><circle cx="379.2" cy="50.6" r="0.81"/><circle cx="380.7" cy="62.8" r="2.48"/><circle cx="365.3" cy="44.4" r="1.11"/><circle cx="367.8" cy="51.1" r="0.87"/><circle cx="382.8" cy="48.7" r="0.72"/><circle cx="379.6" cy="53" r="1.34"/><circle cx="373.1" cy="47.5" r="0.60"/><circle cx="377" cy="49.4" r="0.73"/><circle cx="367.1" cy="49.6" r="1.38"/><circle cx="366.3" cy="41.9" r="0.98"/><circle cx="376.3" cy="57.4" r="1.08"/><circle cx="379.6" cy="55" r="1.37"/><circle cx="378.1" cy="50.4" r="0.65"/><circle cx="370.3" cy="41.2" r="2.50"/><circle cx="379.5" cy="57.5" r="0.76"/><circle cx="377.7" cy="59.6" r="0.80"/><circle cx="394.4" cy="45.6" r="0.82"/><circle cx="383.5" cy="53.7" r="0.93"/><circle cx="378.8" cy="60.4" r="1.29"/><circle cx="368.2" cy="53.1" r="1.48"/><circle cx="371.8" cy="43.5" r="0.72"/><circle cx="370.4" cy="46.1" r="0.90"/><circle cx="384.1" cy="56.6" r="0.58"/><circle cx="386.6" cy="40.1" r="0.56"/><circle cx="375.1" cy="58.3" r="0.60"/><circle cx="375.3" cy="48.9" r="1.22"/><circle cx="365.1" cy="45.8" r="0.66"/><circle cx="377.8" cy="60.6" r="0.60"/><circle cx="381" cy="59.1" r="0.64"/><circle cx="357.5" cy="50.7" r="0.58"/><circle cx="382.9" cy="55.9" r="0.71"/><circle cx="378.5" cy="53.2" r="0.92"/><circle cx="383.8" cy="56.2" r="0.90"/><circle cx="379.6" cy="52.3" r="0.66"/><circle cx="375.7" cy="50.9" r="0.72"/><circle cx="379.9" cy="59.8" r="1.09"/><circle cx="380.1" cy="60.2" r="2.60"/><circle cx="381.8" cy="43" r="1.01"/><circle cx="382.1" cy="60.4" r="1.56"/><circle cx="378.2" cy="46" r="0.85"/><circle cx="378.4" cy="47.7" r="1.64"/><circle cx="363.2" cy="46.6" r="0.98"/><circle cx="376.3" cy="57.5" r="0.75"/><circle cx="381.7" cy="52.1" r="0.86"/><circle cx="383.5" cy="56.1" r="1.35"/><circle cx="381" cy="58.1" r="1.63"/><circle cx="369.4" cy="46.1" r="0.63"/><circle cx="378.5" cy="46.4" r="1.93"/><circle cx="373.4" cy="61.3" r="1.20"/><circle cx="361.4" cy="52.9" r="0.59"/><circle cx="383.8" cy="56.6" r="0.74"/><circle cx="374.2" cy="46.9" r="0.96"/><circle cx="365.4" cy="48.5" r="0.79"/><circle cx="376.1" cy="51.4" r="2.48"/><circle cx="384.5" cy="47.7" r="1.20"/><circle cx="379.8" cy="49.8" r="1.50"/><circle cx="375.3" cy="51.5" r="2.13"/><circle cx="369.7" cy="56.9" r="1.37"/><circle cx="361.9" cy="57.8" r="1.13"/><circle cx="362.6" cy="51.6" r="1.15"/><circle cx="378.2" cy="59.4" r="1.06"/><circle cx="382" cy="55.6" r="0.76"/><circle cx="372.7" cy="44.8" r="0.59"/><circle cx="379.1" cy="62.7" r="1.80"/><circle cx="377.8" cy="62.9" r="0.85"/><circle cx="363.7" cy="46.4" r="2.13"/><circle cx="373.8" cy="53.6" r="1.07"/><circle cx="373.8" cy="58.2" r="0.88"/><circle cx="374.9" cy="50.2" r="0.55"/><circle cx="373.6" cy="57" r="0.62"/><circle cx="372.7" cy="54.8" r="0.95"/><circle cx="376.1" cy="45" r="0.64"/><circle cx="363.5" cy="53.4" r="0.57"/><circle cx="368.3" cy="50.5" r="1.31"/><circle cx="375.2" cy="54" r="0.88"/><circle cx="375.5" cy="49.5" r="0.57"/><circle cx="365.9" cy="52" r="0.88"/><circle cx="379.1" cy="55.4" r="0.56"/><circle cx="388.8" cy="50.6" r="1.07"/><circle cx="382.8" cy="60.2" r="0.71"/><circle cx="377.7" cy="56.8" r="1.58"/><circle cx="378.2" cy="46.1" r="1.05"/><circle cx="377.9" cy="54.9" r="0.93"/><circle cx="374" cy="41" r="1.03"/><circle cx="382.1" cy="57" r="1.06"/><circle cx="385.6" cy="48.1" r="1.26"/><circle cx="379" cy="50.2" r="1.18"/><circle cx="375" cy="51.2" r="0.96"/><circle cx="372.2" cy="56" r="0.60"/><circle cx="361.5" cy="46.6" r="1.24"/><circle cx="381.4" cy="57.8" r="0.70"/><circle cx="372.3" cy="47.2" r="1.04"/><circle cx="364.4" cy="52.7" r="1.02"/><circle cx="380.2" cy="62" r="1.15"/><circle cx="378.4" cy="59.9" r="1.30"/><circle cx="377.7" cy="58.9" r="0.93"/><circle cx="372.6" cy="52.2" r="1.64"/><circle cx="370.1" cy="40" r="0.67"/><circle cx="385.1" cy="58.8" r="0.77"/><circle cx="372.6" cy="51.9" r="0.97"/><circle cx="373.4" cy="41.9" r="0.72"/><circle cx="381.2" cy="57.4" r="0.76"/><circle cx="372.3" cy="54.5" r="0.98"/><circle cx="364.2" cy="47.2" r="1.48"/><circle cx="376.4" cy="57.5" r="0.57"/><circle cx="381.3" cy="61.5" r="0.79"/><circle cx="376.9" cy="57.3" r="0.76"/><circle cx="384.3" cy="55.5" r="0.72"/><circle cx="379.1" cy="58.4" r="0.83"/><circle cx="375.1" cy="40.1" r="0.78"/><circle cx="368.9" cy="46" r="0.58"/><circle cx="378.3" cy="57.3" r="0.59"/><circle cx="383.1" cy="52.9" r="1.97"/><circle cx="363.4" cy="45.2" r="0.93"/><circle cx="377.5" cy="56.9" r="0.56"/><circle cx="382.6" cy="49.6" r="1.47"/><circle cx="381.8" cy="56.1" r="0.99"/><circle cx="364" cy="47.6" r="0.84"/><circle cx="374.2" cy="41.8" r="0.95"/><circle cx="375.5" cy="55.7" r="0.74"/><circle cx="377" cy="55" r="0.66"/><circle cx="378.2" cy="48.9" r="1.59"/><circle cx="389.7" cy="57.4" r="1.03"/><circle cx="371.3" cy="45.6" r="1.02"/><circle cx="370.3" cy="51.1" r="1.22"/><circle cx="367.3" cy="50.4" r="1.72"/><circle cx="376" cy="51.9" r="1.24"/><circle cx="380.9" cy="52.6" r="0.80"/><circle cx="367" cy="50.4" r="2.01"/><circle cx="379.3" cy="52.2" r="0.68"/><circle cx="367.1" cy="46.5" r="0.59"/><circle cx="371.8" cy="48" r="1.01"/><circle cx="380" cy="59.8" r="1.93"/><circle cx="365.4" cy="47.8" r="0.75"/><circle cx="383.7" cy="51.2" r="1.30"/><circle cx="368.2" cy="50" r="1.99"/><circle cx="365.7" cy="49.7" r="0.76"/><circle cx="379.1" cy="61.4" r="1.88"/><circle cx="372.3" cy="56.4" r="0.70"/><circle cx="365.6" cy="49.6" r="1.46"/><circle cx="368.4" cy="59" r="1.03"/><circle cx="369.7" cy="43.1" r="1.19"/><circle cx="378.2" cy="53.6" r="2.30"/><circle cx="363.4" cy="55.5" r="0.71"/><circle cx="371.5" cy="68" r="0.88"/><circle cx="377.2" cy="59.8" r="0.99"/><circle cx="379.6" cy="61.3" r="1.10"/><circle cx="376.7" cy="58.7" r="1.60"/><circle cx="382.7" cy="48.9" r="0.56"/><circle cx="371.5" cy="57.5" r="0.96"/><circle cx="372.2" cy="54.1" r="0.72"/><circle cx="372.5" cy="57.8" r="1.36"/><circle cx="378.8" cy="49.2" r="1.32"/><circle cx="381" cy="52.6" r="1.20"/><circle cx="373" cy="42.5" r="0.76"/><circle cx="383.2" cy="55.5" r="0.71"/><circle cx="369.2" cy="48.5" r="0.60"/><circle cx="382.1" cy="56.2" r="1.31"/><circle cx="376.8" cy="50.8" r="1.83"/><circle cx="382.8" cy="45.6" r="1.01"/><circle cx="361.8" cy="47.1" r="1.25"/><circle cx="382.1" cy="40.6" r="0.71"/><circle cx="376.2" cy="60.6" r="1.19"/><circle cx="380.7" cy="44.4" r="0.59"/><circle cx="391" cy="49.4" r="0.60"/><circle cx="377.2" cy="48.6" r="0.56"/><circle cx="386.6" cy="50.7" r="0.93"/><circle cx="363" cy="50.5" r="0.70"/><circle cx="384.4" cy="53" r="1.00"/><circle cx="376.6" cy="50.4" r="1.14"/><circle cx="374.8" cy="55" r="1.44"/><circle cx="390.9" cy="50.8" r="2.02"/><circle cx="372.5" cy="59.4" r="0.64"/><circle cx="370.1" cy="50.4" r="0.64"/><circle cx="362.4" cy="46.9" r="0.83"/><circle cx="382.2" cy="40.6" r="1.24"/><circle cx="374.4" cy="57.5" r="0.69"/><circle cx="377.3" cy="48.5" r="0.98"/><circle cx="379.8" cy="53.8" r="1.17"/><circle cx="383.4" cy="60.3" r="0.55"/><circle cx="360.7" cy="53.3" r="0.88"/><circle cx="377.1" cy="44.8" r="0.84"/><circle cx="371.2" cy="55.5" r="0.96"/><circle cx="386.6" cy="52" r="1.43"/><circle cx="376.4" cy="57.8" r="1.28"/><circle cx="378.8" cy="54.9" r="1.72"/><circle cx="376.7" cy="57.4" r="1.37"/><circle cx="380.3" cy="47.9" r="1.19"/><circle cx="374.1" cy="51" r="1.66"/><circle cx="372.4" cy="57.1" r="1.28"/><circle cx="382.4" cy="46.9" r="1.22"/><circle cx="383.5" cy="49" r="1.31"/><circle cx="364.5" cy="41.1" r="0.80"/><circle cx="382.6" cy="51.3" r="1.40"/><circle cx="361.6" cy="49.6" r="0.81"/><circle cx="380.1" cy="61.6" r="0.71"/><circle cx="379" cy="52.5" r="0.87"/><circle cx="378" cy="52.9" r="0.79"/><circle cx="373.4" cy="60.4" r="0.97"/><circle cx="376.7" cy="51.1" r="1.34"/><circle cx="384.3" cy="47.2" r="0.61"/><circle cx="364.3" cy="41" r="0.69"/><circle cx="387" cy="50.6" r="0.97"/><circle cx="377.7" cy="47.2" r="0.98"/><circle cx="377" cy="51.1" r="1.31"/><circle cx="372" cy="58.7" r="1.25"/><circle cx="378.7" cy="42.7" r="1.76"/><circle cx="379.3" cy="51.4" r="1.32"/><circle cx="375.6" cy="46.5" r="0.81"/><circle cx="380.1" cy="55.5" r="1.01"/><circle cx="378.3" cy="56.4" r="0.72"/><circle cx="377.9" cy="57.2" r="0.88"/><circle cx="381.7" cy="54.1" r="0.82"/><circle cx="382.7" cy="54.6" r="0.80"/><circle cx="378.1" cy="51.3" r="0.63"/><circle cx="376.8" cy="54.9" r="0.93"/><circle cx="366.2" cy="47.5" r="2.43"/><circle cx="375.1" cy="51" r="0.72"/><circle cx="371.1" cy="56.1" r="0.61"/><circle cx="378.9" cy="52.2" r="2.48"/><circle cx="373.5" cy="49.7" r="1.01"/><circle cx="380.3" cy="54.3" r="1.10"/><circle cx="362.4" cy="49.6" r="1.68"/><circle cx="378.5" cy="54.9" r="0.74"/><circle cx="367.5" cy="55.7" r="2.29"/><circle cx="372.4" cy="57.9" r="1.97"/><circle cx="364.7" cy="50.7" r="0.74"/><circle cx="386.7" cy="55.1" r="1.10"/><circle cx="372.8" cy="59" r="0.68"/><circle cx="388.6" cy="40" r="0.98"/><circle cx="366.9" cy="44.1" r="1.66"/><circle cx="395.6" cy="48.3" r="1.52"/><circle cx="376.5" cy="56.4" r="1.56"/><circle cx="366.6" cy="43.3" r="0.59"/><circle cx="394.2" cy="42.5" r="1.58"/><circle cx="383.4" cy="55.4" r="0.96"/><circle cx="380.1" cy="55.4" r="1.00"/><circle cx="374.7" cy="48.3" r="1.90"/><circle cx="375" cy="50.9" r="0.67"/><circle cx="385.5" cy="60.3" r="0.99"/><circle cx="376.6" cy="55.7" r="0.81"/><circle cx="375.9" cy="57.5" r="0.98"/><circle cx="376.2" cy="49.6" r="1.01"/><circle cx="374.4" cy="53.9" r="0.65"/><circle cx="372.3" cy="55.6" r="1.86"/><circle cx="377.9" cy="46.6" r="0.65"/><circle cx="368.9" cy="62.1" r="0.88"/><circle cx="378.1" cy="55.3" r="0.92"/><circle cx="378.6" cy="59.4" r="0.95"/><circle cx="377.1" cy="53.6" r="1.19"/><circle cx="376.8" cy="50.1" r="0.90"/><circle cx="379.7" cy="51.4" r="0.68"/><circle cx="372.4" cy="56.1" r="1.54"/><circle cx="365.8" cy="45.5" r="1.93"/><circle cx="382.8" cy="54.3" r="1.39"/><circle cx="376.6" cy="57.8" r="0.72"/><circle cx="373.7" cy="58.4" r="0.84"/><circle cx="372" cy="53.6" r="1.39"/><circle cx="377.1" cy="59.8" r="1.40"/><circle cx="389" cy="54.2" r="0.70"/><circle cx="381.2" cy="54.5" r="0.79"/><circle cx="378.2" cy="57" r="0.66"/><circle cx="363.7" cy="45.7" r="1.22"/><circle cx="387.5" cy="52" r="0.63"/><circle cx="374.6" cy="56" r="0.59"/><circle cx="373.3" cy="45.9" r="1.93"/><circle cx="365.6" cy="41.6" r="1.19"/><circle cx="385.1" cy="51.1" r="0.63"/><circle cx="384.1" cy="50.4" r="0.99"/><circle cx="373.4" cy="42.6" r="1.33"/><circle cx="362.9" cy="44.9" r="2.11"/><circle cx="378.5" cy="57.6" r="1.35"/><circle cx="386.5" cy="48.6" r="1.61"/><circle cx="383.1" cy="49.7" r="1.13"/><circle cx="381.7" cy="52.4" r="0.82"/><circle cx="374.3" cy="55.6" r="0.63"/><circle cx="372.6" cy="40.9" r="0.65"/><circle cx="379.6" cy="59.8" r="2.14"/><circle cx="379.1" cy="55.4" r="0.62"/><circle cx="374.4" cy="56.6" r="0.60"/><circle cx="378" cy="55.6" r="1.69"/><circle cx="378.8" cy="61.1" r="0.93"/><circle cx="386.1" cy="58" r="0.67"/><circle cx="381.1" cy="56.4" r="2.43"/><circle cx="380.3" cy="40.3" r="0.80"/><circle cx="382" cy="50.7" r="1.43"/><circle cx="381.4" cy="58" r="0.87"/><circle cx="366.5" cy="58.7" r="0.65"/><circle cx="376.8" cy="58.7" r="1.51"/><circle cx="378.5" cy="57" r="1.57"/><circle cx="373.5" cy="47.1" r="1.04"/><circle cx="378.2" cy="54.5" r="0.71"/><circle cx="378.7" cy="53.4" r="0.99"/><circle cx="368" cy="55.1" r="0.55"/><circle cx="376.6" cy="46.6" r="0.56"/><circle cx="377.9" cy="54.4" r="1.55"/><circle cx="381.6" cy="55.5" r="0.78"/><circle cx="386.8" cy="47.5" r="2.60"/><circle cx="368.1" cy="61.3" r="1.84"/><circle cx="382.6" cy="55.1" r="1.39"/><circle cx="367.8" cy="48.2" r="0.68"/><circle cx="375.8" cy="60.8" r="0.93"/><circle cx="378.9" cy="47" r="0.94"/><circle cx="371.7" cy="40.9" r="1.09"/><circle cx="373.5" cy="41.6" r="1.13"/><circle cx="375.5" cy="48.9" r="1.20"/><circle cx="369.1" cy="60.5" r="0.77"/><circle cx="376.8" cy="46.4" r="1.45"/><circle cx="365.5" cy="57.5" r="1.45"/><circle cx="377.4" cy="51.1" r="0.86"/><circle cx="367.9" cy="50.8" r="0.98"/><circle cx="379.2" cy="51.4" r="1.94"/><circle cx="373.4" cy="43.7" r="1.12"/><circle cx="380.3" cy="47.1" r="0.64"/><circle cx="374.6" cy="52.7" r="0.79"/><circle cx="375.1" cy="43.2" r="0.93"/><circle cx="373.7" cy="41.7" r="1.01"/><circle cx="374.3" cy="57.8" r="0.58"/><circle cx="384.8" cy="48.5" r="2.60"/><circle cx="373.7" cy="58.1" r="0.56"/>
<circle cx="362.5" cy="45" r="2.7"/><circle cx="366" cy="49.5" r="2.9"/><circle cx="363" cy="51" r="2.2"/><circle cx="368.5" cy="45.5" r="2.3"/><circle cx="372.5" cy="47" r="2"/><circle cx="383.5" cy="56" r="2.3"/><circle cx="386" cy="44.5" r="1.5"/><circle cx="393.8" cy="55.5" r="1.5"/><circle cx="390.5" cy="58.3" r=".8"/>
</g>
<g fill="#2176e4" stroke="#0b2a62" stroke-width=".4">
<circle cx="296.7" cy="217.3" r="0.52"/><circle cx="409.9" cy="182.4" r="0.41"/><circle cx="235.2" cy="277.8" r="0.42"/><circle cx="246.9" cy="293.5" r="1.11"/><circle cx="399.7" cy="175.4" r="0.62"/><circle cx="310.5" cy="243.4" r="0.80"/><circle cx="228.2" cy="280.9" r="0.67"/><circle cx="275.6" cy="235.6" r="0.49"/><circle cx="244.4" cy="282" r="0.73"/><circle cx="412.6" cy="192.3" r="0.72"/><circle cx="294.8" cy="251.4" r="0.33"/><circle cx="272.6" cy="246.7" r="0.90"/><circle cx="235.4" cy="272.1" r="0.42"/><circle cx="238.7" cy="274.9" r="0.35"/><circle cx="330" cy="234" r="1.12"/><circle cx="272" cy="227.8" r="0.50"/><circle cx="320.1" cy="217.9" r="1.13"/><circle cx="431.6" cy="195.9" r="0.33"/><circle cx="411.4" cy="187.3" r="0.70"/><circle cx="282.7" cy="224" r="0.43"/><circle cx="330.8" cy="241.7" r="0.51"/><circle cx="407.8" cy="163.8" r="0.50"/><circle cx="270.1" cy="266.9" r="0.40"/><circle cx="275.5" cy="246.7" r="0.55"/><circle cx="290.3" cy="279.9" r="0.79"/><circle cx="441.4" cy="181.2" r="0.45"/><circle cx="241.9" cy="286.3" r="0.61"/><circle cx="262.7" cy="236.5" r="0.74"/><circle cx="230.9" cy="292.1" r="0.63"/><circle cx="290.6" cy="259.4" r="0.50"/><circle cx="276.3" cy="221.4" r="0.33"/><circle cx="391.3" cy="200.8" r="0.35"/><circle cx="381.1" cy="183.3" r="0.46"/><circle cx="359.9" cy="212.4" r="0.44"/><circle cx="358.5" cy="194.2" r="0.50"/><circle cx="246.5" cy="294.4" r="0.35"/><circle cx="331.8" cy="257.6" r="0.40"/><circle cx="455" cy="172.9" r="0.50"/><circle cx="283.1" cy="259.3" r="0.44"/><circle cx="421.3" cy="172.8" r="0.72"/><circle cx="277.2" cy="260.2" r="0.40"/><circle cx="366.9" cy="212.7" r="0.33"/><circle cx="268.5" cy="231.9" r="0.51"/><circle cx="259.6" cy="286.9" r="0.66"/><circle cx="250.7" cy="283.8" r="0.38"/><circle cx="234.2" cy="279" r="0.44"/><circle cx="378.2" cy="200" r="0.50"/><circle cx="325.6" cy="253.2" r="0.36"/><circle cx="349.3" cy="196.8" r="0.36"/><circle cx="257" cy="312.9" r="0.56"/><circle cx="353" cy="193.2" r="0.66"/><circle cx="343.4" cy="178.1" r="0.61"/><circle cx="303.1" cy="233.1" r="1.24"/><circle cx="417.6" cy="175.1" r="0.64"/><circle cx="363.1" cy="172.9" r="0.93"/><circle cx="283.6" cy="260.8" r="0.32"/><circle cx="310.5" cy="258.2" r="0.39"/><circle cx="301.5" cy="257.2" r="0.44"/><circle cx="274.8" cy="232.1" r="0.49"/><circle cx="260.9" cy="237.6" r="0.52"/><circle cx="287.6" cy="256.2" r="0.84"/><circle cx="247.4" cy="274.1" r="0.40"/><circle cx="332.7" cy="207.3" r="0.33"/><circle cx="343.8" cy="217" r="0.73"/><circle cx="305.9" cy="253" r="0.62"/><circle cx="363.8" cy="193.1" r="1.04"/><circle cx="276.2" cy="222.9" r="0.71"/><circle cx="278.9" cy="246" r="0.32"/><circle cx="279.5" cy="241.8" r="1.60"/><circle cx="278.5" cy="229.1" r="0.38"/><circle cx="441.1" cy="162.3" r="0.35"/><circle cx="301.4" cy="262.2" r="0.52"/><circle cx="295" cy="260.9" r="0.53"/><circle cx="212" cy="276.3" r="0.51"/><circle cx="264.8" cy="240.4" r="1.60"/><circle cx="359.4" cy="190.9" r="0.33"/><circle cx="290" cy="224.6" r="0.51"/><circle cx="304.1" cy="216.1" r="0.57"/><circle cx="255.1" cy="258" r="0.32"/><circle cx="219.9" cy="285.2" r="0.59"/><circle cx="272.7" cy="249.3" r="0.55"/><circle cx="264.3" cy="232.9" r="0.52"/><circle cx="344" cy="232.3" r="0.66"/><circle cx="298.6" cy="273.3" r="0.48"/><circle cx="279" cy="292.4" r="0.42"/><circle cx="254.7" cy="279.2" r="1.17"/><circle cx="271.3" cy="225.2" r="1.48"/><circle cx="293.5" cy="248.5" r="0.59"/><circle cx="280.3" cy="222.7" r="0.44"/><circle cx="270.1" cy="221.4" r="0.66"/><circle cx="307.3" cy="251.6" r="0.37"/><circle cx="240.1" cy="283.2" r="0.88"/><circle cx="413.7" cy="198.8" r="0.35"/><circle cx="394" cy="201.5" r="0.70"/><circle cx="221.5" cy="290" r="0.46"/><circle cx="334" cy="215.1" r="0.51"/><circle cx="274.2" cy="228.5" r="0.37"/><circle cx="373.1" cy="213.6" r="0.64"/><circle cx="277.9" cy="223" r="0.36"/><circle cx="383.9" cy="207.8" r="0.51"/><circle cx="302" cy="272" r="0.67"/><circle cx="290.5" cy="266.8" r="0.35"/><circle cx="233.2" cy="292.6" r="0.46"/><circle cx="455.6" cy="171.8" r="0.75"/><circle cx="235.2" cy="286.2" r="0.62"/><circle cx="374.3" cy="183.2" r="1.36"/><circle cx="305.3" cy="232.5" r="0.51"/><circle cx="294.1" cy="208.9" r="1.55"/><circle cx="367.9" cy="187.6" r="0.39"/><circle cx="454.4" cy="172.5" r="0.64"/><circle cx="408.8" cy="176.9" r="1.05"/><circle cx="271.6" cy="243.9" r="0.32"/><circle cx="299.1" cy="250.7" r="0.33"/><circle cx="233.3" cy="319.3" r="0.35"/><circle cx="255.3" cy="244.1" r="0.47"/><circle cx="234.6" cy="266.3" r="1.02"/><circle cx="335.2" cy="200.3" r="0.48"/><circle cx="430.7" cy="187.4" r="0.71"/><circle cx="401.6" cy="173.2" r="0.50"/><circle cx="287.7" cy="224.3" r="0.41"/><circle cx="266.6" cy="215.6" r="0.45"/><circle cx="273.2" cy="301" r="0.62"/><circle cx="346.6" cy="206.8" r="1.38"/><circle cx="268.1" cy="247.8" r="0.61"/><circle cx="373.6" cy="187.1" r="0.91"/><circle cx="300.9" cy="238.4" r="0.35"/><circle cx="287.4" cy="213.9" r="0.54"/><circle cx="249.1" cy="222.8" r="0.35"/><circle cx="298.8" cy="230.8" r="0.70"/><circle cx="432.3" cy="174.3" r="0.41"/><circle cx="425.6" cy="185.6" r="1.28"/><circle cx="451.5" cy="155.9" r="1.21"/><circle cx="315.9" cy="224.5" r="0.49"/><circle cx="343.1" cy="197.3" r="0.36"/><circle cx="290.1" cy="233.2" r="0.53"/><circle cx="403" cy="169" r="0.36"/><circle cx="341.4" cy="213.4" r="0.45"/><circle cx="352.8" cy="216.5" r="0.39"/><circle cx="415.9" cy="176.6" r="0.56"/><circle cx="274.7" cy="241.8" r="0.50"/><circle cx="238.3" cy="296.6" r="0.37"/><circle cx="265.6" cy="235.9" r="0.46"/><circle cx="359.1" cy="200.8" r="0.57"/><circle cx="229.3" cy="291.4" r="0.49"/><circle cx="261.5" cy="227.9" r="0.55"/><circle cx="296" cy="231.1" r="0.78"/><circle cx="230.4" cy="264.2" r="0.78"/><circle cx="388.2" cy="185.2" r="0.89"/><circle cx="241.1" cy="277" r="0.48"/><circle cx="296.7" cy="214.4" r="0.83"/><circle cx="353.9" cy="238.2" r="0.80"/><circle cx="208.7" cy="274.9" r="1.12"/><circle cx="415.4" cy="190.4" r="0.49"/><circle cx="364.4" cy="224.1" r="0.69"/><circle cx="304.4" cy="255.3" r="0.84"/><circle cx="310.2" cy="231.8" r="0.44"/><circle cx="379.4" cy="187.7" r="0.83"/><circle cx="296.7" cy="249.9" r="0.49"/><circle cx="398.1" cy="226.8" r="1.11"/><circle cx="281.5" cy="254.1" r="0.77"/><circle cx="337.5" cy="215.8" r="0.37"/><circle cx="270.4" cy="222.1" r="0.65"/><circle cx="394.2" cy="206.1" r="0.73"/><circle cx="229.2" cy="293.1" r="0.85"/><circle cx="264.6" cy="237.1" r="0.41"/><circle cx="278.2" cy="213.4" r="0.47"/><circle cx="269.8" cy="222.4" r="0.43"/><circle cx="411.2" cy="174.3" r="0.54"/><circle cx="285.2" cy="244.8" r="0.38"/><circle cx="399.6" cy="221.5" r="1.57"/><circle cx="255.8" cy="290.7" r="0.56"/><circle cx="337.1" cy="208" r="0.43"/><circle cx="265.4" cy="258.7" r="0.41"/><circle cx="285.1" cy="241.6" r="0.70"/><circle cx="301.8" cy="209.1" r="0.37"/><circle cx="224" cy="261" r="0.42"/><circle cx="279.1" cy="242.1" r="0.61"/><circle cx="229.3" cy="284.5" r="0.34"/><circle cx="377.7" cy="181" r="0.36"/><circle cx="249.9" cy="283.6" r="0.40"/><circle cx="288.7" cy="224" r="1.12"/><circle cx="245.3" cy="283.3" r="0.33"/><circle cx="288.7" cy="227.2" r="0.76"/><circle cx="287.4" cy="221.2" r="0.78"/><circle cx="282" cy="226.4" r="0.49"/><circle cx="303" cy="266.7" r="0.46"/><circle cx="240.8" cy="301.2" r="0.57"/><circle cx="246" cy="274.9" r="0.36"/><circle cx="335.7" cy="198.5" r="0.49"/><circle cx="304" cy="250.2" r="0.90"/><circle cx="311.9" cy="263.1" r="0.93"/><circle cx="356.6" cy="194.2" r="0.36"/><circle cx="279.8" cy="227.1" r="0.43"/><circle cx="355.8" cy="193.8" r="0.34"/><circle cx="412.3" cy="184.6" r="0.64"/><circle cx="273.1" cy="233" r="0.33"/><circle cx="280.1" cy="215" r="0.92"/><circle cx="279.1" cy="221.4" r="0.87"/><circle cx="328.7" cy="206" r="0.46"/><circle cx="258.7" cy="276.6" r="0.69"/><circle cx="234.1" cy="267" r="0.35"/><circle cx="276.1" cy="240.9" r="0.33"/><circle cx="394.2" cy="171.3" r="0.51"/><circle cx="209.8" cy="284.6" r="0.41"/><circle cx="330.6" cy="222" r="0.36"/><circle cx="370.7" cy="181.2" r="0.89"/><circle cx="364" cy="215.8" r="0.32"/><circle cx="329.6" cy="206.5" r="0.70"/><circle cx="250.6" cy="272.5" r="0.78"/><circle cx="370.6" cy="202.3" r="0.33"/><circle cx="306.2" cy="262" r="0.89"/><circle cx="329" cy="230.6" r="0.34"/><circle cx="295.4" cy="260" r="0.33"/><circle cx="289.4" cy="255.9" r="1.44"/><circle cx="396.7" cy="195.9" r="0.34"/><circle cx="296.3" cy="223.3" r="0.37"/><circle cx="306.5" cy="267.4" r="0.36"/><circle cx="353.7" cy="198.8" r="0.56"/><circle cx="319.2" cy="242.1" r="0.40"/><circle cx="294.6" cy="231.1" r="1.60"/><circle cx="313.2" cy="256.5" r="0.44"/><circle cx="293.1" cy="227.4" r="0.78"/><circle cx="299.2" cy="222.2" r="0.34"/><circle cx="325.9" cy="234.3" r="0.38"/><circle cx="265.2" cy="285" r="0.56"/><circle cx="300.6" cy="246" r="0.50"/><circle cx="394.2" cy="170" r="0.97"/><circle cx="318.4" cy="213.7" r="0.61"/><circle cx="266.5" cy="240.6" r="0.48"/><circle cx="291.8" cy="266.1" r="0.37"/><circle cx="387" cy="170.7" r="0.83"/><circle cx="271.7" cy="253.8" r="0.67"/><circle cx="378.8" cy="208.3" r="0.72"/><circle cx="407.5" cy="188.9" r="0.73"/><circle cx="357.8" cy="199.3" r="0.79"/><circle cx="374.5" cy="207.4" r="0.58"/><circle cx="297.3" cy="250.8" r="0.38"/><circle cx="254.7" cy="231.9" r="0.38"/><circle cx="277.7" cy="231.1" r="0.93"/><circle cx="238.3" cy="302.7" r="0.46"/><circle cx="221.8" cy="292.6" r="0.35"/><circle cx="245" cy="274.4" r="0.75"/><circle cx="316.2" cy="241.4" r="0.42"/><circle cx="306.6" cy="277" r="0.75"/><circle cx="283.6" cy="221.5" r="0.37"/><circle cx="304.7" cy="232.1" r="0.66"/><circle cx="271.8" cy="275.7" r="0.50"/><circle cx="271.6" cy="242" r="0.76"/><circle cx="306.3" cy="249.4" r="0.35"/><circle cx="319.4" cy="245.2" r="0.42"/><circle cx="278.7" cy="241.8" r="0.42"/><circle cx="333.7" cy="255.3" r="0.32"/><circle cx="331.1" cy="254.6" r="0.46"/><circle cx="369.3" cy="187.2" r="0.66"/><circle cx="274.7" cy="270.5" r="0.50"/><circle cx="355.9" cy="200" r="0.46"/><circle cx="255.6" cy="275.5" r="0.83"/><circle cx="345.8" cy="227.7" r="1.02"/><circle cx="304.9" cy="249.9" r="0.33"/><circle cx="379.6" cy="217.5" r="0.44"/><circle cx="353.5" cy="209.7" r="0.65"/><circle cx="264.1" cy="241.9" r="0.75"/><circle cx="259.3" cy="252.1" r="0.41"/><circle cx="322.4" cy="220.5" r="0.73"/><circle cx="271" cy="256.5" r="0.32"/><circle cx="286.8" cy="246.7" r="0.65"/><circle cx="375.3" cy="187.2" r="0.64"/><circle cx="396.8" cy="198.9" r="1.22"/><circle cx="346.9" cy="219.5" r="0.60"/><circle cx="269.3" cy="229.3" r="0.35"/><circle cx="338.6" cy="210.4" r="0.34"/><circle cx="259.8" cy="244.3" r="0.53"/><circle cx="218.8" cy="274.7" r="0.42"/><circle cx="405.3" cy="189.2" r="0.44"/><circle cx="394.6" cy="182.6" r="0.50"/><circle cx="372.4" cy="200.1" r="0.46"/><circle cx="289" cy="263" r="0.36"/><circle cx="308" cy="249.7" r="1.14"/><circle cx="331.7" cy="224.7" r="0.41"/><circle cx="278.1" cy="233.6" r="0.48"/><circle cx="224" cy="285" r="0.35"/><circle cx="361.5" cy="189.4" r="0.86"/><circle cx="277.3" cy="251.8" r="0.38"/><circle cx="404" cy="183.8" r="0.35"/><circle cx="272.7" cy="222.1" r="0.39"/><circle cx="365.7" cy="183.9" r="0.61"/><circle cx="289.1" cy="229.4" r="0.57"/><circle cx="249.5" cy="273.5" r="0.85"/><circle cx="248.6" cy="280.7" r="0.54"/><circle cx="334" cy="236.3" r="0.38"/><circle cx="433.7" cy="181.3" r="1.18"/><circle cx="318.8" cy="246.8" r="0.41"/><circle cx="260.4" cy="264.7" r="0.76"/><circle cx="405.8" cy="200.7" r="1.23"/><circle cx="393.7" cy="166.8" r="0.42"/><circle cx="379.2" cy="187.1" r="0.69"/><circle cx="280.9" cy="246.1" r="0.42"/><circle cx="288.4" cy="216.9" r="1.18"/><circle cx="259.7" cy="290.4" r="0.49"/><circle cx="250.4" cy="239.7" r="0.98"/><circle cx="295.6" cy="237.3" r="0.70"/><circle cx="347.5" cy="211.8" r="0.66"/><circle cx="269.6" cy="315.7" r="0.63"/><circle cx="292.4" cy="231.4" r="0.38"/><circle cx="372.3" cy="200.5" r="0.32"/><circle cx="260.6" cy="234.2" r="0.50"/><circle cx="276.3" cy="244.6" r="0.84"/><circle cx="226.6" cy="277.3" r="0.38"/><circle cx="226.8" cy="283.6" r="0.81"/><circle cx="370" cy="204.4" r="0.37"/><circle cx="294.2" cy="249.5" r="0.39"/><circle cx="348" cy="197" r="1.23"/><circle cx="411.1" cy="196.9" r="0.74"/><circle cx="238.6" cy="279.5" r="0.43"/><circle cx="247.6" cy="264.5" r="0.32"/><circle cx="248" cy="260" r="0.47"/><circle cx="270.4" cy="239.8" r="0.40"/><circle cx="342.4" cy="215.4" r="0.54"/><circle cx="298.8" cy="254.6" r="0.69"/><circle cx="428.3" cy="166.4" r="0.41"/><circle cx="240.8" cy="278.3" r="0.67"/><circle cx="286.7" cy="227.1" r="1.19"/><circle cx="349.6" cy="227.9" r="0.77"/><circle cx="341.2" cy="200.6" r="0.43"/><circle cx="316.4" cy="238.1" r="0.45"/><circle cx="361.1" cy="187.9" r="0.90"/><circle cx="242.8" cy="280.2" r="0.49"/><circle cx="306.1" cy="247.7" r="0.41"/><circle cx="275.1" cy="265.1" r="1.28"/><circle cx="293" cy="269.4" r="0.41"/><circle cx="388.1" cy="205.9" r="0.60"/><circle cx="400" cy="185.8" r="0.66"/><circle cx="417.1" cy="205.8" r="0.35"/><circle cx="377.8" cy="195.1" r="0.41"/><circle cx="310.7" cy="251" r="0.68"/><circle cx="313.2" cy="217.5" r="0.42"/><circle cx="247.5" cy="326.8" r="0.47"/><circle cx="419.7" cy="198" r="0.56"/><circle cx="278.5" cy="232.2" r="0.37"/><circle cx="462.7" cy="169.3" r="0.68"/><circle cx="342.4" cy="249.7" r="0.45"/><circle cx="267.7" cy="244.9" r="0.41"/><circle cx="286.8" cy="235" r="1.20"/><circle cx="271.4" cy="239.8" r="0.72"/><circle cx="247.7" cy="265.4" r="0.78"/><circle cx="427.1" cy="186" r="0.53"/><circle cx="394.3" cy="208.7" r="0.44"/><circle cx="454.8" cy="180.2" r="0.42"/><circle cx="291.7" cy="257.1" r="0.37"/><circle cx="422" cy="181.1" r="0.71"/><circle cx="290.6" cy="232.6" r="0.39"/><circle cx="395" cy="181.7" r="0.34"/><circle cx="441.8" cy="175.6" r="0.62"/><circle cx="287.7" cy="221.6" r="0.39"/><circle cx="294.5" cy="241.1" r="0.39"/><circle cx="289.8" cy="253.2" r="0.67"/><circle cx="305.5" cy="251.7" r="0.42"/><circle cx="353.1" cy="212.7" r="0.41"/><circle cx="400.8" cy="174.1" r="0.36"/><circle cx="346.8" cy="246" r="0.65"/><circle cx="305.5" cy="213.5" r="0.37"/><circle cx="382.9" cy="200.9" r="0.77"/><circle cx="275.7" cy="283" r="0.70"/><circle cx="348.9" cy="225.8" r="0.45"/><circle cx="394.6" cy="207.6" r="0.88"/><circle cx="375.7" cy="192" r="0.99"/><circle cx="416.3" cy="158.8" r="0.35"/><circle cx="395" cy="187.8" r="0.57"/><circle cx="296.5" cy="224.4" r="0.84"/><circle cx="332.7" cy="188.6" r="0.35"/><circle cx="291.5" cy="226.3" r="0.56"/><circle cx="386.7" cy="205.4" r="0.85"/><circle cx="343.2" cy="192.9" r="0.34"/><circle cx="353.7" cy="190.2" r="0.51"/><circle cx="414" cy="201" r="0.65"/><circle cx="454.8" cy="156.7" r="0.58"/><circle cx="243.9" cy="278.3" r="0.33"/><circle cx="254.6" cy="225.3" r="0.34"/><circle cx="411.6" cy="181.5" r="1.04"/><circle cx="398.5" cy="164.8" r="0.85"/><circle cx="236.6" cy="282.6" r="0.45"/><circle cx="277" cy="224.8" r="0.55"/><circle cx="278.3" cy="236.7" r="0.82"/><circle cx="293.7" cy="245.9" r="0.43"/><circle cx="277.2" cy="229.3" r="0.55"/><circle cx="273" cy="288" r="0.35"/><circle cx="278.7" cy="264.9" r="0.55"/><circle cx="328.3" cy="191.4" r="0.42"/><circle cx="266.1" cy="294.7" r="0.63"/><circle cx="411.4" cy="203.7" r="0.39"/><circle cx="240.2" cy="295.9" r="0.72"/><circle cx="400.8" cy="204.7" r="0.64"/><circle cx="311.4" cy="248.2" r="0.41"/><circle cx="379.2" cy="173.8" r="0.41"/><circle cx="403.8" cy="166" r="0.42"/><circle cx="417.3" cy="191.5" r="0.49"/><circle cx="331" cy="243.8" r="0.33"/><circle cx="280.4" cy="283.4" r="0.61"/><circle cx="347.9" cy="228.3" r="0.33"/><circle cx="281.8" cy="216.5" r="0.42"/><circle cx="280.9" cy="223" r="0.48"/><circle cx="302.2" cy="248.1" r="0.49"/><circle cx="389.6" cy="160.6" r="1.60"/><circle cx="471.2" cy="164.5" r="0.98"/><circle cx="296.5" cy="235.4" r="0.66"/><circle cx="430.1" cy="169.9" r="0.56"/><circle cx="343.7" cy="242" r="0.44"/><circle cx="358.8" cy="207.8" r="0.65"/><circle cx="299.8" cy="266.5" r="0.36"/><circle cx="351.7" cy="196.8" r="0.40"/><circle cx="248.3" cy="269.8" r="0.40"/><circle cx="415.9" cy="176.1" r="0.34"/><circle cx="396" cy="184.3" r="0.37"/><circle cx="272.1" cy="233" r="0.92"/><circle cx="273.9" cy="281.5" r="0.61"/><circle cx="337.4" cy="223.4" r="0.76"/><circle cx="282.4" cy="222.4" r="0.45"/><circle cx="221.3" cy="287" r="0.45"/><circle cx="367.4" cy="198.8" r="0.39"/><circle cx="372" cy="197.6" r="0.39"/><circle cx="289.4" cy="252.2" r="0.53"/><circle cx="349.8" cy="226.8" r="1.10"/><circle cx="281" cy="218" r="0.61"/><circle cx="455.2" cy="174.3" r="0.57"/><circle cx="309" cy="237" r="0.35"/><circle cx="322.9" cy="228.4" r="0.51"/><circle cx="272.4" cy="302.5" r="1.28"/><circle cx="270.5" cy="234" r="0.33"/><circle cx="334" cy="201" r="0.33"/><circle cx="301.1" cy="249.4" r="0.64"/><circle cx="293.9" cy="255.6" r="1.18"/><circle cx="290.9" cy="257.2" r="0.62"/><circle cx="309.8" cy="247.1" r="0.64"/><circle cx="334.1" cy="256.5" r="0.54"/><circle cx="399.6" cy="194.5" r="1.07"/><circle cx="280.7" cy="204.9" r="0.44"/><circle cx="358.1" cy="220.6" r="0.35"/><circle cx="328.5" cy="241.4" r="0.60"/><circle cx="450.8" cy="170.2" r="0.32"/><circle cx="305.9" cy="250.1" r="0.43"/><circle cx="343.8" cy="189.8" r="0.39"/><circle cx="287.4" cy="230" r="0.35"/><circle cx="293.9" cy="219.8" r="0.73"/><circle cx="258.7" cy="262.6" r="0.39"/><circle cx="314.9" cy="230.1" r="0.53"/><circle cx="281.8" cy="286" r="0.62"/><circle cx="305.2" cy="259.3" r="0.46"/><circle cx="285.3" cy="275.9" r="0.38"/><circle cx="272.8" cy="268" r="0.38"/><circle cx="237.7" cy="283.5" r="0.63"/><circle cx="256.8" cy="275.5" r="1.06"/><circle cx="245.8" cy="255.2" r="0.54"/><circle cx="298" cy="238.8" r="0.50"/><circle cx="238.2" cy="287.2" r="0.61"/><circle cx="256.5" cy="223.6" r="0.73"/><circle cx="438.7" cy="176.8" r="0.79"/><circle cx="415.9" cy="177.6" r="0.50"/><circle cx="421.1" cy="167.4" r="0.46"/><circle cx="376.6" cy="180.9" r="0.75"/><circle cx="459.9" cy="161.7" r="0.41"/><circle cx="370.9" cy="198.6" r="0.33"/><circle cx="340" cy="234.1" r="0.40"/><circle cx="276.3" cy="258.3" r="0.60"/><circle cx="285.9" cy="242.7" r="0.34"/><circle cx="280.3" cy="241" r="0.88"/><circle cx="238.2" cy="281.7" r="0.81"/><circle cx="246.7" cy="285.6" r="0.55"/><circle cx="369.2" cy="208.9" r="0.82"/><circle cx="272.6" cy="229.5" r="0.47"/><circle cx="403.8" cy="211.9" r="0.45"/><circle cx="367.8" cy="190.6" r="0.43"/><circle cx="242.9" cy="292.3" r="0.62"/><circle cx="260.6" cy="232.4" r="0.34"/><circle cx="264.6" cy="277.3" r="0.72"/><circle cx="278.9" cy="263.1" r="0.48"/><circle cx="312.9" cy="258.8" r="1.60"/><circle cx="402.8" cy="186" r="0.39"/><circle cx="339.5" cy="183.4" r="0.68"/><circle cx="282.8" cy="249.8" r="0.91"/><circle cx="370.7" cy="206" r="0.34"/><circle cx="299.9" cy="287.5" r="0.66"/><circle cx="213.5" cy="285.4" r="0.41"/><circle cx="281.1" cy="257.2" r="0.58"/><circle cx="299.3" cy="262.4" r="0.38"/><circle cx="400.5" cy="191.6" r="0.39"/><circle cx="371.8" cy="208" r="0.35"/><circle cx="363.1" cy="188.8" r="0.99"/><circle cx="363.9" cy="210.1" r="0.41"/><circle cx="366.5" cy="196.2" r="1.12"/><circle cx="349.6" cy="237.3" r="0.80"/><circle cx="444.1" cy="154" r="0.66"/><circle cx="373.8" cy="199.2" r="0.68"/><circle cx="475.6" cy="180.3" r="0.76"/><circle cx="276.9" cy="255.9" r="0.47"/><circle cx="372.5" cy="181.3" r="0.36"/><circle cx="382.4" cy="211.5" r="0.69"/><circle cx="267.3" cy="256.7" r="0.53"/><circle cx="400.4" cy="189.8" r="0.34"/><circle cx="278.3" cy="225.6" r="0.43"/><circle cx="271.6" cy="293.5" r="0.96"/><circle cx="444.2" cy="162" r="0.52"/><circle cx="409.2" cy="206.8" r="0.64"/><circle cx="280.5" cy="303.2" r="0.61"/><circle cx="310.2" cy="230.6" r="1.04"/><circle cx="411.7" cy="181.5" r="0.94"/><circle cx="305" cy="242.8" r="0.36"/><circle cx="218.3" cy="299.6" r="1.19"/><circle cx="270.5" cy="230.5" r="0.52"/><circle cx="344.3" cy="217.3" r="0.35"/><circle cx="288" cy="221.8" r="0.43"/><circle cx="326.9" cy="208.4" r="0.83"/><circle cx="289.4" cy="250.6" r="0.67"/><circle cx="285.8" cy="238.3" r="0.46"/><circle cx="365.8" cy="209.3" r="0.34"/><circle cx="261.7" cy="242.6" r="0.65"/><circle cx="282.3" cy="264.3" r="0.57"/><circle cx="268.3" cy="240.8" r="0.36"/><circle cx="275.2" cy="226.5" r="0.40"/><circle cx="400.1" cy="184" r="0.93"/><circle cx="259.4" cy="257.8" r="0.56"/><circle cx="326.9" cy="229.2" r="1.08"/><circle cx="444.8" cy="182.9" r="0.51"/><circle cx="267.2" cy="278.2" r="1.01"/><circle cx="319.8" cy="242.4" r="0.33"/><circle cx="316.1" cy="248.7" r="0.73"/><circle cx="314.8" cy="219.6" r="0.39"/><circle cx="332" cy="262" r="0.58"/><circle cx="281.2" cy="222.8" r="0.38"/><circle cx="256.2" cy="278.8" r="0.62"/><circle cx="261.7" cy="242.1" r="1.06"/><circle cx="376.7" cy="191.3" r="0.62"/><circle cx="319.9" cy="246.7" r="0.33"/><circle cx="257.5" cy="292.6" r="0.56"/><circle cx="261.2" cy="227.1" r="0.33"/><circle cx="289.5" cy="255.7" r="0.63"/><circle cx="408.1" cy="191.7" r="0.40"/><circle cx="282.8" cy="236.7" r="0.55"/><circle cx="335.4" cy="250.5" r="0.79"/><circle cx="326.8" cy="226.9" r="0.48"/><circle cx="387.3" cy="196" r="0.75"/><circle cx="440.2" cy="142.9" r="0.49"/><circle cx="223.2" cy="267.2" r="0.71"/><circle cx="388.7" cy="192.7" r="1.43"/><circle cx="412.1" cy="171.2" r="0.34"/><circle cx="265.9" cy="224.8" r="0.52"/><circle cx="311.1" cy="235" r="0.53"/><circle cx="257.9" cy="244.9" r="0.53"/><circle cx="252.2" cy="281.6" r="0.37"/><circle cx="266.9" cy="280.6" r="0.38"/><circle cx="268.7" cy="239.6" r="0.43"/><circle cx="282.1" cy="223.7" r="0.40"/><circle cx="238" cy="275.3" r="1.27"/><circle cx="225.6" cy="271.2" r="0.93"/><circle cx="266.2" cy="231.2" r="0.49"/><circle cx="368.5" cy="202.8" r="0.56"/><circle cx="365.9" cy="195.4" r="0.64"/><circle cx="292.9" cy="231" r="0.38"/><circle cx="233.7" cy="273" r="0.64"/><circle cx="438.2" cy="155.3" r="0.40"/><circle cx="451.8" cy="155" r="0.85"/><circle cx="438.4" cy="200.5" r="0.87"/><circle cx="396.1" cy="206.7" r="0.40"/><circle cx="274.9" cy="255.9" r="0.42"/><circle cx="290.1" cy="236.8" r="1.09"/><circle cx="222.9" cy="289.1" r="0.45"/><circle cx="278.8" cy="288.7" r="0.84"/><circle cx="339.9" cy="236.3" r="0.35"/><circle cx="406.3" cy="203.5" r="0.33"/><circle cx="306.6" cy="246.7" r="0.79"/><circle cx="246.8" cy="284.6" r="0.53"/><circle cx="270.5" cy="239.4" r="0.37"/><circle cx="436.5" cy="179.7" r="0.64"/><circle cx="299.1" cy="221.8" r="0.55"/><circle cx="240.7" cy="283.2" r="0.44"/><circle cx="396.9" cy="180.1" r="0.58"/><circle cx="282" cy="282.4" r="1.19"/><circle cx="266.5" cy="238.9" r="0.83"/><circle cx="444.3" cy="181.4" r="0.61"/><circle cx="290.2" cy="224.3" r="0.53"/><circle cx="304.5" cy="251" r="0.46"/><circle cx="229.5" cy="283.6" r="1.46"/><circle cx="377.4" cy="211.7" r="0.39"/><circle cx="410.9" cy="166.3" r="0.37"/><circle cx="257.1" cy="283.7" r="0.83"/><circle cx="449.1" cy="189.8" r="1.60"/><circle cx="397.7" cy="197" r="0.40"/><circle cx="368.6" cy="211.1" r="0.65"/><circle cx="258" cy="227.9" r="0.44"/><circle cx="284.9" cy="274" r="0.35"/><circle cx="263.6" cy="230.8" r="0.63"/><circle cx="298.5" cy="282.3" r="0.51"/><circle cx="350.8" cy="218" r="0.78"/><circle cx="306.6" cy="242.1" r="0.46"/><circle cx="280.8" cy="245.1" r="1.25"/><circle cx="288.1" cy="225.8" r="0.40"/><circle cx="307.4" cy="246.5" r="0.50"/><circle cx="406.2" cy="186.7" r="1.27"/><circle cx="301.9" cy="250.8" r="0.42"/><circle cx="403.1" cy="182.1" r="0.40"/><circle cx="278" cy="231.9" r="0.73"/><circle cx="261.3" cy="238.2" r="0.34"/><circle cx="278.6" cy="265.2" r="1.18"/><circle cx="379.9" cy="191.1" r="0.47"/><circle cx="359.8" cy="222.3" r="1.60"/><circle cx="236" cy="283.7" r="1.12"/><circle cx="427.4" cy="173.9" r="0.48"/><circle cx="241.9" cy="274.2" r="0.34"/><circle cx="419.5" cy="162.9" r="0.35"/><circle cx="404.6" cy="180.2" r="0.54"/><circle cx="277.6" cy="253.3" r="0.44"/><circle cx="390.7" cy="174.5" r="0.38"/><circle cx="394.2" cy="197.5" r="0.44"/><circle cx="235.5" cy="290" r="0.41"/><circle cx="259.5" cy="207" r="0.57"/><circle cx="349.3" cy="197.6" r="0.51"/><circle cx="238.4" cy="254.3" r="1.19"/><circle cx="360" cy="188.9" r="0.52"/><circle cx="227.1" cy="293.6" r="1.57"/><circle cx="261" cy="246.9" r="0.78"/><circle cx="383.6" cy="207.4" r="0.50"/><circle cx="437.4" cy="162.1" r="0.43"/><circle cx="330.6" cy="231.6" r="0.81"/><circle cx="282.8" cy="264.4" r="0.33"/><circle cx="373.4" cy="203" r="0.39"/><circle cx="210.7" cy="284.6" r="0.34"/><circle cx="227.6" cy="240.9" r="0.34"/><circle cx="242.2" cy="302.1" r="0.92"/><circle cx="260.3" cy="286.4" r="0.43"/><circle cx="308.3" cy="284.4" r="0.63"/><circle cx="249.9" cy="304.7" r="0.35"/><circle cx="431.7" cy="185.8" r="0.34"/><circle cx="267.3" cy="238.3" r="0.85"/><circle cx="433.7" cy="192.5" r="1.09"/><circle cx="238.3" cy="287.9" r="0.56"/><circle cx="381.4" cy="180.2" r="1.34"/><circle cx="292.7" cy="207.8" r="0.37"/><circle cx="263.6" cy="282" r="0.91"/><circle cx="315.6" cy="248.5" r="0.42"/><circle cx="379.6" cy="162.1" r="0.44"/><circle cx="391.2" cy="188" r="0.39"/><circle cx="375.4" cy="212.1" r="0.39"/><circle cx="297.3" cy="221.6" r="0.52"/><circle cx="283.8" cy="235" r="0.62"/><circle cx="249.9" cy="293.3" r="0.57"/><circle cx="272.7" cy="248.6" r="0.33"/><circle cx="292.2" cy="274.9" r="0.33"/><circle cx="325.4" cy="216.6" r="0.88"/><circle cx="229.6" cy="280.5" r="0.42"/><circle cx="288.9" cy="298.9" r="0.94"/><circle cx="311.2" cy="230.7" r="0.38"/><circle cx="288.5" cy="249.3" r="0.60"/><circle cx="368.8" cy="206.4" r="0.49"/><circle cx="282.7" cy="236.4" r="0.81"/><circle cx="271" cy="284.5" r="0.33"/><circle cx="279.9" cy="267.3" r="0.36"/><circle cx="227.5" cy="250.6" r="0.57"/><circle cx="244.7" cy="289.1" r="1.34"/><circle cx="372.3" cy="189.3" r="0.61"/><circle cx="297.9" cy="227.3" r="0.46"/><circle cx="268.5" cy="273.1" r="1.19"/><circle cx="346" cy="228.3" r="0.33"/><circle cx="427.1" cy="184.2" r="0.35"/><circle cx="326.7" cy="251.4" r="0.47"/><circle cx="330" cy="262" r="0.59"/><circle cx="377.8" cy="187.4" r="0.43"/><circle cx="275.9" cy="226.6" r="0.70"/><circle cx="235.4" cy="246.9" r="0.54"/><circle cx="283.4" cy="288.1" r="0.77"/><circle cx="413" cy="191.8" r="0.38"/><circle cx="369.4" cy="183.9" r="0.41"/><circle cx="360.1" cy="235.6" r="0.39"/><circle cx="265.5" cy="235.4" r="0.44"/><circle cx="376.8" cy="206.8" r="1.24"/><circle cx="388.5" cy="216.4" r="0.48"/><circle cx="264.6" cy="219.8" r="0.42"/><circle cx="335.4" cy="221.3" r="1.26"/><circle cx="388.5" cy="190.4" r="1.34"/><circle cx="386.7" cy="170.8" r="0.36"/><circle cx="274.1" cy="225.8" r="0.45"/><circle cx="237.2" cy="271.9" r="0.72"/><circle cx="272.6" cy="221.9" r="0.92"/><circle cx="341.8" cy="208.6" r="0.38"/><circle cx="307.4" cy="265.5" r="1.05"/><circle cx="235.4" cy="280.6" r="0.60"/><circle cx="283.6" cy="228" r="0.64"/><circle cx="429.3" cy="165.6" r="1.04"/><circle cx="285.5" cy="233.2" r="0.46"/><circle cx="290" cy="229.9" r="0.62"/><circle cx="253.4" cy="247.2" r="0.33"/><circle cx="271.4" cy="235.4" r="0.63"/><circle cx="289.3" cy="242.6" r="0.38"/><circle cx="294.7" cy="264" r="0.77"/><circle cx="305.6" cy="253.7" r="0.79"/><circle cx="312.3" cy="224.8" r="0.46"/><circle cx="310.7" cy="247.7" r="0.33"/><circle cx="281.1" cy="247.9" r="0.40"/><circle cx="321.3" cy="230.6" r="0.73"/><circle cx="319.7" cy="270.2" r="1.63"/><circle cx="299.4" cy="256.2" r="1.38"/><circle cx="335.1" cy="222.6" r="0.62"/><circle cx="248.1" cy="271.3" r="0.64"/><circle cx="343" cy="206.1" r="0.86"/><circle cx="307.3" cy="248.3" r="1.91"/><circle cx="320.4" cy="231.8" r="0.51"/><circle cx="300.3" cy="255.8" r="0.69"/><circle cx="305.9" cy="243.4" r="1.07"/><circle cx="293.6" cy="247.5" r="1.43"/><circle cx="282.5" cy="274.2" r="1.15"/><circle cx="286.2" cy="248.9" r="2.57"/><circle cx="286.3" cy="276.1" r="1.00"/><circle cx="248.3" cy="267.7" r="0.98"/><circle cx="294.8" cy="238.1" r="0.73"/><circle cx="291.9" cy="268.6" r="1.70"/><circle cx="244" cy="273.6" r="0.35"/><circle cx="309.7" cy="240.3" r="1.70"/><circle cx="334.9" cy="228.9" r="0.46"/><circle cx="316.1" cy="230.3" r="0.90"/><circle cx="282.7" cy="271.1" r="0.66"/><circle cx="290.8" cy="271.3" r="0.94"/><circle cx="362.6" cy="204" r="0.87"/><circle cx="343.4" cy="229.7" r="0.54"/><circle cx="290.8" cy="275.2" r="0.94"/><circle cx="292.2" cy="251.4" r="1.20"/><circle cx="303.4" cy="234.1" r="1.60"/><circle cx="249.7" cy="269" r="0.71"/><circle cx="297.8" cy="273.9" r="0.55"/><circle cx="342.4" cy="214.3" r="1.54"/><circle cx="287.7" cy="269.9" r="0.72"/><circle cx="294.9" cy="266.9" r="0.47"/><circle cx="344.8" cy="222.9" r="0.84"/><circle cx="302" cy="234.5" r="0.42"/><circle cx="304.1" cy="276.1" r="0.87"/><circle cx="295.1" cy="255.5" r="0.48"/><circle cx="295.9" cy="263" r="3.00"/><circle cx="283.1" cy="276.3" r="0.48"/><circle cx="284.9" cy="255.1" r="0.53"/><circle cx="349.9" cy="225.7" r="1.02"/><circle cx="313.9" cy="274.5" r="1.65"/><circle cx="318.6" cy="221.8" r="0.37"/><circle cx="303" cy="256.4" r="0.33"/><circle cx="295.6" cy="245.6" r="0.37"/><circle cx="294.3" cy="259" r="1.13"/><circle cx="339.9" cy="210.3" r="0.43"/><circle cx="284.9" cy="272.2" r="1.27"/><circle cx="364.6" cy="207" r="0.72"/><circle cx="246.1" cy="268.7" r="0.42"/><circle cx="283.6" cy="275.1" r="0.54"/><circle cx="284.7" cy="279.8" r="0.66"/><circle cx="302.3" cy="240.1" r="0.45"/><circle cx="337.7" cy="217.2" r="0.92"/><circle cx="301.4" cy="262" r="0.42"/><circle cx="309.4" cy="255.3" r="0.88"/><circle cx="299.2" cy="246" r="0.43"/><circle cx="305.9" cy="240" r="1.53"/><circle cx="307.7" cy="259.4" r="0.76"/><circle cx="305.9" cy="274.6" r="0.55"/><circle cx="314.4" cy="250.5" r="0.94"/><circle cx="314.3" cy="234.8" r="0.73"/><circle cx="326.4" cy="242.7" r="0.63"/><circle cx="304" cy="274.3" r="1.08"/><circle cx="322.6" cy="246.2" r="1.32"/><circle cx="351.2" cy="217.7" r="0.37"/><circle cx="291.3" cy="258.5" r="1.30"/><circle cx="300.7" cy="246.4" r="0.36"/><circle cx="332.4" cy="227.6" r="0.33"/><circle cx="283.7" cy="270.4" r="1.79"/><circle cx="295.5" cy="240.7" r="1.16"/><circle cx="302.5" cy="244.9" r="0.78"/><circle cx="302" cy="239.9" r="0.57"/><circle cx="300" cy="237.1" r="0.35"/><circle cx="306.1" cy="241.8" r="0.49"/><circle cx="287.5" cy="246.7" r="1.72"/><circle cx="292.3" cy="261.6" r="0.42"/><circle cx="333.1" cy="217.1" r="0.72"/><circle cx="302.7" cy="255.3" r="0.39"/><circle cx="287.6" cy="259" r="0.51"/><circle cx="322.9" cy="230.7" r="0.40"/><circle cx="303.8" cy="265.9" r="0.85"/><circle cx="295" cy="255.9" r="0.45"/><circle cx="305.5" cy="248.3" r="0.34"/><circle cx="307.8" cy="265" r="1.60"/><circle cx="319.1" cy="227.2" r="0.62"/><circle cx="306.3" cy="259.1" r="1.09"/><circle cx="302.7" cy="253.8" r="2.09"/><circle cx="340.2" cy="235.2" r="0.41"/><circle cx="284.9" cy="271" r="0.47"/><circle cx="250.2" cy="265" r="0.66"/><circle cx="335.4" cy="216.8" r="0.42"/><circle cx="288.8" cy="244.2" r="0.44"/><circle cx="297.2" cy="245.5" r="0.57"/><circle cx="341.4" cy="210.5" r="1.37"/><circle cx="342.6" cy="210" r="0.54"/><circle cx="289.3" cy="285.2" r="0.44"/><circle cx="290.1" cy="231.6" r="0.93"/><circle cx="322" cy="271.5" r="0.61"/><circle cx="296.6" cy="279.6" r="1.05"/><circle cx="299.1" cy="260.5" r="1.36"/><circle cx="358.9" cy="218.7" r="0.81"/><circle cx="327.6" cy="228.1" r="1.38"/><circle cx="296.1" cy="256.7" r="0.81"/><circle cx="285.7" cy="278.2" r="0.56"/><circle cx="308.8" cy="239.9" r="0.67"/><circle cx="300.4" cy="241" r="0.63"/><circle cx="245.4" cy="270.6" r="0.58"/><circle cx="320.9" cy="233.8" r="0.34"/><circle cx="311.9" cy="229.7" r="0.40"/><circle cx="290" cy="249.4" r="0.36"/><circle cx="285.5" cy="268.7" r="0.79"/><circle cx="336.2" cy="209.4" r="1.23"/><circle cx="342.5" cy="220.5" r="0.37"/><circle cx="302.8" cy="250.7" r="0.43"/><circle cx="319.7" cy="239" r="0.54"/><circle cx="307.3" cy="229.6" r="1.29"/><circle cx="332.4" cy="226.9" r="1.35"/><circle cx="297.2" cy="234.9" r="0.48"/><circle cx="302.6" cy="237.4" r="0.35"/><circle cx="290.4" cy="285.8" r="0.54"/><circle cx="288.3" cy="281.5" r="0.38"/><circle cx="315.6" cy="229.6" r="1.51"/><circle cx="326" cy="228.4" r="0.58"/><circle cx="255.7" cy="266.4" r="0.54"/><circle cx="285.2" cy="284" r="1.75"/><circle cx="298.3" cy="264.3" r="0.46"/><circle cx="347.8" cy="217.9" r="1.32"/><circle cx="343.2" cy="212.1" r="0.40"/><circle cx="289.4" cy="276" r="0.90"/><circle cx="340.1" cy="214.1" r="0.74"/><circle cx="311.5" cy="232.1" r="0.96"/><circle cx="294.2" cy="268.3" r="0.73"/><circle cx="310.8" cy="234.3" r="0.49"/><circle cx="307.4" cy="255.5" r="0.71"/><circle cx="298.1" cy="256.9" r="0.90"/><circle cx="307" cy="256.9" r="0.73"/><circle cx="293.9" cy="246.5" r="0.34"/><circle cx="347.5" cy="225.3" r="0.35"/><circle cx="296.3" cy="246.6" r="0.90"/><circle cx="354.2" cy="216.9" r="0.51"/><circle cx="313" cy="249.7" r="1.29"/><circle cx="291.3" cy="244.4" r="0.94"/><circle cx="331.5" cy="220.9" r="1.48"/><circle cx="290.2" cy="260.1" r="1.17"/><circle cx="288.5" cy="250.5" r="1.09"/><circle cx="321.7" cy="232.5" r="0.47"/><circle cx="288.4" cy="266.7" r="1.00"/><circle cx="320.1" cy="240.8" r="0.37"/><circle cx="325.7" cy="247.6" r="0.65"/><circle cx="339.4" cy="217.5" r="1.16"/><circle cx="319.1" cy="263.9" r="0.64"/><circle cx="297.7" cy="247.1" r="0.65"/><circle cx="368.4" cy="201" r="0.48"/><circle cx="332.6" cy="215.3" r="1.26"/><circle cx="355.1" cy="208.8" r="0.35"/><circle cx="353.4" cy="204.3" r="0.40"/><circle cx="308.2" cy="244.6" r="0.54"/><circle cx="296.1" cy="256.4" r="0.36"/><circle cx="290.8" cy="270.1" r="0.56"/><circle cx="305.7" cy="256" r="1.90"/><circle cx="249" cy="270.7" r="1.21"/><circle cx="344.9" cy="223" r="1.24"/><circle cx="318.8" cy="226.7" r="0.35"/><circle cx="324.3" cy="220.8" r="0.64"/><circle cx="295.7" cy="242.8" r="1.95"/><circle cx="309" cy="227.1" r="1.44"/><circle cx="284" cy="242.6" r="0.80"/><circle cx="314.2" cy="277.5" r="0.61"/><circle cx="319.8" cy="217.6" r="0.71"/><circle cx="280.8" cy="236.6" r="1.12"/><circle cx="287.1" cy="240.4" r="1.75"/><circle cx="284.6" cy="252" r="0.46"/><circle cx="307.9" cy="233.1" r="0.52"/><circle cx="320.8" cy="233.4" r="0.55"/><circle cx="377.6" cy="208.5" r="1.05"/><circle cx="248.8" cy="267.4" r="0.72"/><circle cx="292.1" cy="257.8" r="0.35"/><circle cx="317.6" cy="244.4" r="0.48"/><circle cx="286" cy="260" r="0.71"/><circle cx="320.6" cy="252.8" r="0.55"/><circle cx="328.4" cy="221.6" r="0.61"/><circle cx="318.5" cy="226.7" r="1.05"/><circle cx="290" cy="248.3" r="0.72"/><circle cx="297.4" cy="271.7" r="1.82"/><circle cx="290.7" cy="263.2" r="0.46"/><circle cx="290.4" cy="266.5" r="2.34"/><circle cx="299.4" cy="242.8" r="0.50"/><circle cx="309" cy="228.6" r="0.42"/><circle cx="308" cy="234.5" r="1.33"/><circle cx="320.1" cy="229.8" r="0.48"/><circle cx="319.8" cy="226.9" r="0.59"/><circle cx="368.5" cy="192.2" r="0.49"/><circle cx="286.5" cy="252.6" r="0.69"/><circle cx="297.7" cy="255.3" r="0.71"/><circle cx="290.6" cy="242" r="0.40"/><circle cx="310.4" cy="241.3" r="0.63"/><circle cx="308.5" cy="227" r="0.38"/><circle cx="249.3" cy="263.2" r="1.00"/><circle cx="300.2" cy="245" r="0.78"/><circle cx="279.4" cy="274" r="0.39"/><circle cx="319.3" cy="232.5" r="1.04"/><circle cx="299" cy="246.7" r="0.49"/><circle cx="314.9" cy="275.8" r="0.38"/><circle cx="325.1" cy="234.7" r="0.81"/><circle cx="286.4" cy="261.8" r="0.54"/><circle cx="299.8" cy="238.4" r="0.39"/><circle cx="309.2" cy="237.2" r="0.75"/><circle cx="249" cy="268.5" r="0.50"/><circle cx="283.2" cy="262.5" r="0.51"/><circle cx="303.2" cy="266.2" r="0.58"/><circle cx="306.1" cy="270" r="0.44"/><circle cx="343.8" cy="214.6" r="0.73"/><circle cx="316.4" cy="246.7" r="0.72"/><circle cx="283.8" cy="270.5" r="0.55"/><circle cx="299.9" cy="264.4" r="0.46"/><circle cx="342.4" cy="225.4" r="0.37"/><circle cx="300" cy="242.5" r="0.63"/><circle cx="283.1" cy="257.2" r="1.76"/><circle cx="353.2" cy="199.4" r="0.50"/><circle cx="327.1" cy="248.5" r="0.75"/><circle cx="306" cy="275.7" r="0.86"/><circle cx="315.6" cy="232.3" r="0.78"/><circle cx="295.1" cy="252.8" r="0.40"/><circle cx="340.4" cy="217.2" r="0.46"/><circle cx="308.2" cy="252.4" r="0.63"/><circle cx="327.7" cy="236.2" r="0.57"/><circle cx="312.3" cy="258.2" r="1.06"/><circle cx="303.4" cy="249.4" r="1.73"/><circle cx="286.9" cy="263" r="0.45"/><circle cx="338.1" cy="234.5" r="0.36"/><circle cx="286.9" cy="285.9" r="1.68"/><circle cx="320.2" cy="250.6" r="0.36"/><circle cx="319.7" cy="249.5" r="0.83"/><circle cx="303.6" cy="240.2" r="2.19"/><circle cx="327.3" cy="242.2" r="0.93"/><circle cx="343.2" cy="228.3" r="0.44"/><circle cx="293.1" cy="268.2" r="0.68"/><circle cx="289" cy="256.6" r="0.67"/><circle cx="335.6" cy="211.2" r="1.25"/><circle cx="294.6" cy="265.7" r="0.37"/><circle cx="315.3" cy="247.6" r="0.34"/><circle cx="292.6" cy="268" r="0.85"/><circle cx="300.6" cy="252.5" r="0.46"/><circle cx="288.9" cy="246.6" r="0.62"/><circle cx="320.2" cy="232.7" r="0.76"/><circle cx="309" cy="248.8" r="0.79"/><circle cx="299.3" cy="234.9" r="0.41"/><circle cx="300.8" cy="272.1" r="1.32"/><circle cx="332.6" cy="227.9" r="0.56"/><circle cx="293.5" cy="252" r="1.37"/><circle cx="299.2" cy="252.9" r="1.04"/><circle cx="308" cy="265.5" r="0.45"/><circle cx="286.4" cy="264.8" r="0.42"/><circle cx="306.4" cy="275.3" r="1.81"/><circle cx="307.5" cy="257.8" r="0.61"/><circle cx="296.9" cy="255.8" r="0.88"/><circle cx="312.9" cy="265.5" r="0.76"/><circle cx="291.6" cy="263.7" r="0.57"/><circle cx="246.9" cy="269.7" r="0.74"/><circle cx="287.7" cy="246.4" r="0.54"/><circle cx="289" cy="252" r="0.65"/><circle cx="298.1" cy="260.1" r="1.03"/><circle cx="320.5" cy="231" r="1.60"/><circle cx="347.2" cy="212" r="0.38"/><circle cx="300.5" cy="246.7" r="0.37"/><circle cx="293.4" cy="256.5" r="0.47"/><circle cx="301.5" cy="253.8" r="0.65"/><circle cx="241.9" cy="268.6" r="0.47"/><circle cx="299.9" cy="248.6" r="0.75"/><circle cx="305.7" cy="250.1" r="0.55"/><circle cx="314.2" cy="249.9" r="1.47"/><circle cx="312.5" cy="255.1" r="0.95"/><circle cx="303.1" cy="247.6" r="0.67"/><circle cx="295.9" cy="246.9" r="1.53"/><circle cx="292.3" cy="250.4" r="0.36"/><circle cx="307.1" cy="233.5" r="1.61"/><circle cx="290.4" cy="269.2" r="0.79"/><circle cx="307.8" cy="241.4" r="1.73"/><circle cx="298.5" cy="269.9" r="0.85"/><circle cx="293.8" cy="249.1" r="1.67"/><circle cx="323.6" cy="239.2" r="0.90"/><circle cx="312.9" cy="228.5" r="0.51"/><circle cx="277.1" cy="262.4" r="0.50"/><circle cx="286.7" cy="264" r="1.08"/><circle cx="319.8" cy="230.8" r="0.79"/><circle cx="287.6" cy="256.1" r="0.68"/><circle cx="317.4" cy="243.9" r="0.46"/><circle cx="285.8" cy="254.1" r="0.34"/><circle cx="303.9" cy="249.3" r="0.43"/><circle cx="303.4" cy="246.6" r="0.43"/><circle cx="305.9" cy="291.8" r="1.45"/><circle cx="319.6" cy="243.7" r="0.74"/><circle cx="319.2" cy="235.2" r="0.48"/><circle cx="299.1" cy="240.6" r="0.40"/><circle cx="313.4" cy="230" r="0.42"/><circle cx="293.6" cy="247.9" r="0.52"/><circle cx="303.3" cy="254.3" r="0.61"/><circle cx="300.3" cy="285.8" r="0.50"/><circle cx="320.1" cy="235.3" r="0.68"/><circle cx="325.4" cy="224.6" r="0.63"/><circle cx="334.9" cy="237.9" r="0.64"/><circle cx="297.8" cy="246.8" r="0.56"/><circle cx="328.4" cy="242.8" r="0.73"/><circle cx="241.7" cy="265.2" r="0.92"/><circle cx="293.9" cy="233.9" r="0.49"/><circle cx="314.9" cy="268.9" r="0.70"/><circle cx="338.2" cy="236.5" r="1.50"/><circle cx="295.2" cy="261.6" r="1.30"/><circle cx="310.9" cy="262.9" r="1.47"/><circle cx="317.9" cy="233.5" r="0.53"/><circle cx="284" cy="264" r="1.67"/><circle cx="317.6" cy="242.5" r="0.96"/><circle cx="296.1" cy="246" r="0.53"/><circle cx="304.4" cy="253.6" r="0.55"/><circle cx="327.8" cy="233.8" r="0.84"/><circle cx="317.6" cy="235.5" r="0.71"/><circle cx="350.2" cy="219" r="0.40"/><circle cx="310.6" cy="226.2" r="0.80"/><circle cx="289.3" cy="249.8" r="0.41"/><circle cx="291.3" cy="261.4" r="0.37"/><circle cx="304.7" cy="255.3" r="1.65"/><circle cx="306.7" cy="249.6" r="1.42"/><circle cx="311.7" cy="262.8" r="0.37"/><circle cx="325" cy="236.6" r="1.06"/><circle cx="304.4" cy="236.5" r="0.52"/><circle cx="342.6" cy="219.6" r="0.84"/><circle cx="311.3" cy="249.3" r="0.42"/><circle cx="342.9" cy="220.9" r="1.23"/><circle cx="294.5" cy="225.2" r="0.43"/><circle cx="255" cy="273.4" r="0.65"/><circle cx="312.3" cy="264.1" r="3.00"/><circle cx="301.6" cy="275.3" r="2.81"/><circle cx="291.5" cy="271.7" r="0.76"/><circle cx="308.7" cy="251.2" r="1.14"/><circle cx="299.3" cy="255" r="1.64"/><circle cx="346.8" cy="214.3" r="0.55"/><circle cx="304.5" cy="255.3" r="0.34"/><circle cx="291.8" cy="266.1" r="0.78"/><circle cx="279.4" cy="273.1" r="1.38"/><circle cx="307" cy="238.1" r="0.40"/><circle cx="293.1" cy="261.4" r="0.66"/><circle cx="308.7" cy="255.6" r="0.91"/><circle cx="296.7" cy="236.7" r="0.37"/><circle cx="334.1" cy="203.6" r="0.49"/><circle cx="304.4" cy="242.3" r="0.36"/><circle cx="290" cy="255.4" r="0.34"/><circle cx="286.7" cy="253.8" r="0.47"/><circle cx="288.1" cy="259.9" r="0.54"/><circle cx="295.2" cy="257" r="0.61"/><circle cx="294.4" cy="267.1" r="0.71"/><circle cx="294" cy="247.5" r="0.64"/><circle cx="289.9" cy="255.3" r="0.38"/><circle cx="321.2" cy="237.6" r="0.39"/><circle cx="291.7" cy="250" r="0.59"/><circle cx="239.7" cy="269" r="0.69"/><circle cx="305.7" cy="259.2" r="2.66"/><circle cx="300.7" cy="258.9" r="0.56"/><circle cx="348.3" cy="224" r="0.61"/><circle cx="315" cy="241.3" r="1.26"/><circle cx="313.8" cy="243.9" r="0.83"/><circle cx="296.4" cy="248.8" r="0.89"/><circle cx="349" cy="194.4" r="0.40"/><circle cx="319.4" cy="217.3" r="0.64"/><circle cx="291.6" cy="252.1" r="0.58"/><circle cx="294.3" cy="238.7" r="0.41"/><circle cx="306.9" cy="242.6" r="0.77"/><circle cx="301.7" cy="237.9" r="0.58"/><circle cx="341.5" cy="224" r="0.42"/><circle cx="298.7" cy="243.9" r="0.69"/><circle cx="301.7" cy="245.6" r="0.37"/><circle cx="290" cy="240.7" r="0.42"/><circle cx="292.3" cy="242.1" r="1.20"/><circle cx="305.9" cy="254.7" r="0.89"/><circle cx="299.7" cy="236.2" r="0.54"/><circle cx="306.9" cy="244.5" r="1.44"/><circle cx="300.3" cy="235" r="0.33"/><circle cx="326.2" cy="259.3" r="0.85"/><circle cx="310.3" cy="237.8" r="0.41"/><circle cx="319.9" cy="234.8" r="0.47"/><circle cx="296.4" cy="280.3" r="0.38"/><circle cx="319.4" cy="245.7" r="0.85"/><circle cx="310.7" cy="245.9" r="0.42"/><circle cx="367.1" cy="192.7" r="2.01"/><circle cx="243.5" cy="270.1" r="1.58"/><circle cx="306.6" cy="231.3" r="0.33"/><circle cx="309.2" cy="236.1" r="0.36"/><circle cx="313.4" cy="236.9" r="1.19"/><circle cx="259.1" cy="268.3" r="2.07"/><circle cx="364.5" cy="193.2" r="0.58"/><circle cx="291.6" cy="255.4" r="0.48"/><circle cx="330.1" cy="213.3" r="0.45"/><circle cx="336.8" cy="220" r="0.68"/><circle cx="294.2" cy="280.2" r="0.58"/><circle cx="294.4" cy="272.3" r="0.94"/><circle cx="302.3" cy="273.7" r="0.65"/><circle cx="298.7" cy="257.3" r="0.42"/><circle cx="291.9" cy="254.7" r="1.00"/><circle cx="314.7" cy="259.7" r="0.47"/><circle cx="308.7" cy="253.1" r="0.34"/><circle cx="316.5" cy="261.8" r="0.39"/><circle cx="307.8" cy="242" r="0.93"/><circle cx="298.9" cy="241.7" r="0.70"/><circle cx="293.7" cy="269.3" r="0.47"/><circle cx="327.1" cy="241.6" r="1.12"/><circle cx="352.2" cy="206.6" r="0.85"/><circle cx="314.7" cy="264.6" r="1.52"/><circle cx="286.1" cy="271.4" r="0.64"/><circle cx="327.6" cy="211.5" r="1.87"/><circle cx="370.2" cy="194.7" r="1.81"/><circle cx="295.3" cy="247" r="1.29"/><circle cx="330.9" cy="221.9" r="0.83"/><circle cx="335.2" cy="218.9" r="1.67"/><circle cx="302.7" cy="248.3" r="0.67"/><circle cx="306.8" cy="245.5" r="0.46"/><circle cx="314" cy="248.7" r="1.76"/><circle cx="302" cy="241.1" r="1.34"/><circle cx="356.7" cy="209.4" r="0.56"/><circle cx="354.4" cy="205.8" r="0.36"/><circle cx="294.9" cy="287.2" r="0.53"/><circle cx="295.8" cy="264" r="0.74"/><circle cx="345.5" cy="223.7" r="0.61"/><circle cx="289.6" cy="263.2" r="0.74"/><circle cx="252.4" cy="269.5" r="0.47"/><circle cx="307.3" cy="264.6" r="0.44"/><circle cx="308.6" cy="244.5" r="0.54"/><circle cx="304.9" cy="256.2" r="2.43"/><circle cx="302.1" cy="230.2" r="1.85"/><circle cx="302.8" cy="243.4" r="0.67"/><circle cx="301.7" cy="236.8" r="0.74"/><circle cx="278.6" cy="265.4" r="0.53"/><circle cx="310.1" cy="275.1" r="0.63"/><circle cx="299.2" cy="254.1" r="1.77"/><circle cx="341.8" cy="227.6" r="0.77"/><circle cx="338.5" cy="213.1" r="0.73"/><circle cx="304.3" cy="252.2" r="1.02"/><circle cx="318.2" cy="230.4" r="0.45"/><circle cx="318.9" cy="247.7" r="0.75"/><circle cx="300.4" cy="250.1" r="1.13"/><circle cx="300.4" cy="246.2" r="0.36"/><circle cx="288.9" cy="249.3" r="0.64"/><circle cx="287.2" cy="252.3" r="0.74"/><circle cx="284.5" cy="274.7" r="1.03"/><circle cx="308.2" cy="243" r="2.28"/><circle cx="307.5" cy="235.8" r="2.25"/><circle cx="337" cy="229" r="0.93"/><circle cx="303.3" cy="252.5" r="0.59"/><circle cx="300.7" cy="233.3" r="0.40"/><circle cx="305.9" cy="238.8" r="0.63"/><circle cx="284.4" cy="251.4" r="0.83"/><circle cx="293.3" cy="281.6" r="0.51"/><circle cx="299.5" cy="253.9" r="0.34"/><circle cx="296.5" cy="264.4" r="0.62"/><circle cx="355.8" cy="205.8" r="0.58"/><circle cx="327.5" cy="235.5" r="1.23"/><circle cx="307.9" cy="259.4" r="1.28"/><circle cx="320.1" cy="223.4" r="0.62"/><circle cx="298.5" cy="276.7" r="0.63"/><circle cx="335.6" cy="205.8" r="0.53"/><circle cx="326.2" cy="239.8" r="0.37"/><circle cx="320" cy="254.9" r="1.50"/><circle cx="313.2" cy="238.5" r="0.36"/><circle cx="337.2" cy="214" r="0.47"/><circle cx="307.7" cy="240.1" r="1.67"/><circle cx="285.9" cy="264.5" r="2.19"/><circle cx="326.3" cy="240.2" r="0.82"/><circle cx="288.1" cy="260.7" r="1.33"/><circle cx="248" cy="277.4" r="0.38"/><circle cx="326.5" cy="238.8" r="0.59"/><circle cx="287.5" cy="254.9" r="0.52"/><circle cx="304.2" cy="238.3" r="0.36"/><circle cx="251" cy="265.3" r="0.36"/><circle cx="311.9" cy="240.4" r="0.72"/><circle cx="308.6" cy="275.2" r="0.45"/><circle cx="293.3" cy="261.6" r="0.94"/><circle cx="292.7" cy="258.3" r="0.94"/><circle cx="325.6" cy="237" r="0.80"/><circle cx="293.3" cy="254.7" r="0.56"/><circle cx="313.9" cy="252.2" r="0.69"/><circle cx="296.3" cy="264.7" r="0.74"/><circle cx="345" cy="208" r="1.11"/><circle cx="291.5" cy="244.6" r="1.20"/><circle cx="290.5" cy="276.2" r="0.76"/><circle cx="302" cy="282.4" r="1.06"/><circle cx="291.2" cy="262.9" r="0.77"/><circle cx="284.2" cy="244.4" r="0.33"/><circle cx="316.9" cy="232.1" r="0.68"/><circle cx="321.6" cy="232.7" r="0.74"/><circle cx="301.5" cy="260.4" r="0.65"/><circle cx="324" cy="227.6" r="0.61"/><circle cx="241.1" cy="269" r="0.52"/><circle cx="245.8" cy="272" r="0.68"/><circle cx="334.2" cy="236.7" r="0.46"/><circle cx="285.9" cy="244.1" r="0.45"/><circle cx="334" cy="231.4" r="0.57"/><circle cx="247.4" cy="258.2" r="0.33"/><circle cx="294.2" cy="271.7" r="0.33"/><circle cx="289.1" cy="264.1" r="1.08"/><circle cx="298.3" cy="242.6" r="0.94"/><circle cx="287.2" cy="275.7" r="0.72"/><circle cx="304" cy="253" r="0.62"/><circle cx="296.6" cy="266.4" r="0.54"/><circle cx="302.9" cy="257.5" r="1.18"/><circle cx="318.6" cy="248.3" r="0.55"/><circle cx="302.7" cy="250.4" r="2.38"/><circle cx="301.4" cy="236.2" r="0.63"/><circle cx="290.2" cy="261.9" r="0.45"/><circle cx="292" cy="271.9" r="0.81"/><circle cx="286.4" cy="245.2" r="1.88"/><circle cx="323.3" cy="222.4" r="0.65"/><circle cx="242.7" cy="271" r="0.51"/><circle cx="303.6" cy="242" r="1.01"/><circle cx="285.4" cy="251.5" r="0.43"/><circle cx="294.7" cy="231.8" r="1.24"/><circle cx="329.1" cy="238.6" r="0.73"/><circle cx="328.6" cy="226.5" r="1.00"/><circle cx="286.1" cy="240.4" r="0.62"/><circle cx="288.4" cy="281.9" r="0.68"/><circle cx="317" cy="241.9" r="0.57"/><circle cx="290" cy="269.3" r="0.41"/><circle cx="316.7" cy="240.6" r="1.10"/><circle cx="287" cy="259.9" r="0.89"/><circle cx="289.6" cy="259.2" r="0.56"/><circle cx="302.1" cy="250.8" r="0.63"/><circle cx="293.1" cy="233.8" r="1.45"/><circle cx="300.3" cy="239.8" r="2.38"/><circle cx="318.1" cy="247.3" r="1.30"/><circle cx="311.1" cy="232.4" r="2.47"/><circle cx="300.4" cy="249.9" r="0.43"/><circle cx="292.3" cy="251.3" r="0.80"/><circle cx="283.6" cy="248.9" r="0.51"/><circle cx="327.4" cy="231.4" r="0.70"/><circle cx="357.6" cy="225.9" r="0.34"/><circle cx="295.1" cy="264" r="0.51"/><circle cx="307.1" cy="261.9" r="0.77"/><circle cx="315.8" cy="236.6" r="0.94"/><circle cx="330.1" cy="230.9" r="0.57"/><circle cx="311" cy="252.5" r="0.46"/><circle cx="278.1" cy="277.5" r="1.42"/><circle cx="286.2" cy="268.2" r="0.53"/><circle cx="296.2" cy="252.4" r="0.91"/><circle cx="339.3" cy="215.4" r="0.74"/><circle cx="302.3" cy="284.6" r="0.43"/><circle cx="301.3" cy="255.3" r="0.78"/><circle cx="309.4" cy="239.2" r="0.42"/><circle cx="310.5" cy="266.8" r="0.39"/><circle cx="323.7" cy="243.3" r="0.97"/><circle cx="282.7" cy="258.9" r="0.33"/><circle cx="324.7" cy="226.1" r="1.14"/><circle cx="288.9" cy="288.3" r="0.95"/><circle cx="283.5" cy="271.2" r="0.34"/><circle cx="298.5" cy="244.2" r="0.88"/><circle cx="322.6" cy="237.2" r="0.45"/><circle cx="290.3" cy="267.3" r="0.41"/><circle cx="322.3" cy="233.8" r="1.07"/><circle cx="323.7" cy="245.8" r="0.83"/><circle cx="312.4" cy="251.6" r="0.39"/><circle cx="305.2" cy="233" r="0.81"/><circle cx="298.5" cy="273.7" r="0.56"/><circle cx="308.6" cy="238" r="1.68"/><circle cx="286.6" cy="239.3" r="0.41"/><circle cx="306.7" cy="257.1" r="0.88"/><circle cx="315.1" cy="256.6" r="3.00"/><circle cx="352.6" cy="204" r="1.21"/><circle cx="307.1" cy="247.1" r="1.84"/><circle cx="293.9" cy="266.5" r="1.04"/><circle cx="292.8" cy="264.6" r="0.42"/><circle cx="240.2" cy="270.9" r="0.49"/><circle cx="250.2" cy="267.4" r="0.53"/><circle cx="296.4" cy="271.2" r="0.76"/><circle cx="307.6" cy="281.9" r="0.34"/><circle cx="291" cy="253.9" r="1.03"/><circle cx="314.8" cy="247.4" r="1.35"/><circle cx="293.9" cy="249.4" r="0.46"/><circle cx="338.2" cy="214" r="0.37"/><circle cx="299.5" cy="252.1" r="0.34"/><circle cx="298.7" cy="240.5" r="1.39"/><circle cx="317.8" cy="255.7" r="0.84"/><circle cx="314.3" cy="247.8" r="0.46"/><circle cx="365" cy="205.7" r="0.58"/><circle cx="324.7" cy="249.2" r="0.50"/><circle cx="330" cy="221.3" r="0.54"/><circle cx="306.5" cy="274" r="0.71"/><circle cx="284.7" cy="286.9" r="0.76"/><circle cx="297.9" cy="244.1" r="0.88"/><circle cx="311.8" cy="246.7" r="0.55"/><circle cx="293.6" cy="255.4" r="1.73"/><circle cx="293.6" cy="245.4" r="0.59"/><circle cx="286.1" cy="251.7" r="0.42"/><circle cx="348" cy="215.5" r="1.75"/><circle cx="249.4" cy="268.3" r="0.72"/><circle cx="307.3" cy="267.4" r="0.50"/><circle cx="313.5" cy="248.5" r="1.10"/><circle cx="302.5" cy="244.5" r="0.79"/><circle cx="324.1" cy="230.4" r="0.50"/><circle cx="303.9" cy="263.5" r="0.71"/><circle cx="287.6" cy="258.8" r="0.98"/><circle cx="333.6" cy="233" r="1.11"/><circle cx="311.8" cy="238.2" r="0.45"/><circle cx="303.9" cy="247" r="0.48"/><circle cx="313.3" cy="243" r="1.00"/><circle cx="302.9" cy="235.5" r="1.30"/><circle cx="323.8" cy="266.1" r="1.03"/><circle cx="336.8" cy="225.3" r="0.40"/><circle cx="286.3" cy="266" r="0.67"/><circle cx="339.9" cy="232.1" r="1.37"/><circle cx="298.7" cy="251.3" r="0.46"/><circle cx="364.4" cy="211.6" r="1.66"/><circle cx="323.4" cy="228.4" r="0.82"/><circle cx="316" cy="227.3" r="0.61"/><circle cx="309" cy="256.1" r="1.37"/><circle cx="310.8" cy="278.9" r="2.63"/><circle cx="312.2" cy="274.7" r="0.59"/><circle cx="282.4" cy="287.6" r="1.14"/><circle cx="325.2" cy="258.6" r="0.48"/><circle cx="297.5" cy="255.8" r="0.39"/><circle cx="288.5" cy="264.4" r="1.22"/><circle cx="304.7" cy="288.8" r="0.43"/><circle cx="293" cy="266.1" r="0.52"/><circle cx="282" cy="248.9" r="0.53"/><circle cx="304.8" cy="246.8" r="0.45"/><circle cx="307.5" cy="247" r="1.04"/><circle cx="302.1" cy="239.4" r="0.55"/><circle cx="305.2" cy="253.5" r="0.42"/><circle cx="324.6" cy="219.6" r="0.33"/><circle cx="298.2" cy="275.5" r="1.09"/><circle cx="303.9" cy="241.9" r="1.34"/><circle cx="329.1" cy="232.6" r="1.46"/><circle cx="287.9" cy="260.1" r="0.53"/><circle cx="298.4" cy="253" r="0.49"/><circle cx="302" cy="258.3" r="1.28"/><circle cx="300.8" cy="254.4" r="0.89"/><circle cx="330.9" cy="222.2" r="1.22"/><circle cx="295.2" cy="259.8" r="0.63"/><circle cx="359.8" cy="198.9" r="0.89"/><circle cx="342.6" cy="232.7" r="0.33"/><circle cx="311.3" cy="236.8" r="1.19"/><circle cx="298.1" cy="251.8" r="0.73"/><circle cx="325.4" cy="242.6" r="0.35"/><circle cx="314.1" cy="247.4" r="0.71"/><circle cx="307.9" cy="273.9" r="0.36"/><circle cx="291.3" cy="252.1" r="1.01"/><circle cx="310.6" cy="232.4" r="0.34"/><circle cx="309.5" cy="244.2" r="0.37"/><circle cx="289.7" cy="278.6" r="0.48"/><circle cx="327.9" cy="208.8" r="1.47"/><circle cx="335.3" cy="213" r="0.56"/><circle cx="292.7" cy="258" r="1.39"/><circle cx="253" cy="267.7" r="0.44"/><circle cx="308.2" cy="242.1" r="1.09"/><circle cx="312" cy="223.5" r="2.03"/><circle cx="319.2" cy="217.2" r="1.93"/><circle cx="309.8" cy="246" r="0.58"/><circle cx="329.8" cy="220" r="1.04"/><circle cx="325.5" cy="219.1" r="0.42"/><circle cx="299.4" cy="250.5" r="0.63"/><circle cx="294.5" cy="271.8" r="0.93"/><circle cx="283.3" cy="283.1" r="0.51"/><circle cx="243.4" cy="267.2" r="0.38"/><circle cx="289.6" cy="257.7" r="1.52"/><circle cx="344.5" cy="213.5" r="0.54"/><circle cx="332" cy="265.5" r="0.90"/><circle cx="243.5" cy="266" r="0.75"/><circle cx="329.9" cy="204.4" r="0.73"/><circle cx="292.9" cy="254.8" r="0.60"/><circle cx="290.9" cy="235.8" r="0.58"/><circle cx="325.4" cy="254" r="1.26"/><circle cx="339" cy="236.5" r="0.60"/><circle cx="339.2" cy="212.2" r="0.82"/><circle cx="323.1" cy="230.2" r="1.02"/><circle cx="251.1" cy="267.3" r="0.65"/><circle cx="295.4" cy="250.3" r="0.36"/><circle cx="309.2" cy="240" r="0.37"/><circle cx="296.2" cy="266.6" r="1.04"/><circle cx="288.6" cy="248.2" r="0.84"/><circle cx="297.2" cy="241.5" r="0.72"/><circle cx="281.9" cy="272.3" r="1.49"/><circle cx="294.3" cy="255.8" r="1.41"/><circle cx="309.7" cy="246.9" r="0.48"/><circle cx="295.8" cy="259.4" r="1.46"/><circle cx="302.2" cy="273.8" r="0.75"/><circle cx="309.5" cy="238.3" r="1.45"/><circle cx="317.6" cy="242.2" r="0.96"/><circle cx="302.2" cy="246.4" r="1.28"/><circle cx="327.9" cy="216.1" r="1.19"/><circle cx="302" cy="266.2" r="0.81"/><circle cx="296.9" cy="237.2" r="0.43"/><circle cx="327.2" cy="232.7" r="0.64"/><circle cx="294.9" cy="271.9" r="1.09"/><circle cx="357.7" cy="214.5" r="0.84"/><circle cx="308.7" cy="259.3" r="0.70"/><circle cx="322.6" cy="255.4" r="0.93"/><circle cx="283.4" cy="244.9" r="0.66"/><circle cx="291.8" cy="239.2" r="0.49"/><circle cx="289.2" cy="266" r="0.97"/><circle cx="306.3" cy="247.2" r="0.61"/><circle cx="304.3" cy="244.3" r="1.07"/><circle cx="351.8" cy="209.1" r="0.67"/><circle cx="296.4" cy="248.4" r="0.44"/><circle cx="309.4" cy="232.3" r="0.38"/><circle cx="300.7" cy="245.4" r="0.49"/><circle cx="315.6" cy="272.6" r="0.73"/><circle cx="291.7" cy="244.1" r="0.48"/><circle cx="291.8" cy="245.6" r="0.67"/><circle cx="329.6" cy="221.5" r="0.77"/><circle cx="314.6" cy="245.5" r="1.18"/><circle cx="304" cy="236" r="1.22"/><circle cx="336.7" cy="219.3" r="1.03"/><circle cx="279.3" cy="270.4" r="0.80"/><circle cx="335.9" cy="237.9" r="1.42"/><circle cx="320.4" cy="218.5" r="1.62"/><circle cx="291.5" cy="241.3" r="0.74"/><circle cx="302.1" cy="257.5" r="0.96"/><circle cx="289.3" cy="259.4" r="0.50"/><circle cx="295.9" cy="242.8" r="0.49"/><circle cx="320.6" cy="232.3" r="0.45"/><circle cx="306.3" cy="274.9" r="0.97"/><circle cx="303.8" cy="254.6" r="0.57"/><circle cx="319.5" cy="239.9" r="1.14"/><circle cx="306.9" cy="262.2" r="0.56"/><circle cx="321.3" cy="248.1" r="0.48"/><circle cx="305.4" cy="256.3" r="1.41"/><circle cx="332.5" cy="223.7" r="0.70"/><circle cx="314.6" cy="223.6" r="0.57"/><circle cx="307.2" cy="244.9" r="1.54"/><circle cx="315" cy="253.6" r="0.70"/><circle cx="303.9" cy="272" r="1.47"/><circle cx="303.7" cy="260.8" r="0.73"/><circle cx="293.8" cy="251" r="0.45"/><circle cx="241.1" cy="263.1" r="1.01"/><circle cx="325.8" cy="219.7" r="1.91"/><circle cx="331.4" cy="224.8" r="0.61"/><circle cx="349.3" cy="213.4" r="1.29"/><circle cx="299.1" cy="246.9" r="0.47"/><circle cx="299.1" cy="236.9" r="0.52"/><circle cx="295" cy="259.9" r="0.64"/><circle cx="285.4" cy="258.6" r="0.60"/><circle cx="314.3" cy="274.6" r="0.71"/><circle cx="285.5" cy="270.8" r="0.70"/><circle cx="306.1" cy="243.6" r="0.52"/><circle cx="333.3" cy="228.4" r="0.61"/><circle cx="317.7" cy="269.9" r="0.89"/><circle cx="255" cy="267.5" r="0.37"/><circle cx="293.2" cy="258.1" r="0.47"/><circle cx="312.7" cy="218.1" r="0.38"/><circle cx="314.4" cy="272.5" r="0.38"/><circle cx="300.4" cy="249.2" r="0.70"/><circle cx="287.3" cy="240.3" r="0.68"/><circle cx="308.9" cy="247.7" r="0.51"/><circle cx="346.7" cy="214.6" r="1.04"/><circle cx="250" cy="264.8" r="0.49"/><circle cx="375.5" cy="212.5" r="1.55"/><circle cx="302.2" cy="251.1" r="0.80"/><circle cx="293.5" cy="251.8" r="0.46"/><circle cx="286.9" cy="277.2" r="0.41"/><circle cx="312.9" cy="250.6" r="0.53"/><circle cx="278.6" cy="280.3" r="0.83"/><circle cx="302.2" cy="249.5" r="0.98"/><circle cx="291.4" cy="251.9" r="0.45"/><circle cx="297.5" cy="250.6" r="0.49"/><circle cx="251.2" cy="268" r="1.06"/><circle cx="330.1" cy="235.8" r="1.02"/><circle cx="283.4" cy="257.3" r="0.46"/><circle cx="290.5" cy="230.4" r="0.74"/><circle cx="307.5" cy="225.4" r="0.63"/><circle cx="330.1" cy="230.2" r="0.51"/><circle cx="305.6" cy="233.3" r="0.66"/><circle cx="308.2" cy="265.2" r="1.41"/><circle cx="327.1" cy="224.1" r="0.53"/><circle cx="318.7" cy="238.2" r="0.75"/><circle cx="296.6" cy="244.2" r="0.47"/><circle cx="299.9" cy="268.9" r="0.46"/><circle cx="317.1" cy="269.4" r="1.62"/><circle cx="339.6" cy="219" r="0.35"/><circle cx="302.6" cy="275.1" r="1.32"/><circle cx="274" cy="253.6" r="0.35"/><circle cx="307.1" cy="258.3" r="1.02"/><circle cx="289.4" cy="250.9" r="0.73"/><circle cx="292.3" cy="248.3" r="0.62"/><circle cx="301.3" cy="255" r="0.84"/><circle cx="309.4" cy="277.9" r="1.23"/><circle cx="293.2" cy="259.6" r="0.35"/><circle cx="299.8" cy="271.1" r="0.65"/><circle cx="316.3" cy="268.2" r="0.72"/><circle cx="288.4" cy="276" r="0.63"/><circle cx="333.5" cy="230" r="1.47"/><circle cx="302.8" cy="248.4" r="0.92"/><circle cx="304.8" cy="281.5" r="0.77"/><circle cx="309.3" cy="261.2" r="0.95"/><circle cx="317.8" cy="241.9" r="1.92"/><circle cx="301.2" cy="262.8" r="0.37"/><circle cx="312" cy="246.8" r="0.49"/><circle cx="322.4" cy="236.4" r="0.53"/><circle cx="297.3" cy="269.2" r="0.69"/><circle cx="309.7" cy="241.4" r="0.43"/><circle cx="345.2" cy="195.7" r="0.88"/><circle cx="331.8" cy="214.6" r="0.60"/><circle cx="338.6" cy="229.7" r="0.40"/><circle cx="357.1" cy="217" r="1.39"/><circle cx="291.1" cy="281.5" r="0.38"/><circle cx="306.6" cy="235.8" r="0.38"/><circle cx="344.6" cy="221.4" r="0.58"/><circle cx="313.7" cy="240.2" r="0.34"/><circle cx="312.8" cy="269.4" r="0.46"/><circle cx="300.8" cy="256.7" r="1.19"/><circle cx="285.9" cy="266.3" r="0.45"/><circle cx="291.1" cy="279.2" r="0.53"/><circle cx="317.8" cy="233.3" r="0.36"/><circle cx="327.9" cy="212" r="0.37"/><circle cx="287.7" cy="277.5" r="0.35"/><circle cx="242.7" cy="264.2" r="1.26"/><circle cx="310.3" cy="247.5" r="0.36"/><circle cx="295.8" cy="249.9" r="0.93"/><circle cx="293.8" cy="261.6" r="0.58"/><circle cx="349.8" cy="204.4" r="0.85"/><circle cx="337.5" cy="228.5" r="0.44"/><circle cx="300.9" cy="270.7" r="2.08"/><circle cx="306" cy="248.5" r="0.47"/><circle cx="290.1" cy="276.4" r="0.84"/><circle cx="286.4" cy="257.5" r="0.57"/><circle cx="301.7" cy="256.8" r="0.54"/><circle cx="334.1" cy="214.2" r="0.60"/><circle cx="321.6" cy="225" r="0.63"/><circle cx="307.6" cy="244.7" r="0.78"/><circle cx="320.9" cy="249.8" r="0.52"/><circle cx="342.4" cy="226.1" r="0.50"/><circle cx="299.8" cy="271.8" r="0.39"/><circle cx="332.5" cy="226.6" r="1.05"/><circle cx="306.5" cy="251.2" r="0.57"/><circle cx="285.8" cy="243.6" r="2.79"/><circle cx="339.2" cy="221.1" r="0.77"/><circle cx="320.4" cy="230.2" r="1.18"/><circle cx="325.3" cy="228.7" r="0.38"/><circle cx="289.9" cy="273.5" r="0.87"/><circle cx="288.4" cy="263.5" r="1.24"/><circle cx="286.3" cy="267.8" r="0.77"/><circle cx="307.1" cy="252.2" r="1.24"/><circle cx="289.3" cy="248.3" r="0.65"/><circle cx="340.6" cy="222.2" r="0.71"/><circle cx="294.9" cy="246.1" r="0.83"/><circle cx="336" cy="214.5" r="0.48"/><circle cx="344.3" cy="217.3" r="0.73"/><circle cx="244.4" cy="271.8" r="1.74"/><circle cx="348.4" cy="208" r="1.19"/><circle cx="288.2" cy="248.8" r="0.63"/><circle cx="364.7" cy="211.3" r="0.99"/><circle cx="302.3" cy="252.3" r="1.12"/><circle cx="324.8" cy="227.5" r="0.48"/><circle cx="301.8" cy="234.3" r="1.40"/><circle cx="291.4" cy="251.4" r="0.63"/><circle cx="334.6" cy="218.6" r="1.38"/><circle cx="290.9" cy="250.8" r="0.37"/><circle cx="294.2" cy="258.3" r="0.54"/><circle cx="304.8" cy="244.9" r="1.03"/><circle cx="302.9" cy="241" r="0.52"/><circle cx="292.8" cy="243.7" r="0.54"/><circle cx="344.8" cy="208.6" r="0.33"/><circle cx="310.6" cy="241.1" r="1.01"/><circle cx="297.8" cy="265.8" r="0.48"/><circle cx="301.7" cy="265.3" r="1.39"/><circle cx="307.1" cy="233.8" r="0.35"/><circle cx="290.1" cy="257.8" r="0.54"/><circle cx="323.4" cy="228.6" r="1.27"/><circle cx="306.5" cy="238.5" r="0.52"/><circle cx="300.3" cy="276.4" r="1.64"/><circle cx="299.8" cy="258.4" r="0.73"/><circle cx="311.1" cy="230.7" r="1.01"/><circle cx="305.7" cy="239.7" r="0.67"/><circle cx="304.8" cy="254.3" r="0.45"/><circle cx="297" cy="252.3" r="0.67"/><circle cx="289.5" cy="277.6" r="0.54"/><circle cx="325.3" cy="245.2" r="0.64"/><circle cx="344.8" cy="223.4" r="0.61"/><circle cx="311.7" cy="243.3" r="0.49"/><circle cx="321.8" cy="220.7" r="0.66"/><circle cx="303.5" cy="242.3" r="1.17"/><circle cx="314.3" cy="247.2" r="1.73"/><circle cx="322.9" cy="230.4" r="0.40"/><circle cx="294.8" cy="276.4" r="1.14"/><circle cx="297.9" cy="262.2" r="1.56"/><circle cx="313.7" cy="241.7" r="0.40"/><circle cx="308.9" cy="226.9" r="0.37"/><circle cx="304.5" cy="256.5" r="0.41"/><circle cx="292.7" cy="263.2" r="0.74"/><circle cx="285.2" cy="273.2" r="1.34"/><circle cx="289.5" cy="260.6" r="1.34"/><circle cx="286.8" cy="252.2" r="0.34"/><circle cx="303.8" cy="261.6" r="0.41"/><circle cx="320.6" cy="234.6" r="0.50"/><circle cx="327.1" cy="225.3" r="0.57"/><circle cx="295.3" cy="242.3" r="1.55"/><circle cx="278.1" cy="266.9" r="0.64"/><circle cx="316.1" cy="233" r="0.57"/><circle cx="285.4" cy="229.8" r="0.95"/><circle cx="346.3" cy="221.8" r="0.42"/><circle cx="333.8" cy="224.8" r="1.05"/><circle cx="317.3" cy="265.2" r="0.38"/><circle cx="300.5" cy="238" r="0.76"/><circle cx="314.7" cy="234.8" r="0.46"/><circle cx="294.9" cy="244.5" r="0.39"/><circle cx="275.4" cy="275.6" r="0.50"/><circle cx="332.7" cy="215.7" r="0.35"/><circle cx="249.5" cy="267.5" r="0.36"/><circle cx="308.7" cy="251.9" r="0.60"/><circle cx="298.7" cy="261.7" r="0.38"/><circle cx="246.3" cy="266.8" r="0.94"/><circle cx="328.1" cy="224" r="0.40"/><circle cx="286.6" cy="263.6" r="1.06"/><circle cx="289.6" cy="257.2" r="0.56"/><circle cx="299.6" cy="257.1" r="1.86"/><circle cx="307.9" cy="280.4" r="0.85"/><circle cx="285.1" cy="248.5" r="1.69"/><circle cx="304.7" cy="237.2" r="0.76"/><circle cx="287.8" cy="262" r="0.60"/><circle cx="334.7" cy="213.2" r="0.47"/><circle cx="292" cy="269.6" r="0.53"/><circle cx="283" cy="242" r="0.74"/><circle cx="334.4" cy="216.9" r="1.19"/><circle cx="340.4" cy="232.1" r="0.66"/><circle cx="337" cy="223" r="0.53"/><circle cx="319.1" cy="257.5" r="0.39"/><circle cx="332" cy="226.1" r="0.56"/><circle cx="304.5" cy="263.7" r="0.89"/><circle cx="287" cy="276.1" r="0.33"/><circle cx="304.4" cy="276" r="0.39"/><circle cx="357.2" cy="213.2" r="2.38"/><circle cx="306.5" cy="264.9" r="1.38"/><circle cx="292" cy="260.9" r="0.37"/><circle cx="286.6" cy="274.9" r="0.71"/><circle cx="331.1" cy="240.9" r="0.51"/><circle cx="326.2" cy="232.5" r="0.66"/><circle cx="288.6" cy="258.7" r="0.57"/><circle cx="320.9" cy="236.9" r="3.00"/><circle cx="285.2" cy="234.6" r="0.44"/><circle cx="297.4" cy="259.9" r="0.42"/><circle cx="248.9" cy="272.4" r="0.62"/><circle cx="302.1" cy="240.3" r="0.38"/><circle cx="303.2" cy="236.8" r="0.58"/><circle cx="311.8" cy="259.2" r="0.67"/><circle cx="347.4" cy="222.4" r="0.71"/><circle cx="321.7" cy="241.1" r="1.19"/><circle cx="331.1" cy="237.2" r="0.44"/><circle cx="310.6" cy="246.9" r="0.38"/><circle cx="282.3" cy="287.9" r="2.06"/><circle cx="285.5" cy="285.7" r="0.48"/><circle cx="305.8" cy="252.7" r="0.57"/><circle cx="290" cy="242.6" r="2.13"/><circle cx="335.2" cy="219.6" r="0.67"/><circle cx="292.5" cy="248.6" r="0.55"/><circle cx="305.1" cy="258.5" r="1.21"/><circle cx="310" cy="237.5" r="0.67"/><circle cx="299.5" cy="262.1" r="1.62"/><circle cx="336" cy="222.6" r="0.61"/><circle cx="335.7" cy="221.8" r="0.40"/><circle cx="340.5" cy="225.4" r="0.54"/><circle cx="290.3" cy="248.1" r="2.40"/><circle cx="332.7" cy="224" r="0.92"/><circle cx="310.4" cy="253.5" r="0.89"/><circle cx="326.7" cy="232.9" r="0.45"/><circle cx="316.6" cy="240.6" r="2.11"/><circle cx="289.1" cy="295.9" r="0.58"/><circle cx="307" cy="261.4" r="0.33"/><circle cx="295" cy="251.6" r="0.43"/><circle cx="345.1" cy="217.6" r="0.90"/><circle cx="309.4" cy="261.9" r="0.47"/><circle cx="313.2" cy="260.7" r="0.46"/><circle cx="327.2" cy="251.2" r="0.44"/><circle cx="323.2" cy="219" r="0.33"/><circle cx="295.7" cy="271" r="0.54"/><circle cx="294.9" cy="251.3" r="0.93"/><circle cx="347.8" cy="220.5" r="0.61"/><circle cx="332.6" cy="205.4" r="0.48"/><circle cx="301" cy="238.5" r="1.76"/><circle cx="244.5" cy="267.5" r="0.58"/><circle cx="345.5" cy="232" r="0.68"/><circle cx="291.7" cy="258.6" r="0.48"/><circle cx="338.9" cy="223.3" r="0.81"/><circle cx="295.6" cy="245.5" r="0.38"/><circle cx="337.1" cy="223.5" r="0.76"/><circle cx="295.7" cy="248.3" r="1.00"/><circle cx="353.3" cy="210.4" r="0.43"/><circle cx="297.7" cy="247.5" r="0.68"/><circle cx="317.4" cy="253.9" r="0.43"/><circle cx="316.9" cy="246.7" r="0.66"/><circle cx="315.7" cy="246.6" r="1.04"/><circle cx="283.5" cy="259.8" r="0.60"/><circle cx="309.9" cy="241.5" r="0.62"/><circle cx="290.3" cy="250.3" r="0.48"/><circle cx="316.1" cy="236.5" r="0.59"/><circle cx="332" cy="228.1" r="0.36"/><circle cx="289.2" cy="255.2" r="1.20"/><circle cx="302.3" cy="248.6" r="0.90"/><circle cx="290.4" cy="280" r="1.02"/><circle cx="291.3" cy="243.3" r="0.35"/><circle cx="296.7" cy="273.5" r="0.49"/><circle cx="346.5" cy="220.4" r="0.62"/><circle cx="353.2" cy="220.3" r="0.46"/><circle cx="280.9" cy="267.6" r="1.02"/><circle cx="294.9" cy="260.2" r="0.64"/><circle cx="318.9" cy="246.8" r="0.71"/><circle cx="286.8" cy="282.1" r="0.52"/><circle cx="308.2" cy="277.3" r="0.61"/><circle cx="339" cy="219.7" r="0.52"/><circle cx="306.5" cy="269" r="0.36"/><circle cx="291" cy="258.8" r="1.10"/><circle cx="287.7" cy="261.8" r="0.65"/><circle cx="286.1" cy="282.5" r="0.68"/><circle cx="350.5" cy="226.8" r="1.12"/><circle cx="300.2" cy="249.8" r="0.81"/><circle cx="319.6" cy="237.2" r="0.88"/><circle cx="309.7" cy="239.2" r="0.66"/><circle cx="305.5" cy="244.7" r="0.38"/><circle cx="327.9" cy="241.1" r="0.38"/><circle cx="347.6" cy="215.1" r="1.73"/><circle cx="308.4" cy="250.9" r="0.37"/><circle cx="334.8" cy="215.8" r="0.50"/><circle cx="303.6" cy="272" r="0.60"/><circle cx="282.6" cy="284" r="0.39"/><circle cx="294.5" cy="243.8" r="0.96"/><circle cx="280.2" cy="279.3" r="0.54"/><circle cx="284.8" cy="275.1" r="1.47"/><circle cx="288" cy="245" r="0.35"/><circle cx="305.8" cy="249.5" r="1.13"/><circle cx="307.7" cy="247.5" r="0.48"/><circle cx="307" cy="267.7" r="0.60"/><circle cx="287.7" cy="268.9" r="0.59"/><circle cx="298" cy="236.4" r="1.11"/><circle cx="284.4" cy="253.9" r="1.34"/><circle cx="289.1" cy="272.9" r="0.87"/><circle cx="294.4" cy="257.8" r="1.32"/><circle cx="299.6" cy="250.3" r="1.33"/><circle cx="301.8" cy="249" r="0.63"/><circle cx="333.6" cy="223.9" r="0.67"/><circle cx="240.3" cy="270.9" r="0.89"/><circle cx="303.1" cy="250.2" r="0.37"/><circle cx="257.6" cy="267.2" r="3.00"/><circle cx="318.1" cy="232.3" r="0.77"/><circle cx="289" cy="263.7" r="0.84"/><circle cx="323.7" cy="228.3" r="0.59"/><circle cx="296" cy="273.3" r="1.52"/><circle cx="291.6" cy="265.4" r="0.40"/><circle cx="312.4" cy="260.4" r="0.35"/><circle cx="290.1" cy="275.5" r="1.06"/><circle cx="346.4" cy="218.1" r="0.39"/><circle cx="308" cy="221.9" r="0.55"/><circle cx="325.1" cy="237.6" r="0.75"/><circle cx="306.3" cy="262.9" r="3.00"/><circle cx="308.8" cy="254" r="0.56"/><circle cx="291.9" cy="242.9" r="0.49"/><circle cx="286.9" cy="259" r="2.47"/><circle cx="280.5" cy="251.6" r="0.34"/><circle cx="234.8" cy="270.3" r="2.09"/><circle cx="354.8" cy="221.3" r="2.30"/><circle cx="282.7" cy="281" r="1.03"/><circle cx="306.8" cy="273.9" r="0.40"/><circle cx="305.4" cy="273.8" r="0.61"/><circle cx="300.2" cy="249.1" r="0.59"/><circle cx="289.6" cy="255.6" r="0.75"/><circle cx="285.9" cy="239.5" r="1.23"/><circle cx="316.8" cy="283" r="1.67"/><circle cx="352.8" cy="213.9" r="0.45"/><circle cx="350.8" cy="207.5" r="0.41"/><circle cx="300.7" cy="251.7" r="0.78"/><circle cx="313.4" cy="259.9" r="1.22"/><circle cx="298.6" cy="262" r="1.42"/><circle cx="242.4" cy="266.7" r="0.72"/><circle cx="293.8" cy="261.2" r="1.91"/><circle cx="340.1" cy="207.7" r="0.55"/><circle cx="368.2" cy="194.9" r="0.50"/><circle cx="307.6" cy="272.1" r="1.14"/><circle cx="295.4" cy="253.8" r="2.71"/><circle cx="280" cy="245.7" r="1.05"/><circle cx="318.7" cy="266.7" r="0.40"/><circle cx="294.3" cy="271.3" r="1.41"/><circle cx="336.6" cy="226.1" r="0.52"/><circle cx="288.5" cy="271.2" r="0.85"/><circle cx="294.5" cy="255.8" r="0.58"/><circle cx="341.7" cy="233.2" r="0.85"/><circle cx="286.6" cy="245.7" r="0.68"/><circle cx="293.2" cy="254.4" r="0.55"/><circle cx="320.7" cy="224.8" r="0.49"/><circle cx="291.9" cy="261.1" r="0.74"/><circle cx="285.2" cy="268.5" r="0.51"/><circle cx="295.4" cy="262.8" r="0.55"/><circle cx="302.4" cy="254.4" r="0.54"/><circle cx="291.5" cy="256.7" r="0.90"/><circle cx="314.2" cy="237.3" r="0.48"/><circle cx="321.8" cy="256.5" r="1.15"/><circle cx="307.2" cy="239.3" r="0.58"/><circle cx="299.2" cy="231.8" r="0.57"/><circle cx="277" cy="253.8" r="0.35"/><circle cx="308.2" cy="261.5" r="2.19"/><circle cx="290.6" cy="263.6" r="0.48"/><circle cx="293.8" cy="237.8" r="0.50"/><circle cx="291.5" cy="272.2" r="1.08"/><circle cx="329.6" cy="237" r="0.65"/><circle cx="316" cy="249.5" r="0.36"/><circle cx="287.2" cy="251.2" r="0.80"/><circle cx="317.2" cy="244.1" r="0.60"/><circle cx="284.5" cy="272.9" r="1.60"/><circle cx="298.4" cy="258.6" r="0.34"/><circle cx="294.1" cy="275" r="0.66"/><circle cx="335.3" cy="216.9" r="0.45"/><circle cx="313.6" cy="259" r="0.52"/><circle cx="308.7" cy="241.4" r="1.43"/><circle cx="328.7" cy="229" r="0.94"/><circle cx="362.5" cy="214.6" r="0.67"/><circle cx="297.5" cy="245.5" r="0.51"/><circle cx="291.3" cy="279.8" r="1.21"/><circle cx="304.7" cy="247.3" r="0.45"/><circle cx="339.1" cy="221.9" r="1.32"/><circle cx="292.1" cy="266.4" r="0.41"/><circle cx="301.5" cy="267.6" r="0.44"/><circle cx="281.7" cy="247.8" r="1.12"/><circle cx="305.2" cy="245.7" r="0.35"/><circle cx="318.2" cy="223.1" r="0.81"/><circle cx="330.3" cy="230.4" r="0.33"/><circle cx="320.2" cy="236.5" r="0.61"/><circle cx="290" cy="272.9" r="1.47"/><circle cx="297.8" cy="238" r="0.40"/><circle cx="308.7" cy="282.2" r="0.64"/><circle cx="249.4" cy="267.9" r="0.85"/><circle cx="288.7" cy="266.3" r="1.18"/><circle cx="316.9" cy="229.3" r="0.67"/><circle cx="323.6" cy="262.2" r="1.00"/><circle cx="316.3" cy="260.1" r="2.10"/><circle cx="294.3" cy="243.4" r="0.52"/><circle cx="324.8" cy="237.6" r="0.58"/><circle cx="284.3" cy="262.3" r="1.67"/><circle cx="315.7" cy="234" r="0.60"/><circle cx="284.9" cy="255.5" r="0.53"/><circle cx="292.6" cy="247.1" r="1.12"/><circle cx="314.8" cy="248.9" r="0.66"/><circle cx="293.9" cy="255.4" r="1.38"/><circle cx="325.5" cy="226.2" r="1.10"/><circle cx="293.7" cy="249.1" r="0.98"/><circle cx="292.7" cy="239.2" r="1.50"/><circle cx="301.1" cy="234.6" r="1.03"/><circle cx="302.7" cy="261.2" r="0.46"/><circle cx="296" cy="263.7" r="0.39"/><circle cx="288" cy="259.3" r="1.33"/><circle cx="298.8" cy="251.2" r="0.94"/><circle cx="332.3" cy="216.7" r="0.97"/><circle cx="339.9" cy="207.9" r="0.97"/><circle cx="311" cy="250.6" r="0.41"/><circle cx="312" cy="227.7" r="0.56"/><circle cx="334.1" cy="221.4" r="0.69"/><circle cx="341.2" cy="227.2" r="1.06"/><circle cx="294.7" cy="267.2" r="1.27"/><circle cx="285.9" cy="257.1" r="1.23"/><circle cx="292.2" cy="257" r="1.23"/><circle cx="285.7" cy="268.3" r="0.88"/><circle cx="309.9" cy="259" r="0.51"/><circle cx="333.8" cy="234.5" r="0.37"/><circle cx="306.1" cy="267.6" r="1.72"/><circle cx="322.4" cy="244" r="0.40"/><circle cx="304.4" cy="263.2" r="0.40"/><circle cx="295.7" cy="258.2" r="0.48"/><circle cx="344.1" cy="230.9" r="0.66"/><circle cx="303.8" cy="268" r="1.13"/><circle cx="296.9" cy="254.6" r="0.97"/><circle cx="293.5" cy="264" r="2.37"/><circle cx="289.7" cy="286" r="1.22"/><circle cx="302.7" cy="254.5" r="0.54"/><circle cx="300.7" cy="254.1" r="1.20"/><circle cx="337" cy="234.3" r="0.42"/><circle cx="333.2" cy="216.9" r="0.67"/><circle cx="307.4" cy="253.8" r="2.45"/><circle cx="246" cy="272.1" r="3.00"/><circle cx="361.8" cy="203.6" r="0.47"/><circle cx="289" cy="262.3" r="0.41"/><circle cx="300.2" cy="254.3" r="0.63"/><circle cx="367.3" cy="208.7" r="1.15"/><circle cx="288.4" cy="270.7" r="0.72"/><circle cx="302.3" cy="264.3" r="0.50"/><circle cx="341.2" cy="212.6" r="0.40"/><circle cx="243.7" cy="263.7" r="1.26"/><circle cx="303.5" cy="245.4" r="0.77"/><circle cx="312.2" cy="247.7" r="1.01"/><circle cx="299.5" cy="236.8" r="1.11"/><circle cx="336.2" cy="222.6" r="0.48"/><circle cx="328.8" cy="228.8" r="0.52"/><circle cx="286" cy="229.6" r="1.22"/><circle cx="282.7" cy="268.3" r="0.41"/><circle cx="316.9" cy="273.5" r="0.44"/><circle cx="304.6" cy="226.2" r="1.50"/><circle cx="301.7" cy="237.6" r="0.92"/><circle cx="345" cy="227.9" r="0.39"/><circle cx="319.8" cy="222.5" r="1.06"/><circle cx="296.5" cy="259.9" r="1.37"/><circle cx="293" cy="243.5" r="0.75"/><circle cx="309.8" cy="263.5" r="0.34"/><circle cx="296.8" cy="252.9" r="2.30"/><circle cx="302.8" cy="252.1" r="0.64"/><circle cx="295.6" cy="258.8" r="0.88"/><circle cx="347.8" cy="210.4" r="1.76"/><circle cx="308.1" cy="256" r="2.35"/><circle cx="296.8" cy="244.6" r="0.46"/><circle cx="253.4" cy="265.4" r="0.80"/><circle cx="246.6" cy="267" r="0.60"/><circle cx="298.6" cy="243.1" r="0.53"/><circle cx="350" cy="209.2" r="0.55"/><circle cx="353.6" cy="200" r="0.93"/><circle cx="340.2" cy="232" r="0.84"/><circle cx="323.9" cy="234.9" r="1.23"/><circle cx="297.8" cy="258.6" r="0.43"/><circle cx="304.5" cy="244.7" r="1.76"/><circle cx="291.9" cy="258.6" r="0.55"/><circle cx="395.5" cy="197.5" r="1.32"/><circle cx="304" cy="263.3" r="0.33"/><circle cx="305.6" cy="241.9" r="1.94"/><circle cx="324.2" cy="243.1" r="1.45"/><circle cx="309.4" cy="251.3" r="0.86"/><circle cx="305.3" cy="245.3" r="1.29"/><circle cx="317.4" cy="247.4" r="0.52"/><circle cx="296.3" cy="252.6" r="1.10"/><circle cx="320.6" cy="240.4" r="0.71"/><circle cx="287.3" cy="258.5" r="0.33"/><circle cx="320.7" cy="223.7" r="0.75"/><circle cx="367.7" cy="204.1" r="0.86"/><circle cx="292.5" cy="262.8" r="1.17"/><circle cx="323.7" cy="203.5" r="1.12"/><circle cx="307.7" cy="279.9" r="0.34"/><circle cx="354.9" cy="209.2" r="0.39"/><circle cx="307.6" cy="235.9" r="0.66"/><circle cx="304.4" cy="240.8" r="0.77"/><circle cx="280.8" cy="261" r="0.75"/><circle cx="296.1" cy="271.9" r="0.55"/><circle cx="321.2" cy="230.2" r="1.86"/><circle cx="338.4" cy="222.1" r="0.77"/><circle cx="329.9" cy="226" r="0.85"/><circle cx="293.4" cy="258.3" r="0.66"/><circle cx="328.6" cy="224.6" r="1.51"/><circle cx="350.7" cy="224.7" r="0.55"/><circle cx="361.8" cy="202.1" r="1.37"/><circle cx="304.2" cy="257" r="0.36"/><circle cx="314.9" cy="277.8" r="0.74"/><circle cx="247.3" cy="263.2" r="0.46"/><circle cx="303.6" cy="255.6" r="1.11"/><circle cx="314.4" cy="259.7" r="0.33"/><circle cx="297" cy="247.9" r="0.52"/><circle cx="295.9" cy="236" r="0.33"/><circle cx="328.9" cy="219.9" r="0.72"/><circle cx="333.3" cy="222.4" r="0.50"/><circle cx="355.7" cy="220.1" r="0.41"/><circle cx="302.4" cy="244.7" r="0.55"/><circle cx="340.4" cy="214.9" r="0.51"/><circle cx="313.3" cy="251.7" r="0.60"/><circle cx="288.2" cy="268.7" r="0.37"/><circle cx="342.7" cy="225.5" r="0.77"/><circle cx="304.4" cy="269.4" r="0.41"/><circle cx="284.6" cy="269.3" r="0.36"/><circle cx="288.6" cy="276.3" r="1.18"/><circle cx="358.2" cy="206.1" r="0.44"/><circle cx="316.6" cy="242.3" r="1.27"/><circle cx="307.4" cy="245.7" r="0.87"/><circle cx="354.3" cy="213.9" r="1.07"/><circle cx="340" cy="212.8" r="0.54"/><circle cx="300.8" cy="246" r="0.35"/><circle cx="295.8" cy="264.2" r="0.37"/><circle cx="291.1" cy="269.8" r="0.38"/><circle cx="254.6" cy="260.6" r="1.10"/><circle cx="245.7" cy="267.8" r="0.93"/><circle cx="240.9" cy="265.8" r="0.34"/><circle cx="293.9" cy="275.6" r="1.30"/><circle cx="297.9" cy="234" r="0.58"/><circle cx="341.1" cy="225.1" r="0.75"/><circle cx="298.8" cy="274" r="0.96"/><circle cx="303" cy="260.7" r="1.21"/><circle cx="287.1" cy="258.2" r="0.76"/><circle cx="298.9" cy="241.5" r="0.88"/><circle cx="315.7" cy="265.8" r="0.98"/><circle cx="289.5" cy="257" r="0.49"/><circle cx="286.8" cy="241.1" r="0.34"/><circle cx="290.1" cy="262.1" r="0.41"/><circle cx="339.4" cy="225.9" r="2.45"/><circle cx="285.1" cy="261.1" r="0.93"/><circle cx="341.2" cy="221.1" r="0.72"/><circle cx="311.8" cy="272.5" r="1.60"/><circle cx="304.2" cy="224.1" r="0.62"/><circle cx="313.1" cy="241.9" r="0.43"/><circle cx="307.5" cy="237.6" r="0.72"/><circle cx="357.8" cy="218.7" r="1.66"/><circle cx="343" cy="216.5" r="0.51"/><circle cx="282.2" cy="272.7" r="0.91"/><circle cx="318.7" cy="255.1" r="1.15"/><circle cx="301.8" cy="250.6" r="1.10"/><circle cx="287.1" cy="276.2" r="1.26"/><circle cx="329.1" cy="233.4" r="0.73"/><circle cx="322.2" cy="230.4" r="0.38"/><circle cx="327.6" cy="231.5" r="0.40"/><circle cx="308.3" cy="260.3" r="0.62"/><circle cx="356.6" cy="218.7" r="1.00"/><circle cx="287.6" cy="263.4" r="0.33"/><circle cx="295" cy="233.7" r="0.37"/><circle cx="295.2" cy="252.2" r="1.02"/><circle cx="331.4" cy="229.3" r="0.37"/><circle cx="298.4" cy="245.3" r="0.72"/><circle cx="290.3" cy="242.4" r="0.64"/><circle cx="303.1" cy="248.7" r="0.65"/><circle cx="289.8" cy="250" r="0.73"/><circle cx="289.8" cy="251" r="0.61"/><circle cx="340.6" cy="220.9" r="0.62"/><circle cx="340.2" cy="220.9" r="0.49"/><circle cx="307.5" cy="252.5" r="2.20"/><circle cx="238.9" cy="269.1" r="0.49"/><circle cx="313.1" cy="251.6" r="1.52"/><circle cx="298.3" cy="268.1" r="0.55"/><circle cx="304.5" cy="251.7" r="1.04"/><circle cx="287.4" cy="254.6" r="2.34"/><circle cx="351.4" cy="213.3" r="0.48"/><circle cx="294.4" cy="260.1" r="0.61"/><circle cx="307.6" cy="238.4" r="1.02"/><circle cx="329.3" cy="225.9" r="0.60"/><circle cx="291.7" cy="253.4" r="0.80"/><circle cx="285.3" cy="266.4" r="0.55"/><circle cx="288.7" cy="254.6" r="0.41"/><circle cx="342.6" cy="239" r="0.67"/><circle cx="314.3" cy="257.4" r="0.49"/><circle cx="236.4" cy="268" r="0.61"/><circle cx="284" cy="264.6" r="1.01"/><circle cx="334.6" cy="233.4" r="0.73"/><circle cx="246.8" cy="266.2" r="0.84"/><circle cx="306.7" cy="262" r="0.55"/><circle cx="290.5" cy="257.8" r="0.57"/><circle cx="308.9" cy="256.5" r="0.80"/><circle cx="317.4" cy="235.8" r="1.12"/><circle cx="324.5" cy="225.6" r="0.49"/><circle cx="304.7" cy="255.3" r="0.35"/><circle cx="285.8" cy="246.2" r="0.39"/><circle cx="353.7" cy="224.6" r="0.69"/><circle cx="299.1" cy="230.8" r="1.11"/><circle cx="288.1" cy="246.6" r="0.72"/><circle cx="289.3" cy="257.6" r="0.81"/><circle cx="287.3" cy="243.4" r="1.07"/><circle cx="303.5" cy="286.7" r="0.64"/><circle cx="252.2" cy="262.2" r="0.35"/><circle cx="333.1" cy="220" r="2.08"/><circle cx="307.7" cy="259.6" r="0.73"/><circle cx="301.5" cy="253.7" r="0.77"/><circle cx="307.6" cy="239.2" r="0.33"/><circle cx="307.8" cy="265" r="1.33"/><circle cx="286.8" cy="261.9" r="1.41"/><circle cx="314" cy="256.9" r="0.60"/><circle cx="309.8" cy="249.3" r="1.64"/><circle cx="290.1" cy="238.8" r="0.35"/><circle cx="327.8" cy="260.9" r="0.95"/><circle cx="287.7" cy="224.4" r="0.47"/><circle cx="348.7" cy="225.7" r="0.39"/><circle cx="328.9" cy="226.7" r="0.51"/><circle cx="314" cy="268" r="0.94"/><circle cx="304" cy="252.6" r="1.01"/><circle cx="316.2" cy="233.3" r="0.77"/><circle cx="333.3" cy="217.7" r="0.37"/><circle cx="335.1" cy="230" r="0.77"/><circle cx="317.5" cy="247.5" r="1.39"/><circle cx="281.5" cy="233.1" r="1.05"/><circle cx="336.5" cy="230.9" r="0.34"/><circle cx="306.7" cy="253.1" r="0.69"/><circle cx="286.9" cy="248.4" r="0.36"/><circle cx="334.7" cy="214.2" r="0.49"/><circle cx="313.7" cy="239.5" r="0.90"/><circle cx="340.2" cy="218.4" r="0.88"/><circle cx="300.6" cy="250.1" r="0.66"/><circle cx="397.1" cy="154" r="0.73"/><circle cx="451.5" cy="170.3" r="0.85"/><circle cx="397.2" cy="197.4" r="0.36"/><circle cx="434.4" cy="166.4" r="1.07"/><circle cx="387.7" cy="164.9" r="0.39"/><circle cx="398.9" cy="178.9" r="0.72"/><circle cx="431.5" cy="158.5" r="1.23"/><circle cx="422.5" cy="199.1" r="0.54"/><circle cx="413.2" cy="187" r="0.53"/><circle cx="468.3" cy="178.5" r="0.67"/><circle cx="384" cy="186" r="0.31"/><circle cx="415.2" cy="168.6" r="0.42"/><circle cx="400.3" cy="190.2" r="0.78"/><circle cx="392.5" cy="195.5" r="0.41"/><circle cx="399.3" cy="195.3" r="0.46"/><circle cx="415.2" cy="183.1" r="0.55"/><circle cx="394.9" cy="178.4" r="0.40"/><circle cx="423.1" cy="171" r="0.33"/><circle cx="464" cy="162.7" r="0.40"/><circle cx="444.4" cy="174.9" r="0.41"/><circle cx="396" cy="176.6" r="0.32"/><circle cx="382.7" cy="169.6" r="1.90"/><circle cx="380.5" cy="183.9" r="0.34"/><circle cx="386.7" cy="190" r="0.68"/><circle cx="421.9" cy="195" r="0.43"/><circle cx="393.1" cy="173.3" r="0.73"/><circle cx="391.3" cy="177.8" r="0.30"/><circle cx="391.9" cy="172" r="0.45"/><circle cx="387.2" cy="168.2" r="0.66"/><circle cx="379.8" cy="174.5" r="0.94"/><circle cx="385.5" cy="171" r="0.43"/><circle cx="405.7" cy="175" r="0.54"/><circle cx="471.4" cy="191.7" r="0.36"/><circle cx="390.2" cy="170.6" r="0.68"/><circle cx="433.4" cy="169.5" r="0.62"/><circle cx="457.7" cy="158.9" r="0.52"/><circle cx="402.9" cy="184.5" r="0.32"/><circle cx="382.9" cy="173" r="0.33"/><circle cx="410.7" cy="188.9" r="0.48"/><circle cx="415.7" cy="168.4" r="1.63"/><circle cx="396.7" cy="176" r="0.39"/><circle cx="380.1" cy="180" r="0.81"/><circle cx="393.2" cy="187.6" r="0.44"/><circle cx="418.7" cy="166.5" r="0.36"/><circle cx="436" cy="166.1" r="0.59"/><circle cx="371.6" cy="181.5" r="0.55"/><circle cx="388.9" cy="168.8" r="0.64"/><circle cx="477.3" cy="179" r="0.86"/><circle cx="393.5" cy="156.3" r="0.34"/><circle cx="432.6" cy="173.2" r="0.96"/><circle cx="381.5" cy="186.9" r="0.44"/><circle cx="464.9" cy="167.9" r="0.48"/><circle cx="439.9" cy="148.2" r="0.46"/><circle cx="389.2" cy="182.5" r="0.44"/><circle cx="384.4" cy="164" r="0.35"/><circle cx="476.2" cy="171.6" r="0.51"/><circle cx="444.2" cy="160.1" r="0.58"/><circle cx="420.5" cy="163" r="0.41"/><circle cx="388.8" cy="198.2" r="0.59"/><circle cx="470" cy="191.9" r="0.71"/><circle cx="385.9" cy="164.8" r="0.68"/><circle cx="460.8" cy="147" r="0.32"/><circle cx="450.6" cy="158.3" r="0.40"/><circle cx="390.1" cy="174.5" r="1.24"/><circle cx="470.3" cy="178.4" r="0.77"/><circle cx="464.1" cy="174.1" r="0.74"/><circle cx="399.9" cy="176.2" r="0.34"/><circle cx="399.7" cy="185.7" r="0.31"/><circle cx="399.4" cy="166.6" r="0.41"/><circle cx="414.8" cy="182.3" r="0.56"/><circle cx="390.9" cy="145.5" r="1.86"/><circle cx="396.9" cy="186.6" r="0.53"/><circle cx="389.8" cy="195.4" r="0.54"/><circle cx="390.6" cy="178.2" r="0.63"/><circle cx="386.7" cy="168.9" r="0.70"/><circle cx="419.3" cy="191.1" r="0.44"/><circle cx="470.3" cy="189.7" r="0.79"/><circle cx="389.3" cy="163.8" r="0.53"/><circle cx="463.7" cy="162.1" r="1.90"/><circle cx="462.8" cy="172.2" r="0.43"/><circle cx="396.8" cy="180.8" r="0.36"/><circle cx="412.1" cy="160.4" r="1.44"/><circle cx="416.7" cy="188.8" r="0.36"/><circle cx="466" cy="180.7" r="0.36"/><circle cx="464.3" cy="169.7" r="0.38"/><circle cx="390" cy="165.8" r="0.36"/><circle cx="388" cy="181.9" r="0.56"/><circle cx="394.5" cy="184.7" r="0.31"/><circle cx="389.8" cy="185" r="0.39"/><circle cx="403.6" cy="197.8" r="0.30"/><circle cx="399.9" cy="171.6" r="0.55"/><circle cx="385.2" cy="161.8" r="0.46"/><circle cx="462.5" cy="149.9" r="0.60"/><circle cx="383.4" cy="180.3" r="0.49"/><circle cx="395.6" cy="177.9" r="0.98"/><circle cx="423.1" cy="200.5" r="0.34"/><circle cx="468.2" cy="162.2" r="0.49"/><circle cx="390.7" cy="170.4" r="1.85"/><circle cx="390.8" cy="175.2" r="0.57"/><circle cx="441.7" cy="173.1" r="0.44"/><circle cx="458.7" cy="182.4" r="0.76"/><circle cx="460.4" cy="162.9" r="1.27"/><circle cx="394.8" cy="171.4" r="0.90"/><circle cx="470.7" cy="167.3" r="0.43"/><circle cx="445.6" cy="178" r="1.05"/><circle cx="481.3" cy="179.3" r="0.43"/><circle cx="460" cy="164.8" r="0.75"/><circle cx="421.2" cy="200.4" r="0.55"/><circle cx="462.2" cy="153.7" r="0.38"/><circle cx="426.3" cy="200.1" r="0.35"/><circle cx="384.7" cy="178.5" r="0.40"/><circle cx="460.9" cy="164.4" r="0.89"/><circle cx="398.7" cy="179.7" r="0.45"/><circle cx="461" cy="153.8" r="0.50"/><circle cx="428.8" cy="191.2" r="0.57"/><circle cx="429.4" cy="163.5" r="0.74"/><circle cx="463.1" cy="162.2" r="0.44"/><circle cx="385.8" cy="168" r="0.87"/><circle cx="387.9" cy="172.3" r="0.94"/><circle cx="386.3" cy="184.8" r="0.51"/><circle cx="404.9" cy="190.2" r="0.46"/><circle cx="460.8" cy="159.8" r="0.50"/><circle cx="467.6" cy="174.2" r="0.59"/><circle cx="389.6" cy="165.8" r="0.38"/><circle cx="395" cy="169.5" r="0.58"/><circle cx="385.4" cy="166.6" r="0.52"/><circle cx="384.2" cy="181" r="0.84"/><circle cx="420.7" cy="171.4" r="0.34"/><circle cx="406.9" cy="172.3" r="0.30"/><circle cx="469.8" cy="173.8" r="1.10"/><circle cx="400.5" cy="165.7" r="0.30"/><circle cx="390.9" cy="171.4" r="0.50"/><circle cx="473.4" cy="190.7" r="0.76"/><circle cx="388.6" cy="183.8" r="0.46"/><circle cx="460.4" cy="173.4" r="0.50"/><circle cx="461.1" cy="154.8" r="0.37"/><circle cx="466.1" cy="188" r="1.09"/><circle cx="467.7" cy="164.5" r="0.54"/><circle cx="476.1" cy="178.3" r="0.76"/><circle cx="480" cy="173.1" r="0.50"/><circle cx="472.7" cy="170.1" r="1.02"/><circle cx="416.5" cy="194.4" r="0.45"/><circle cx="418.3" cy="203.5" r="0.44"/><circle cx="407.6" cy="185.4" r="0.37"/><circle cx="467.6" cy="161.8" r="0.49"/><circle cx="380.7" cy="174.5" r="0.67"/><circle cx="394.8" cy="171" r="0.53"/><circle cx="390.7" cy="193.8" r="0.76"/><circle cx="417.8" cy="196.8" r="0.35"/><circle cx="474.7" cy="195.4" r="0.36"/><circle cx="461.8" cy="167.3" r="0.33"/><circle cx="402.3" cy="190.6" r="0.75"/><circle cx="422.1" cy="161.6" r="0.58"/><circle cx="374.6" cy="185.5" r="0.35"/><circle cx="466.9" cy="174" r="0.55"/><circle cx="381.1" cy="161.8" r="0.65"/><circle cx="391.1" cy="186.3" r="0.54"/><circle cx="457.7" cy="154.8" r="0.31"/><circle cx="422.4" cy="200.4" r="0.40"/><circle cx="388.1" cy="192.1" r="0.33"/><circle cx="473.9" cy="164.3" r="0.79"/><circle cx="449.5" cy="179.7" r="0.45"/><circle cx="453.5" cy="168.8" r="1.82"/><circle cx="477.2" cy="174.3" r="0.66"/><circle cx="415.9" cy="163.4" r="0.43"/><circle cx="466.6" cy="169.3" r="0.80"/><circle cx="389.7" cy="169.5" r="1.72"/><circle cx="405.3" cy="181.7" r="0.50"/><circle cx="391.8" cy="172.5" r="0.57"/><circle cx="464.4" cy="177.9" r="0.86"/><circle cx="396.6" cy="184.2" r="0.37"/><circle cx="417.1" cy="167.6" r="0.38"/><circle cx="386" cy="180.2" r="0.64"/><circle cx="485" cy="185.9" r="0.54"/><circle cx="469" cy="182.9" r="0.47"/><circle cx="400.2" cy="163.3" r="1.20"/><circle cx="403.4" cy="161.2" r="0.65"/><circle cx="465.6" cy="174.3" r="0.49"/><circle cx="415.2" cy="183.4" r="0.60"/><circle cx="397.4" cy="187.8" r="0.82"/><circle cx="397.9" cy="185.2" r="0.70"/><circle cx="465.1" cy="166.2" r="0.55"/><circle cx="398.7" cy="186.7" r="0.60"/><circle cx="398.9" cy="191.2" r="0.30"/><circle cx="376.6" cy="155.5" r="0.89"/><circle cx="421.5" cy="172.6" r="1.14"/><circle cx="471.5" cy="161.9" r="0.40"/><circle cx="393.9" cy="184.7" r="1.55"/><circle cx="388.4" cy="164.8" r="0.99"/><circle cx="463.5" cy="158" r="1.04"/><circle cx="400.7" cy="183" r="0.30"/><circle cx="460.4" cy="158.4" r="0.89"/><circle cx="395.5" cy="159.7" r="0.42"/><circle cx="482.3" cy="189.9" r="0.41"/><circle cx="422.5" cy="166.4" r="0.50"/><circle cx="389" cy="186.2" r="1.01"/><circle cx="395.7" cy="181.1" r="1.05"/><circle cx="389.7" cy="177.7" r="0.72"/><circle cx="462.8" cy="173.4" r="0.54"/><circle cx="481.4" cy="170.2" r="0.65"/><circle cx="417.5" cy="181.3" r="1.12"/><circle cx="465.7" cy="168.2" r="0.73"/><circle cx="473" cy="159.9" r="0.33"/><circle cx="384.5" cy="157.2" r="0.83"/><circle cx="417.9" cy="168.1" r="0.80"/><circle cx="390.7" cy="184.9" r="0.52"/><circle cx="432.7" cy="174.1" r="0.57"/><circle cx="438.8" cy="168.5" r="0.32"/><circle cx="462.8" cy="166.6" r="0.36"/><circle cx="423" cy="196.5" r="0.92"/><circle cx="469.4" cy="181.8" r="0.66"/><circle cx="399.8" cy="190.5" r="0.42"/><circle cx="415.3" cy="166.1" r="1.65"/><circle cx="393" cy="181" r="0.84"/><circle cx="402" cy="181.2" r="0.57"/><circle cx="382.7" cy="184.3" r="0.59"/><circle cx="386.3" cy="176.7" r="0.36"/><circle cx="464.2" cy="170.1" r="0.72"/><circle cx="465.4" cy="177.5" r="0.57"/><circle cx="414.4" cy="202.7" r="0.77"/><circle cx="437.8" cy="189.8" r="0.79"/><circle cx="396.1" cy="147.1" r="0.49"/><circle cx="402.7" cy="169.8" r="0.48"/><circle cx="466.4" cy="173.7" r="0.53"/><circle cx="383.6" cy="159.9" r="0.44"/><circle cx="378" cy="162.3" r="1.84"/><circle cx="368.3" cy="169.5" r="0.43"/><circle cx="389.8" cy="157.9" r="0.78"/><circle cx="418" cy="166.6" r="0.41"/><circle cx="425.4" cy="202.6" r="0.35"/><circle cx="389.2" cy="158.6" r="0.36"/><circle cx="392.8" cy="156.9" r="0.30"/><circle cx="388.6" cy="185.8" r="0.38"/><circle cx="379.8" cy="183.9" r="0.35"/><circle cx="394.6" cy="176.2" r="0.60"/><circle cx="394" cy="161.6" r="0.40"/><circle cx="420.9" cy="162.1" r="0.70"/><circle cx="460.1" cy="157.1" r="0.48"/><circle cx="467.5" cy="166.1" r="0.51"/><circle cx="412.2" cy="178.8" r="0.62"/><circle cx="391.6" cy="188.5" r="0.41"/><circle cx="420.7" cy="166.4" r="0.37"/><circle cx="385.9" cy="167.8" r="0.33"/><circle cx="386.7" cy="187.2" r="0.35"/><circle cx="464.4" cy="166.4" r="0.56"/><circle cx="392.2" cy="164" r="1.17"/><circle cx="384" cy="186.2" r="0.32"/><circle cx="402.3" cy="183.3" r="0.35"/><circle cx="371.9" cy="189.3" r="0.59"/><circle cx="386.7" cy="188.5" r="0.77"/><circle cx="461.8" cy="153.1" r="1.47"/><circle cx="400" cy="172.2" r="0.58"/><circle cx="393.8" cy="178.4" r="0.36"/><circle cx="420.1" cy="198.1" r="0.57"/><circle cx="389.8" cy="186.8" r="0.36"/><circle cx="398.2" cy="168.8" r="0.48"/><circle cx="389.1" cy="171.6" r="0.45"/><circle cx="465.5" cy="154.8" r="0.97"/><circle cx="419.6" cy="165.6" r="0.48"/><circle cx="425.6" cy="167.5" r="0.45"/><circle cx="463.1" cy="164.3" r="0.52"/><circle cx="392.3" cy="176" r="0.37"/><circle cx="410.9" cy="182.6" r="0.33"/><circle cx="389.5" cy="195.6" r="0.33"/><circle cx="389.3" cy="156" r="0.79"/><circle cx="430.6" cy="145" r="0.44"/><circle cx="420.6" cy="197.6" r="0.33"/><circle cx="467.3" cy="173" r="0.74"/><circle cx="471.7" cy="197.6" r="0.46"/><circle cx="383.2" cy="163.3" r="0.37"/><circle cx="391.8" cy="181.6" r="0.65"/><circle cx="396.6" cy="161.5" r="0.51"/><circle cx="474.1" cy="191.2" r="1.50"/><circle cx="392.2" cy="178" r="0.50"/><circle cx="461.4" cy="158.4" r="0.60"/><circle cx="389.6" cy="167.9" r="0.38"/><circle cx="469.3" cy="178.8" r="1.39"/><circle cx="482.9" cy="179.1" r="0.39"/><circle cx="386.7" cy="183" r="0.80"/><circle cx="417" cy="187.1" r="0.47"/><circle cx="388.7" cy="161.6" r="0.34"/><circle cx="391.2" cy="181.7" r="1.00"/><circle cx="381" cy="180" r="0.42"/><circle cx="398.3" cy="169" r="0.31"/><circle cx="390.6" cy="178.1" r="0.84"/><circle cx="463.3" cy="163.9" r="0.38"/><circle cx="396.4" cy="185.9" r="0.38"/><circle cx="397.1" cy="184.2" r="0.54"/><circle cx="416.5" cy="193.1" r="0.87"/><circle cx="394.8" cy="185.3" r="0.31"/><circle cx="409.8" cy="181.3" r="0.37"/><circle cx="386.5" cy="168.4" r="0.43"/><circle cx="400.3" cy="189.1" r="0.67"/><circle cx="399.9" cy="193.7" r="0.60"/><circle cx="410" cy="181.2" r="0.52"/><circle cx="422.8" cy="200.3" r="0.72"/><circle cx="467" cy="173.8" r="0.61"/><circle cx="411.2" cy="195.5" r="0.44"/><circle cx="395.7" cy="162.5" r="0.31"/><circle cx="462.2" cy="158.4" r="0.41"/><circle cx="425.9" cy="154.5" r="1.26"/><circle cx="389.3" cy="164.1" r="0.33"/><circle cx="399.7" cy="173.8" r="0.60"/><circle cx="398.4" cy="169.5" r="0.35"/><circle cx="464.5" cy="153.3" r="0.48"/><circle cx="462.8" cy="179" r="0.32"/><circle cx="382.6" cy="186.6" r="0.43"/><circle cx="419.8" cy="165.5" r="0.45"/><circle cx="464" cy="157.2" r="0.35"/><circle cx="382.1" cy="170" r="0.41"/><circle cx="417.5" cy="186.2" r="0.76"/><circle cx="421.7" cy="160.4" r="0.97"/><circle cx="459.1" cy="155.2" r="0.48"/><circle cx="397.6" cy="173.7" r="0.35"/><circle cx="462.6" cy="178.8" r="0.76"/><circle cx="464.9" cy="170.7" r="0.33"/><circle cx="389.7" cy="191.8" r="0.36"/><circle cx="387.6" cy="187.8" r="0.96"/><circle cx="388.8" cy="182.9" r="0.30"/><circle cx="394.5" cy="194.7" r="0.33"/><circle cx="392.3" cy="194.4" r="0.37"/><circle cx="396" cy="192.3" r="0.38"/><circle cx="398.7" cy="175.4" r="0.33"/><circle cx="390.6" cy="167" r="0.86"/><circle cx="389.9" cy="156.4" r="1.15"/><circle cx="393.7" cy="179.7" r="0.47"/><circle cx="415.1" cy="190.4" r="0.43"/><circle cx="394.7" cy="174" r="0.32"/><circle cx="414.3" cy="181.7" r="0.33"/><circle cx="399.6" cy="185.8" r="0.49"/><circle cx="464.5" cy="171.3" r="0.74"/><circle cx="399.2" cy="195.2" r="0.48"/><circle cx="428.5" cy="190" r="0.53"/><circle cx="384.1" cy="171.2" r="0.39"/><circle cx="411.6" cy="168.8" r="0.59"/><circle cx="394.6" cy="177.5" r="0.36"/><circle cx="384.3" cy="156.6" r="0.49"/><circle cx="466.8" cy="179.5" r="0.46"/><circle cx="396.6" cy="184.5" r="0.43"/><circle cx="469.9" cy="184.4" r="0.35"/><circle cx="415.8" cy="163.6" r="0.48"/><circle cx="394.2" cy="182" r="0.31"/><circle cx="401.9" cy="170.5" r="0.74"/><circle cx="395.3" cy="188.8" r="0.97"/><circle cx="485.2" cy="169.3" r="0.33"/><circle cx="421.7" cy="200.3" r="0.69"/><circle cx="387.4" cy="169.1" r="0.31"/><circle cx="462.5" cy="150.9" r="1.04"/><circle cx="384.6" cy="187.3" r="0.49"/><circle cx="394.9" cy="166.5" r="0.95"/><circle cx="386.9" cy="173.7" r="0.83"/><circle cx="388.5" cy="169.7" r="0.46"/><circle cx="418" cy="196.6" r="0.46"/><circle cx="394.6" cy="185.2" r="1.17"/><circle cx="385.9" cy="170.6" r="0.74"/><circle cx="388.1" cy="146.9" r="0.39"/><circle cx="385.1" cy="198.6" r="0.81"/><circle cx="468.4" cy="193.8" r="1.88"/><circle cx="456.9" cy="143.6" r="0.32"/><circle cx="420.7" cy="152.8" r="0.94"/><circle cx="465.5" cy="180.9" r="0.39"/><circle cx="419.4" cy="195.6" r="0.37"/><circle cx="386.8" cy="188.6" r="0.52"/><circle cx="415.6" cy="179.4" r="0.37"/><circle cx="460.2" cy="157.2" r="0.76"/><circle cx="394.5" cy="173.7" r="0.46"/><circle cx="390.4" cy="180.2" r="0.34"/><circle cx="404" cy="197.4" r="0.54"/><circle cx="388.3" cy="188" r="0.30"/><circle cx="398.4" cy="193.5" r="0.31"/><circle cx="465.2" cy="176" r="1.04"/><circle cx="460" cy="156" r="0.33"/><circle cx="473.4" cy="181.2" r="0.38"/><circle cx="398.7" cy="185.6" r="0.65"/><circle cx="417.6" cy="164.5" r="1.50"/><circle cx="415.9" cy="164.4" r="0.50"/><circle cx="398.6" cy="178.4" r="0.40"/><circle cx="398" cy="165.5" r="0.32"/><circle cx="459.9" cy="165.9" r="0.80"/><circle cx="405.6" cy="154.7" r="0.37"/><circle cx="421.3" cy="167.7" r="0.64"/><circle cx="387.5" cy="178.8" r="0.50"/><circle cx="441.9" cy="191" r="0.34"/><circle cx="392.4" cy="174.6" r="0.48"/><circle cx="389.7" cy="147.8" r="0.41"/><circle cx="390" cy="176.8" r="0.32"/><circle cx="423.9" cy="168.9" r="0.52"/><circle cx="393.3" cy="196.8" r="0.33"/><circle cx="392.5" cy="159.8" r="0.38"/><circle cx="392" cy="190" r="0.51"/><circle cx="465.2" cy="169.1" r="0.49"/><circle cx="403.5" cy="175.2" r="0.85"/><circle cx="386.9" cy="182.9" r="0.31"/><circle cx="463.3" cy="167.8" r="0.74"/><circle cx="468.6" cy="173.5" r="0.42"/><circle cx="465.4" cy="180.5" r="0.32"/><circle cx="471.6" cy="172.1" r="0.65"/><circle cx="399.1" cy="180.5" r="0.30"/><circle cx="421" cy="164.5" r="1.58"/><circle cx="459.8" cy="155.6" r="0.35"/><circle cx="388.6" cy="168.7" r="0.52"/><circle cx="422.9" cy="164.9" r="0.66"/><circle cx="458.1" cy="156.4" r="0.35"/><circle cx="393.5" cy="161.2" r="0.55"/><circle cx="385.5" cy="170.4" r="0.32"/><circle cx="392.2" cy="166.7" r="0.32"/><circle cx="468.6" cy="176.6" r="0.64"/><circle cx="409.6" cy="188.2" r="0.31"/><circle cx="398.3" cy="154.2" r="0.56"/><circle cx="462.9" cy="163.6" r="1.42"/><circle cx="392.6" cy="187.8" r="0.37"/><circle cx="388.6" cy="175.3" r="0.39"/><circle cx="479.4" cy="189.7" r="0.45"/><circle cx="389.3" cy="170.9" r="1.08"/><circle cx="424.7" cy="175.4" r="0.32"/><circle cx="392" cy="180.3" r="0.37"/><circle cx="400.3" cy="186" r="0.41"/><circle cx="450" cy="193.2" r="0.61"/><circle cx="398.2" cy="186.3" r="1.02"/><circle cx="420.7" cy="169.6" r="0.34"/><circle cx="458" cy="158.3" r="0.76"/><circle cx="388.4" cy="172" r="0.71"/><circle cx="377.8" cy="187.8" r="0.40"/><circle cx="471.8" cy="190.9" r="1.07"/><circle cx="480.4" cy="165.7" r="0.43"/><circle cx="440.1" cy="178.3" r="0.42"/><circle cx="394.2" cy="180" r="0.42"/><circle cx="466.7" cy="176.7" r="0.69"/><circle cx="432.7" cy="188.1" r="0.38"/><circle cx="469.1" cy="175.1" r="0.39"/><circle cx="401" cy="180.8" r="0.40"/><circle cx="400.8" cy="173.1" r="0.30"/><circle cx="390.9" cy="180.7" r="0.82"/><circle cx="396.5" cy="179.7" r="0.41"/><circle cx="398.5" cy="173.8" r="0.36"/><circle cx="463.7" cy="182.5" r="0.41"/><circle cx="415.7" cy="181.4" r="0.34"/><circle cx="389.8" cy="169.6" r="0.60"/><circle cx="463.1" cy="165.6" r="0.83"/><circle cx="388.2" cy="184.9" r="0.37"/><circle cx="418.2" cy="164" r="0.51"/><circle cx="417.3" cy="185.6" r="1.17"/><circle cx="390.5" cy="192.9" r="0.47"/><circle cx="412.9" cy="194.9" r="0.88"/><circle cx="422.3" cy="166.4" r="0.37"/><circle cx="394" cy="175.4" r="1.70"/><circle cx="466.6" cy="167" r="0.51"/><circle cx="397.6" cy="195.1" r="0.52"/><circle cx="459.8" cy="149" r="0.32"/><circle cx="391.6" cy="186.2" r="0.52"/><circle cx="463" cy="168.2" r="0.36"/><circle cx="439" cy="183.3" r="0.61"/><circle cx="385.3" cy="172.6" r="0.82"/><circle cx="390" cy="182.9" r="0.85"/><circle cx="391.2" cy="169.5" r="0.84"/><circle cx="396" cy="180" r="0.56"/><circle cx="397.9" cy="190.6" r="0.33"/><circle cx="434.7" cy="196.2" r="0.50"/><circle cx="397.7" cy="183.6" r="0.51"/><circle cx="390.1" cy="173.1" r="0.49"/><circle cx="389.4" cy="179" r="0.56"/><circle cx="394.3" cy="163.3" r="0.64"/><circle cx="391.3" cy="185.8" r="0.57"/><circle cx="396.4" cy="164.7" r="0.93"/><circle cx="442.8" cy="180.4" r="0.61"/><circle cx="396.8" cy="174.8" r="0.54"/><circle cx="399.8" cy="168.1" r="0.52"/><circle cx="464.4" cy="162.5" r="0.36"/><circle cx="382.4" cy="154.9" r="0.60"/><circle cx="388.1" cy="166.8" r="0.58"/><circle cx="439.1" cy="172.9" r="0.34"/><circle cx="462.8" cy="151" r="0.38"/><circle cx="461.8" cy="155.8" r="0.35"/><circle cx="391.1" cy="175.6" r="0.56"/><circle cx="413.7" cy="184.1" r="0.34"/><circle cx="419.9" cy="166.5" r="0.34"/><circle cx="389.1" cy="174.3" r="0.43"/><circle cx="446.1" cy="189.1" r="0.99"/><circle cx="391.4" cy="166.4" r="0.63"/><circle cx="480.9" cy="182.6" r="0.77"/><circle cx="396.6" cy="166.3" r="0.37"/><circle cx="389.6" cy="173.7" r="0.86"/><circle cx="473.4" cy="186.3" r="0.64"/><circle cx="396" cy="173.1" r="0.72"/><circle cx="391.5" cy="162.2" r="0.32"/><circle cx="400.3" cy="185.9" r="0.60"/><circle cx="391.4" cy="175" r="0.63"/><circle cx="481.9" cy="169.2" r="0.42"/><circle cx="465.9" cy="166.8" r="0.40"/><circle cx="454.8" cy="139" r="0.74"/><circle cx="388" cy="182.4" r="0.54"/><circle cx="465.8" cy="152.2" r="0.41"/><circle cx="390.3" cy="195.6" r="1.07"/><circle cx="431.2" cy="162.8" r="0.64"/><circle cx="390.1" cy="186.4" r="0.60"/><circle cx="463.7" cy="161.9" r="0.46"/><circle cx="396.2" cy="189.7" r="1.18"/><circle cx="397.4" cy="166.6" r="0.34"/><circle cx="387.6" cy="157.6" r="0.31"/><circle cx="393.4" cy="174.4" r="0.33"/><circle cx="429.7" cy="155.9" r="0.44"/><circle cx="462.2" cy="164.4" r="0.53"/><circle cx="418.7" cy="199" r="0.52"/><circle cx="393.9" cy="160.9" r="0.69"/><circle cx="455.2" cy="171.8" r="0.36"/><circle cx="385.9" cy="185.2" r="0.61"/><circle cx="394.7" cy="182.2" r="0.55"/><circle cx="386.6" cy="197.3" r="0.53"/><circle cx="392.5" cy="173.7" r="0.39"/><circle cx="462.2" cy="152.4" r="0.74"/><circle cx="398.3" cy="174" r="0.85"/><circle cx="433.3" cy="180.9" r="0.42"/><circle cx="466.4" cy="169.8" r="0.34"/><circle cx="467.1" cy="176.5" r="0.51"/><circle cx="418.5" cy="163" r="0.81"/><circle cx="405.6" cy="176.2" r="0.93"/><circle cx="395.8" cy="148.8" r="0.31"/><circle cx="390.6" cy="191.5" r="0.54"/><circle cx="410.3" cy="192.9" r="0.38"/><circle cx="419.3" cy="199.9" r="0.96"/><circle cx="464.4" cy="167.5" r="0.38"/><circle cx="437.8" cy="169.5" r="0.58"/><circle cx="402" cy="164.1" r="0.33"/><circle cx="395.7" cy="182.1" r="1.00"/><circle cx="417.2" cy="192.3" r="0.64"/><circle cx="414.7" cy="189.9" r="0.43"/><circle cx="388" cy="182.1" r="0.32"/><circle cx="390.7" cy="178.9" r="0.59"/><circle cx="465.1" cy="159.4" r="0.61"/><circle cx="465.2" cy="165.5" r="0.50"/><circle cx="386.8" cy="166.8" r="0.95"/><circle cx="405.6" cy="185.3" r="0.44"/><circle cx="462.4" cy="157.5" r="0.36"/><circle cx="381.3" cy="185" r="0.76"/><circle cx="446.9" cy="180.4" r="0.53"/><circle cx="391.2" cy="179.1" r="0.72"/><circle cx="381.7" cy="177.1" r="0.35"/><circle cx="418.5" cy="183.2" r="0.73"/><circle cx="483.5" cy="174.9" r="0.43"/><circle cx="465.7" cy="165.7" r="1.13"/><circle cx="399.6" cy="189.2" r="0.70"/><circle cx="461.5" cy="155.4" r="0.63"/><circle cx="477.2" cy="163.2" r="0.60"/><circle cx="394.4" cy="184.2" r="0.45"/><circle cx="425.5" cy="166.1" r="0.62"/><circle cx="390.7" cy="174.6" r="0.31"/><circle cx="456.4" cy="147.7" r="0.51"/><circle cx="470.1" cy="181.5" r="0.32"/><circle cx="396.6" cy="175.7" r="0.30"/><circle cx="420.3" cy="199.2" r="0.44"/><circle cx="425.1" cy="166.2" r="0.39"/><circle cx="401.6" cy="176.6" r="0.39"/><circle cx="392.2" cy="191.9" r="1.06"/><circle cx="418.8" cy="192.7" r="0.63"/><circle cx="417.6" cy="181" r="1.02"/><circle cx="413.7" cy="171.1" r="0.40"/><circle cx="392.7" cy="175.4" r="0.40"/><circle cx="472" cy="178.2" r="0.35"/><circle cx="383.8" cy="174.3" r="0.73"/><circle cx="418.9" cy="200.5" r="0.60"/><circle cx="446.1" cy="170.4" r="0.32"/><circle cx="398.8" cy="149.8" r="0.49"/><circle cx="395.7" cy="182.5" r="0.34"/><circle cx="387" cy="177.6" r="0.56"/><circle cx="394.6" cy="183.7" r="0.46"/><circle cx="464.5" cy="150.7" r="0.39"/><circle cx="385" cy="184.6" r="0.65"/><circle cx="388.5" cy="186.1" r="0.65"/><circle cx="425.5" cy="199.6" r="0.71"/><circle cx="395.3" cy="173.8" r="0.39"/><circle cx="402.8" cy="184.3" r="0.31"/><circle cx="462.8" cy="176.6" r="1.23"/><circle cx="396" cy="186.1" r="0.58"/><circle cx="393.8" cy="182.3" r="0.89"/><circle cx="428.1" cy="159.8" r="0.38"/><circle cx="416.7" cy="195.6" r="0.73"/><circle cx="378.1" cy="157.6" r="0.59"/><circle cx="470.4" cy="168.6" r="1.86"/><circle cx="386.4" cy="189.1" r="0.65"/><circle cx="462.1" cy="174" r="0.30"/><circle cx="392.4" cy="168.8" r="0.49"/><circle cx="466.7" cy="177.3" r="0.52"/><circle cx="389.9" cy="156.6" r="0.77"/><circle cx="395.4" cy="189.4" r="1.43"/><circle cx="398.3" cy="179.2" r="0.32"/><circle cx="476.1" cy="199.9" r="0.35"/><circle cx="395.8" cy="186.8" r="0.35"/><circle cx="403.6" cy="174" r="1.29"/><circle cx="400" cy="152.9" r="0.32"/><circle cx="438.4" cy="167.5" r="0.39"/><circle cx="389.8" cy="151.4" r="0.44"/><circle cx="391.5" cy="171.8" r="1.03"/><circle cx="419.7" cy="166.1" r="1.15"/><circle cx="464" cy="170" r="0.69"/><circle cx="413.6" cy="167.6" r="0.53"/><circle cx="470.6" cy="177.6" r="0.56"/><circle cx="383.8" cy="157.2" r="0.55"/><circle cx="399.4" cy="187.1" r="0.84"/><circle cx="398.5" cy="190.8" r="0.36"/><circle cx="393.8" cy="163.1" r="0.45"/><circle cx="468.8" cy="175" r="0.50"/><circle cx="397.5" cy="182" r="1.38"/><circle cx="387.3" cy="179.3" r="0.46"/><circle cx="392.5" cy="172.5" r="1.42"/><circle cx="395" cy="169.9" r="0.41"/><circle cx="458.4" cy="154.8" r="0.39"/><circle cx="472.2" cy="190.1" r="0.65"/><circle cx="413.8" cy="183" r="0.53"/><circle cx="420.7" cy="200" r="0.31"/><circle cx="411.1" cy="199.1" r="0.97"/><circle cx="386" cy="173.7" r="0.42"/><circle cx="395.2" cy="171.2" r="0.33"/><circle cx="414.8" cy="161.2" r="0.44"/><circle cx="461.5" cy="150.5" r="0.37"/><circle cx="427.6" cy="190.4" r="0.76"/><circle cx="417.7" cy="187.9" r="0.35"/><circle cx="436.2" cy="159.4" r="1.12"/><circle cx="462.3" cy="168.2" r="0.95"/><circle cx="391.5" cy="164.2" r="0.67"/><circle cx="391.8" cy="170.2" r="0.49"/><circle cx="405.2" cy="197.1" r="0.61"/><circle cx="484.1" cy="170.1" r="0.42"/><circle cx="393.8" cy="171.4" r="0.58"/><circle cx="393.5" cy="194.7" r="0.74"/><circle cx="439.4" cy="183.3" r="0.87"/><circle cx="385.9" cy="184.5" r="0.36"/><circle cx="466.1" cy="166.7" r="0.37"/><circle cx="401.6" cy="180.8" r="0.70"/><circle cx="393.1" cy="175.3" r="0.31"/><circle cx="397.7" cy="162.6" r="1.25"/><circle cx="384.5" cy="168.5" r="0.56"/><circle cx="406.5" cy="185.5" r="0.83"/><circle cx="436.2" cy="161.7" r="0.38"/><circle cx="398.1" cy="176.1" r="1.29"/><circle cx="396" cy="197.7" r="0.65"/><circle cx="402" cy="174.5" r="0.63"/><circle cx="462.9" cy="159" r="0.35"/><circle cx="471.7" cy="168.5" r="0.75"/><circle cx="463.8" cy="155.4" r="0.34"/><circle cx="461" cy="151.9" r="0.39"/><circle cx="394.4" cy="207.3" r="0.46"/><circle cx="418.9" cy="201.6" r="0.64"/><circle cx="422.6" cy="166.9" r="0.77"/><circle cx="393.2" cy="160.6" r="1.31"/><circle cx="469.6" cy="179.4" r="0.62"/><circle cx="416.5" cy="168.2" r="0.47"/><circle cx="426.5" cy="157.9" r="0.39"/><circle cx="394.6" cy="197.3" r="0.30"/><circle cx="391.8" cy="195.2" r="0.82"/><circle cx="466.3" cy="176.7" r="0.42"/><circle cx="390" cy="172.2" r="0.65"/><circle cx="388.1" cy="153.9" r="0.98"/><circle cx="421.8" cy="165.6" r="0.33"/><circle cx="387.5" cy="166.8" r="0.34"/><circle cx="469.4" cy="170.6" r="0.49"/><circle cx="394.3" cy="170.7" r="0.61"/><circle cx="445.5" cy="172.4" r="0.37"/><circle cx="391.4" cy="164.3" r="0.32"/><circle cx="392.2" cy="164.8" r="0.71"/><circle cx="389.6" cy="177.2" r="1.90"/><circle cx="460.8" cy="150.6" r="0.36"/><circle cx="390.8" cy="160.2" r="0.34"/><circle cx="437.6" cy="174" r="0.45"/><circle cx="474.5" cy="173.9" r="0.37"/><circle cx="386.6" cy="184.6" r="1.77"/><circle cx="420.5" cy="164.1" r="0.45"/><circle cx="399.7" cy="176.3" r="0.83"/><circle cx="397.4" cy="176.5" r="1.03"/><circle cx="426.5" cy="168.4" r="1.28"/><circle cx="471.1" cy="186" r="0.63"/><circle cx="420.9" cy="165.6" r="0.84"/><circle cx="469.2" cy="166.3" r="0.40"/><circle cx="457.9" cy="158.4" r="0.48"/><circle cx="443.3" cy="194.4" r="0.40"/><circle cx="395.7" cy="175.7" r="0.32"/><circle cx="385.2" cy="156.6" r="0.91"/><circle cx="390.8" cy="178" r="0.68"/><circle cx="395.6" cy="192.2" r="0.34"/><circle cx="374.2" cy="172.4" r="1.19"/><circle cx="472" cy="173.7" r="0.74"/><circle cx="418.7" cy="195.2" r="0.35"/><circle cx="386.3" cy="186.3" r="0.82"/><circle cx="390.2" cy="172.7" r="0.35"/><circle cx="469" cy="180.7" r="0.60"/><circle cx="472.2" cy="188.9" r="0.31"/><circle cx="416.5" cy="201.9" r="0.35"/><circle cx="396.8" cy="180.7" r="0.89"/><circle cx="470.1" cy="179.3" r="0.31"/><circle cx="396" cy="183.2" r="0.60"/><circle cx="451" cy="159.2" r="0.44"/><circle cx="462.2" cy="172.1" r="0.52"/><circle cx="393.3" cy="174.7" r="0.90"/><circle cx="396.3" cy="176.9" r="1.88"/><circle cx="462.6" cy="157.4" r="0.30"/><circle cx="381.3" cy="171.2" r="0.45"/><circle cx="387.8" cy="172.7" r="0.56"/><circle cx="467.2" cy="173.9" r="0.34"/><circle cx="399.9" cy="171.2" r="0.44"/><circle cx="384.5" cy="176.5" r="1.13"/><circle cx="388" cy="186.7" r="0.36"/><circle cx="398.3" cy="172.8" r="0.75"/><circle cx="386.1" cy="178" r="0.69"/><circle cx="389.1" cy="185.4" r="0.41"/><circle cx="469.8" cy="183.1" r="0.38"/><circle cx="401.3" cy="188.8" r="0.50"/><circle cx="387.8" cy="193.4" r="0.52"/><circle cx="381.3" cy="175.8" r="0.69"/><circle cx="384.9" cy="187" r="0.33"/><circle cx="459.1" cy="155.6" r="1.09"/><circle cx="414.2" cy="187.5" r="0.41"/><circle cx="416.6" cy="200.5" r="0.47"/><circle cx="462.6" cy="167.1" r="0.52"/><circle cx="396.3" cy="177.1" r="0.89"/><circle cx="465.7" cy="166.3" r="0.54"/><circle cx="385.9" cy="184.5" r="0.31"/><circle cx="400.9" cy="186.8" r="0.45"/><circle cx="470.2" cy="176.9" r="1.41"/><circle cx="420.7" cy="182.9" r="0.32"/><circle cx="418" cy="179.1" r="0.41"/><circle cx="417.3" cy="183.8" r="0.67"/><circle cx="477.8" cy="174.6" r="0.38"/><circle cx="424.3" cy="197.8" r="0.33"/><circle cx="466.2" cy="176.2" r="0.36"/><circle cx="384.3" cy="174.7" r="0.44"/><circle cx="428.6" cy="171.5" r="0.75"/><circle cx="395.1" cy="162.6" r="1.02"/><circle cx="419.2" cy="171.4" r="0.56"/><circle cx="384.9" cy="147.9" r="0.82"/><circle cx="385.6" cy="169.4" r="0.52"/><circle cx="460.7" cy="156.9" r="0.53"/><circle cx="397.2" cy="182.2" r="1.05"/><circle cx="392.2" cy="165.4" r="0.47"/><circle cx="424.9" cy="198" r="0.58"/><circle cx="389.1" cy="189.1" r="0.98"/><circle cx="420.4" cy="166.2" r="0.58"/><circle cx="397.4" cy="192.5" r="0.35"/><circle cx="383.7" cy="165.9" r="0.57"/><circle cx="396.4" cy="178.5" r="0.56"/><circle cx="470.2" cy="189.2" r="0.77"/><circle cx="395.5" cy="188.1" r="0.64"/><circle cx="476.7" cy="165.8" r="0.37"/><circle cx="387.8" cy="169.7" r="0.52"/><circle cx="394.4" cy="166.5" r="0.33"/><circle cx="467" cy="165.1" r="0.44"/><circle cx="465.1" cy="180.9" r="0.31"/><circle cx="391.6" cy="172.8" r="0.32"/><circle cx="419.6" cy="202.1" r="0.38"/><circle cx="417.2" cy="166.4" r="0.31"/><circle cx="462.4" cy="156.5" r="1.40"/><circle cx="473.8" cy="201.8" r="0.74"/><circle cx="397.9" cy="169.6" r="0.39"/><circle cx="430.9" cy="184" r="0.67"/><circle cx="389.6" cy="181.9" r="0.31"/><circle cx="463.6" cy="166.7" r="0.49"/><circle cx="378.4" cy="171.2" r="0.64"/><circle cx="430.6" cy="167.1" r="0.65"/><circle cx="446" cy="168" r="0.73"/><circle cx="388.3" cy="163.9" r="0.48"/><circle cx="388" cy="163.2" r="0.57"/><circle cx="392.8" cy="188.9" r="0.40"/><circle cx="390.2" cy="163.4" r="0.30"/><circle cx="390.7" cy="172.7" r="0.73"/><circle cx="387.9" cy="184.4" r="1.29"/><circle cx="390.1" cy="174.6" r="0.63"/><circle cx="458.2" cy="165.1" r="0.40"/><circle cx="399.2" cy="193.2" r="0.35"/><circle cx="436.8" cy="178.1" r="0.35"/><circle cx="481" cy="165.4" r="0.40"/><circle cx="395.7" cy="173.5" r="0.48"/><circle cx="463.5" cy="157.9" r="0.38"/><circle cx="465.9" cy="166" r="0.66"/><circle cx="394" cy="169.7" r="0.73"/><circle cx="393.2" cy="182.2" r="0.71"/><circle cx="426.2" cy="196.8" r="0.50"/><circle cx="399.5" cy="174" r="0.60"/><circle cx="399.3" cy="174.7" r="1.02"/><circle cx="389.2" cy="183.4" r="1.06"/><circle cx="478.2" cy="145.4" r="0.33"/><circle cx="387.4" cy="161.2" r="0.56"/><circle cx="400.9" cy="173.9" r="0.39"/><circle cx="397.5" cy="168.5" r="0.51"/><circle cx="394.9" cy="178.6" r="0.60"/><circle cx="387.3" cy="172.7" r="0.40"/><circle cx="381" cy="153.4" r="0.53"/><circle cx="411.6" cy="184.9" r="0.39"/><circle cx="383.6" cy="165.9" r="0.48"/><circle cx="391.2" cy="158.7" r="0.38"/><circle cx="397.1" cy="155.1" r="0.56"/><circle cx="396.9" cy="179.6" r="0.32"/><circle cx="416.5" cy="191.3" r="1.09"/><circle cx="463.3" cy="152.7" r="0.77"/><circle cx="414.6" cy="168.8" r="0.63"/><circle cx="463.8" cy="160.3" r="0.34"/><circle cx="462.7" cy="159.5" r="0.96"/><circle cx="393" cy="178.6" r="0.69"/><circle cx="392.9" cy="177.5" r="0.42"/><circle cx="381.3" cy="161.1" r="0.79"/><circle cx="416.6" cy="162.8" r="0.38"/><circle cx="395.6" cy="173.2" r="0.44"/><circle cx="459.6" cy="159" r="0.35"/><circle cx="400.9" cy="179.6" r="1.05"/><circle cx="421" cy="165.1" r="0.48"/><circle cx="464" cy="154.9" r="0.61"/><circle cx="470.2" cy="183.7" r="0.64"/><circle cx="469.9" cy="181.4" r="0.30"/><circle cx="471.3" cy="171" r="0.75"/><circle cx="419.2" cy="198.5" r="0.68"/><circle cx="418.8" cy="204.1" r="0.71"/><circle cx="416.7" cy="169.3" r="0.33"/><circle cx="388.7" cy="170.5" r="0.30"/><circle cx="393.8" cy="186.6" r="0.36"/><circle cx="385.4" cy="183.8" r="0.80"/><circle cx="430.4" cy="164.1" r="0.77"/><circle cx="399.9" cy="193.1" r="0.80"/><circle cx="386.4" cy="161.4" r="0.35"/><circle cx="387.1" cy="181.4" r="0.60"/><circle cx="389" cy="185.2" r="0.82"/><circle cx="389.9" cy="186.6" r="0.63"/><circle cx="466.7" cy="159.4" r="1.73"/><circle cx="454.2" cy="159.9" r="0.79"/><circle cx="400.4" cy="170.7" r="0.47"/><circle cx="384" cy="171.6" r="0.35"/><circle cx="466.4" cy="182.5" r="0.33"/><circle cx="461.3" cy="159.6" r="0.44"/><circle cx="461.8" cy="160.5" r="0.57"/><circle cx="465.7" cy="160.7" r="0.33"/><circle cx="393.1" cy="186.8" r="0.37"/><circle cx="386.4" cy="168.8" r="0.86"/><circle cx="396.3" cy="157.9" r="0.38"/><circle cx="390.7" cy="173.4" r="0.49"/><circle cx="472.7" cy="198.4" r="0.38"/><circle cx="469.9" cy="176.8" r="0.53"/><circle cx="465.1" cy="169.1" r="1.20"/><circle cx="385.7" cy="179.6" r="0.88"/><circle cx="457.3" cy="158.3" r="0.74"/><circle cx="390.5" cy="194.2" r="0.65"/><circle cx="386.5" cy="188.4" r="0.36"/><circle cx="384.4" cy="186.2" r="0.41"/><circle cx="402.8" cy="184.6" r="0.53"/><circle cx="470.1" cy="197.3" r="0.37"/><circle cx="382.9" cy="184.8" r="0.57"/><circle cx="418.2" cy="163.9" r="0.38"/><circle cx="416.2" cy="199.9" r="0.51"/><circle cx="381.8" cy="154.2" r="1.46"/><circle cx="463" cy="157.3" r="1.07"/><circle cx="391.3" cy="182.7" r="0.84"/><circle cx="470.4" cy="192.1" r="0.55"/><circle cx="432.3" cy="165.8" r="0.75"/><circle cx="380.2" cy="187.6" r="0.48"/><circle cx="394.7" cy="174.4" r="0.33"/><circle cx="394.3" cy="166.8" r="0.47"/><circle cx="396.2" cy="185.8" r="0.40"/><circle cx="459.9" cy="149.7" r="0.59"/><circle cx="396.2" cy="168.3" r="0.54"/><circle cx="462.5" cy="156.7" r="0.49"/><circle cx="464" cy="163.1" r="0.61"/><circle cx="462.5" cy="167.3" r="0.42"/><circle cx="395" cy="174.4" r="0.40"/><circle cx="396.8" cy="174.1" r="0.53"/><circle cx="471.9" cy="195.5" r="0.64"/><circle cx="414.4" cy="184.4" r="0.80"/><circle cx="430.8" cy="159.7" r="0.57"/><circle cx="470.2" cy="184.7" r="0.66"/><circle cx="397.8" cy="181.4" r="0.32"/><circle cx="389.7" cy="182.3" r="0.52"/><circle cx="382.8" cy="187.9" r="0.45"/><circle cx="473.2" cy="208.2" r="0.54"/><circle cx="414.6" cy="194.5" r="0.83"/><circle cx="471.8" cy="177" r="0.61"/><circle cx="384.5" cy="176.8" r="0.35"/><circle cx="402.3" cy="172.4" r="0.31"/><circle cx="400.9" cy="189.6" r="0.48"/><circle cx="467.3" cy="176.8" r="0.30"/><circle cx="406.3" cy="186.6" r="1.69"/><circle cx="464.4" cy="168.1" r="0.53"/><circle cx="393.3" cy="192.8" r="0.71"/><circle cx="462.1" cy="161.3" r="0.68"/><circle cx="390.3" cy="160.7" r="0.36"/><circle cx="443.5" cy="161" r="0.36"/><circle cx="461.6" cy="157" r="0.37"/><circle cx="467.5" cy="176.2" r="0.48"/><circle cx="403.9" cy="189.1" r="0.53"/><circle cx="456.2" cy="155.3" r="0.77"/><circle cx="412.7" cy="190.7" r="0.40"/><circle cx="394" cy="191.3" r="0.43"/><circle cx="451.9" cy="167.1" r="0.49"/><circle cx="468.6" cy="170.1" r="0.50"/><circle cx="464.7" cy="172.4" r="0.30"/><circle cx="384" cy="166.5" r="0.36"/><circle cx="420" cy="171.4" r="0.55"/><circle cx="395.5" cy="178.9" r="0.30"/><circle cx="460" cy="156.8" r="0.33"/><circle cx="462.4" cy="166.3" r="1.30"/><circle cx="473.1" cy="194.8" r="0.79"/><circle cx="395.3" cy="174.2" r="0.60"/><circle cx="397.6" cy="203.4" r="0.37"/><circle cx="385.8" cy="172.8" r="0.51"/><circle cx="399.6" cy="189.3" r="0.62"/><circle cx="422" cy="161.9" r="0.40"/><circle cx="412.6" cy="186.4" r="0.31"/><circle cx="391.3" cy="177.8" r="0.52"/><circle cx="387.3" cy="176.6" r="0.62"/><circle cx="393.9" cy="164.4" r="0.35"/><circle cx="393.2" cy="171.5" r="1.17"/><circle cx="391.1" cy="163.1" r="0.43"/><circle cx="421.3" cy="168.6" r="0.39"/><circle cx="384.4" cy="171.6" r="0.35"/><circle cx="414" cy="164.8" r="0.78"/><circle cx="419.7" cy="159.9" r="0.41"/><circle cx="393.5" cy="159.1" r="0.96"/><circle cx="467.1" cy="181.1" r="0.48"/><circle cx="397.9" cy="185.2" r="0.70"/><circle cx="382.7" cy="178.3" r="0.71"/><circle cx="424.9" cy="202.6" r="0.38"/><circle cx="390.6" cy="183.1" r="0.74"/><circle cx="393.6" cy="179.5" r="0.41"/><circle cx="393.1" cy="170.3" r="0.33"/><circle cx="387.3" cy="174.1" r="0.77"/><circle cx="454.1" cy="146.1" r="0.49"/><circle cx="460.6" cy="159.3" r="0.31"/><circle cx="394.6" cy="176.3" r="0.34"/><circle cx="395.1" cy="188.4" r="0.50"/><circle cx="397.5" cy="146.6" r="0.31"/><circle cx="385.7" cy="160.2" r="0.49"/><circle cx="470.3" cy="177.3" r="1.29"/><circle cx="427.3" cy="176.3" r="0.51"/><circle cx="384.7" cy="160.5" r="0.47"/><circle cx="462.2" cy="172.1" r="0.35"/><circle cx="385.5" cy="170.2" r="0.96"/><circle cx="392.6" cy="190" r="0.37"/><circle cx="389.7" cy="162.6" r="0.35"/><circle cx="463.9" cy="156.1" r="0.35"/><circle cx="415.4" cy="180.5" r="0.47"/><circle cx="462.8" cy="179.8" r="0.33"/><circle cx="389.2" cy="171.3" r="0.32"/><circle cx="439" cy="171.7" r="0.47"/><circle cx="411.7" cy="164" r="0.69"/><circle cx="387.7" cy="187.8" r="0.63"/><circle cx="385.8" cy="175.2" r="0.36"/><circle cx="458.5" cy="151.5" r="0.52"/><circle cx="465.7" cy="172.1" r="0.62"/><circle cx="474.1" cy="199.4" r="0.77"/><circle cx="395.7" cy="163.6" r="0.30"/><circle cx="422.4" cy="166.6" r="0.31"/><circle cx="400.4" cy="170.5" r="0.44"/><circle cx="392.7" cy="181.3" r="1.15"/><circle cx="462.9" cy="161.9" r="0.56"/><circle cx="396.2" cy="190.5" r="0.31"/><circle cx="419.6" cy="163.6" r="0.98"/><circle cx="423.7" cy="174.7" r="0.89"/><circle cx="400.6" cy="174.6" r="0.71"/><circle cx="385.7" cy="168.9" r="0.50"/><circle cx="390.4" cy="191.7" r="1.00"/><circle cx="394.4" cy="167.3" r="1.09"/><circle cx="460.2" cy="152.9" r="0.51"/><circle cx="387.2" cy="171.8" r="0.32"/><circle cx="472.6" cy="173.3" r="0.64"/><circle cx="400.2" cy="169.4" r="0.41"/><circle cx="410.6" cy="190.5" r="0.46"/><circle cx="393" cy="173.1" r="0.53"/><circle cx="424.3" cy="158" r="0.42"/><circle cx="462" cy="191.5" r="0.40"/><circle cx="419.9" cy="165.4" r="0.43"/><circle cx="395.4" cy="173.7" r="1.00"/><circle cx="461.8" cy="165" r="0.33"/><circle cx="389.8" cy="183.3" r="1.90"/><circle cx="389.9" cy="199.4" r="0.69"/><circle cx="459.4" cy="158.9" r="0.55"/><circle cx="409.6" cy="187.8" r="0.53"/><circle cx="386.4" cy="178.9" r="0.35"/><circle cx="414.3" cy="192.1" r="0.30"/><circle cx="467.1" cy="182.4" r="0.43"/><circle cx="459.6" cy="160.9" r="0.46"/><circle cx="412.3" cy="190" r="0.51"/><circle cx="414.4" cy="184.9" r="0.35"/>
<circle cx="232.5" cy="283.5" r="2.4"/><circle cx="249" cy="269.5" r="2.8"/><circle cx="268" cy="270" r="2.2"/><circle cx="339.5" cy="244.5" r="2.3"/><circle cx="310" cy="252" r="2.6"/><circle cx="300" cy="247" r="2.5"/><circle cx="228" cy="303.5" r="1.3"/><circle cx="281" cy="300" r="1.2"/><circle cx="497" cy="192.5" r="1.2"/>
</g>
<path d="M282.7 307.8 C300 303 322 293 341.8 278.4 C362 262 380 243 402.5 227.8 C425 216 455 213 476.8 216 L487 218.4" stroke="#3a3a3a" stroke-width=".75" stroke-dasharray="1.5 1.3" fill="none"/>
<g stroke="#111" stroke-width="1.1" fill="none">
<path d="M55.8 27.3H61.4M61.4 27.3 L455.4 4.4 L728.9 21.4 V27.2"/>
<path d="M61.4 27 V374.2 L335.5 390.7 L728.9 367.8 V359.3"/>
<path d="M55.8 66.3H61.4"/>
<path d="M55.8 104.8H61.4"/>
<path d="M55.8 143.3H61.4"/>
<path d="M55.8 181.9H61.4"/>
<path d="M55.8 220.4H61.4"/>
<path d="M55.8 258.9H61.4"/>
<path d="M55.8 297.4H61.4"/>
<path d="M55.8 335.9H61.4"/>
<path d="M91.8 376v6.2M213.3 383.4v6.2M335.5 390.7v6.2M433.6 385v6.2M532.4 379.3v6.2M630.8 373.6v6.2"/>
</g>
<g stroke="#111" stroke-width="1.1" fill="none" stroke-dasharray="5.2 3.2">
<path d="M455.4 4.4 V350.8"/>
<path d="M61.4 374.2 L455.4 350.8 L728.9 367.2"/>
</g>
<g stroke="#111" stroke-width="1" fill="#111">
<path d="M250 378.9 L279 380.6" fill="none"/>
<path d="M246.6 378.7 l5.6 -2.4 l-1 2.6 l.7 2.7z M282.4 380.8 l-5.6 2.4 l1 -2.6 l-.7 -2.7z" stroke-width=".4"/>
<path d="M457 376.6 L486 375" fill="none"/>
<path d="M453.6 376.8 l5.4 -2.9 l-.8 2.7 l1.1 2.5z M489.6 374.8 l-5.4 2.9 l.8 -2.7 l-1.1 -2.5z" stroke-width=".4"/>
</g>
<g font-family="'Liberation Sans',Arial,sans-serif" fill="#111">
<g font-size="14" text-anchor="end">
<text x="46.8" y="32.8">-5</text>
<text x="46.8" y="71.3">0</text>
<text x="46.8" y="109.8">5</text>
<text x="46.8" y="148.4">10</text>
<text x="46.8" y="186.9">15</text>
<text x="46.8" y="225.4">20</text>
<text x="46.8" y="263.9">25</text>
<text x="46.8" y="302.4">30</text>
<text x="46.8" y="341.0">35</text>
</g>
<text transform="translate(19.9 297) rotate(-90)" font-size="14.45">km al di sotto del livello del mare</text>
<g font-size="14.4">
<text x="76.8" y="400">37.9° N</text>
<text x="198.5" y="407">37.7° N</text>
<text x="320" y="414">37.5° N</text>
<text x="419" y="408.7">14.8° E</text>
<text x="517.3" y="402.7">15.0° E</text>
<text x="616.2" y="397.3">15.2° E</text>
</g>
<g font-size="12.8">
<text x="236.9" y="382.6">N</text><text x="283.2" y="385.1">S</text>
<text x="440.4" y="381.6">O</text><text x="490.4" y="378.8">E</text>
</g>
<text x="330.2" y="29.6" font-size="14.25" font-weight="bold" fill="#000">Monte Etna</text>
<g font-size="10.8" font-weight="bold">
<text x="67.8" y="43.1" fill="#9d0e3d">Volume sismogenico superficiale</text>
<text x="67.8" y="103.9" fill="#dd9a14">Volume sismogenico intermedio</text>
<text x="67.8" y="201.2" fill="#2b7ce6">Volume sismogenico profondo</text>
</g>
</g>
<rect x="616.7" y="30.1" width="316.9" height="93.5" fill="#fff"/>
<g fill="none" stroke="#e08a9c" stroke-width=".7" stroke-linejoin="round">
<path d="M659 46.7 L681.6 89.5 L682.2 86 L689 75.8 L692 70 L693.6 63.6 L695.3 69.9 L700 70.3 L705.4 70.5 L707.9 73.7 L711 71.5 L714.2 68.8 L716.3 71.6 L718.4 70.5 L721.6 76.8 L726.8 74.1 L730 77.9 L733.2 75.2 L744.7 75.2 L746.8 70.5 L750 71.6 L752.1 75.2 L775.3 75.2 L779 72.5 L781.6 68.8 L783.7 75.2 L789 75.2 L793.2 75.2 L795.3 69.5 L796.3 61 L797.4 68.8 L817.4 67.4 L834.2 63.8 L858.4 57.9 L858.6 46.3 L871 36.2 L872.1 40 L876.3 40.4 L876.7 61 L893.2 67.4 L905.8 67.4 L914.6 72.6"/>
<path d="M659 107 L681.6 116.2 L689 110.5 L693.2 100 L695.3 99.6 L705.8 102.5 L710 100.5 L714.2 99 L720.5 100 L723.7 97.9 L730 96.8 L735.3 92.6 L744.7 91.6 L746.8 87.4 L752.1 88.4 L775.3 88.4 L781.6 86.3 L784.7 90.5 L793.2 91.6 L794.6 83.2 L796.3 82.1 L817.4 82.5 L858.4 81 L870 78.5 L876.3 80 L876.7 94.7 L893.2 99 L905.8 102.1 L914.6 106.5"/>
</g>
<path d="M616.7 82.5H933.6" stroke="#484848" stroke-width=".9" stroke-dasharray="4.6 2.6" fill="none"/>
<path d="M658.8 76.4 L668.9 90.1 L681.6 101 L681.8 102.8 L682 100 L689 94.7 L692 89.5 L693.6 82.1 L695.3 85.3 L705.4 88.4 L707.9 89.4 L711 86.3 L714.2 82 L716.3 86.3 L718.4 85.2 L721.6 89.4 L724.7 86.3 L727.9 85.2 L730 90.5 L733.2 87.3 L735.3 84.2 L737 83.5 L741 83.3 L745.8 82.1 L747.5 80 L750 81.5 L753.2 82.1 L758.4 82.5 L775.3 82.1 L778.4 80 L782 77.3 L783.7 82.1 L786.8 84.2 L790 82.7 L793.2 83.2 L794.2 76.8 L795.9 69.5 L796.7 74.7 L799.5 75.8 L817.4 74.7 L832.1 73 L858.4 69.5 L858.6 63.2 L871 57.3 L872.1 61.5 L876.3 62.5 L876.7 78.5 L892.7 82.7 L906.8 84.8 L914.6 89.7" fill="none" stroke="#a8123f" stroke-width="0.55" stroke-linejoin="round" stroke-linecap="round"/>
<path d="M681.5 103 L681.9 99.5 L684 98 L686.5 96 L689 94.7 L690.5 92.5 L692 89.5 L693 85 L693.6 82.5 L694.4 84 L695.3 85.5M705.4 88.4 L706.6 90 L707.9 89.4 L709.5 87.5 L711 86.3 L712.6 85M713.6 84.5 L714.2 83 L715.2 85 L716.3 86.6 L717.4 85.6 L718.4 85.2 L720 88 L721.6 89.6 L723.2 87.5 L724.7 86.3 L726.3 85.6 L727.9 85.4M729.3 88.5 L730 90.7 L731.6 88.5 L733.2 87.3 L734.3 85.5 L735.3 84.2 L737 83.6M775.3 82.3 L776.8 81.6 L778.4 80.2 L780.2 79 L782 77.6 L782.8 80 L783.7 82.1 L785.2 83.4 L786.8 84.3 L788.4 83.4 L790 82.8 L791.6 83 L793.2 83.2" fill="none" stroke="#a8123f" stroke-width="1.45" stroke-linejoin="round" stroke-linecap="round"/>
<path d="M745.2 82.4 L745.9 79.6 L747.5 79.6 L748.6 81 L750 81.5 L751.6 82 L753.2 82.2M793.4 83.4 L793.9 79 L794.4 75.5 L795.3 71.5 L795.9 69.5 L796.3 72.5 L796.7 75" fill="none" stroke="#a8123f" stroke-width="2.1" stroke-linejoin="round" stroke-linecap="round"/>
<path d="M658.8 76.4h0M668.9 90.1h0M741 82.3h0M756 82.3h0M758.4 82.5h0M798 75.6h0M799.5 75.8h0M817.4 74.7h0M818.2 74.2h0M832.1 73h0M858.4 69.5h0M858.5 67.4h0M858.6 65.2h0M858.6 63.2h0M871 57.3h0M872.1 61.5h0M876.3 62.5h0M876.4 65h0M876.5 67.5h0M876.5 70h0M876.6 72.5h0M876.6 74.5h0M876.7 76.5h0M876.7 78.5h0M892.7 82.7h0M906.8 84.8h0M914.6 89.7h0" fill="none" stroke="#a8123f" stroke-width="1.6" stroke-linejoin="round" stroke-linecap="round"/>
<g stroke="#4a4a4a" stroke-width=".7" fill="none">
<rect x="616.7" y="30.1" width="316.9" height="93.5"/>
<path d="M651.9 30.1v3.2M651.9 123.6v-3.2M687.1 30.1v3.2M687.1 123.6v-3.2M722.3 30.1v3.2M722.3 123.6v-3.2M757.5 30.1v3.2M757.5 123.6v-3.2M792.8 30.1v3.2M792.8 123.6v-3.2M828.0 30.1v3.2M828.0 123.6v-3.2M863.2 30.1v3.2M863.2 123.6v-3.2M898.4 30.1v3.2M898.4 123.6v-3.2M613.1 30.1h3.6M613.1 61.2h3.6M613.1 92.4h3.6M613.1 123.6h3.6M933.6 30.1h3.8M933.6 61.2h3.8M933.6 92.4h3.8M933.6 123.6h3.8"/>
</g>
<g font-family="'Liberation Sans',Arial,sans-serif" font-size="10.4" fill="#333" text-anchor="end">
<text x="611.3" y="33.8">3</text>
<text x="611.3" y="64.9">2</text>
<text x="611.3" y="96.1">1</text>
<text x="611.3" y="127.3">0</text>
</g>
<rect x="616.7" y="127.9" width="316.9" height="105.2" fill="#fff"/>
<g fill="none" stroke="#f8d9a0" stroke-width=".7" stroke-linejoin="round">
<path d="M616.7 187.1 L623.8 184.2 L628.7 180.8 L629.4 178.1 L629.6 188.7 L635 186.4 L644 174 L650.8 163.9 L651.9 158.3 L654.2 161.7 L655.8 150 L657.6 142.5 L662.1 144.8 L665 142.5 L668.8 141.4 L672 142.8 L675.6 142.5 L678 140.6 L680.1 140.3 L682.3 141.4 L684.1 136.2 L685.7 143.6 L686.8 149.3 L688.5 157 L690.2 165 L693.6 170.7 L700.4 170.7 L701.5 176.3 L704.9 178.6 L707.2 184 L709.4 189.8 L712.7 192.1 L716.1 189.8 L718.4 186 L720.2 183 L721.8 187.6 L722.9 194.3 L736.4 196.6 L747.7 198.8 L752.2 200 L756 198.4 L761.2 197.7 L770.2 198.8 L781.4 198.8 L786 197 L790 196.6 L793 196 L797.3 198.8 L817.6 200 L855.9 200.6 L858.1 199.3 L873.9 199.3 L877.3 201.5 L889.6 200.6 L903.2 198.8 L916.7 200.6 L932.4 200.6"/>
<path d="M616.7 226.3 L628.7 224.7 L629.6 230.8 L635 229.2 L644 224.7 L650.8 219.1 L651.9 212.3 L655.3 196.6 L659.8 188.7 L668.8 185.3 L675.6 184.2 L680.1 181.9 L682.3 179.7 L684.1 183 L686.8 187.6 L690.2 193.2 L693.6 197.7 L700.4 196.6 L702.6 198.8 L706 202.2 L709.4 205.6 L712.7 206.7 L716.1 205.1 L720.6 202.2 L722.9 206.7 L736.4 207.8 L747.7 211.2 L752.2 211.9 L761.2 209 L770.2 209 L781.4 209 L786 206.7 L797.3 206.7 L817.6 207.8 L855.9 209 L873.9 209 L877.3 215 L889.6 214.6 L903.2 212.3 L916.7 214.6 L932.4 215.7"/>
</g>
<path d="M616.7 204.5H933.6" stroke="#5e5e5e" stroke-width=".9" stroke-dasharray="4.6 2.6" fill="none"/>
<path d="M623.8 205.1 L625.2 204.6M628.3 202.5 L628.9 200.6M629.4 209.2 L631 209.3M632.6 209.2 L634 208.6M635.4 205.6 L636.4 204.4M640.4 199.8 L642 198.6M643.5 198 L644.3 197.6M646.6 197 L647.6 196.4M649.4 194.5 L650.3 193M650.9 190.5 L651.2 188M651.5 185.6 L652 184.6M652.8 186.5 L653.4 184.4M653.9 182.5 L654.3 181" fill="none" stroke="#eda214" stroke-width="1.9" stroke-linejoin="round" stroke-linecap="round"/>
<path d="M654.8 179.6 L655.6 175 L656.6 169.5 L657.6 166.2 L659.4 165.4 L662.1 166.2 L664.4 165 L666.6 164.4 L668.8 163.9 L671.1 164.4 L673.3 162.8 L675.6 162.3 L677.8 162.8 L680.1 161.7 L681.5 160.5 L682.3 162.8 L683.2 159 L684.1 156 L684.6 160 L685 165 L686.8 166.2 L687.4 170 L688 174 L689 177.4 L690.2 179.7 L691.9 183 L693.6 185.3 L695.8 186 L698.1 184.2 L699.8 183 L701 181.9 L701.8 185 L702.6 187.6 L704.3 189.5 L706 191 L707.7 194.3 L709.4 197.7 L711 199.3 L712.7 200 L714.4 199 L716.1 197.7 L718.4 194.3 L719.4 192 L720.2 190.3 L721 192.5 L721.8 194.3 L722.4 198 L722.9 200 L727.4 201 L731.9 201.5 L736.4 201.5 L739.8 202.2 L743.2 203.3 L745.4 204.7 L747.7 205.6 L750 206.3 L752.2 206.3 L754.5 204.7 L756.8 203.8 L761.2 203.3 L765.8 204.2 L770.2 204.5 L774.8 204 L777 204.7 L779.3 203.8 L783.8 203.1 L786 201.5 L788.3 202.4 L790.5 203.3 L793.5 202.9 L797.3 203.8" fill="none" stroke="#eda214" stroke-width="2.05" stroke-linejoin="round" stroke-linecap="round"/>
<path d="M799.5 204 L802 204.2M806 204.3 L807 204.3M811 204.5 L815.4 204.6M824.4 204.6 L829 204.7M837.9 205 L842.4 205.2M844.6 205.6 L846.8 205.8M851.4 206 L853.6 206.2M856.5 205.4 L860.4 205M862.7 204.8 L868.3 204.7M870.5 204.7 L873.9 204.7M874.8 207 L877.3 209.7M877.3 209.7 L881.8 208.5M885.1 207.8 L889.6 207M891.9 206.7 L896.4 206.2M898.6 206 L905.4 205.6M907.7 206.3 L909.9 206.7M915.5 207.6 L918.9 208M921.2 208.3 L924.6 208.3M928 208 L932.4 207.8" fill="none" stroke="#eda214" stroke-width="1.55" stroke-linejoin="round" stroke-linecap="round"/>
<g stroke="#4a4a4a" stroke-width=".7" fill="none">
<rect x="616.7" y="127.9" width="316.9" height="105.2"/>
<path d="M651.9 127.9v3.2M651.9 233.1v-3.2M687.1 127.9v3.2M687.1 233.1v-3.2M722.3 127.9v3.2M722.3 233.1v-3.2M757.5 127.9v3.2M757.5 233.1v-3.2M792.8 127.9v3.2M792.8 233.1v-3.2M828.0 127.9v3.2M828.0 233.1v-3.2M863.2 127.9v3.2M863.2 233.1v-3.2M898.4 127.9v3.2M898.4 233.1v-3.2M613.1 148.8h3.6M613.1 191.4h3.6M613.1 233.1h3.6M933.6 148.8h3.8M933.6 170.0h3.8M933.6 191.4h3.8M933.6 212.3h3.8"/>
</g>
<g font-family="'Liberation Sans',Arial,sans-serif" font-size="10.4" fill="#333" text-anchor="end">
<text x="611.3" y="152.5">3</text>
<text x="611.3" y="195.1">2</text>
<text x="611.3" y="236.8">1</text>
</g>
<rect x="616.7" y="237.0" width="316.9" height="106.1" fill="#fff"/>
<g fill="none" stroke="#a9cdf6" stroke-width=".7" stroke-linejoin="round">
<path d="M616.7 282 L623.8 282 L629.4 277.8 L633.6 258.1 L636.4 248.3 L640.6 253.9 L646.3 265.2 L647.7 284.9 L649.6 283.4 L649.9 266.6 L651.9 272.2 L654.1 272.2 L654.4 262.3 L655 304.5 L663.1 304.5 L674.4 302.6 L687 301.7 L691.3 298.9 L692.7 297.8 L694.1 300.3 L698.3 304.5 L708.1 305.9 L710.3 302 L712.4 300.3 L718 301.7 L718.8 308.8 L736.3 307.4 L746.1 306.5 L751.7 303.1 L755.9 307.4 L758.8 313 L764.4 313 L767.2 304.5 L775.7 298.9 L784.1 294.7 L786.9 280.6 L788 275.6 L790.8 276.4 L791.6 300.3 L795 306 L800.6 301.7 L826 296.1 L828.8 289.1 L833.8 289.1 L834.4 300.3 L847 298.9 L852.7 283.4 L859.7 284.9 L861.1 279.2 L871 280.6 L871.5 297.5 L878 298.9 L878.6 295.3 L886.4 296.1 L887 301.7 L896.3 300.3 L918.8 291.9 L922.2 293.3 L923 298.9 L925 298.1"/>
<path d="M616.7 322.3 L629.4 321.4 L632.2 317.2 L640.6 315.8 L646.3 317.2 L647.7 322.8 L651.9 322.3 L654.4 324.2 L655 319.5 L663.1 319.5 L687 318.6 L691.3 321.4 L702.5 322.8 L712.4 318.6 L718.8 321.4 L736.3 320 L751.7 320 L758.8 325.6 L765.8 325.6 L768.6 320 L786.9 318.6 L789.4 314.4 L791.6 320 L795 324.2 L800.6 318.6 L826 314.4 L834.4 314.4 L834.9 315.8 L847 314.4 L862.5 313.8 L871 314.4 L871.5 322.8 L878 325.6 L878.6 327 L878.9 317.2 L886.4 317.8 L887 320 L896.3 320 L918.8 318.6 L923 322.8 L925 323.4"/>
<path d="M654.4 262.3 L654.4 324.2"/>
<path d="M878.5 295 L878.5 327"/>
</g>
<path d="M616.7 316.4H933.6" stroke="#808080" stroke-width=".9" stroke-dasharray="4.6 2.6" fill="none"/>
<path d="M625.2 301.7 L631.6 296.1 L632.2 289.1 L635 286.3 L636.4 279.2 L644.9 289.1 L647.7 304.5 L649.9 301.7 L650.5 291.9 L654.1 283.4 L654.4 311.6" fill="none" stroke="#1f7be8" stroke-width="0.5" stroke-linejoin="round" stroke-linecap="round"/>
<path d="M625.2 301.7h0M631.6 296.1h0M631.8 293.5h0M632 291h0M632.2 289.1h0M635 286.3h0M635.4 284h0M635.9 281.5h0M636.4 279.2h0M644.9 289.1h0M647.7 304.5h0M649.9 301.7h0M650 299h0M650.2 296.5h0M650.3 294h0M650.5 291.9h0M653.8 297h0M653.9 294.5h0M654 292h0M654 289.5h0M654.1 287h0M654.1 284.8h0M654.1 283h0M654.3 300h0M654.3 303h0M654.4 306h0M654.4 309h0M654.4 311.6h0" fill="none" stroke="#1f7be8" stroke-width="1.7" stroke-linejoin="round" stroke-linecap="round"/>
<path d="M655.3 313.2h0M656.4 313.8h0M657.7 313.7h0M661.3 313.5h0M667 312.9h0M668.3 312.7h0M669.6 312.5h0M670.9 312.3h0M672.1 312h0M674.7 311.6h0M676 311.5h0M677.3 311.4h0M686 311h0M687.3 310.9h0M690.4 309.9h0M691.1 309.7h0M693.1 310.1h0M694 310.2h0M695.1 311.1h0M696 312h0M696.9 313h0M697.8 313.9h0M700.4 315.4h0M701.3 315.6h0M702.5 315.8h0M703.1 315.5h0M703.8 315.2h0M704.4 314.9h0M705.8 314.3h0M706.9 313.6h0M711.6 310.6h0M712.9 310.3h0M713.6 310.5h0M717.3 311.4h0M719.2 313.5h0M719.8 313.8h0M720.6 313.8h0M721.9 313.7h0M725.1 313.6h0M730.6 313.4h0M732.9 313.4h0M736.5 313.3h0M739.5 313.5h0M741.4 313.6h0M746 313.8h0M747.2 313.3h0M752.2 311.8h0M755.8 314.3h0M756.1 314.9h0M757.1 317.1h0M758.5 317.6h0M759.8 317.3h0M761.1 317h0M767.8 312.8h0M768.4 312.5h0M772 311.3h0M773.6 310.8h0M779.5 308.2h0M782.2 306.9h0M786.9 297.5h0M787.1 296.8h0M787.3 296.1h0M787.9 294.4h0M788.1 293.8h0M789.6 292.3h0M790.5 293h0M790.8 293.6h0M791 297h0M791 297.7h0M791.1 298.7h0M791.1 299.5h0M791.2 300.2h0M791.2 300.9h0M791.2 301.6h0M791.3 302.3h0M791.3 303h0M791.3 303.7h0M791.4 304.4h0M791.4 305.1h0M791.5 307.6h0M791.5 308.6h0M791.6 310.3h0M791.8 312.3h0M791.9 313h0M792.1 313.9h0M792.3 314.9h0M792.5 315.5h0M793.6 318.5h0M793.9 317.8h0M794.2 317h0M798.5 310.7h0M799.7 310.1h0M801 309.7h0M805.1 308.4h0M806.4 308.2h0M808.3 307.8h0M809.6 307.5h0M813.3 306.8h0M816.1 306.2h0M818.2 305.7h0M820.7 305.1h0M822 304.7h0M826.5 302.5h0M826.8 301.9h0M828 299.3h0M833.8 298.9h0M834.1 305.3h0M847 308.8h0M848.4 306h0M849 304.8h0M849.3 304.2h0M849.7 303.6h0M850 303h0M851 301.2h0M853.5 298.9h0M854.1 299.3h0M859.7 300.3h0M860.5 297.4h0M861.3 295.3h0M865.6 296.3h0M871 309.3h0M873.8 308h0M875 307.5h0M877.1 307.4h0M878.1 309.7h0M878.1 311.1h0M878.2 311.8h0M878.2 312.5h0M878.3 314.5h0M878.3 315.2h0M878.3 315.7h0M878.3 315h0M878.4 314.1h0M878.4 312.5h0M878.4 311.8h0M878.5 311.1h0M878.9 307.4h0M879.6 307.4h0M880.8 307.4h0M882.7 307.4h0M884 307.4h0M886.9 311.9h0M887 312.6h0M887.2 312.8h0M887.7 312.3h0M888.8 311.1h0M891.3 310.4h0M895.7 309.8h0M898.5 309.4h0M899.7 309.1h0M901 308.8h0M905.5 307.6h0M906.8 307.3h0M910.1 306.9h0M912.9 306.5h0M914.1 306.3h0M917.4 305.7h0M918.6 305.4h0M923.1 306.9h0" fill="none" stroke="#1f7be8" stroke-width="1.75" stroke-linejoin="round" stroke-linecap="round"/>
<g stroke="#4a4a4a" stroke-width=".7" fill="none">
<rect x="616.7" y="237.0" width="316.9" height="106.1"/>
<path d="M651.9 237.0v3.2M651.9 343.1v-3.2M687.1 237.0v3.2M687.1 343.1v-3.2M722.3 237.0v3.2M722.3 343.1v-3.2M757.5 237.0v3.2M757.5 343.1v-3.2M792.8 237.0v3.2M792.8 343.1v-3.2M828.0 237.0v3.2M828.0 343.1v-3.2M863.2 237.0v3.2M863.2 343.1v-3.2M898.4 237.0v3.2M898.4 343.1v-3.2M613.1 263.8h3.6M613.1 289.9h3.6M613.1 316.4h3.6M933.6 263.8h3.8M933.6 289.9h3.8M933.6 316.4h3.8"/>
</g>
<g font-family="'Liberation Sans',Arial,sans-serif" font-size="10.4" fill="#333" text-anchor="end">
<text x="611.3" y="267.5">3</text>
<text x="611.3" y="293.6">2</text>
<text x="611.3" y="320.1">1</text>
</g>
<g font-family="'Liberation Sans',Arial,sans-serif" fill="#333">
<g font-size="11" text-anchor="middle">
<text x="616.7" y="357.2">2016</text>
<text x="651.9" y="357.2">2017</text>
<text x="687.1" y="357.2">2018</text>
<text x="722.3" y="357.2">2019</text>
<text x="757.5" y="357.2">2020</text>
<text x="792.8" y="357.2">2021</text>
<text x="828.0" y="357.2">2022</text>
<text x="863.2" y="357.2">2023</text>
<text x="898.4" y="357.2">2024</text>
<text x="933.6" y="357.2">2025</text>
<text x="774.5" y="372.6">Anno</text>
</g>
<text transform="translate(593.1 193.8) rotate(-90)" font-size="10.6">b-value</text>
<text x="699" y="42.1" font-size="10.86" fill="#111">Variazioni del b-value nel tempo</text>
</g>
<rect x="0" y="421.7" width="950" height="111.3" fill="#000"/>
</svg>
</body></html>
